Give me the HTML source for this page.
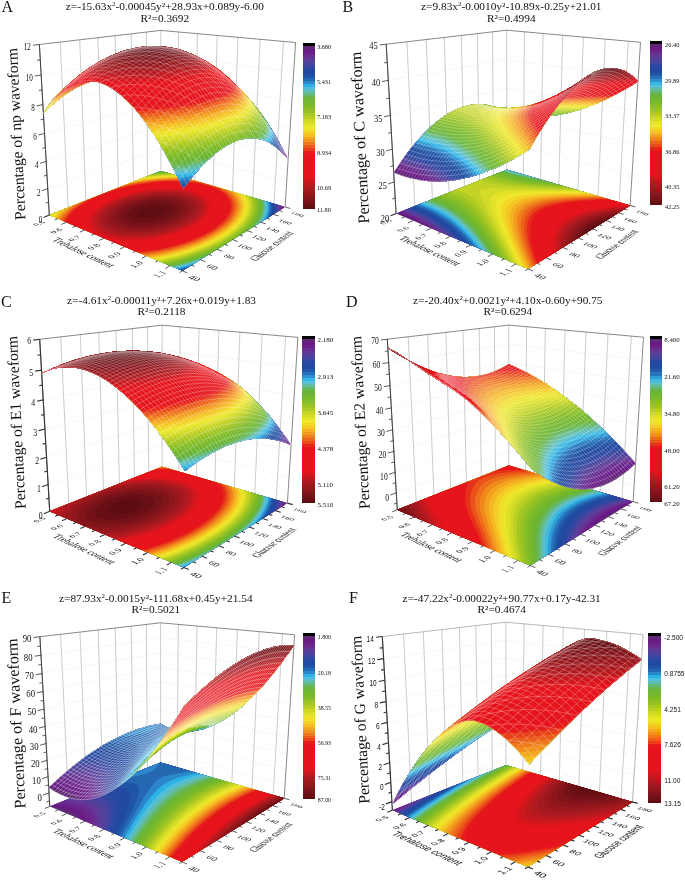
<!DOCTYPE html><html><head><meta charset="utf-8"><title>Figure</title><style>html,body{margin:0;padding:0;background:#fff}svg{display:block}text{fill:#111}.ZS{stroke:#fff;stroke-width:4;stroke-linejoin:round;stroke-linecap:round}.ZM{fill:none}.a{fill:#5f2775}.b{fill:#691b85}.c{fill:#6b238a}.d{fill:#692d8f}.e{fill:#613a97}.f{fill:#53419c}.g{fill:#4345a0}.h{fill:#3048a0}.i{fill:#2449a0}.j{fill:#204a9f}.k{fill:#2055a5}.l{fill:#2468b2}.m{fill:#2b87c9}.n{fill:#2eb2e6}.o{fill:#51beda}.p{fill:#60beb1}.q{fill:#65b977}.r{fill:#68b548}.s{fill:#6eb632}.t{fill:#75b82d}.u{fill:#7dba28}.v{fill:#8abe26}.w{fill:#99c324}.x{fill:#a7c822}.y{fill:#bacf24}.z{fill:#ccd726}.A{fill:#dbde28}.B{fill:#e9e62a}.C{fill:#f1e029}.D{fill:#f3d026}.E{fill:#f5be23}.F{fill:#f4a820}.G{fill:#f2911d}.H{fill:#ef771c}.I{fill:#ec5c1b}.J{fill:#e8411a}.K{fill:#e61b1c}.L{fill:#e6141c}.M{fill:#dc151d}.N{fill:#cc171e}.O{fill:#bc191f}.P{fill:#ae1a20}.Q{fill:#a2191f}.R{fill:#97171d}.S{fill:#8c161c}.T{fill:#80141a}.U{fill:#751217}.V{fill:#691015}.W{fill:#5e0d12}.X{fill:#5f2776}.Y{fill:#6b238b}.Z{fill:#692e90}.a1{fill:#603b97}.b1{fill:#51419c}.c1{fill:#4146a0}.d1{fill:#2d48a0}.e1{fill:#2349a0}.f1{fill:#1f4a9f}.g1{fill:#2158a7}.h1{fill:#266fb7}.i1{fill:#2c91d1}.j1{fill:#34b9e8}.k1{fill:#5cc0d4}.l1{fill:#62bda2}.m1{fill:#66b663}.n1{fill:#69b53b}.o1{fill:#70b731}.p1{fill:#78b92b}.q1{fill:#82bc27}.r1{fill:#90c025}.s1{fill:#9fc523}.t1{fill:#b0cb23}.u1{fill:#c3d325}.v1{fill:#d4db27}.w1{fill:#e3e229}.x1{fill:#efe72b}.y1{fill:#f2d727}.z1{fill:#f5c624}.A1{fill:#f4b121}.B1{fill:#f39b1e}.C1{fill:#f0801c}.D1{fill:#ed651b}.E1{fill:#e94a1a}.F1{fill:#e7261b}.G1{fill:#de151d}.H1{fill:#ce171e}.I1{fill:#be181f}.J1{fill:#a3191f}.K1{fill:#741217}.L1{fill:#680f15}.M1{fill:#5d0d12}.N1{fill:#6a1a86}.O1{fill:#6b248b}.P1{fill:#682f91}.Q1{fill:#5f3d98}.R1{fill:#4f429d}.S1{fill:#3e46a0}.T1{fill:#2b48a0}.U1{fill:#2249a0}.V1{fill:#1f4ba0}.W1{fill:#215ca9}.X1{fill:#2775bc}.Y1{fill:#2d9dd8}.Z1{fill:#3fbbe2}.a2{fill:#5ebfc5}.b2{fill:#63bb8e}.c2{fill:#67b654}.d2{fill:#6cb534}.e2{fill:#73b72f}.f2{fill:#7bba29}.g2{fill:#88be26}.h2{fill:#97c224}.i2{fill:#a6c722}.j2{fill:#b9cf24}.k2{fill:#dcdf28}.l2{fill:#eae72a}.m2{fill:#f1de29}.n2{fill:#f4cd26}.o2{fill:#f4b922}.p2{fill:#f3a31f}.q2{fill:#f18a1d}.r2{fill:#ee6f1b}.s2{fill:#ea521a}.t2{fill:#e7321b}.u2{fill:#e0151c}.v2{fill:#cf171e}.w2{fill:#bf181f}.x2{fill:#af1a20}</style></head><body><svg width="685" height="880" viewBox="0 0 685 880"><g id="pA">
<path d="M68.2,207.6 L60.2,42 M85.9,200.6 L79.7,39.8 M102.7,194 L97.9,37.7 M118.4,187.7 L115.1,35.7 M133.4,181.8 L131.2,33.8 M147.5,176.2 L146.4,32.1 M160.9,170.9 L160.8,30.4 M177.5,175.7 L178.6,32 M194.9,180.8 L197.4,33.7 M213.2,186.1 L217.2,35.5 M232.5,191.7 L238,37.4 M252.7,197.5 L260.1,39.3 M274,203.7 L283.4,41.4" stroke="#b4b4b4" stroke-width="0.7" fill="none"/>
<path d="M47.8,188.6 L160.8,148.8 L286.7,181.3 M46.2,161.4 L160.8,126.2 L288.4,155.1 M44.6,133.4 L160.8,103.1 L290.1,128.1 M42.9,104.6 L160.8,79.4 L291.9,100.4 M41.2,75 L160.8,55.2 L293.7,71.8" stroke="#e4e4e4" stroke-width="0.6" stroke-dasharray="2,2" fill="none"/>
<path d="M49.3,215.1 L39.4,44.5 L160.8,30.4 L295.6,42.5 L285.1,206.9" stroke="#555" stroke-width="0.7" fill="none"/>
<path d="M49.3,215.1 L182.4,270.8 L285.1,206.9 L160.9,170.9 Z" fill="#5f2775"/>
<g transform="scale(0.1)" fill-rule="evenodd"><path d="M493,2151l1331,557 1014,-631 0,-11-1229,-357z" fill="#691b85"/><path d="M493,2151l1331,557 1002,-623 0,-17 0,-6-1217,-353z" fill="#6b238a"/><path d="M493,2151l1331,557 990,-615 0,-28 0,-6-1205,-350z" fill="#692d8f"/><path d="M493,2151l1331,557 977,-607 1,-34-1,-12-1192,-346z" fill="#613a97"/><path d="M493,2151l1331,557 963,-599 3,-45-1,-13-1180,-342z" fill="#53419c"/><path d="M493,2151l1331,557 949,-590 4,-27 0,-31-1,-12-1167,-339z" fill="#4345a0"/><path d="M493,2151l1331,557 934,-581 6,-33 1,-31-2,-19-1154,-335z" fill="#3048a0"/><path d="M493,2151l1331,557 919,-571 8,-39 1,-34-2,-24-1141,-331z" fill="#2449a0"/><path d="M493,2151l1331,557 903,-561 10,-42 2,-44-2,-25-1128,-327z" fill="#204a9f"/><path d="M493,2151l1324,555 20,-6 873,-543 13,-50 3,-48-3,-27-1114,-323z" fill="#2055a5"/><path d="M493,2151l1311,549 59,-16 829,-516 10,-28 7,-28 4,-27 0,-25-3,-32-1101,-319z" fill="#2468b2"/><path d="M493,2151l1297,543 101,-27 782,-487 13,-31 8,-27 5,-29 1,-31-4,-38-1087,-315z" fill="#2b87c9"/><path d="M493,2151l1284,538 143,-41 732,-455 16,-32 11,-35 6,-32 2,-36-6,-38-1072,-311z" fill="#2eb2e6"/><path d="M493,2151l1270,532 97,-26 91,-28 679,-422 19,-36 16,-42 7,-37 1,-34-6,-42-1058,-307z" fill="#51beda"/><path d="M493,2151l1256,526 113,-30 123,-39 620,-386 26,-43 16,-40 10,-39 2,-44-7,-44-1043,-303z" fill="#60beb1"/><path d="M493,2151l1241,520 145,-39 142,-46 557,-347 31,-46 22,-48 12,-47 2,-44-8,-47-1027,-297z" fill="#65b977"/><path d="M493,2151l1227,514 176,-47 86,-28 79,-29 485,-302 39,-52 28,-54 15,-49 3,-50-3,-25-6,-26-1000,-290-28,2z" fill="#68b548"/><path d="M493,2151l1212,508 109,-27 98,-29 98,-33 97,-37 402,-251 48,-56 19,-29 16,-30 11,-24 9,-31 5,-30 0,-26-4,-32-7,-26-972,-281-54,4z" fill="#6eb632"/><path d="M493,2151l1198,502 116,-29 120,-36 109,-38 98,-40 30,-13 296,-185 61,-61 23,-29 23,-35 15,-31 13,-35 6,-31 2,-32-4,-32-10,-32-942,-274-81,6z" fill="#75b82d"/><path d="M493,2151l1183,495 100,-24 108,-30 99,-32 90,-34 82,-36 85,-42 137,-84 48,-37 45,-39 38,-41 27,-35 25,-41 16,-36 9,-37 3,-42-4,-34-11,-33-913,-265-109,8z" fill="#7dba28"/><path d="M493,2151l1167,489 102,-24 93,-25 87,-27 80,-29 86,-35 78,-36 71,-36 63,-38 57,-39 56,-45 42,-40 38,-46 28,-42 19,-42 11,-42 2,-39-5,-38-12,-33-883,-256-137,10z" fill="#8abe26"/><path d="M493,2151l1152,483 90,-21 91,-24 88,-26 94,-33 87,-35 78,-35 71,-37 63,-38 57,-38 56,-45 42,-40 34,-41 28,-41 21,-46 10,-39 3,-42-6,-37-14,-37-851,-247-14,1-153,11z" fill="#99c324"/><path d="M493,2151l1136,476 97,-21 85,-22 89,-27 95,-32 86,-35 79,-35 71,-37 63,-37 57,-39 56,-45 41,-39 35,-41 27,-41 20,-42 10,-40 3,-41-7,-39-16,-41-818,-237-32,2-166,13z" fill="#a7c822"/><path d="M493,2151l1120,469 87,-18 96,-24 89,-27 91,-30 80,-31 79,-35 73,-36 64,-38 58,-38 57,-44 43,-40 35,-40 28,-42 20,-42 12,-42 2,-38-2,-23-6,-23-18,-41-784,-227-49,2-90,5-92,10z" fill="#bacf24"/><path d="M493,2151l1104,462 104,-22 85,-21 85,-24 95,-32 76,-29 80,-35 72,-36 65,-37 58,-38 57,-45 42,-40 35,-40 28,-41 20,-42 10,-40 2,-41-9,-45-21,-43-748,-217-66,3-93,6-106,11z" fill="#ccd726"/><path d="M500,2154l1080,452 105,-21 93,-23 92,-27 82,-27 76,-28 80,-35 73,-36 65,-37 57,-38 57,-44 43,-40 34,-40 28,-42 19,-41 9,-38 2,-37-2,-22-7,-25-10,-23-15,-26-711,-206-97,3-106,8-98,11-942,373z" fill="#dbde28"/><path d="M535,2134l-23,25 1051,440 97,-19 90,-21 91,-25 83,-27 85,-31 74,-31 74,-36 66,-37 59,-37 58,-44 43,-40 36,-40 28,-41 20,-42 10,-39 2,-36-3,-26-8,-27-13,-26-16,-24-671,-195-112,3-114,9-113,13z" fill="#e9e62a"/><path d="M565,2123l-40,41 1020,428 90,-17 91,-21 85,-22 85,-26 78,-28 83,-34 76,-35 67,-36 60,-38 59,-44 44,-39 37,-40 29,-41 18,-36 13,-43 2,-38-3,-26-10,-32-15,-29-18,-24-629,-182-137,3-118,9-124,16z" fill="#f1e029"/><path d="M538,2170l989,414 91,-16 100,-22 81,-21 89,-27 84,-30 71,-29 75,-35 68,-36 60,-38 56,-40 47,-43 36,-40 29,-41 20,-42 10,-37 1,-38-5,-29-11,-31-17,-28-20,-25-584,-169-93,0-89,4-120,10-121,17-790,312-27,26z" fill="#f3d026"/><path d="M587,2135l-36,40 958,401 102,-17 90,-20 93,-24 85,-25 78,-28 83,-33 64,-30 68,-36 60,-37 52,-39 45,-39 37,-40 29,-41 21,-41 10,-39 2,-37-5,-30-12,-31-17,-29-28,-31-535,-155-99,-2-114,5-128,12-130,19-732,290z" fill="#f5be23"/><path d="M565,2181l925,388 92,-15 93,-19 88,-22 86,-25 81,-27 83,-33 76,-35 68,-35 60,-37 53,-39 44,-39 37,-40 29,-40 19,-40 10,-40 1,-37-7,-34-13,-30-24,-33-29,-29-482,-139-121,-3-141,6-130,14-131,21-669,265-57,50z" fill="#f4a820"/><path d="M607,2153l-27,34 890,373 94,-14 86,-17 95,-22 88,-25 80,-27 77,-29 74,-33 69,-36 61,-36 54,-38 45,-39 38,-40 30,-41 19,-40 11,-39 1,-37-7,-35-18,-37-25,-31-37,-33-421,-122-72,-4-76,-1-141,6-145,15-148,26-601,238-66,55z" fill="#f2911d"/><path d="M627,2152l-31,42 854,358 88,-13 96,-17 95,-22 88,-25 80,-26 86,-32 66,-30 69,-35 61,-36 54,-38 45,-39 38,-40 29,-41 17,-36 10,-37 2,-38-10,-41-20,-37-32,-36-44,-33-351,-101-76,-6-88,-3-84,2-92,5-157,19-153,29-523,207-45,32-41,36z" fill="#ef771c"/><path d="M612,2201l817,342 97,-13 88,-16 88,-19 84,-22 86,-27 83,-30 68,-29 70,-35 63,-37 54,-37 47,-39 38,-39 30,-41 18,-36 10,-37 2,-38-5,-26-8,-23-12,-22-15,-19-20,-21-22,-18-51,-32-262,-76-25,-3-93,-8-89,-3-99,2-93,6-84,9-83,12-91,17-78,18-432,171-59,40-49,41-43,45z" fill="#ec5c1b"/><path d="M647,2178l-18,30 778,326 98,-12 90,-15 83,-18 91,-23 82,-25 76,-27 77,-32 64,-31 64,-36 55,-37 48,-38 39,-40 30,-40 19,-36 11,-38 2,-38-6,-27-11,-29-15,-22-20,-23-24,-21-36,-24-34,-19-41,-17-121,-35-69,-12-76,-9-77,-5-84,-2-82,3-81,5-94,11-99,16-97,19-88,23-326,128-71,43-66,49-50,50z" fill="#e8411a"/><path d="M668,2177l-21,38 737,309 21,-2 80,-9 91,-14 88,-18 87,-22 83,-24 76,-27 70,-28 72,-34 55,-31 57,-37 48,-38 40,-39 32,-41 19,-36 11,-37 2,-39-6,-27-12,-29-17,-25-29,-29-34,-25-39,-22-43,-19-47,-16-63,-17-56,-11-62,-8-66,-6-136,-4-80,3-76,6-156,20-78,15-79,18-76,21-72,23-132,51-55,26-50,28-48,29-44,33-35,29-33,34z" fill="#e61b1c"/><path d="M685,2184l-19,39 694,291 63,-5 82,-10 92,-16 90,-19 75,-20 81,-25 74,-26 68,-29 60,-29 55,-31 55,-37 47,-38 34,-34 28,-37 21,-40 10,-37 0,-33-5,-27-13,-29-22,-30-23,-22-35,-25-39,-22-44,-18-48,-16-53,-14-57,-11-62,-8-67,-6-138,-3-152,10-146,20-153,32-137,41-124,48-62,30-51,28-47,29-44,33-36,32-27,29z" fill="#e6141c"/><path d="M703,2192l-16,40 648,272 105,-9 76,-10 82,-14 86,-18 73,-20 81,-25 74,-26 66,-29 60,-29 53,-31 54,-36 40,-34 33,-34 27,-34 19,-36 10,-37 1,-34-7,-29-13,-27-21,-28-23,-22-35,-25-40,-21-45,-18-49,-16-54,-13-58,-10-63,-8-70,-5-76,-2-67,2-138,10-148,22-139,31-135,42-68,26-55,24-61,31-49,28-45,31-35,28-33,31-27,33z" fill="#e6141c"/><path d="M709,2241l599,251 88,-5 79,-8 73,-11 85,-16 77,-18 71,-20 65,-21 71,-27 65,-29 58,-29 51,-31 45,-32 38,-33 32,-34 21,-31 17,-35 8,-31 1,-36-6,-24-15,-30-19,-25-31,-27-31,-21-38,-19-45,-18-51,-15-54,-13-60,-9-65,-7-71,-4-133,1-148,13-140,23-70,15-77,21-73,23-59,21-109,48-51,28-47,30-44,32-33,29-29,32-20,28-15,31z" fill="#e6141c"/><path d="M741,2211l-8,41 546,228 101,-4 104,-11 77,-12 76,-15 138,-35 73,-24 63,-24 53,-24 58,-30 51,-30 43,-31 36,-30 30,-33 25,-35 15,-30 8,-31 1,-33-7,-28-13,-26-20,-25-24,-22-31,-22-38,-19-45,-18-50,-15-55,-13-60,-10-124,-10-132,1-143,13-140,23-136,33-63,20-69,25-110,48-50,28-47,30-36,27-33,29-28,32-22,33z" fill="#e6141c"/><path d="M763,2227l-2,36 486,204 117,-3 139,-14 139,-25 72,-18 68,-20 121,-44 53,-23 57,-30 50,-31 37,-26 38,-33 26,-29 20,-29 15,-30 9,-33 0,-32-8,-29-16,-28-21,-24-26,-21-29,-19-42,-20-38,-14-51,-15-56,-12-53,-8-63,-6-64,-3-76,0-68,3-136,14-145,27-132,36-118,43-55,24-51,27-48,29-37,26-34,29-30,31-24,31-16,31z" fill="#e6141c"/><path d="M788,2241l4,35 418,175 78,2 78,-3 74,-6 93,-12 81,-15 64,-14 123,-36 61,-22 55,-23 50,-24 45,-25 48,-31 34,-27 30,-27 25,-29 18,-29 11,-26 7,-31-1,-27-8,-25-15,-28-21,-24-26,-21-31,-19-42,-20-38,-13-52,-14-58,-12-51,-6-68,-6-62,-2-125,4-143,16-135,27-131,36-60,22-56,23-54,25-50,28-39,25-37,29-31,27-27,33-18,28-13,31z" fill="#e6141c"/><path d="M825,2280l5,12 337,141 86,5 96,-1 103,-8 109,-15 125,-27 120,-36 102,-40 49,-24 44,-25 40,-26 34,-27 29,-28 24,-29 18,-29 9,-25 5,-26-2,-27-9,-28-15,-25-25,-25-27,-20-32,-18-44,-19-50,-15-45,-11-60,-9-54,-6-122,-4-132,7-133,18-131,29-65,19-61,21-58,22-54,25-43,23-47,29-37,26-33,29-22,25-23,33-13,30-6,27 1,25z" fill="#e6141c"/><path d="M869,2299l13,15 229,96 35,5 107,8 108,-1 119,-10 123,-20 117,-28 102,-33 96,-42 80,-44 30,-21 33,-27 28,-29 21,-27 13,-26 9,-25 2,-20-2,-27-8,-23-17,-26-23,-23-27,-20-32,-18-46,-18-41,-12-56,-13-62,-9-56,-5-61,-2-67,1-127,10-132,21-126,31-63,20-59,22-55,24-43,22-49,29-36,26-34,28-28,32-19,27-13,30-5,27 1,24 7,25z" fill="#e6141c"/><path d="M941,2329l27,16 30,14 71,24 88,16 87,8 100,1 110,-7 107,-15 109,-23 94,-27 93,-35 78,-38 72,-47 50,-43 19,-23 15,-24 9,-19 6,-25 1,-20-3,-21-9,-23-19,-26-24,-22-30,-19-33,-17-48,-17-54,-14-48,-8-52,-6-62,-4-61,-1-72,3-133,14-63,11-72,16-119,34-59,23-56,24-51,27-39,24-36,27-32,29-22,25-19,31-11,29-3,26 5,29 11,24 21,26z" fill="#dc151d"/><path d="M991,2330l56,25 78,21 77,11 86,6 94,-2 99,-8 103,-16 90,-21 92,-27 90,-35 67,-34 63,-41 43,-38 20,-23 13,-21 10,-21 6,-19 1,-20-3,-22-8,-23-19,-25-24,-22-30,-19-34,-16-39,-14-54,-14-49,-8-53,-6-69,-4-58,1-68,3-130,16-63,12-66,15-59,17-61,21-57,24-45,21-49,28-37,25-34,29-23,24-19,27-13,29-5,27 1,24 9,25 16,25 26,24z" fill="#cc171e"/><path d="M1001,2305l23,14 30,14 59,19 71,15 85,8 98,1 93,-6 97,-14 92,-19 93,-27 81,-30 68,-33 65,-40 44,-38 15,-18 17,-23 9,-19 7,-22 2,-19-3,-18-8,-23-18,-25-22,-20-25,-16-34,-17-38,-13-44,-12-48,-9-96,-9-119,1-118,12-66,11-61,13-110,32-59,22-46,21-43,22-39,24-36,27-25,23-22,25-16,28-8,23-3,25 4,23 10,22 20,25z" fill="#bc191f"/><path d="M1024,2286l21,14 28,14 57,20 69,15 74,8 87,2 90,-5 79,-9 95,-18 81,-22 83,-29 71,-32 66,-40 45,-38 28,-35 10,-18 7,-19 3,-20-2,-21-7,-19-13,-20-19,-19-25,-18-25,-13-37,-15-42,-12-48,-9-96,-10-109,0-108,11-116,21-101,28-98,38-76,41-37,25-26,23-23,24-15,22-10,21-6,27 2,25 8,22 14,20z" fill="#ae1a20"/><path d="M1103,2299l46,17 68,15 64,8 75,2 82,-3 82,-9 88,-16 70,-18 73,-24 63,-27 54,-29 45,-31 36,-33 24,-35 10,-33 0,-18-3,-16-10,-21-16,-19-19,-16-32,-18-27,-11-41,-13-85,-16-100,-5-105,4-113,16-108,25-53,17-50,19-79,39-60,41-25,23-20,25-13,24-6,20-1,24 7,23 12,20 18,19 23,16z" fill="#a2191f"/><path d="M1096,2259l43,25 44,16 69,14 66,7 77,1 68,-4 80,-11 78,-16 79,-22 67,-25 58,-28 47,-31 38,-32 26,-35 10,-32-1,-29-6,-15-13,-19-18,-17-22,-14-55,-23-69,-16-83,-9-85,0-108,11-92,17-90,25-79,30-68,36-29,21-27,22-21,25-13,20-7,21-3,18 3,19 8,18 11,16z" fill="#97171d"/><path d="M1148,2252l38,19 47,15 57,10 51,4 72,1 60,-4 69,-9 74,-16 65,-18 67,-25 47,-24 47,-30 31,-27 22,-29 6,-13 5,-19-2,-27-8,-19-13,-14-18,-15-17,-11-26,-12-30,-10-72,-14-79,-6-87,3-79,9-89,18-77,24-77,32-56,33-28,22-16,16-11,14-12,20-6,19-1,21 6,19 8,14 11,13z" fill="#8c161c"/><path d="M1186,2231l30,17 45,15 40,9 50,5 53,2 65,-3 65,-9 60,-11 53,-14 58,-21 49,-22 41,-25 33,-27 19,-23 12,-25 2,-13 0,-15-5,-14-8,-13-17,-17-15,-10-46,-20-58,-13-71,-7-71,1-75,7-79,15-69,19-69,27-52,29-27,19-17,16-12,14-12,20-5,14-2,16 2,15 6,14 10,13z" fill="#80141a"/><path d="M1251,2221l32,14 37,9 45,6 37,3 57,-2 48,-4 58,-10 43,-10 48,-15 42,-17 36,-19 30,-20 24,-22 16,-24 5,-20-2,-18-6,-14-11,-12-29,-20-39,-15-49,-9-59,-5-75,3-60,7-64,14-55,17-58,24-47,29-30,29-15,27-3,15 1,11 5,14 10,13z" fill="#751217"/><path d="M1293,2186l24,15 21,8 38,8 31,4 79,-1 42,-5 43,-9 72,-23 29,-13 32,-20 19,-16 14,-17 6,-13 1,-19-4,-11-6,-9-21,-16-27,-12-35,-9-42,-5-53,0-43,4-54,9-47,13-42,15-43,22-26,20-20,25-5,20 2,15z" fill="#691015"/><path d="M1377,2151l9,9 17,9 39,8 52,1 48,-7 48,-14 35,-19 14,-11 9,-11 4,-12-1,-9-6,-10-10,-8-18,-8-23,-6-48,-3-60,7-47,14-28,12-15,10-13,11-8,13-3,13z" fill="#5e0d12"/></g>
<path d="M49.3,215.1 L44.2,217.1 M57.8,218.7 L54.7,219.9 M66.5,222.3 L61.4,224.4 M75.5,226.1 L72.5,227.4 M84.7,229.9 L79.7,232.2 M94.3,233.9 L91.3,235.3 M104.1,238.1 L99.1,240.4 M114.2,242.3 L111.3,243.8 M124.7,246.7 L119.8,249.2 M135.5,251.2 L132.6,252.7 M146.6,255.9 L141.8,258.5 M158.1,260.7 L155.3,262.3 M170.1,265.7 L165.3,268.5 M182.4,270.8 L179.6,272.6 M182.4,270.8 L187.4,273 M191.5,265.1 L194.6,266.4 M200.3,259.7 L205.5,261.7 M208.8,254.4 L211.9,255.6 M217,249.3 L222.2,251.2 M224.9,244.4 L228,245.5 M232.5,239.6 L237.7,241.5 M239.9,235.1 L243,236.1 M247,230.6 L252.2,232.4 M253.9,226.4 L257,227.4 M260.5,222.2 L265.8,223.9 M267,218.2 L270.1,219.2 M273.2,214.3 L278.5,215.9 M279.3,210.6 L282.4,211.5 M285.1,206.9 L290.4,208.5 M49.3,215.1 L43.4,217.5 M48.6,201.9 L45.6,203.1 M47.8,188.6 L41.7,190.7 M47,175.1 L43.9,176.1 M46.2,161.4 L40.1,163.3 M45.4,147.5 L42.3,148.4 M44.6,133.4 L38.4,135 M43.7,119.1 L40.6,119.8 M42.9,104.6 L36.6,105.9 M42,89.9 L38.9,90.5 M41.2,75 L34.8,76 M40.3,59.8 L37.1,60.3 M39.4,44.5 L33,45.2" stroke="#333" stroke-width="0.8" fill="none"/>
<path d="M49.3,215.1 L39.4,44.5" stroke="#333" stroke-width="0.8" fill="none"/>
<g transform="scale(0.1)" fill-rule="evenodd"><path class=a d="M1472,465l3,-3 127,0 3,3 60,3 3,4 40,3 4,3 13,0 17,7 40,7 13,6 10,0 70,24 50,23 7,0 116,60 70,43 117,87 73,63 134,134 140,166 73,100 73,114 7,16 37,57 40,77 6,6 0,7 7,7 23,50 7,6 27,57-34,-40-86,-83-54,-37-53,-27-7,0-30,-13-40,-7-3,-3-17,0-3,-3-80,0-3,3-20,0-4,3-43,7-40,13-10,7-7,0-16,10-7,0-63,33-84,57-56,47-37,36-3,0-74,74-30,36-6,4-84,100-6,13-37,43-7,14-6,3-97,-200-7,-7-70,-136-40,-64-20,-40-30,-43-6,-17-114,-166-106,-134-60,-63-20,-17-4,-6-86,-74-37,-23-10,-10-33,-17-7,-6-73,-34-30,-6-14,-7-13,0-3,-3-30,0-77,26-97,47-113,73-97,77-103,97 47,-74 46,-60 100,-103 137,-120 73,-57 77,-53 10,-3 60,-40 80,-40 7,-7 6,0 37,-20 7,0 16,-10 7,0 43,-20 80,-27 64,-13 3,-3 30,-4 3,-3 17,0 3,-3 20,0 4,-4 23,0 3,-3z"/><path class=b d="M1472,465l3,-3 127,0 3,3 33,0 4,3 23,0 3,4 20,0 4,3 33,3 3,4 27,3 3,3 10,0 27,10 20,4 60,20 27,13 6,0 117,57 7,6 16,7 50,33 10,4 94,66 106,90 134,134 140,166 73,100 73,114 7,16 37,57 40,77 6,6 0,7 7,7 23,50 7,6 13,27 3,13-3,3-20,-26-86,-83-54,-37-70,-33-30,-7-3,-3-10,0-3,-4-34,-3-3,-3-80,0-3,3-20,0-4,3-43,7-40,13-10,7-7,0-16,10-7,0-63,33-84,57-56,47-37,36-3,0-74,74-30,36-6,4-84,100-6,13-37,43-7,14-6,3-97,-200-7,-7-70,-136-40,-64-20,-40-30,-43-6,-17-114,-166-106,-134-60,-63-20,-17-4,-6-86,-74-37,-23-10,-10-33,-17-7,-6-73,-34-30,-6-14,-7-13,0-3,-3-30,0-77,26-97,47-113,73-97,77-103,97 47,-74 46,-60 100,-103 137,-120 73,-57 77,-53 10,-3 60,-40 80,-40 7,-7 6,0 37,-20 7,0 16,-10 7,0 43,-20 80,-27 64,-13 3,-3 30,-4 3,-3 17,0 3,-3 20,0 4,-4 23,0 3,-3z"/><path class=c d="M1472,465l3,-3 127,0 3,3 33,0 4,3 23,0 3,4 20,0 4,3 33,3 3,4 27,3 3,3 10,0 27,10 20,4 60,20 27,13 6,0 117,57 7,6 16,7 50,33 10,4 94,66 106,90 134,134 140,166 73,100 23,40 10,10 4,10 20,27 43,77 17,23 40,77 6,6 0,7 7,7 23,50 10,13 0,23-76,-80-20,-16-54,-37-70,-33-30,-7-3,-3-10,0-3,-4-34,-3-3,-3-80,0-3,3-20,0-4,3-43,7-40,13-10,7-7,0-16,10-7,0-63,33-84,57-56,47-37,36-3,0-74,74-30,36-6,4-84,100-6,13-37,43-7,14-6,3-97,-200-7,-7-70,-136-40,-64-20,-40-30,-43-6,-17-114,-166-106,-134-60,-63-20,-17-4,-6-86,-74-37,-23-10,-10-33,-17-7,-6-73,-34-30,-6-14,-7-13,0-3,-3-30,0-77,26-97,47-113,73-97,77-103,97 47,-74 46,-60 100,-103 137,-120 73,-57 77,-53 10,-3 60,-40 80,-40 7,-7 6,0 37,-20 7,0 16,-10 7,0 43,-20 80,-27 64,-13 3,-3 30,-4 3,-3 17,0 3,-3 20,0 4,-4 23,0 3,-3z"/><path class=d d="M1472,465l3,-3 127,0 3,3 33,0 4,3 23,0 3,4 20,0 4,3 33,3 3,4 27,3 3,3 10,0 27,10 20,4 60,20 27,13 6,0 117,57 7,6 16,7 50,33 10,4 94,66 106,90 134,134 140,166 73,100 23,40 10,10 4,10 20,27 43,77 17,23 76,143 0,27-66,-67-34,-26-40,-27-70,-33-30,-7-3,-3-10,0-3,-4-34,-3-3,-3-80,0-3,3-20,0-4,3-43,7-40,13-10,7-7,0-16,10-7,0-63,33-84,57-56,47-37,36-3,0-74,74-30,36-6,4-84,100-6,13-37,43-7,14-6,3-97,-200-7,-7-70,-136-40,-64-20,-40-30,-43-6,-17-114,-166-106,-134-60,-63-20,-17-4,-6-86,-74-37,-23-10,-10-33,-17-7,-6-73,-34-30,-6-14,-7-13,0-3,-3-30,0-77,26-97,47-113,73-97,77-103,97 47,-74 46,-60 100,-103 137,-120 73,-57 77,-53 10,-3 60,-40 80,-40 7,-7 6,0 37,-20 7,0 16,-10 7,0 43,-20 80,-27 64,-13 3,-3 30,-4 3,-3 17,0 3,-3 20,0 4,-4 23,0 3,-3z"/><path class=e d="M1472,465l3,-3 127,0 3,3 33,0 4,3 23,0 3,4 20,0 4,3 33,3 3,4 27,3 3,3 10,0 27,10 20,4 60,20 27,13 6,0 117,57 7,6 16,7 50,33 10,4 94,66 106,90 134,134 140,166 73,100 23,40 10,10 4,10 20,27 43,77 17,23 63,117 3,16-3,23-53,-53-34,-26-40,-27-53,-27-7,0-30,-13-40,-7-3,-3-17,0-3,-3-80,0-3,3-20,0-20,7-14,0-53,16-33,17-7,0-63,33-84,57-56,47-37,36-3,0-74,74-30,36-6,4-84,100-6,13-37,43-7,14-6,3-97,-200-7,-7-70,-136-40,-64-20,-40-30,-43-6,-17-114,-166-106,-134-60,-63-20,-17-4,-6-86,-74-37,-23-10,-10-33,-17-7,-6-73,-34-30,-6-14,-7-13,0-3,-3-30,0-77,26-97,47-113,73-97,77-103,97 47,-74 46,-60 100,-103 137,-120 73,-57 77,-53 10,-3 60,-40 80,-40 7,-7 6,0 37,-20 7,0 16,-10 7,0 43,-20 80,-27 64,-13 3,-3 30,-4 3,-3 17,0 3,-3 20,0 4,-4 23,0 3,-3z"/><path class=f d="M1472,465l3,-3 127,0 3,3 33,0 4,3 23,0 3,4 20,0 4,3 33,3 3,4 27,3 3,3 10,0 27,10 20,4 60,20 27,13 6,0 117,57 7,6 16,7 50,33 10,4 94,66 106,90 134,134 140,166 73,100 23,40 10,10 4,10 36,54 7,16 50,80 27,54 6,6 0,7 7,7 1,33-4,13-60,-56-54,-37-53,-27-7,0-30,-13-40,-7-3,-3-17,0-3,-3-80,0-3,3-20,0-20,7-14,0-53,16-33,17-7,0-63,33-84,57-56,47-37,36-3,0-74,74-30,36-6,4-84,100-6,13-37,43-7,14-6,3-97,-200-7,-7-70,-136-40,-64-20,-40-30,-43-6,-17-114,-166-106,-134-60,-63-20,-17-4,-6-86,-74-37,-23-10,-10-33,-17-7,-6-73,-34-30,-6-14,-7-13,0-3,-3-30,0-77,26-97,47-113,73-97,77-103,97 47,-74 46,-60 100,-103 137,-120 73,-57 77,-53 10,-3 60,-40 80,-40 7,-7 6,0 37,-20 7,0 16,-10 7,0 43,-20 80,-27 64,-13 3,-3 30,-4 3,-3 17,0 3,-3 20,0 4,-4 23,0 3,-3z"/><path class=g d="M1472,465l3,-3 127,0 3,3 33,0 4,3 23,0 3,4 20,0 4,3 33,3 3,4 27,3 3,3 10,0 27,10 20,4 60,20 27,13 6,0 117,57 7,6 16,7 50,33 10,4 94,66 106,90 134,134 140,166 73,100 23,40 10,10 4,10 20,27 43,77 17,23 23,47 7,6 10,20 2,14-1,26-4,17-47,-43-54,-37-53,-27-63,-20-34,-3-3,-3-80,0-3,3-20,0-20,7-14,0-53,16-33,17-7,0-63,33-84,57-56,47-37,36-3,0-74,74-30,36-6,4-84,100-6,13-37,43-7,14-6,3-97,-200-7,-7-70,-136-40,-64-20,-40-30,-43-6,-17-114,-166-106,-134-60,-63-20,-17-4,-6-86,-74-37,-23-10,-10-33,-17-7,-6-73,-34-30,-6-14,-7-13,0-3,-3-30,0-77,26-97,47-113,73-97,77-103,97 47,-74 46,-60 100,-103 137,-120 73,-57 77,-53 10,-3 60,-40 80,-40 7,-7 6,0 37,-20 7,0 16,-10 7,0 43,-20 80,-27 64,-13 3,-3 30,-4 3,-3 17,0 3,-3 20,0 4,-4 23,0 3,-3z"/><path class=h d="M1472,465l3,-3 127,0 3,3 33,0 4,3 23,0 3,4 20,0 4,3 33,3 3,4 27,3 3,3 10,0 27,10 20,4 60,20 27,13 6,0 117,57 7,6 16,7 50,33 10,4 94,66 106,90 134,134 86,100 94,120 90,133 89,153 2,30-7,34-34,-30-54,-37-53,-27-63,-20-34,-3-3,-3-80,0-3,3-20,0-20,7-14,0-53,16-33,17-7,0-63,33-84,57-56,47-37,36-3,0-74,74-30,36-6,4-84,100-6,13-37,43-7,14-6,3-97,-200-7,-7-70,-136-40,-64-20,-40-30,-43-6,-17-114,-166-106,-134-60,-63-20,-17-4,-6-86,-74-37,-23-10,-10-33,-17-7,-6-73,-34-30,-6-14,-7-13,0-3,-3-30,0-77,26-97,47-113,73-97,77-103,97 47,-74 46,-60 100,-103 137,-120 73,-57 77,-53 10,-3 60,-40 80,-40 7,-7 6,0 37,-20 7,0 16,-10 7,0 43,-20 80,-27 64,-13 3,-3 30,-4 3,-3 17,0 3,-3 20,0 4,-4 23,0 3,-3z"/><path class=i d="M1472,465l3,-3 127,0 3,3 33,0 4,3 23,0 3,4 20,0 4,3 33,3 3,4 27,3 3,3 10,0 27,10 20,4 60,20 27,13 6,0 117,57 7,6 16,7 50,33 10,4 94,66 106,90 134,134 86,100 94,120 90,133 3,10 13,17 7,16 53,87 2,33-8,41-74,-54-70,-33-30,-7-3,-3-10,0-3,-4-14,0-3,-3-17,0-3,-3-80,0-3,3-20,0-4,3-43,7-40,13-10,7-7,0-63,30-60,40-10,3-93,74-37,36-3,0-74,74-30,36-6,4-84,100-6,13-37,43-7,14-6,3-97,-200-7,-7-70,-136-40,-64-20,-40-30,-43-6,-17-114,-166-106,-134-60,-63-20,-17-4,-6-86,-74-37,-23-10,-10-33,-17-7,-6-73,-34-30,-6-14,-7-13,0-3,-3-30,0-77,26-97,47-113,73-97,77-103,97 47,-74 46,-60 100,-103 137,-120 73,-57 77,-53 10,-3 60,-40 80,-40 7,-7 6,0 37,-20 7,0 16,-10 7,0 43,-20 80,-27 64,-13 3,-3 30,-4 3,-3 17,0 3,-3 20,0 4,-4 23,0 3,-3z"/><path class=j d="M1472,465l3,-3 127,0 3,3 33,0 4,3 23,0 3,4 20,0 4,3 33,3 3,4 27,3 3,3 10,0 27,10 20,4 60,20 27,13 6,0 117,57 7,6 16,7 50,33 10,4 94,66 106,90 134,134 86,100 94,120 53,76 3,10 10,10 4,10 36,54 7,16 40,64 3,40-11,45-59,-42-53,-27-7,0-30,-13-40,-7-3,-3-17,0-3,-3-80,0-3,3-20,0-4,3-43,7-40,13-10,7-7,0-16,10-7,0-63,33-37,27-10,3-53,40-80,70-74,74-30,36-6,4-84,100-6,13-37,43-7,14-6,3-97,-200-7,-7-70,-136-40,-64-20,-40-30,-43-6,-17-114,-166-106,-134-60,-63-20,-17-4,-6-86,-74-37,-23-10,-10-33,-17-7,-6-73,-34-30,-6-14,-7-13,0-3,-3-30,0-77,26-97,47-113,73-97,77-103,97 47,-74 46,-60 100,-103 137,-120 73,-57 77,-53 10,-3 60,-40 80,-40 7,-7 6,0 37,-20 7,0 16,-10 7,0 43,-20 80,-27 64,-13 3,-3 30,-4 3,-3 17,0 3,-3 20,0 4,-4 23,0 3,-3z"/><path class=k d="M1472,465l3,-3 127,0 3,3 33,0 4,3 23,0 3,4 20,0 4,3 33,3 3,4 27,3 3,3 10,0 27,10 20,4 60,20 27,13 6,0 117,57 7,6 16,7 50,33 10,4 94,66 106,90 134,134 86,100 94,120 53,76 3,10 10,10 4,10 20,27 43,77 7,6 4,40-5,27-10,29-43,-29-53,-27-7,0-30,-13-40,-7-3,-3-17,0-3,-3-80,0-3,3-20,0-4,3-43,7-40,13-10,7-7,0-16,10-7,0-63,33-37,27-10,3-93,74-37,36-3,0-74,74-30,36-6,4-84,100-6,13-37,44-20,3-20,-40 0,-7-70,-140-7,-7-70,-136-40,-64-20,-40-30,-43-6,-17-114,-166-106,-134-60,-63-20,-17-4,-6-86,-74-37,-23-10,-10-33,-17-7,-6-73,-34-30,-6-14,-7-13,0-3,-3-30,0-77,26-97,47-113,73-97,77-103,97 47,-74 46,-60 100,-103 137,-120 73,-57 77,-53 10,-3 60,-40 80,-40 7,-7 6,0 37,-20 7,0 16,-10 7,0 43,-20 80,-27 64,-13 3,-3 30,-4 3,-3 17,0 3,-3 20,0 4,-4 23,0 3,-3z"/><path class=l d="M1472,465l3,-3 127,0 3,3 33,0 4,3 23,0 3,4 20,0 4,3 33,3 3,4 27,3 3,3 10,0 27,10 20,4 60,20 27,13 6,0 117,57 7,6 16,7 50,33 10,4 94,66 106,90 134,134 126,150 87,116 95,152 4,25-2,27-7,23-13,27-24,-17-70,-33-30,-7-3,-3-10,0-3,-4-34,-3-3,-3-80,0-3,3-20,0-4,3-43,7-40,13-10,7-7,0-63,30-60,40-10,3-93,74-37,36-3,0-74,74-30,36-6,4-84,100-12,19-64,13-77,-159-7,-7-70,-136-40,-64-20,-40-30,-43-6,-17-114,-166-106,-134-60,-63-20,-17-4,-6-86,-74-37,-23-10,-10-33,-17-7,-6-73,-34-30,-6-14,-7-13,0-3,-3-30,0-77,26-97,47-113,73-97,77-103,97 47,-74 46,-60 100,-103 137,-120 73,-57 77,-53 10,-3 60,-40 80,-40 7,-7 6,0 37,-20 7,0 16,-10 7,0 43,-20 80,-27 64,-13 3,-3 30,-4 3,-3 17,0 3,-3 20,0 4,-4 23,0 3,-3z"/><path class=m d="M1472,465l3,-3 127,0 3,3 33,0 4,3 23,0 3,4 20,0 4,3 33,3 3,4 27,3 3,3 10,0 27,10 20,4 60,20 27,13 6,0 117,57 7,6 16,7 50,33 10,4 94,66 106,90 134,134 126,150 87,116 73,114 10,19 2,44-12,39-13,24-77,-36-30,-7-3,-3-10,0-3,-4-34,-3-3,-3-80,0-3,3-20,0-4,3-43,7-40,13-10,7-7,0-63,30-60,40-10,3-93,74-114,110 0,3-56,60-47,59-107,19-123,-241-7,-7-10,-23-16,-24-17,-33-7,-7-10,-23-40,-60-6,-17-27,-36-3,-10-84,-120-106,-134-60,-63-20,-17-4,-6-86,-74-37,-23-10,-10-33,-17-7,-6-73,-34-30,-6-14,-7-13,0-3,-3-30,0-77,26-97,47-113,73-97,77-103,97 47,-74 46,-60 100,-103 137,-120 73,-57 77,-53 10,-3 60,-40 80,-40 7,-7 6,0 37,-20 7,0 16,-10 7,0 43,-20 80,-27 64,-13 3,-3 30,-4 3,-3 17,0 3,-3 20,0 4,-4 23,0 3,-3z"/><path class=n d="M1472,465l3,-3 127,0 3,3 33,0 4,3 23,0 3,4 20,0 4,3 33,3 3,4 27,3 3,3 10,0 27,10 20,4 60,20 27,13 6,0 117,57 7,6 16,7 50,33 10,4 94,66 106,90 134,134 126,150 87,116 67,104 5,20 1,23-5,27-11,29-17,26-3,1-37,-20-7,0-30,-13-40,-7-3,-3-17,0-3,-3-80,0-3,3-20,0-20,7-14,0-53,16-33,17-7,0-63,33-100,70-80,70-70,70-77,87-150,31-110,-214-7,-7-10,-23-16,-24-17,-33-7,-7-20,-40-30,-43-6,-17-27,-36-3,-10-30,-40-4,-10-20,-24-3,-10-70,-93-63,-77-44,-43 0,-3-73,-70-100,-77-80,-43-77,-27-46,-3-60,20-34,16-6,0-97,50-90,60-97,77-103,97 47,-74 46,-60 100,-103 137,-120 73,-57 77,-53 10,-3 60,-40 80,-40 7,-7 6,0 37,-20 7,0 16,-10 7,0 43,-20 80,-27 64,-13 3,-3 30,-4 3,-3 17,0 3,-3 20,0 4,-4 23,0 3,-3z"/><path class=o d="M1472,465l3,-3 127,0 3,3 33,0 4,3 23,0 3,4 20,0 4,3 33,3 3,4 27,3 3,3 10,0 27,10 20,4 60,20 27,13 6,0 117,57 7,6 16,7 50,33 10,4 94,66 106,90 134,134 126,150 87,116 23,40 10,10 4,10 13,17 9,27 1,26-5,24-26,50-13,16-33,-16-30,-7-3,-3-10,0-3,-4-14,0-3,-3-17,0-3,-3-80,0-3,3-20,0-20,7-14,0-53,16-33,17-7,0-63,33-84,57-96,83-74,74-39,46-200,38-94,-184-7,-7-10,-23-16,-24-17,-33-7,-7-20,-40-30,-43-6,-17-27,-36-3,-10-30,-40-4,-10-20,-24-3,-10-70,-93-63,-77-44,-43 0,-3-73,-70-100,-77-80,-43-77,-27-46,-3-60,20-34,16-6,0-97,50-90,60-97,77-103,97 47,-74 46,-60 100,-103 137,-120 73,-57 77,-53 10,-3 60,-40 80,-40 7,-7 6,0 37,-20 7,0 16,-10 7,0 43,-20 80,-27 64,-13 3,-3 30,-4 3,-3 17,0 3,-3 20,0 4,-4 23,0 3,-3z"/><path class=p d="M1472,465l3,-3 127,0 3,3 33,0 4,3 23,0 3,4 20,0 4,3 33,3 3,4 27,3 3,3 10,0 27,10 20,4 60,20 27,13 6,0 117,57 7,6 16,7 50,33 10,4 94,66 106,90 134,134 126,150 87,116 41,65 6,29-6,43-9,20-18,27-22,25-29,-12-40,-7-3,-3-17,0-3,-3-80,0-3,3-20,0-20,7-14,0-53,16-33,17-7,0-63,33-84,57-96,83-78,81-6,-1-46,13-4,-2-103,23-90,14-97,-184-40,-64-20,-40-30,-43-6,-17-27,-36-17,-30-16,-20-4,-10-20,-24-3,-10-83,-110-94,-106-96,-90-77,-57-80,-43-77,-27-46,-3-60,20-34,16-6,0-97,50-90,60-97,77-103,97 47,-74 46,-60 100,-103 137,-120 73,-57 77,-53 10,-3 60,-40 80,-40 7,-7 6,0 37,-20 7,0 16,-10 7,0 43,-20 80,-27 64,-13 3,-3 30,-4 3,-3 17,0 3,-3 20,0 4,-4 23,0 3,-3z"/><path class=q d="M1472,465l3,-3 127,0 3,3 33,0 4,3 23,0 3,4 40,3 4,3 13,0 17,7 13,0 40,13 10,0 70,24 27,13 6,0 117,57 7,6 16,7 50,33 10,4 67,46 133,110 134,134 86,100 94,120 53,76 12,30 2,27-6,27-24,43-38,43-29,-10-34,-3-3,-3-80,0-3,3-20,0-20,7-14,0-53,16-80,37-60,40-10,3-93,74-80,76-190,41-110,19-14,-20-70,-136-40,-64-20,-40-30,-43-6,-17-27,-36-17,-30-16,-20-4,-10-20,-24-3,-10-83,-110-94,-106-96,-90-77,-57-80,-43-77,-27-46,-3-60,20-34,16-6,0-97,50-90,60-97,77-103,97 47,-74 46,-60 100,-103 137,-120 73,-57 77,-53 10,-3 60,-40 80,-40 7,-7 6,0 37,-20 7,0 16,-10 7,0 43,-20 80,-27 64,-13 3,-3 30,-4 3,-3 17,0 3,-3 20,0 4,-4 23,0 3,-3z"/><path class=r d="M1472,465l3,-3 127,0 3,3 33,0 4,3 23,0 3,4 40,3 4,3 13,0 17,7 13,0 40,13 10,0 70,24 27,13 6,0 117,57 7,6 16,7 50,33 10,4 67,46 133,110 134,134 86,100 94,120 6,13 34,43 11,30 2,24-3,20-20,43-18,23-44,40-32,-3-3,-3-80,0-3,3-20,0-4,3-43,7-40,13-10,7-7,0-16,10-7,0-63,33-37,27-10,3-93,74-37,36-3,-2-160,38-197,35-67,-127-40,-64-20,-40-30,-43-6,-17-27,-36-17,-30-16,-20-4,-10-20,-24-3,-10-83,-110-94,-106-96,-90-77,-57-80,-43-77,-27-46,-3-60,20-34,16-6,0-97,50-90,60-97,77-103,97 47,-74 46,-60 100,-103 137,-120 73,-57 77,-53 10,-3 60,-40 80,-40 7,-7 6,0 37,-20 7,0 16,-10 7,0 43,-20 80,-27 64,-13 3,-3 30,-4 3,-3 17,0 3,-3 20,0 4,-4 23,0 3,-3z"/><path class=s d="M1472,465l3,-3 127,0 3,3 33,0 4,3 23,0 3,4 40,3 4,3 13,0 17,7 13,0 40,13 10,0 70,24 27,13 6,0 117,57 7,6 16,7 50,33 10,4 67,46 133,110 134,134 86,100 94,120 29,43 11,37-7,40-20,35-40,43-43,32-77,0-3,3-20,0-4,3-43,7-40,13-10,7-7,0-86,43-84,57-46,39-227,53-196,32-34,-67-7,-7-10,-23-16,-24-17,-33-7,-7-10,-23-40,-60-6,-17-27,-36-3,-10-94,-134-96,-120-60,-63-20,-17-4,-6-73,-64-77,-53-63,-33-23,-7-10,-7-30,-6-14,-7-13,0-3,-3-30,0-77,26-97,47-90,57-63,46-87,74-73,70 47,-74 46,-60 100,-103 137,-120 73,-57 77,-53 10,-3 60,-40 80,-40 7,-7 6,0 37,-20 7,0 16,-10 7,0 43,-20 80,-27 64,-13 3,-3 30,-4 3,-3 17,0 3,-3 20,0 4,-4 23,0 3,-3z"/><path class=t d="M1472,465l3,-3 127,0 3,3 33,0 4,3 23,0 3,4 40,3 4,3 13,0 17,7 13,0 40,13 10,0 70,24 27,13 6,0 97,47 77,43 70,47 83,63 73,63 134,134 140,166 54,75 9,22 3,23-3,17-8,23-11,20-21,27-23,22-79,55-28,0-3,3-20,0-20,7-14,0-70,23-86,43-37,27-10,3-21,18-2,-1-114,32-126,29-127,24-131,21-36,-69-40,-64-10,-23-40,-60-6,-17-27,-36-3,-10-94,-134-96,-120-60,-63-20,-17-4,-6-73,-64-77,-53-63,-33-23,-7-10,-7-30,-6-14,-7-13,0-3,-3-30,0-77,26-97,47-90,57-63,46-87,74-73,70 47,-74 46,-60 100,-103 137,-120 73,-57 77,-53 10,-3 60,-40 80,-40 7,-7 6,0 37,-20 7,0 16,-10 7,0 43,-20 80,-27 64,-13 3,-3 30,-4 3,-3 17,0 3,-3 20,0 4,-4 23,0 3,-3z"/><path class=u d="M1472,465l3,-3 127,0 3,3 33,0 4,3 23,0 3,4 40,3 4,3 13,0 17,7 13,0 40,13 10,0 70,24 27,13 6,0 97,47 77,43 70,47 83,63 73,63 134,134 140,166 38,52 12,32 1,20-4,20-21,39-20,24-40,34-70,44-63,32-10,0-40,13-70,34-33,12-140,41-170,40-110,21-164,26-80,-144-30,-43-6,-17-27,-36-3,-10-30,-40-4,-10-20,-24-3,-10-20,-23-27,-40-86,-107-60,-63-20,-17-4,-6-73,-64-77,-53-63,-33-23,-7-10,-7-30,-6-14,-7-13,0-3,-3-30,0-77,26-97,47-90,57-63,46-87,74-73,70 47,-74 46,-60 100,-103 137,-120 73,-57 77,-53 10,-3 60,-40 80,-40 7,-7 6,0 37,-20 7,0 16,-10 7,0 43,-20 80,-27 64,-13 3,-3 30,-4 3,-3 17,0 3,-3 20,0 4,-4 23,0 3,-3z"/><path class=v d="M1472,465l3,-3 127,0 3,3 33,0 4,3 23,0 3,4 40,3 4,3 13,0 17,7 40,7 13,6 10,0 70,24 50,23 7,0 93,47 7,6 16,7 70,43 10,10 74,50 106,90 134,134 86,100 74,93 13,26 4,24-4,23-18,37-19,23-30,27-77,50-59,30-140,54-128,39-146,36-156,31-180,27-64,-114-30,-43-6,-17-27,-36-3,-10-30,-40-4,-10-20,-24-3,-10-20,-23-27,-40-86,-107-60,-63-20,-17-4,-6-73,-64-77,-53-63,-33-23,-7-10,-7-30,-6-14,-7-13,0-3,-3-30,0-77,26-97,47-90,57-63,46-87,74-73,70 47,-74 46,-60 100,-103 137,-120 73,-57 77,-53 10,-3 60,-40 80,-40 7,-7 6,0 37,-20 7,0 16,-10 7,0 43,-20 80,-27 64,-13 3,-3 30,-4 3,-3 17,0 3,-3 20,0 4,-4 23,0 3,-3z"/><path class=w d="M1472,465l3,-3 127,0 3,3 33,0 4,3 23,0 3,4 40,3 4,3 13,0 17,7 40,7 13,6 10,0 70,24 50,23 7,0 93,47 7,6 16,7 70,43 10,10 74,50 106,90 134,134 86,100 62,78 10,22 4,23-3,20-17,37-27,30-19,16-70,47-106,50-110,40-157,46-150,34-163,29-136,18-48,-84-30,-43-6,-17-27,-36-17,-30-16,-20-4,-10-20,-24-3,-10-83,-110-94,-106-96,-90-77,-57-80,-43-7,0-46,-20-10,0-14,-7-13,0-3,-3-30,0-77,26-97,47-90,57-63,46-87,74-73,70 47,-74 46,-60 100,-103 137,-120 73,-57 77,-53 10,-3 60,-40 80,-40 7,-7 6,0 37,-20 7,0 16,-10 7,0 43,-20 80,-27 64,-13 3,-3 30,-4 3,-3 17,0 3,-3 20,0 4,-4 23,0 3,-3z"/><path class=x d="M1472,465l3,-3 127,0 3,3 33,0 4,3 23,0 3,4 40,3 4,3 13,0 17,7 40,7 13,6 10,0 70,24 50,23 7,0 93,47 7,6 16,7 50,33 10,4 94,66 106,90 134,134 70,80 56,70 17,29 3,34-16,40-29,33-20,17-71,47-117,53-93,33-147,41-193,43-274,43-30,-57-30,-43-6,-17-27,-36-17,-30-16,-20-4,-10-20,-24-3,-10-83,-110-94,-106-96,-90-77,-57-80,-43-7,0-46,-20-10,0-14,-7-13,0-3,-3-30,0-77,26-97,47-90,57-63,46-87,74-73,70 47,-74 46,-60 100,-103 137,-120 73,-57 77,-53 10,-3 60,-40 80,-40 7,-7 6,0 37,-20 7,0 16,-10 7,0 43,-20 80,-27 64,-13 3,-3 30,-4 3,-3 17,0 3,-3 20,0 4,-4 23,0 3,-3z"/><path class=y d="M1472,465l3,-3 127,0 3,3 33,0 4,3 23,0 3,4 40,3 4,3 13,0 17,7 40,7 13,6 10,0 70,24 50,23 7,0 93,47 7,6 16,7 50,33 10,4 94,66 106,90 164,167 93,115 7,18 1,24-13,36-22,27-29,27-67,43-94,44-90,33-110,33-130,33-200,38-206,29-14,-27-30,-43-6,-17-27,-36-3,-10-84,-120-106,-134-60,-63-20,-17-4,-6-73,-64-77,-53-63,-33-7,0-46,-20-10,0-14,-7-13,0-3,-3-30,0-60,20-107,50-47,26-130,94-70,60-73,70 47,-74 46,-60 100,-103 137,-120 73,-57 77,-53 10,-3 60,-40 80,-40 7,-7 6,0 37,-20 7,0 16,-10 7,0 43,-20 80,-27 64,-13 3,-3 30,-4 3,-3 17,0 3,-3 20,0 4,-4 23,0 3,-3z"/><path class=z d="M1472,465l3,-3 127,0 3,3 33,0 4,3 23,0 3,4 40,3 4,3 13,0 17,7 40,7 13,6 10,0 70,24 50,23 7,0 93,47 7,6 50,27 93,63 80,64 53,46 134,134 106,126 8,20 2,17-11,37-15,21-29,29-68,44-90,43-130,46-174,47-163,33-163,25-121,14-26,-39-6,-17-27,-36-3,-10-104,-147-86,-107-60,-63-20,-17-4,-6-73,-64-77,-53-63,-33-7,0-46,-20-10,0-14,-7-13,0-3,-3-30,0-60,20-107,50-47,26-130,94-70,60-73,70 47,-74 46,-60 100,-103 137,-120 73,-57 77,-53 10,-3 60,-40 80,-40 7,-7 6,0 37,-20 7,0 16,-10 7,0 43,-20 80,-27 64,-13 3,-3 30,-4 3,-3 17,0 3,-3 20,0 4,-4 23,0 3,-3z"/><path class=A d="M1472,465l3,-3 127,0 3,3 33,0 4,3 23,0 3,4 40,3 4,3 13,0 17,7 40,7 13,6 10,0 70,24 50,23 7,0 93,47 7,6 50,27 93,63 80,64 53,46 134,134 91,108 9,32-4,22-8,18-14,20-25,23-53,37-80,40-143,52-163,44-164,34-163,26-149,18-14,-28-27,-36-17,-30-16,-20-4,-10-20,-24-3,-10-20,-23-27,-40-86,-107-60,-63-20,-17-4,-6-86,-74-37,-23-10,-10-33,-17-7,-6-40,-20-7,0-46,-20-10,0-14,-7-13,0-3,-3-30,0-60,20-34,16-6,0-114,60-130,94-70,60-56,53-2,5-11,4 43,-66 46,-60 100,-103 137,-120 73,-57 77,-53 10,-3 60,-40 80,-40 7,-7 6,0 37,-20 7,0 16,-10 7,0 43,-20 80,-27 64,-13 3,-3 30,-4 3,-3 17,0 3,-3 20,0 4,-4 23,0 3,-3z"/><path class=B d="M1472,465l3,-3 127,0 3,3 33,0 4,3 46,4 4,3 16,0 4,3 26,4 4,3 13,0 40,13 10,0 70,24 27,13 6,0 140,70 70,43 117,87 73,63 134,134 76,90 6,16 1,17-8,30-15,22-25,25-52,35-87,42-140,50-146,39-140,29-187,30-163,19-7,-4-23,-40-30,-40-4,-10-20,-24-3,-10-83,-110-94,-106-73,-70-100,-77-80,-43-77,-27-46,-3-60,20-34,16-6,0-114,60-113,80-57,47-61,58-27,14 32,-49 46,-60 100,-103 4,0 70,-67 96,-80 64,-46 23,-14 10,-10 30,-16 27,-20 50,-27 6,-7 57,-26 7,-7 6,0 37,-20 7,0 16,-10 7,0 43,-20 80,-27 64,-13 3,-3 30,-4 3,-3 17,0 3,-3 20,0 4,-4 23,0 3,-3z"/><path class=C d="M1472,465l3,-3 127,0 3,3 33,0 4,3 46,4 4,3 16,0 4,3 26,4 4,3 13,0 40,13 10,0 70,24 27,13 6,0 140,70 70,43 117,87 73,63 134,134 0,3 50,53 12,20 5,27-11,33-16,21-24,21-40,28-33,18-93,40-127,42-163,40-144,28-180,26-139,14-21,-34-16,-20-4,-10-20,-24-3,-10-83,-110-94,-106-73,-70-100,-77-80,-43-77,-27-46,-3-60,20-34,16-6,0-114,60-113,80-57,47-26,27-46,26-4,0 40,-56 53,-64 117,-113 126,-107 64,-46 23,-14 10,-10 30,-16 27,-20 50,-27 6,-7 57,-26 7,-7 6,0 37,-20 7,0 16,-10 7,0 43,-20 80,-27 64,-13 3,-3 30,-4 3,-3 17,0 3,-3 20,0 4,-4 23,0 3,-3z"/><path class=D d="M1472,465l3,-3 127,0 3,3 33,0 4,3 46,4 4,3 16,0 4,3 26,4 4,3 13,0 3,3 24,4 13,6 10,0 70,24 50,23 7,0 93,47 7,6 16,7 50,33 10,4 67,46 133,110 134,134 41,47 9,29-2,17-7,17-18,24-20,19-60,39-110,48-80,26-197,50-163,31-193,26-117,12-5,0-12,-15-10,-20-20,-24-3,-10-83,-110-50,-60-60,-63-20,-17-4,-6-3,0-53,-50-77,-57-80,-43-77,-27-46,-3-14,6-10,0-10,7-26,7-34,16-6,0-74,37-113,73-57,44-36,33-64,35-3,-1 80,-101 117,-113 126,-107 64,-46 23,-14 10,-10 30,-16 27,-20 50,-27 6,-7 57,-26 7,-7 6,0 37,-20 7,0 16,-10 7,0 43,-20 80,-27 64,-13 3,-3 30,-4 3,-3 17,0 3,-3 20,0 4,-4 23,0 3,-3z"/><path class=E d="M1472,465l3,-3 127,0 3,3 33,0 4,3 46,4 4,3 16,0 4,3 26,4 4,3 13,0 3,3 24,4 13,6 10,0 70,24 50,23 7,0 93,47 7,6 16,7 50,33 10,4 67,46 133,110 155,159 8,15 4,16-8,30-12,18-30,28-40,27-37,19-76,32-127,40-118,30-199,37-193,26-134,12-73,-102-86,-107-50,-53-4,0-6,-10-57,-53-67,-54-73,-46-40,-20-77,-27-46,-3-60,20-34,16-6,0-114,60-73,50-65,52-82,42 67,-84 73,-73 4,0 70,-67 136,-110 77,-53 10,-3 60,-40 130,-67 7,0 16,-10 7,0 43,-20 80,-27 64,-13 3,-3 30,-4 3,-3 17,0 3,-3 47,-4 3,-3z"/><path class=F d="M1472,465l3,-3 127,0 3,3 33,0 4,3 46,4 4,3 16,0 4,3 26,4 4,3 13,0 3,3 24,4 13,6 10,0 70,24 50,23 7,0 93,47 7,6 16,7 50,33 10,4 67,46 133,110 134,134 10,16 4,14 0,16-7,20-16,20-25,23-61,37-95,40-120,37-140,34-160,29-147,20-206,21-4,-11-20,-23-27,-40-86,-107-50,-53-4,0-6,-10-57,-53-67,-54-73,-46-40,-20-77,-27-46,-3-60,20-34,16-6,0-114,60-73,50-23,20-110,55 53,-65 73,-73 4,0 93,-87 113,-90 77,-53 10,-3 60,-40 130,-67 7,0 16,-10 7,0 43,-20 80,-27 64,-13 3,-3 30,-4 3,-3 17,0 3,-3 47,-4 3,-3z"/><path class=G d="M1472,465l3,-3 127,0 3,3 33,0 4,3 46,4 4,3 16,0 4,3 26,4 4,3 13,0 3,3 24,4 13,6 10,0 70,24 50,23 7,0 93,47 7,6 16,7 50,33 10,4 67,46 133,110 121,121 10,26-6,27-15,21-20,19-23,17-47,26-110,44-113,33-163,36-177,29-183,21-123,11-54,-74-63,-77-60,-63-20,-17-4,-6-3,0-53,-50-77,-57-33,-17-7,-6-40,-20-77,-27-46,-3-60,20-34,16-6,0-97,50-67,44-9,9-67,28-60,35-6,0 39,-46 73,-73 4,0 93,-87 113,-90 77,-53 10,-3 60,-40 130,-67 7,0 16,-10 7,0 43,-20 80,-27 64,-13 3,-3 30,-4 3,-3 17,0 3,-3 47,-4 3,-3z"/><path class=H d="M1472,465l3,-3 127,0 3,3 33,0 4,3 46,4 4,3 16,0 4,3 26,4 4,3 13,0 3,3 24,4 13,6 10,0 70,24 50,23 7,0 93,47 7,6 16,7 50,33 10,4 67,46 133,110 104,104 8,23-6,27-21,26-25,20-63,35-93,36-97,30-180,40-160,26-210,24-120,9-7,0-10,-10-36,-50-94,-106-96,-90-77,-57-33,-17-7,-6-40,-20-77,-27-46,-3-77,26-97,47-55,36-71,27-47,23-43,27 23,-30 73,-73 137,-120 130,-97 113,-70 57,-26 7,-7 6,0 84,-40 16,-3 10,-7 80,-27 64,-13 3,-3 30,-4 3,-3 17,0 3,-3 47,-4 3,-3z"/><path class=I d="M1472,465l3,-3 127,0 3,3 33,0 4,3 46,4 4,3 16,0 4,3 26,4 4,3 13,0 3,3 24,4 13,6 10,0 70,24 50,23 7,0 93,47 7,6 16,7 50,33 10,4 67,46 133,110 87,87 6,23-7,24-9,13-27,24-62,36-48,21-60,20-143,39-170,34-105,16-202,23-153,11-73,-91-44,-43 0,-3-10,-7-30,-33-73,-64-50,-33-10,-10-33,-17-7,-6-40,-20-77,-27-46,-3-60,20-34,16-6,0-79,42-111,41-40,20-45,29 81,-85 137,-120 130,-97 113,-70 57,-26 7,-7 6,0 84,-40 16,-3 10,-7 80,-27 64,-13 3,-3 30,-4 3,-3 17,0 3,-3 47,-4 3,-3z"/><path class=J d="M1472,465l3,-3 127,0 3,3 33,0 4,3 23,0 3,4 40,3 4,3 13,0 17,7 13,0 40,13 10,0 70,24 50,23 7,0 93,47 7,6 50,27 120,83 106,90 68,68 5,16-3,20-9,16-21,21-33,22-39,21-64,26-127,37-117,26-203,34-227,24-140,9-7,0-16,-16-33,-44-60,-63-20,-17-4,-6-73,-64-50,-33-10,-10-33,-17-7,-6-40,-20-77,-27-46,-3-14,6-10,0-10,7-26,7-56,25-78,24-66,25-54,26-44,30 108,-107 126,-107 64,-46 23,-14 10,-10 113,-70 57,-26 7,-7 6,0 84,-40 16,-3 10,-7 80,-27 64,-13 3,-3 30,-4 3,-3 17,0 3,-3 47,-4 3,-3z"/><path class=K d="M1472,465l3,-3 127,0 3,3 33,0 4,3 23,0 3,4 40,3 4,3 13,0 17,7 13,0 40,13 10,0 70,24 50,23 7,0 93,47 7,6 50,27 120,83 106,90 47,47 6,17-3,20-13,19-23,21-67,36-90,34-137,36-160,31-166,23-167,17-169,10-24,-31-60,-63-20,-17-4,-6-100,-84-50,-33-63,-33-77,-27-46,-3-4,3-85,20-91,27-97,40-30,17-30,23-4,0 91,-87 126,-107 64,-46 23,-14 10,-10 113,-70 57,-26 7,-7 6,0 84,-40 16,-3 10,-7 80,-27 64,-13 3,-3 30,-4 3,-3 17,0 3,-3 47,-4 3,-3z"/><path class=L d="M1472,465l3,-3 127,0 3,3 33,0 4,3 23,0 3,4 40,3 4,3 13,0 17,7 13,0 40,13 10,0 70,24 50,23 7,0 93,47 7,6 50,27 120,83 76,64 54,50 8,20-5,23-13,17-27,21-77,38-70,25-126,33-154,29-133,20-167,17-227,13-49,-53-4,0-6,-10-20,-17-4,-6-100,-84-50,-33-63,-33-77,-27-13,0-3,-3-40,-1-4,-3-27,0-96,26-107,40-26,14-44,34-7,3 71,-70 126,-107 64,-46 23,-14 10,-10 113,-70 57,-26 7,-7 6,0 84,-40 16,-3 10,-7 80,-27 64,-13 3,-3 30,-4 3,-3 17,0 3,-3 47,-4 3,-3z"/><path class=L d="M1472,465l3,-3 127,0 3,3 33,0 4,3 23,0 3,4 40,3 4,3 13,0 17,7 13,0 40,13 10,0 70,24 50,23 7,0 93,47 7,6 50,27 120,83 105,90 11,20-3,22-10,15-23,20-63,33-107,38-107,26-160,29-177,24-166,14-190,9-30,-33-57,-53-100,-77-80,-43-77,-27-56,-4-4,-3-56,0-4,3-23,1-3,3-40,7-74,30-53,32-27,21-6,2 7,-12 73,-67 136,-110 114,-76 50,-27 6,-7 57,-26 7,-7 6,0 84,-40 16,-3 10,-7 80,-27 64,-13 3,-3 30,-4 3,-3 17,0 3,-3 47,-4 3,-3z"/><path class=L d="M1472,465l3,-3 127,0 3,3 33,0 4,3 46,4 4,3 33,3 17,7 13,0 40,13 10,0 70,24 27,13 6,0 140,70 50,33 10,4 67,46 114,94 7,20-2,13-13,20-26,21-67,32-70,24-116,30-160,30-124,16-153,15-163,10-119,4-81,-75-77,-57-80,-43-7,0-46,-20-10,0-14,-7-13,0-3,-3-40,-1-4,-4-56,1-4,3-40,3-80,27-43,22-37,26-4,-1 6,-11 52,-49 136,-110 114,-76 50,-27 6,-7 57,-26 7,-7 6,0 84,-40 16,-3 10,-7 80,-27 64,-13 3,-3 30,-4 3,-3 17,0 3,-3 47,-4 3,-3z"/><path class=L d="M1472,465l3,-3 127,0 3,3 33,0 4,3 46,4 4,3 33,3 17,7 13,0 40,13 10,0 70,24 27,13 6,0 140,70 50,33 10,4 67,46 92,76 6,14-2,17-19,24-44,27-90,35-90,25-148,29-135,20-163,17-154,9-176,4-1,3-66,-60-77,-53-63,-33-7,0-46,-20-10,0-14,-7-13,0-3,-3-40,-2-4,-3-56,0-4,3-40,4-3,3-23,3-30,10-83,42 6,-17 27,-27 136,-110 114,-76 50,-27 6,-7 57,-26 7,-7 6,0 84,-40 16,-3 10,-7 80,-27 64,-13 3,-3 30,-4 3,-3 17,0 3,-3 47,-4 3,-3z"/><path class=L d="M1472,465l3,-3 127,0 3,3 60,3 3,4 40,3 4,3 13,0 17,7 40,7 13,6 10,0 70,24 50,23 7,0 93,47 7,6 16,7 70,43 117,87 13,17 0,20-13,19-23,17-44,22-56,21-104,28-153,30-140,19-267,21-230,5-2,2-58,-48-73,-46-73,-34-30,-6-14,-7-13,0-3,-3-40,-2-4,-3-56,0-4,3-23,0-3,3-14,0-3,3-10,1-43,12-55,26 0,-13 7,-14 61,-53 73,-57 114,-76 50,-27 6,-7 57,-26 7,-7 6,0 84,-40 16,-3 10,-7 80,-27 64,-13 3,-3 30,-4 3,-3 17,0 3,-3 47,-4 3,-3z"/><path class=L d="M1472,465l3,-3 127,0 3,3 60,3 3,4 40,3 4,3 13,0 17,7 40,7 13,6 10,0 70,24 50,23 7,0 93,47 7,6 16,7 50,33 10,4 109,80 7,13 0,13-6,11-16,16-47,27-62,23-78,22-90,19-113,19-134,16-173,14-170,7-159,1-51,-38-80,-43-77,-27-13,0-3,-3-17,-3-23,0-4,-3-56,0-4,3-23,0-3,4-40,6-53,19-4,-16 7,-17 66,-57 64,-46 23,-14 10,-10 30,-16 27,-20 50,-27 6,-7 57,-26 7,-7 6,0 84,-40 16,-3 10,-7 80,-27 64,-13 3,-3 30,-4 3,-3 17,0 3,-3 47,-4 3,-3z"/><path class=L d="M1472,465l3,-3 127,0 3,3 60,3 3,4 40,3 4,3 13,0 17,7 40,7 13,6 10,0 70,24 50,23 7,0 93,47 7,6 16,7 50,33 10,4 80,56 10,14 0,16-6,11-14,13-56,30-57,20-93,24-214,35-270,25-156,5-202,-1-45,-28-40,-20-77,-27-13,0-3,-3-17,-3-23,0-4,-3-56,0-4,3-23,0-3,3-14,0-3,3-36,7-11,-14-2,-16 10,-17 72,-57 114,-76 50,-27 6,-7 57,-26 7,-7 6,0 84,-40 16,-3 10,-7 80,-27 64,-13 3,-3 30,-4 3,-3 17,0 3,-3 47,-4 3,-3z"/><path class=L d="M1472,465l3,-3 127,0 3,3 60,3 3,4 40,3 4,3 13,0 17,7 40,7 13,6 10,0 70,24 50,23 7,0 86,43 64,37 82,57 7,10 1,13-8,13-12,12-48,25-72,24-80,20-194,32-133,14-150,10-203,5-204,-5-56,-27-30,-6-14,-7-13,0-3,-3-40,-3-4,-4-85,3-21,-11-15,-19 0,-13 12,-17 96,-70 113,-70 107,-53 7,0 16,-10 7,0 43,-20 80,-27 64,-13 3,-3 30,-4 3,-3 17,0 3,-3 47,-4 3,-3z"/><path class=M d="M1472,465l3,-3 127,0 3,3 33,0 4,3 23,0 3,4 40,3 4,3 13,0 17,7 13,0 40,13 10,0 70,24 27,13 6,0 117,57 107,66 11,14 0,13-15,19-36,21-44,17-86,23-100,20-97,14-243,23-160,7-104,0-116,-4-107,-7-97,-13-54,-13-46,-19-17,-18-1,-17 7,-10 68,-50 113,-70 107,-53 7,0 16,-10 7,0 43,-20 80,-27 64,-13 3,-3 30,-4 3,-3 17,0 3,-3 47,-4 3,-3z"/><path class=N d="M1472,465l3,-3 127,0 3,3 33,0 4,3 23,0 3,4 40,3 4,3 13,0 17,7 13,0 40,13 10,0 70,24 27,13 6,0 117,57 81,50 8,13-1,10-18,20-32,17-41,15-64,18-80,16-106,17-140,15-110,8-130,6-120,1-207,-10-83,-10-70,-16-40,-17-18,-17 0,-13 9,-13 89,-60 50,-27 6,-7 57,-26 7,-7 6,0 84,-40 16,-3 10,-7 80,-27 64,-13 3,-3 30,-4 3,-3 17,0 3,-3 20,0 4,-4 23,0 3,-3z"/><path class=O d="M1472,465l3,-3 127,0 3,3 33,0 4,3 23,0 3,4 40,3 4,3 13,0 17,7 13,0 40,13 10,0 70,24 27,13 6,0 117,57 7,6 43,24 7,10 0,10-14,17-43,22-63,21-60,13-200,31-204,16-126,4-130,-1-184,-11-70,-10-53,-14-30,-13-10,-9-6,-10 3,-13 13,-13 80,-50 80,-40 7,-7 6,0 84,-40 16,-3 10,-7 80,-27 64,-13 3,-3 30,-4 3,-3 17,0 3,-3 20,0 4,-4 23,0 3,-3z"/><path class=P d="M1472,465l3,-3 127,0 3,3 33,0 4,3 23,0 3,4 40,3 4,3 13,0 17,7 40,7 13,6 10,0 70,24 50,23 7,0 93,47 19,13 5,13-4,9-13,12-34,17-60,19-70,15-173,25-203,16-200,4-177,-9-117,-16-43,-14-19,-11-9,-10 0,-10 7,-10 51,-33 80,-40 7,-7 6,0 84,-40 16,-3 10,-7 80,-27 64,-13 3,-3 30,-4 3,-3 17,0 3,-3 20,0 4,-4 23,0 3,-3z"/><path class=Q d="M1472,465l3,-3 127,0 3,3 33,0 4,3 46,4 4,3 16,0 4,3 26,4 4,3 13,0 3,3 24,4 13,6 10,0 70,24 50,23 7,0 73,37 6,6 2,10-11,15-37,19-57,17-60,13-146,22-200,15-180,4-197,-9-103,-17-44,-17-10,-12 0,-10 4,-6 36,-24 57,-26 7,-7 6,0 37,-20 7,0 16,-10 7,0 43,-20 80,-27 64,-13 3,-3 30,-4 3,-3 17,0 3,-3 20,0 4,-4 23,0 3,-3z"/><path class=R d="M1472,465l3,-3 127,0 3,3 33,0 4,3 46,4 4,3 16,0 4,3 26,4 4,3 13,0 40,13 10,0 70,24 27,13 6,0 57,27 7,6 1,10-12,14-36,17-47,14-73,15-157,20-160,11-160,2-176,-8-57,-8-43,-9-28,-11-12,-13 0,-10 10,-10 93,-47 7,0 16,-10 7,0 43,-20 80,-27 64,-13 3,-3 30,-4 3,-3 17,0 3,-3 20,0 4,-4 23,0 3,-3z"/><path class=S d="M1472,465l3,-3 127,0 3,3 33,0 4,3 23,0 3,4 40,3 4,3 13,0 17,7 40,7 13,6 10,0 70,24 47,20 7,6 2,7-3,7-10,8-23,12-73,19-150,23-147,12-180,3-157,-7-80,-12-33,-11-17,-14 0,-7 11,-10 46,-23 7,0 16,-10 7,0 43,-20 80,-27 64,-13 3,-3 30,-4 3,-3 17,0 3,-3 47,-4 3,-3z"/><path class=T d="M1472,465l3,-3 127,0 3,3 33,0 4,3 23,0 3,4 40,3 4,3 13,0 17,7 40,7 13,6 10,0 60,20 12,7 5,10-10,12-30,13-80,19-147,18-117,8-150,2-133,-8-70,-11-23,-9-11,-11 1,-6 6,-7 20,-10 7,0 17,-10 16,-3 10,-7 80,-27 64,-13 3,-3 30,-4 3,-3 17,0 3,-3 47,-4 3,-3z"/><path class=U d="M1472,465l3,-3 127,0 3,3 60,3 3,4 20,0 4,3 33,3 17,7 13,0 40,13 10,0 15,7 6,10-8,9-16,8-84,20-100,12-120,8-133,2-93,-5-70,-11-20,-6-11,-10 6,-10 11,-7 80,-27 64,-13 3,-3 30,-4 3,-3 17,0 3,-3 47,-4 3,-3z"/><path class=V d="M1472,465l3,-3 127,0 3,3 33,0 4,3 23,0 3,4 20,0 4,3 16,0 4,3 26,4 15,6 3,7-21,13-53,13-84,11-93,6-110,1-90,-5-47,-10-13,-9 3,-7 12,-6 45,-10 3,-4 10,0 4,-3 10,0 3,-3 30,-4 3,-3 17,0 3,-3 20,0 4,-4 23,0 3,-3z"/><path class=W d="M1472,465l3,-3 127,0 3,3 42,3 9,7-8,6-26,8-114,11-113,-1-27,-4-18,-7 4,-6 7,-4 24,-3 3,-3 47,-4 3,-3z"/></g>
<path transform="scale(0.1)" class="ZS ZM" stroke-opacity="0.55" d="M434,1134l58,-57 57,-51 57,-46 67,-48 55,-34 65,-35 53,-24 64,-23M434,1134l35,-54 35,-49 37,-44 38,-40 38,-36 40,-30 40,-26 42,-20 42,-16 44,-9 44,-5 33,1 46,6 47,12 47,17 36,18 49,28 50,35 50,42 38,35 52,53 39,44 52,64 40,53 54,76 40,61 96,158 97,179 98,199M460,1094l92,-88 91,-74 45,-32 45,-29 43,-26 55,-27M468,1099l35,-53 36,-49M653,877l39,-31 31,-20 31,-17 31,-14 43,-14 32,-7 33,-4 34,-1 46,5 34,6 35,11 36,13 36,17 37,21 37,24 37,28 38,31 38,35 77,81 79,96 80,110 81,126 82,141 83,156 84,171M486,1056l58,-57 69,-60 69,-53 67,-46M503,1067l53,-78M727,813l41,-26 31,-16 32,-13 32,-10 33,-8 33,-4 34,-1 34,3 34,5 35,9 36,13 36,15 36,19 37,23 37,26 38,30 38,33 38,37 78,85 79,100 66,95 82,127 82,143 82,157 70,143M513,1021l23,-24M641,903l23,-18M537,1037l44,-66 46,-60M752,789l41,-27 31,-17 31,-14 32,-12 44,-10 33,-4 34,-1 34,2 34,5 36,9 35,12 36,15 36,19 37,23 37,26 38,29 38,33 38,37 77,84 79,99 67,94 81,126 81,142 83,156 69,142M540,988l24,-24M571,1008l44,-66 37,-48M807,746l41,-25 32,-15 32,-12 32,-10 33,-6 33,-4 34,0 34,3 35,7 35,9 36,13 36,17 36,19 37,24 37,26 38,31 76,71 78,86 79,101 66,95 81,128 68,118 82,155 69,141M568,957l24,-23M604,981l36,-53 36,-49M852,713l41,-24 32,-15 32,-11 32,-9 34,-5 33,-3 34,1 34,4 35,7 36,11 35,14 37,17 36,21 37,24 62,48 77,71 77,85 79,100 66,95 81,127 67,117 82,154 69,140M596,930l24,-24M638,957l35,-54 37,-49M906,675l32,-16 32,-14 32,-11 33,-7 33,-5 34,-1 34,1 34,5 35,8 36,12 36,15 36,18 37,21 37,25 62,50 76,73 65,71 78,99 66,94 81,126 67,117 82,153 68,139M625,905l48,-47M671,934l54,-79M951,646l31,-15 32,-13 33,-10 33,-6 33,-4 34,-1 57,6 35,8 36,12 36,14 36,18 36,22 37,24 63,50 76,71 64,71 78,99 66,93 80,125 67,116 82,152 68,138M655,882l59,-57 71,-62M704,912l54,-78M995,620l31,-15 33,-12 32,-9 33,-6 34,-2 34,0 58,8 35,9 35,12 36,15 36,19 37,23 37,25 62,51 77,74 64,72 78,100 66,95 80,126 67,117 67,127 68,137M685,862l95,-89 46,-39 58,-44M736,893l46,-66M1060,586l32,-12 33,-9 55,-8 34,-1 34,2 58,11 36,11 35,14 61,32 36,23 37,26 63,53 76,75 64,74 65,84 66,94 80,125 66,116 67,126 68,136M715,845l60,-57 59,-52 58,-47 57,-41M769,875l36,-53M1114,560l33,-10 33,-7 56,-5 34,1 34,5 59,14 35,13 36,16 61,35 61,44 63,54 76,77 64,75 65,85 66,95 66,106 66,115 67,125 67,135M746,831l84,-79 82,-69 80,-57 78,-47M801,859l27,-40M1158,541l32,-9 33,-6 57,-4 34,3 34,5 59,16 36,14 36,17 60,36 62,46 63,55 63,65 64,74 65,85 65,94 66,105 66,114 67,124 66,135M778,820l95,-90 47,-40 47,-36 45,-32 46,-29 44,-26 44,-22M833,844l18,-26M1212,521l33,-7 33,-5 57,0 57,9 59,18 36,15 36,18 61,37 61,47 63,57 63,66 64,76 65,86 65,96 66,106 66,115 66,126 53,107M810,812l60,-58 59,-53 58,-47 58,-41 56,-36 56,-30 54,-25 65,-23M864,832l9,-14M1244,509l33,-7 33,-5 57,0 57,9 59,17 35,15 36,18 61,37 62,47 62,56 63,66 64,76 64,85 65,95 66,105 65,115 66,124 53,107M843,807l60,-59 59,-53 58,-47 69,-49 56,-35 67,-34 54,-23 64,-21M1361,479l11,-3M1308,491l56,-5 57,3 58,12 59,21 60,30 60,39 62,48 62,57 63,68 64,77 64,86 52,77 65,104 66,114 65,124 53,106M876,805l72,-70 70,-62 70,-53 79,-52 67,-36 76,-32 63,-20 73,-14M1340,483l55,-5 57,3 58,12 59,20 60,30 60,38 62,48 62,57 63,67 63,77 64,86 52,75 65,104 65,113 65,123 53,106M909,807l72,-71 83,-72 80,-60 79,-49 77,-39 75,-28 74,-18 71,-8M1393,473l56,-2 57,7 58,15 59,24 60,32 61,42 62,52 49,47 63,69 63,78 64,87 52,77 64,105 52,90 65,123 53,104M943,811l84,-82 82,-71 81,-59 78,-47 77,-38 43,-16 42,-13 73,-16 41,-4 39,-2M1446,467l56,1 58,10 58,18 47,21 60,34 61,44 62,53 49,49 63,69 51,63 63,87 51,76 65,104 51,91 65,121 52,104M978,819l84,-83 47,-42 47,-38 46,-34 45,-31 45,-27 44,-24 43,-20 43,-16 43,-14 41,-10 41,-7 41,-3 39,-1 49,3M1476,463l56,2 58,9 58,18 47,21 60,35 61,43 61,52 50,49 62,69 50,62 64,87 51,75 64,104 51,89 65,121 51,103M1013,830l48,-49 48,-45 47,-42 46,-37 46,-34 45,-30 45,-26 55,-28 43,-19 42,-15 42,-12 52,-10 40,-4 50,-2 39,2 47,7M1551,462l57,8 46,12 59,24 48,25 60,39 48,38 62,56 49,51 63,73 50,64 50,71 51,77 64,105 51,90 52,97 51,102M1048,844l48,-49 48,-46 47,-41 58,-47 46,-33 45,-29 44,-26 55,-27 42,-18 53,-17 42,-11 51,-8 40,-3 49,0 38,4 47,8M1592,463l57,10 46,13 59,25 47,27 61,40 48,40 49,45 50,51 62,72 50,64 50,70 51,77 63,104 51,90 51,96 51,101M1084,862l48,-50 60,-57 46,-40 58,-46 46,-33 55,-35 44,-24 55,-25 42,-17 52,-15 52,-11 50,-5 39,-1 48,3 48,7 46,12M1655,469l58,15 46,18 47,23 48,29 60,44 49,42 49,48 49,53 50,60 50,65 50,72 50,77 51,83 51,90 50,95 51,101M1120,883l49,-50 59,-57 47,-41 57,-46 46,-33 55,-36 55,-30 54,-24 53,-19 51,-14 51,-9 50,-4 48,1 48,6 46,10 55,18M1718,480l46,15 47,21 47,26 48,31 48,38 49,43 49,49 49,54 49,61 50,66 50,73 50,78 51,84 50,91 89,172M1157,908l48,-51 60,-57 58,-52 57,-45 56,-39 56,-34 54,-28 53,-23 52,-17 52,-12 50,-7 58,-2 48,3 56,11 46,13 53,22M1758,489l46,16 47,21 47,28 48,33 48,38 48,44 49,50 49,56 50,62 49,67 88,133 50,83 50,90 88,171M1194,936l60,-63 59,-57 58,-50 57,-45 56,-39 55,-33 54,-27 64,-26 51,-15 51,-10 49,-6 58,0 47,5 56,13 53,18 52,24M1809,502l46,19 47,25 47,29 36,26 48,40 48,46 49,51 37,42 49,61 49,67 87,132 50,83 50,89 88,170M1232,968l60,-64 59,-57 58,-51 57,-45 55,-39 55,-34 54,-28 63,-26 52,-15 60,-13 49,-4 58,1 46,5 55,13 53,20 52,25M1882,529l47,24 35,22 48,34 36,29 48,44 36,36 49,54 36,44 49,64 37,51 87,134 87,151 87,168M1270,1003l60,-64 58,-58 58,-51 68,-54 56,-39 54,-33 54,-27 62,-25 52,-15 59,-11 59,-5 56,3 56,9 53,16 52,22 51,28M1933,550l46,27 36,23 47,37 36,31 48,46 36,39 73,86 49,65 37,52 86,135 87,153 74,144M1308,1042l60,-64 70,-70 58,-51 67,-53 55,-38 65,-38 64,-29 61,-22 60,-14 59,-7 57,0 55,6 54,14 52,19 51,26 58,37M1982,573l47,30 35,25 72,61 48,47 36,40 73,88 85,119 73,116 86,151 74,144M1347,1085l59,-65 70,-71 69,-61 67,-52 66,-44 64,-36 63,-27 61,-20 59,-12 58,-6 56,2 63,11 53,16 60,26 49,29 56,41M2020,592l12,7M2055,615l71,54 71,66 72,80 73,91 72,105 74,117 73,130 73,143M1386,1131l59,-66 70,-71 69,-62 67,-53 65,-44 64,-36 62,-29 71,-23 59,-11 66,-5 56,4 62,12 52,18 59,28 57,36 54,43M2092,636l12,9M2127,663l71,62 60,61 72,85 60,81 73,108 60,99 73,132 61,119M1425,1182l71,-80 70,-70 68,-61 66,-53 65,-44 64,-35 61,-28 70,-22 59,-11 66,-4 63,6 62,14 60,23 57,31 55,39 53,46M2164,687l71,64 59,62 72,87 60,82 72,109 60,101 61,110 60,118M1465,1235l71,-80 69,-71 68,-62 66,-53 65,-45 73,-41 62,-27 69,-22 58,-10 65,-4 63,7 61,15 59,23 56,32 55,39 60,54M2200,713l71,65 59,64 59,73 60,81 72,109 60,100 60,109 60,118M1505,1293l70,-82 70,-71 67,-63 66,-54 65,-46 73,-42 61,-28 69,-22 57,-11 65,-4 63,5 60,15 59,22 56,31 54,39 59,53M2294,795l59,64 48,57 59,79 48,69 59,95 48,82 60,109 48,94M1545,1354l70,-82 69,-73 68,-64 76,-63 64,-45 73,-41 70,-31 68,-21 66,-10 63,-1 62,9 59,17 57,26 32,18 30,21 53,42 57,56M2365,864l47,55 47,61 47,66 48,72 47,77 48,82 47,88 48,94M1585,1419l71,-83 80,-85 66,-64 76,-62 74,-51 72,-39 69,-29 67,-19 65,-8 62,1 61,10 33,10 33,13 32,15 31,18 61,43 58,52 55,61M2376,870l35,40M2434,938l83,109 82,126 83,143 83,158M1626,1487l70,-84 80,-86 66,-64 76,-64 73,-51 71,-41 69,-30 67,-19 64,-9 62,0 60,9 34,9 32,12 32,15 31,17 60,43 58,51 54,61M2468,973l82,111 82,127 83,144 70,136M1667,1560l70,-85 79,-88 66,-65 76,-64 73,-53 70,-42 69,-31 66,-20 64,-10 36,-2 34,1 59,10 33,10 32,12 32,15 30,17 60,42 56,52 54,61M2490,994l82,111 81,126 82,143 70,136M1708,1636l70,-86 79,-89 76,-76 75,-64 72,-53 70,-41 68,-30 38,-13 37,-9 63,-9 34,0 35,2 58,11 32,10 31,13 31,16 30,18 58,44 56,53 59,70M2604,1144l58,90 58,98 58,106 47,91M1750,1716l69,-88 78,-89 77,-78 74,-65 72,-54 69,-42 68,-32 37,-13 37,-10 62,-10 35,-1 34,2 57,10 32,10 32,12 30,15 30,18 57,42 55,52 59,69M2648,1202l58,92 46,80 46,86 46,90M1791,1799l69,-88 78,-91 76,-79 74,-67 71,-54 70,-44 66,-33 38,-14 36,-10 62,-11 34,-2 34,1 57,9 32,9 31,12 30,14 29,17 57,42 55,51 58,67M2714,1299l80,140 69,133M1833,1886l68,-89 78,-93 76,-80 73,-68 71,-56 69,-45 66,-33 37,-15 36,-11 62,-12 34,-3 33,1 57,7 31,9 31,11 30,14 29,16 56,40 54,50 57,66M2767,1381l57,103 57,111M1705,1630l58,26 58,30 58,32 58,36M1579,1409l55,17 54,21 55,23 54,26 107,59 54,33 79,55M1455,1223l80,16 80,22 79,28 105,46 79,41 77,47 77,52 101,77M1335,1072l52,3 52,5 53,9 52,10 52,14 51,15 52,19 77,32 102,51 50,29 76,48 99,72 49,40 73,63M1217,955l51,-4 75,-1 75,4 75,10 50,9 75,19 74,23 74,29 49,22 73,38 72,42 72,48 72,52 70,57 70,62 69,66M1104,873l74,-15 74,-10 74,-4 99,3 74,8 98,19 74,21 97,35 72,33 72,37 71,43 95,64 69,54 93,80 68,64 90,93M994,823l73,-25 97,-25 98,-15 97,-6 97,3 97,13 97,22 96,31 95,40 94,50 94,58 92,66 91,75 90,83 89,91 87,99M889,805l95,-45 95,-35 96,-27 48,-9 72,-10 96,-6 48,1 71,6 96,15 47,12 71,21 94,36 47,21 69,36 92,56 46,31 68,51 90,75 44,40 66,64 109,117 106,128M788,818l69,-44 46,-26 69,-35 46,-21 70,-26 47,-15 46,-13 70,-15 47,-7 70,-6 46,-2 70,2 46,4 70,11 46,9 69,19 46,15 68,27 46,20 67,35 45,26 67,43 66,47 66,52 44,37 65,59 106,108 104,119 62,77 60,81M692,858l67,-52 68,-47 68,-43 45,-25 68,-34 69,-30 46,-16 68,-21 46,-12 69,-12 69,-8 69,-2 68,2 69,7 68,13 68,17 45,14 68,25 67,30 66,35 67,40 65,44 65,48 65,53 106,99 63,64 62,69 61,72 61,77 59,80 59,84M601,926l87,-80 66,-54 66,-50 67,-44 67,-40 67,-35 68,-30 67,-26 68,-20 68,-15 68,-11 67,-5 68,-1 67,5 68,9 67,14 66,19 67,24 66,29 66,33 65,38 65,42 64,47 85,70 63,57 62,61 61,65 81,94 60,74 59,79 58,82 76,115M515,1018l42,-46M924,663l66,-39 66,-34 67,-29 44,-17 45,-15 66,-18 67,-13 66,-8 45,-3 66,0 67,5 66,9 44,9 66,18 65,22 65,27 44,21 64,34 64,40 64,43 62,48 63,53 62,57 61,60 100,111 60,71 58,76 58,79 57,82 56,86 55,90M434,1134l102,-123 82,-89M1193,526l43,-15 65,-18 44,-9 65,-10 43,-4 65,-1 43,1 65,6 43,6 64,14 43,12 64,21 42,17 64,29 62,33 63,38 41,27 62,45 102,85 100,95 59,63 58,67 96,119 94,130 91,139 107,179M539,1034l82,-91 62,-64M1703,478l64,14 63,20 63,23 84,39 62,35 82,52 61,45 81,65 60,55 59,58 59,62 77,89 57,72 74,100 56,80 72,111M643,953l101,-104M744,888l60,-58M842,840l20,-18"/>
<g shape-rendering="crispEdges">
<rect x="302.8" y="43.00" width="12.2" height="3.1" fill="#000"/>
<rect x="302.8" y="45.80" width="12.2" height="162.80" fill="#5f2775"/>
<rect x="302.8" y="48.73" width="12.2" height="159.87" fill="#691b85"/>
<rect x="302.8" y="51.65" width="12.2" height="156.95" fill="#6b238a"/>
<rect x="302.8" y="54.58" width="12.2" height="154.02" fill="#692d8f"/>
<rect x="302.8" y="57.50" width="12.2" height="151.10" fill="#613a97"/>
<rect x="302.8" y="60.43" width="12.2" height="148.17" fill="#53419c"/>
<rect x="302.8" y="63.36" width="12.2" height="145.24" fill="#4345a0"/>
<rect x="302.8" y="66.28" width="12.2" height="142.32" fill="#3048a0"/>
<rect x="302.8" y="69.21" width="12.2" height="139.39" fill="#2449a0"/>
<rect x="302.8" y="72.13" width="12.2" height="136.47" fill="#204a9f"/>
<rect x="302.8" y="75.06" width="12.2" height="133.54" fill="#2055a5"/>
<rect x="302.8" y="77.99" width="12.2" height="130.61" fill="#2468b2"/>
<rect x="302.8" y="80.91" width="12.2" height="127.69" fill="#2b87c9"/>
<rect x="302.8" y="83.84" width="12.2" height="124.76" fill="#2eb2e6"/>
<rect x="302.8" y="86.76" width="12.2" height="121.84" fill="#51beda"/>
<rect x="302.8" y="89.69" width="12.2" height="118.91" fill="#60beb1"/>
<rect x="302.8" y="92.62" width="12.2" height="115.98" fill="#65b977"/>
<rect x="302.8" y="95.54" width="12.2" height="113.06" fill="#68b548"/>
<rect x="302.8" y="98.47" width="12.2" height="110.13" fill="#6eb632"/>
<rect x="302.8" y="101.39" width="12.2" height="107.21" fill="#75b82d"/>
<rect x="302.8" y="104.32" width="12.2" height="104.28" fill="#7dba28"/>
<rect x="302.8" y="107.25" width="12.2" height="101.35" fill="#8abe26"/>
<rect x="302.8" y="110.17" width="12.2" height="98.43" fill="#99c324"/>
<rect x="302.8" y="113.10" width="12.2" height="95.50" fill="#a7c822"/>
<rect x="302.8" y="116.02" width="12.2" height="92.58" fill="#bacf24"/>
<rect x="302.8" y="118.95" width="12.2" height="89.65" fill="#ccd726"/>
<rect x="302.8" y="121.88" width="12.2" height="86.72" fill="#dbde28"/>
<rect x="302.8" y="124.80" width="12.2" height="83.80" fill="#e9e62a"/>
<rect x="302.8" y="127.73" width="12.2" height="80.87" fill="#f1e029"/>
<rect x="302.8" y="130.65" width="12.2" height="77.95" fill="#f3d026"/>
<rect x="302.8" y="133.58" width="12.2" height="75.02" fill="#f5be23"/>
<rect x="302.8" y="136.51" width="12.2" height="72.09" fill="#f4a820"/>
<rect x="302.8" y="139.43" width="12.2" height="69.17" fill="#f2911d"/>
<rect x="302.8" y="142.36" width="12.2" height="66.24" fill="#ef771c"/>
<rect x="302.8" y="145.28" width="12.2" height="63.32" fill="#ec5c1b"/>
<rect x="302.8" y="148.21" width="12.2" height="60.39" fill="#e8411a"/>
<rect x="302.8" y="151.14" width="12.2" height="57.46" fill="#e61b1c"/>
<rect x="302.8" y="154.06" width="12.2" height="54.54" fill="#e6141c"/>
<rect x="302.8" y="156.99" width="12.2" height="51.61" fill="#e6141c"/>
<rect x="302.8" y="159.91" width="12.2" height="48.69" fill="#e6141c"/>
<rect x="302.8" y="162.84" width="12.2" height="45.76" fill="#e6141c"/>
<rect x="302.8" y="165.77" width="12.2" height="42.83" fill="#e6141c"/>
<rect x="302.8" y="168.69" width="12.2" height="39.91" fill="#e6141c"/>
<rect x="302.8" y="171.62" width="12.2" height="36.98" fill="#e6141c"/>
<rect x="302.8" y="174.54" width="12.2" height="34.06" fill="#e6141c"/>
<rect x="302.8" y="177.47" width="12.2" height="31.13" fill="#dc151d"/>
<rect x="302.8" y="180.40" width="12.2" height="28.20" fill="#cc171e"/>
<rect x="302.8" y="183.32" width="12.2" height="25.28" fill="#bc191f"/>
<rect x="302.8" y="186.25" width="12.2" height="22.35" fill="#ae1a20"/>
<rect x="302.8" y="189.18" width="12.2" height="19.42" fill="#a2191f"/>
<rect x="302.8" y="192.10" width="12.2" height="16.50" fill="#97171d"/>
<rect x="302.8" y="195.03" width="12.2" height="13.57" fill="#8c161c"/>
<rect x="302.8" y="197.95" width="12.2" height="10.65" fill="#80141a"/>
<rect x="302.8" y="200.88" width="12.2" height="7.72" fill="#751217"/>
<rect x="302.8" y="203.81" width="12.2" height="4.79" fill="#691015"/>
<rect x="302.8" y="206.73" width="12.2" height="1.87" fill="#5e0d12"/>
</g>
<text x="316.9" y="49.1" font-size="6.35" font-family="'Liberation Serif',serif">3.680</text>
<text x="316.9" y="84.3" font-size="6.35" font-family="'Liberation Serif',serif">5.431</text>
<text x="316.9" y="119.4" font-size="6.35" font-family="'Liberation Serif',serif">7.183</text>
<text x="316.9" y="154.5" font-size="6.35" font-family="'Liberation Serif',serif">8.934</text>
<text x="316.9" y="189.7" font-size="6.35" font-family="'Liberation Serif',serif">10.69</text>
<text x="316.9" y="211.9" font-size="6.35" font-family="'Liberation Serif',serif">11.80</text>
<text x="1.5" y="11.8" font-size="16" font-family="'Liberation Serif',serif">A</text>
<text transform="translate(164.8,10.2) scale(1.07,1)" font-size="10.6" text-anchor="middle" font-family="'Liberation Serif',serif">z=-15.63x<tspan font-size="6.4" dy="-4.2">2</tspan><tspan dy="4.2">-0.00045y²+28.93x+0.089y-6.00</tspan></text>
<text transform="translate(164.8,21.5) scale(1.07,1)" font-size="10.6" text-anchor="middle" font-family="'Liberation Serif',serif">R²=0.3692</text>
<text transform="translate(21.35,133.8) rotate(-92.85)" font-size="15.6" text-anchor="middle" font-family="'Liberation Serif',serif">Percentage of np waveform</text>
<text transform="translate(42.3,223.1) scale(0.69,1)" font-size="10.4" text-anchor="end" font-family="'Liberation Serif',serif">0</text>
<text transform="translate(40.5,196.1) scale(0.69,1)" font-size="10.4" text-anchor="end" font-family="'Liberation Serif',serif">2</text>
<text transform="translate(38.7,168.4) scale(0.69,1)" font-size="10.4" text-anchor="end" font-family="'Liberation Serif',serif">4</text>
<text transform="translate(36.8,139.9) scale(0.69,1)" font-size="10.4" text-anchor="end" font-family="'Liberation Serif',serif">6</text>
<text transform="translate(34.9,110.6) scale(0.69,1)" font-size="10.4" text-anchor="end" font-family="'Liberation Serif',serif">8</text>
<text transform="translate(32.9,80.5) scale(0.69,1)" font-size="10.4" text-anchor="end" font-family="'Liberation Serif',serif">10</text>
<text transform="translate(30.9,49.5) scale(0.69,1)" font-size="10.4" text-anchor="end" font-family="'Liberation Serif',serif">12</text>
<text transform="matrix(0.7700,-0.3049,0.5858,0.2569,39,223.6)" font-size="10" text-anchor="middle" font-family="'Liberation Serif',serif"><tspan dy="3.3">0.5</tspan></text>
<text transform="matrix(0.7712,-0.3235,0.6211,0.2724,56.2,230.8)" font-size="10" text-anchor="middle" font-family="'Liberation Serif',serif"><tspan dy="3.3">0.6</tspan></text>
<text transform="matrix(0.7710,-0.3439,0.6597,0.2894,74.4,238.4)" font-size="10" text-anchor="middle" font-family="'Liberation Serif',serif"><tspan dy="3.3">0.7</tspan></text>
<text transform="matrix(0.7693,-0.3662,0.7021,0.3080,93.8,246.6)" font-size="10" text-anchor="middle" font-family="'Liberation Serif',serif"><tspan dy="3.3">0.8</tspan></text>
<text transform="matrix(0.7657,-0.3907,0.7487,0.3284,114.4,255.2)" font-size="10" text-anchor="middle" font-family="'Liberation Serif',serif"><tspan dy="3.3">0.9</tspan></text>
<text transform="matrix(0.7599,-0.4178,0.8001,0.3509,136.3,264.4)" font-size="10" text-anchor="middle" font-family="'Liberation Serif',serif"><tspan dy="3.3">1.0</tspan></text>
<text transform="matrix(0.7513,-0.4478,0.8569,0.3759,159.8,274.2)" font-size="10" text-anchor="middle" font-family="'Liberation Serif',serif"><tspan dy="3.3">1.1</tspan></text>
<text transform="matrix(0.8219,0.3878,-0.9948,0.4612,83.6,252.6)" font-size="10" text-anchor="middle" font-family="'Liberation Serif',serif"><tspan dy="3.3">Trehalose content</tspan></text>
<text transform="matrix(0.9211,0.3859,-0.6969,0.4596,194.5,278.3)" font-size="10" text-anchor="middle" font-family="'Liberation Serif',serif"><tspan dy="3.3">40</tspan></text>
<text transform="matrix(0.9070,0.3572,-0.6446,0.4251,212.4,267.2)" font-size="10" text-anchor="middle" font-family="'Liberation Serif',serif"><tspan dy="3.3">60</tspan></text>
<text transform="matrix(0.8924,0.3315,-0.5979,0.3943,229.1,256.8)" font-size="10" text-anchor="middle" font-family="'Liberation Serif',serif"><tspan dy="3.3">80</tspan></text>
<text transform="matrix(0.8776,0.3086,-0.5562,0.3668,244.6,247.1)" font-size="10" text-anchor="middle" font-family="'Liberation Serif',serif"><tspan dy="3.3">100</tspan></text>
<text transform="matrix(0.8627,0.2879,-0.5186,0.3420,259.1,238.1)" font-size="10" text-anchor="middle" font-family="'Liberation Serif',serif"><tspan dy="3.3">120</tspan></text>
<text transform="matrix(0.8478,0.2693,-0.4847,0.3197,272.6,229.7)" font-size="10" text-anchor="middle" font-family="'Liberation Serif',serif"><tspan dy="3.3">140</tspan></text>
<text transform="matrix(0.8329,0.2524,-0.4541,0.2995,285.3,221.8)" font-size="10" text-anchor="middle" font-family="'Liberation Serif',serif"><tspan dy="3.3">160</tspan></text>
<text transform="matrix(0.8183,0.2371,-0.4262,0.2811,297.2,214.4)" font-size="10" text-anchor="middle" font-family="'Liberation Serif',serif"><tspan dy="3.3">180</tspan></text>
<text transform="matrix(0.5879,-0.4348,1.1067,0.3657,271.5,246)" font-size="10" text-anchor="middle" font-family="'Liberation Serif',serif"><tspan dy="3.3">Glucose content</tspan></text>
</g>
<g id="pB">
<path d="M414.8,206.1 L406.9,41.8 M432.4,199.2 L426.2,39.5 M449,192.6 L444.3,37.4 M464.7,186.4 L461.3,35.5 M479.5,180.5 L477.4,33.6 M493.5,175 L492.5,31.9 M506.8,169.7 L506.7,30.2 M523.3,174.5 L524.4,31.8 M540.6,179.5 L543.1,33.5 M558.8,184.8 L562.7,35.3 M577.9,190.3 L583.4,37.1 M598,196.1 L605.3,39.1 M619.1,202.3 L628.4,41.2" stroke="#b4b4b4" stroke-width="0.7" fill="none"/>
<path d="M394.2,181.9 L506.8,143.3 L632.1,174.9 M392.3,149.2 L506.8,116.2 L634.1,143.3 M390.3,115.4 L506.7,88.3 L636.2,110.8 M388.3,80.4 L506.7,59.7 L638.3,77.1" stroke="#e4e4e4" stroke-width="0.6" stroke-dasharray="2,2" fill="none"/>
<path d="M396.1,213.6 L386.2,44.2 L506.7,30.2 L640.5,42.3 L630.1,205.5" stroke="#555" stroke-width="0.7" fill="none"/>
<path d="M396.1,213.6 L528.1,268.9 L630.1,205.5 L506.8,169.7 Z" fill="#5f2776"/>
<g transform="scale(0.1)" fill-rule="evenodd"><path d="M4143,2203l74,40 1064,446 1020,-634-1233,-358-1092,433 83,33z" fill="#691b85"/><path d="M4198,2216l103,62 980,411 1020,-634-1233,-358-1075,426 74,29 63,29z" fill="#6b238b"/><path d="M4264,2237l103,69 914,383 1020,-634-1233,-358-1058,419 93,37 78,38z" fill="#692e90"/><path d="M4313,2249l112,81 856,359 1020,-634-1233,-358-1040,412 101,41 95,47z" fill="#603b97"/><path d="M4361,2262l115,90 805,337 1020,-634-1233,-358-1023,405 119,49 102,52z" fill="#51419c"/><path d="M4452,2310l71,61 758,318 1020,-634-1233,-358-1005,398 66,25 62,27 109,57 101,66z" fill="#4146a0"/><path d="M4497,2325l70,65 714,299 1020,-634-1233,-358-986,391 74,28 63,28 59,30 56,32 54,35 60,44z" fill="#2d48a0"/><path d="M4535,2336l73,71 673,282 1020,-634-1233,-358-967,383 74,29 71,31 67,35 55,33 61,41 50,39z" fill="#2349a0"/><path d="M4573,2346l75,77 633,266 1020,-634-1233,-358-948,376 75,28 70,31 67,35 63,38 67,47 56,45z" fill="#1f4a9f"/><path d="M4610,2358l75,81 596,250 1020,-634-1233,-358-928,368 84,31 69,32 74,39 62,39 58,43 63,52z" fill="#2158a7"/><path d="M4646,2369l76,85 559,235 1020,-634-1233,-358-908,360 84,31 78,36 73,40 61,39 64,48 61,54z" fill="#266fb7"/><path d="M4683,2381l74,88 524,220 1020,-634-1233,-358-887,351 84,32 78,35 72,40 68,44 63,49 67,60z" fill="#2c91d1"/><path d="M4712,2387l79,96 490,206 1020,-634-1233,-358-865,343 93,34 77,36 71,40 66,45 69,56 65,61z" fill="#34b9e8"/><path d="M4748,2399l76,98 457,192 1020,-634-1233,-358-843,334 93,34 77,36 70,40 73,50 67,57 70,68z" fill="#5cc0d4"/><path d="M4772,2398l84,113 425,178 1020,-634-1036,-301-109,-25-96,-29-811,322 92,34 77,35 77,45 71,51 72,63 62,64z" fill="#62bda2"/><path d="M4801,2404l86,120 394,165 1020,-634-939,-273-93,-16-82,-18-76,-19-69,-21-769,304 93,34 84,39 76,46 69,52 70,64 66,71z" fill="#66b663"/><path d="M4830,2410l88,127 363,152 1020,-634-870,-253-124,-18-109,-21-97,-24-79,-24-724,287 93,33 83,40 75,46 68,52 69,64 71,78z" fill="#69b53b"/><path d="M4859,2416l89,133 333,140 1020,-634-812,-236-154,-20-125,-21-111,-25-97,-30-677,268 93,33 83,40 73,46 73,58 73,71 68,81z" fill="#70b731"/><path d="M4883,2414l94,148 304,127 1020,-634-762,-221-175,-20-153,-23-125,-27-107,-32-625,248 93,33 82,39 72,46 71,59 70,72 66,81z" fill="#78b92b"/><path d="M4906,2413l100,161 275,115 1020,-634-716,-208-215,-21-171,-23-138,-28-106,-33-571,226 94,32 80,39 71,47 68,59 68,73 69,89z" fill="#82bc27"/><path d="M4935,2419l100,167 246,103 1020,-634-673,-196-253,-20-189,-24-142,-27-58,-15-59,-20-509,202 85,28 42,18 39,21 35,22 34,24 66,59 64,73 72,96z" fill="#90c025"/><path d="M4959,2418l104,180 218,91 1020,-634-633,-184-288,-20-210,-22-83,-13-75,-15-58,-15-59,-21-439,175 85,27 72,35 35,22 32,24 62,60 62,74 68,96z" fill="#9fc523"/><path d="M4973,2399l118,210 190,80 1020,-634-596,-173-349,-20-230,-21-86,-12-66,-12-59,-15-58,-21-357,141 50,14 36,13 62,31 27,18 31,24 28,26 31,34 57,74 68,103z" fill="#b0cb23"/><path d="M4988,2380l130,241 163,68 1020,-634-560,-163-442,-19-253,-18-76,-9-68,-13-49,-13-47,-19-248,98 70,19 25,10 30,16 25,18 23,19 49,55 55,80 62,102z" fill="#c3d325"/><path d="M4911,2179l234,453 136,57 1020,-634-526,-153-773,-20-132,1-29,4-23,5-8,4-9,10-3,19 7,29 19,49z" fill="#d4db27"/><path d="M4996,2287l175,356 110,46 1020,-634-493,-143-377,-7-252,2-86,4-61,6-51,9-39,14-20,13-9,10-7,12-6,19-1,20 2,23 15,57 30,82z" fill="#e3e229"/><path d="M5103,2458l95,196 83,35 1020,-634-461,-134-345,-2-239,6-80,6-71,9-46,11-38,15-21,13-16,15-12,17-7,19-3,20 0,30 11,57 26,83 41,101z" fill="#efe72b"/><path d="M5138,2482l86,183 57,24 1020,-634-430,-125-317,1-128,3-102,6-92,9-66,11-55,15-34,16-21,13-16,16-12,17-8,19-5,20-3,29 3,32 5,33 24,83 39,103z" fill="#f2d727"/><path d="M5171,2506l78,170 32,13 1020,-634-400,-116-309,3-124,5-98,7-74,9-65,11-56,15-44,20-21,14-17,15-14,17-12,24-6,21-4,29 1,31 4,33 21,83 36,103z" fill="#f5c624"/><path d="M5205,2529l70,157 6,3 1020,-634-371,-108-302,6-120,6-95,9-85,11-61,13-52,17-42,20-27,20-15,16-12,17-12,26-5,21-4,30 1,31 4,34 19,84 31,93z" fill="#f4b121"/><path d="M5227,2528l66,154 1008,-627-342,-100-279,7-118,8-94,8-84,13-62,13-62,20-42,20-21,15-22,21-13,17-13,26-7,20-5,29-1,32 3,33 16,83 28,93z" fill="#f39b1e"/><path d="M5249,2526l60,146 992,-617-314,-92-274,9-116,8-91,10-82,13-61,14-61,21-42,20-21,15-23,21-14,17-14,25-7,20-7,30-2,31 1,33 11,72 25,91z" fill="#f0801c"/><path d="M5272,2525l54,137 975,-607-287,-84-269,11-114,9-89,10-81,14-59,14-61,21-42,22-27,19-17,16-19,23-10,19-9,20-7,29-4,31 0,33 9,72 23,91z" fill="#ed651b"/><path d="M5294,2524l48,127 959,-596-260,-76-37,1-245,12-95,9-88,11-79,15-58,14-60,22-42,21-21,15-24,21-15,17-15,25-12,27-6,21-4,31-1,33 7,71 17,80z" fill="#e94a1a"/><path d="M5317,2523l42,118 942,-586-234,-68-91,3-219,14-91,10-83,13-63,13-56,16-49,19-42,21-21,15-24,21-15,17-17,25-12,27-6,21-8,55 4,70 15,78z" fill="#e7261b"/><path d="M5340,2522l36,108 925,-575-208,-61-142,7-194,16-88,11-66,12-61,14-54,17-47,19-33,18-21,14-25,21-15,18-17,24-13,27-7,22-9,54 2,70 14,78z" fill="#e6141c"/><path d="M5360,2510l34,109 907,-564-183,-54-190,11-171,18-135,23-59,15-42,13-47,20-33,18-40,30-17,17-18,24-11,20-11,27-12,54-1,59 9,76z" fill="#e6141c"/><path d="M5383,2509l29,99 889,-553-158,-46-220,14-151,18-119,21-58,16-42,14-47,20-32,18-41,30-22,23-13,18-15,26-9,21-12,54-3,59 7,66z" fill="#e6141c"/><path d="M5404,2498l26,99 871,-542-134,-39-136,8-112,10-132,18-116,23-56,16-41,15-36,16-33,18-21,15-25,21-30,36-12,19-13,28-12,45-5,59 5,64z" fill="#e6141c"/><path d="M5428,2498l21,87 852,-530-110,-32-151,10-125,13-127,19-99,22-84,28-61,30-43,31-23,22-15,18-13,19-13,27-14,45-8,57 2,64z" fill="#e6141c"/><path d="M5452,2497l16,76 833,-518-86,-25-166,12-136,16-110,18-96,24-82,29-59,31-41,31-32,35-24,39-18,52-8,49 0,62z" fill="#e6141c"/><path d="M5474,2487l14,74 813,-506-62,-18-180,14-148,19-93,18-83,21-72,26-60,30-43,30-34,35-25,38-20,51-10,48-2,62z" fill="#e6141c"/><path d="M5498,2476l10,72 793,-493-39,-12-17,1-177,16-158,23-89,19-69,19-70,27-51,27-42,30-34,35-26,38-19,43-11,47-4,52z" fill="#e6141c"/><path d="M5522,2467l7,68 772,-480-16,-5-146,13-120,14-109,19-74,17-67,21-59,23-51,27-42,30-29,29-24,31-21,42-14,46-7,50z" fill="#de151d"/><path d="M5547,2458l4,64 746,-465-209,22-86,13-79,15-72,18-65,21-58,24-41,23-36,25-31,28-29,38-18,34-16,45-7,41z" fill="#ce171e"/><path d="M5572,2449l1,59 708,-441-184,21-83,14-78,16-70,19-54,17-57,25-41,23-36,25-31,29-25,31-23,41-14,37-9,40z" fill="#be181f"/><path d="M5599,2440l-2,53 667,-415-171,22-81,15-63,14-57,16-53,18-48,20-43,23-37,25-31,28-27,30-21,34-16,36-11,39z" fill="#ae1a20"/><path d="M5626,2432l-4,46 624,-389-156,23-127,28-57,16-52,19-46,21-34,18-37,26-25,22-28,30-22,33-14,28-14,38z" fill="#a3191f"/><path d="M5653,2424l-5,37 579,-360-140,23-111,27-96,32-46,21-34,19-30,20-27,22-23,23-24,32-16,28-16,37z" fill="#97171d"/><path d="M5684,2409l-8,35 529,-329-120,22-107,28-83,30-69,36-30,21-27,22-23,23-21,25-16,28-14,28z" fill="#8c161c"/><path d="M5730,2365l-23,60 474,-295-97,20-93,26-80,32-60,32-51,36-40,42z" fill="#80141a"/><path d="M5766,2353l-25,50 412,-256-82,20-66,21-70,28-52,27-51,36-37,35z" fill="#741217"/><path d="M5804,2342l-23,37 340,-212-60,17-63,23-48,21-42,23-38,26-33,28z" fill="#680f15"/><path d="M5874,2301l-44,47 247,-154-75,29-70,36-31,20z" fill="#5d0d12"/></g>
<path d="M396.1,213.6 L391,215.6 M404.5,217.1 L401.4,218.3 M413.1,220.7 L408.1,222.9 M422.1,224.5 L419,225.8 M431.2,228.3 L426.2,230.5 M440.7,232.3 L437.7,233.6 M450.4,236.4 L445.5,238.7 M460.5,240.6 L457.5,242 M470.9,244.9 L466,247.4 M481.6,249.4 L478.7,250.9 M492.7,254 L487.8,256.7 M504.1,258.8 L501.2,260.5 M515.9,263.8 L511.2,266.6 M528.1,268.9 L525.3,270.7 M528.1,268.9 L533.2,271 M537.2,263.3 L540.3,264.5 M546,257.8 L551.1,259.8 M554.4,252.6 L557.5,253.7 M562.6,247.5 L567.7,249.4 M570.4,242.6 L573.5,243.8 M578,237.9 L583.1,239.8 M585.3,233.4 L588.4,234.5 M592.3,229 L597.5,230.7 M599.1,224.7 L602.3,225.8 M605.8,220.6 L611,222.3 M612.1,216.7 L615.3,217.6 M618.3,212.8 L623.6,214.4 M624.3,209.1 L627.5,210 M630.1,205.5 L635.4,207 M396.1,213.6 L390.1,215.9 M395.2,197.9 L392.2,199 M394.2,181.9 L388.2,184 M393.3,165.7 L390.2,166.7 M392.3,149.2 L386.2,151 M391.3,132.5 L388.2,133.3 M390.3,115.4 L384.1,116.8 M389.3,98 L386.2,98.7 M388.3,80.4 L382,81.5 M387.3,62.4 L384.1,62.9 M386.2,44.2 L379.8,44.9" stroke="#333" stroke-width="0.8" fill="none"/>
<path d="M396.1,213.6 L386.2,44.2" stroke="#333" stroke-width="0.8" fill="none"/>
<g transform="scale(0.1)" fill-rule="evenodd"><path class=X d="M6072,685l3,-3 70,0 3,3 20,0 4,3 23,4 30,10 10,6 7,0 33,17 40,27 37,30 30,30-94,60-16,6-7,7-63,33-7,7-30,13-7,7-113,57-7,0-23,13-7,0-23,13-23,7-50,23-17,4-47,20-10,0-73,26-23,4-14,6-23,4-30,10-13,0-17,6-30,4-3,3-17,0-3,3-17,0-3,4-20,0-4,3-20,0-3,3-23,0-107,160-7,17-23,33-40,74-7,6-10,24-16,23-74,47-80,43-6,7-137,70-7,0-36,20-7,0-17,10-23,6-43,20-140,47-24,3-3,4-37,6-16,7-47,7-3,3-37,3-3,4-20,0-4,3-23,0-3,3-30,0-4,4-140,3-3,-3-50,0-3,-4-30,0-4,-3-46,-3-4,-4-16,0-4,-3-43,-7-3,-3-14,0-40,-13-10,0-13,-7-10,0-97,-37 0,-6 34,-50 10,-10 50,-77 13,-13 37,-54 90,-110 70,-73 0,-3 76,-74 77,-63 67,-47 90,-50 6,0 24,-13 16,-3 10,-7 30,-10 10,0 14,-7 43,-6 3,-4 64,-3 3,-3 73,3 4,3 36,4 30,10 14,0 16,6 37,4 3,3 24,0 3,3 50,0 3,4 120,-7 4,-3 40,-4 3,-3 13,0 4,-3 13,0 30,-10 23,-4 120,-40 140,-63 7,-7 43,-20 7,-6 23,-10 24,-17 43,-23 157,-107 66,-37 7,0 17,-10 50,-16 26,-4 4,-3z"/><path class=b d="M6072,685l3,-3 70,0 3,3 20,0 4,3 23,4 30,10 10,6 7,0 33,17 40,27 37,30 30,30-94,60-16,6-7,7-63,33-7,7-30,13-7,7-113,57-7,0-23,13-7,0-23,13-23,7-50,23-17,4-47,20-10,0-73,26-23,4-14,6-23,4-30,10-13,0-17,6-30,4-3,3-17,0-3,3-17,0-3,4-20,0-4,3-20,0-3,3-23,0-107,160-7,17-23,33-40,74-7,6-10,24-16,23-74,47-80,43-6,7-137,70-7,0-36,20-7,0-17,10-23,6-43,20-140,47-24,3-3,4-37,6-16,7-30,3-20,7-17,0-3,3-17,0-3,4-47,3-3,3-30,0-4,4-53,0-3,3-84,0-3,-3-50,0-3,-4-30,0-4,-3-42,-3-28,-16-96,-41-120,-40 80,-120 13,-13 37,-54 90,-110 70,-73 0,-3 76,-74 77,-63 67,-47 90,-50 6,0 24,-13 16,-3 10,-7 30,-10 10,0 14,-7 43,-6 3,-4 64,-3 3,-3 73,3 4,3 36,4 30,10 14,0 16,6 37,4 3,3 24,0 3,3 50,0 3,4 120,-7 4,-3 40,-4 3,-3 13,0 4,-3 13,0 30,-10 23,-4 120,-40 140,-63 7,-7 43,-20 7,-6 23,-10 24,-17 43,-23 157,-107 66,-37 7,0 17,-10 50,-16 26,-4 4,-3z"/><path class=Y d="M6072,685l3,-3 70,0 3,3 20,0 4,3 23,4 30,10 10,6 7,0 33,17 40,27 37,30 30,30-94,60-16,6-7,7-63,33-7,7-30,13-7,7-113,57-7,0-23,13-7,0-23,13-23,7-50,23-17,4-47,20-10,0-73,26-23,4-14,6-23,4-30,10-13,0-17,6-30,4-3,3-17,0-3,3-17,0-3,4-20,0-4,3-20,0-3,3-23,0-107,160-7,17-23,33-40,74-7,6-10,24-16,23-74,47-80,43-6,7-137,70-7,0-36,20-7,0-17,10-23,6-43,20-140,47-24,3-3,4-37,6-16,7-30,3-20,7-17,0-3,3-17,0-3,4-47,3-3,3-30,0-4,4-53,0-3,3-131,-3-19,-14-44,-22-103,-46-148,-50 115,-162 90,-110 86,-93 4,0 83,-80 63,-50 24,-13 30,-24 90,-50 6,0 24,-13 16,-3 10,-7 30,-10 10,0 14,-7 43,-6 3,-4 64,-3 3,-3 73,3 4,3 36,4 30,10 14,0 16,6 37,4 3,3 24,0 3,3 50,0 3,4 120,-7 4,-3 40,-4 3,-3 13,0 4,-3 13,0 30,-10 23,-4 120,-40 140,-63 7,-7 43,-20 7,-6 23,-10 24,-17 43,-23 157,-107 66,-37 7,0 17,-10 50,-16 26,-4 4,-3z"/><path class=Z d="M6072,685l3,-3 70,0 3,3 20,0 4,3 23,4 30,10 10,6 7,0 33,17 40,27 37,30 30,30-94,60-16,6-7,7-63,33-7,7-30,13-7,7-113,57-7,0-23,13-7,0-23,13-23,7-50,23-17,4-47,20-10,0-73,26-23,4-14,6-23,4-30,10-13,0-17,6-30,4-3,3-17,0-3,3-17,0-3,4-20,0-4,3-20,0-3,3-23,0-107,160-7,17-23,33-40,74-7,6-10,24-16,23-74,47-80,43-6,7-137,70-7,0-36,20-7,0-17,10-23,6-43,20-17,4-10,6-80,27-10,0-23,10-24,3-3,4-37,6-16,7-30,3-20,7-17,0-3,3-17,0-3,4-47,3-3,3-87,4-3,3-64,0-66,-41-80,-39-110,-45-107,-35 47,-70 13,-13 7,-14 83,-106 123,-137 4,0 83,-80 63,-50 24,-13 30,-24 90,-50 6,0 24,-13 16,-3 10,-7 30,-10 10,0 14,-7 43,-6 3,-4 64,-3 3,-3 73,3 4,3 36,4 30,10 14,0 16,6 37,4 3,3 24,0 3,3 50,0 3,4 120,-7 4,-3 40,-4 3,-3 13,0 4,-3 13,0 30,-10 23,-4 120,-40 140,-63 7,-7 43,-20 7,-6 23,-10 24,-17 43,-23 157,-107 66,-37 7,0 17,-10 50,-16 26,-4 4,-3z"/><path class=a1 d="M6072,685l3,-3 70,0 3,3 20,0 4,3 23,4 30,10 10,6 7,0 33,17 40,27 37,30 30,30-94,60-16,6-7,7-63,33-7,7-30,13-7,7-113,57-7,0-23,13-7,0-23,13-23,7-50,23-17,4-47,20-10,0-73,26-23,4-14,6-23,4-30,10-13,0-17,6-30,4-3,3-17,0-3,3-17,0-3,4-20,0-4,3-20,0-3,3-23,0-107,160-7,17-23,33-40,74-7,6-10,24-16,23-74,47-80,43-6,7-180,90-7,0-17,10-23,6-43,20-17,4-10,6-70,24-20,3-23,10-24,3-3,4-50,10-3,3-30,3-20,7-17,0-3,3-17,0-3,4-20,0-4,3-56,3-4,4-53,0-10,3-10,-10-54,-33-109,-57-100,-41-130,-44 30,-45 13,-13 7,-14 83,-106 123,-137 4,0 83,-80 63,-50 24,-13 30,-24 90,-50 6,0 24,-13 16,-3 10,-7 30,-10 10,0 14,-7 43,-6 3,-4 64,-3 3,-3 73,3 4,3 36,4 30,10 14,0 16,6 37,4 3,3 24,0 3,3 50,0 3,4 120,-7 4,-3 40,-4 3,-3 13,0 4,-3 13,0 30,-10 23,-4 120,-40 140,-63 7,-7 43,-20 7,-6 23,-10 24,-17 43,-23 157,-107 66,-37 7,0 17,-10 50,-16 26,-4 4,-3z"/><path class=b1 d="M6072,685l3,-3 70,0 3,3 20,0 4,3 23,4 30,10 10,6 7,0 33,17 40,27 37,30 30,30-94,60-16,6-7,7-63,33-7,7-30,13-7,7-113,57-7,0-23,13-7,0-23,13-23,7-50,23-17,4-47,20-10,0-73,26-23,4-14,6-23,4-30,10-13,0-17,6-30,4-3,3-17,0-3,3-17,0-3,4-20,0-4,3-20,0-3,3-23,0-107,160-7,17-23,33-40,74-7,6-10,24-16,23-74,47-80,43-6,7-180,90-7,0-17,10-23,6-43,20-17,4-10,6-80,27-10,0-23,10-24,3-3,4-37,6-16,7-47,7-3,3-134,17-74,-50-96,-53-133,-58-137,-45 64,-88 53,-66 123,-137 4,0 83,-80 63,-50 24,-13 30,-24 90,-50 6,0 24,-13 16,-3 10,-7 30,-10 10,0 14,-7 43,-6 3,-4 64,-3 3,-3 73,3 4,3 36,4 30,10 14,0 16,6 37,4 3,3 24,0 3,3 50,0 3,4 120,-7 4,-3 40,-4 3,-3 13,0 4,-3 13,0 30,-10 23,-4 120,-40 140,-63 7,-7 43,-20 7,-6 23,-10 24,-17 43,-23 157,-107 66,-37 7,0 17,-10 50,-16 26,-4 4,-3z"/><path class=c1 d="M6072,685l3,-3 70,0 3,3 20,0 4,3 23,4 30,10 10,6 7,0 33,17 40,27 37,30 30,30-94,60-16,6-7,7-63,33-7,7-30,13-7,7-113,57-7,0-23,13-7,0-23,13-23,7-50,23-17,4-47,20-10,0-73,26-23,4-14,6-23,4-30,10-13,0-17,6-30,4-3,3-17,0-3,3-17,0-3,4-20,0-4,3-20,0-3,3-23,0-107,160-7,17-23,33-40,74-7,6-10,24-16,23-74,47-80,43-6,7-180,90-7,0-17,10-23,6-43,20-17,4-10,6-80,27-10,0-23,10-24,3-3,4-37,6-16,7-47,7-3,3-37,3-3,4-20,0-4,3-23,0-99,-67-118,-64-126,-53-126,-40 46,-63 90,-110 70,-73 0,-3 76,-74 77,-63 67,-47 56,-30 7,-6 7,0 6,-7 20,-7 24,-13 93,-30 13,0 20,-7 20,0 4,-3 40,0 3,-3 73,3 4,3 36,4 30,10 14,0 16,6 37,4 3,3 24,0 3,3 50,0 3,4 120,-7 4,-3 40,-4 3,-3 13,0 4,-3 13,0 30,-10 23,-4 120,-40 140,-63 7,-7 43,-20 7,-6 23,-10 24,-17 43,-23 157,-107 66,-37 7,0 17,-10 50,-16 26,-4 4,-3z"/><path class=d1 d="M6072,685l3,-3 70,0 3,3 20,0 4,3 23,4 30,10 10,6 7,0 33,17 40,27 37,30 30,30-94,60-16,6-7,7-63,33-7,7-30,13-7,7-113,57-7,0-23,13-7,0-23,13-23,7-50,23-17,4-47,20-10,0-73,26-23,4-14,6-23,4-30,10-13,0-17,6-30,4-3,3-17,0-3,3-17,0-3,4-20,0-4,3-20,0-3,3-23,0-107,160-7,17-23,33-40,74-7,6-10,24-16,23-74,47-80,43-6,7-180,90-7,0-17,10-23,6-43,20-17,4-10,6-80,27-10,0-23,10-24,3-3,4-37,6-16,7-30,3-20,7-17,0-3,3-17,0-5,4-18,-17-103,-70-131,-71-120,-49-124,-39 118,-148 70,-73 0,-3 76,-74 77,-63 67,-47 56,-30 7,-6 7,0 6,-7 20,-7 24,-13 93,-30 13,0 20,-7 20,0 4,-3 40,0 3,-3 73,3 4,3 36,4 30,10 14,0 16,6 37,4 3,3 24,0 3,3 50,0 3,4 120,-7 4,-3 40,-4 3,-3 13,0 4,-3 13,0 30,-10 23,-4 120,-40 140,-63 7,-7 43,-20 7,-6 23,-10 24,-17 43,-23 157,-107 66,-37 7,0 17,-10 50,-16 26,-4 4,-3z"/><path class=e1 d="M6072,685l3,-3 70,0 3,3 20,0 4,3 23,4 30,10 10,6 7,0 33,17 40,27 37,30 30,30-94,60-16,6-7,7-63,33-7,7-30,13-7,7-113,57-7,0-23,13-7,0-23,13-23,7-50,23-17,4-47,20-10,0-73,26-23,4-14,6-23,4-30,10-13,0-17,6-30,4-3,3-17,0-3,3-17,0-3,4-20,0-4,3-20,0-3,3-23,0-107,160-7,17-23,33-40,74-7,6-10,24-16,23-74,47-80,43-6,7-137,70-7,0-60,30-23,6-43,20-17,4-10,6-80,27-10,0-23,10-24,3-3,4-37,6-16,7-14,0-3,3-13,0-4,4-15,2-105,-79-111,-67-132,-60-80,-29-93,-27 126,-154 60,-63 4,0 56,-57 77,-63 67,-47 56,-30 7,-6 7,0 6,-7 20,-7 24,-13 93,-30 13,0 20,-7 20,0 4,-3 40,0 3,-3 73,3 4,3 36,4 30,10 14,0 16,6 37,4 3,3 24,0 3,3 50,0 3,4 120,-7 4,-3 40,-4 3,-3 13,0 4,-3 13,0 30,-10 23,-4 120,-40 140,-63 7,-7 43,-20 7,-6 23,-10 24,-17 43,-23 157,-107 66,-37 7,0 17,-10 50,-16 26,-4 4,-3z"/><path class=f1 d="M6072,685l3,-3 70,0 3,3 20,0 4,3 23,4 30,10 10,6 7,0 33,17 40,27 37,30 30,30-94,60-16,6-7,7-63,33-7,7-30,13-7,7-113,57-7,0-23,13-7,0-23,13-23,7-50,23-17,4-47,20-10,0-73,26-23,4-14,6-23,4-30,10-13,0-17,6-30,4-3,3-17,0-3,3-17,0-3,4-20,0-4,3-20,0-3,3-23,0-107,160-7,17-23,33-40,74-7,6-10,24-16,23-74,47-80,43-6,7-137,70-7,0-60,30-23,6-43,20-17,4-10,6-80,27-10,0-23,10-24,3-3,4-37,6-16,7-10,0-100,-79-62,-41-82,-47-93,-43-70,-27-133,-40 43,-56 63,-74 60,-63 4,0 83,-80 63,-50 24,-13 30,-24 56,-30 7,-6 7,0 6,-7 20,-7 24,-13 93,-30 13,0 20,-7 20,0 4,-3 40,0 3,-3 73,3 4,3 36,4 30,10 14,0 16,6 37,4 3,3 24,0 3,3 50,0 3,4 120,-7 4,-3 40,-4 3,-3 13,0 4,-3 13,0 30,-10 23,-4 120,-40 140,-63 7,-7 43,-20 7,-6 23,-10 24,-17 43,-23 157,-107 66,-37 7,0 17,-10 50,-16 26,-4 4,-3z"/><path class=g1 d="M6072,685l3,-3 70,0 3,3 20,0 4,3 23,4 30,10 10,6 7,0 33,17 40,27 37,30 30,30-94,60-16,6-7,7-63,33-7,7-30,13-7,7-113,57-7,0-23,13-7,0-23,13-23,7-50,23-17,4-47,20-10,0-73,26-23,4-14,6-23,4-30,10-13,0-17,6-30,4-3,3-17,0-3,3-17,0-3,4-20,0-4,3-20,0-3,3-23,0-107,160-7,17-23,33-40,74-7,6-10,24-16,23-74,47-80,43-6,7-137,70-7,0-60,30-23,6-43,20-17,4-10,6-80,27-10,0-23,10-52,12-62,-54-60,-45-123,-76-60,-30-77,-33-86,-31-91,-26 61,-74 70,-73 0,-3 103,-97 63,-50 24,-13 30,-24 56,-30 7,-6 7,0 6,-7 20,-7 24,-13 93,-30 13,0 20,-7 20,0 4,-3 40,0 3,-3 73,3 4,3 36,4 30,10 14,0 16,6 37,4 3,3 24,0 3,3 50,0 3,4 120,-7 4,-3 40,-4 3,-3 13,0 4,-3 13,0 30,-10 23,-4 120,-40 140,-63 7,-7 43,-20 7,-6 23,-10 24,-17 43,-23 157,-107 66,-37 7,0 17,-10 50,-16 26,-4 4,-3z"/><path class=h1 d="M6072,685l3,-3 70,0 3,3 20,0 4,3 23,4 30,10 10,6 7,0 33,17 40,27 37,30 30,30-94,60-16,6-7,7-63,33-7,7-30,13-7,7-113,57-7,0-23,13-7,0-23,13-23,7-50,23-17,4-47,20-10,0-73,26-23,4-14,6-23,4-30,10-13,0-17,6-30,4-3,3-17,0-3,3-17,0-3,4-20,0-4,3-20,0-3,3-23,0-107,160-7,17-23,33-40,74-7,6-10,24-16,23-74,47-16,6-70,44-44,20-6,6-130,64-7,0-17,10-23,6-43,20-153,50-64,-57-73,-56-123,-77-71,-35-73,-32-77,-26-96,-27 40,-50 70,-73 0,-3 103,-97 63,-50 24,-13 30,-24 56,-30 7,-6 7,0 6,-7 20,-7 24,-13 93,-30 13,0 20,-7 20,0 4,-3 40,0 3,-3 73,3 4,3 36,4 30,10 14,0 16,6 37,4 3,3 24,0 3,3 50,0 3,4 120,-7 4,-3 40,-4 3,-3 13,0 4,-3 13,0 30,-10 23,-4 120,-40 140,-63 7,-7 43,-20 7,-6 23,-10 24,-17 43,-23 157,-107 66,-37 7,0 17,-10 50,-16 26,-4 4,-3z"/><path class=i1 d="M6072,685l3,-3 70,0 3,3 20,0 4,3 23,4 30,10 10,6 7,0 33,17 40,27 37,30 30,30-94,60-16,6-7,7-63,33-7,7-30,13-7,7-113,57-7,0-23,13-7,0-23,13-23,7-50,23-17,4-47,20-10,0-73,26-23,4-14,6-23,4-30,10-13,0-17,6-30,4-3,3-17,0-3,3-17,0-3,4-20,0-4,3-20,0-3,3-23,0-107,160-7,17-23,33-40,74-7,6-10,24-16,23-74,47-16,6-70,44-44,20-6,6-130,64-7,0-17,10-23,6-43,20-119,39-65,-60-76,-61-60,-41-77,-46-70,-34-93,-38-150,-45 46,-54 44,-43 0,-3 103,-97 63,-50 24,-13 30,-24 56,-30 7,-6 7,0 6,-7 20,-7 24,-13 93,-30 13,0 20,-7 20,0 4,-3 40,0 3,-3 73,3 4,3 36,4 30,10 14,0 16,6 37,4 3,3 24,0 3,3 50,0 3,4 120,-7 4,-3 40,-4 3,-3 13,0 4,-3 13,0 30,-10 23,-4 120,-40 140,-63 7,-7 43,-20 7,-6 23,-10 24,-17 43,-23 157,-107 66,-37 7,0 17,-10 50,-16 26,-4 4,-3z"/><path class=j1 d="M6072,685l3,-3 70,0 3,3 20,0 4,3 23,4 30,10 10,6 7,0 33,17 40,27 37,30 30,30-94,60-16,6-7,7-63,33-7,7-30,13-7,7-113,57-7,0-23,13-7,0-23,13-23,7-50,23-17,4-47,20-10,0-73,26-23,4-14,6-23,4-30,10-13,0-17,6-30,4-3,3-17,0-3,3-17,0-3,4-20,0-4,3-20,0-3,3-23,0-107,160-7,17-23,33-40,74-7,6-10,24-16,23-74,47-16,6-70,44-44,20-6,6-130,64-7,0-17,10-23,6-43,20-84,27-70,-65-73,-60-83,-58-64,-38-63,-32-93,-38-77,-25-82,-22 85,-92 4,0 56,-57 77,-63 100,-67 87,-43 93,-30 13,0 20,-7 20,0 4,-3 40,0 3,-3 73,3 4,3 36,4 30,10 14,0 16,6 37,4 3,3 24,0 3,3 50,0 3,4 120,-7 4,-3 40,-4 3,-3 13,0 4,-3 13,0 30,-10 23,-4 120,-40 140,-63 7,-7 43,-20 7,-6 23,-10 24,-17 43,-23 157,-107 66,-37 7,0 17,-10 50,-16 26,-4 4,-3z"/><path class=k1 d="M6072,685l3,-3 70,0 3,3 20,0 4,3 23,4 30,10 10,6 7,0 33,17 40,27 37,30 30,30-94,60-16,6-7,7-63,33-7,7-30,13-7,7-113,57-7,0-23,13-7,0-23,13-23,7-50,23-17,4-47,20-10,0-73,26-23,4-14,6-23,4-30,10-13,0-17,6-30,4-3,3-17,0-3,3-17,0-3,4-20,0-4,3-20,0-3,3-23,0-107,160-7,17-23,33-40,74-7,6-10,24-16,23-74,47-16,6-70,44-44,20-6,6-130,64-7,0-17,10-23,6-43,20-17,4-10,6-22,7-72,-70-86,-72-80,-57-67,-39-76,-38-80,-32-70,-23-84,-22 44,-50 76,-74 90,-73 24,-13 30,-24 56,-30 7,-6 7,0 20,-14 6,0 24,-13 16,-3 10,-7 30,-10 10,0 14,-7 10,0 3,-3 13,0 4,-3 36,-4 4,-3 40,0 3,-3 73,3 4,3 36,4 30,10 14,0 16,6 37,4 3,3 24,0 3,3 50,0 3,4 120,-7 4,-3 40,-4 3,-3 13,0 4,-3 13,0 30,-10 23,-4 120,-40 140,-63 7,-7 43,-20 7,-6 23,-10 24,-17 43,-23 157,-107 66,-37 7,0 17,-10 50,-16 26,-4 4,-3z"/><path class=l1 d="M6072,685l3,-3 70,0 3,3 20,0 4,3 23,4 30,10 10,6 7,0 33,17 40,27 37,30 30,30-94,60-16,6-7,7-63,33-7,7-30,13-7,7-113,57-7,0-23,13-7,0-23,13-23,7-50,23-17,4-47,20-10,0-73,26-23,4-14,6-23,4-30,10-13,0-17,6-30,4-3,3-17,0-3,3-17,0-3,4-20,0-4,3-20,0-3,3-23,0-107,160-7,17-23,33-40,74-7,6-10,24-16,23-74,47-16,6-70,44-44,20-6,6-130,64-7,0-17,10-23,6-43,20-16,4-78,-77-80,-68-74,-55-69,-44-77,-39-76,-32-87,-29-85,-21 35,-39 63,-60 90,-73 24,-13 30,-24 56,-30 7,-6 7,0 20,-14 6,0 24,-13 16,-3 10,-7 30,-10 10,0 14,-7 10,0 3,-3 13,0 4,-3 36,-4 4,-3 40,0 3,-3 73,3 4,3 36,4 30,10 14,0 16,6 37,4 3,3 24,0 3,3 50,0 3,4 120,-7 4,-3 40,-4 3,-3 13,0 4,-3 13,0 30,-10 23,-4 120,-40 140,-63 7,-7 43,-20 7,-6 23,-10 24,-17 43,-23 157,-107 66,-37 7,0 17,-10 50,-16 26,-4 4,-3z"/><path class=m1 d="M6072,685l3,-3 70,0 3,3 20,0 4,3 23,4 30,10 10,6 7,0 33,17 40,27 37,30 30,30-94,60-16,6-7,7-63,33-7,7-30,13-7,7-113,57-7,0-23,13-7,0-23,13-23,7-50,23-17,4-47,20-10,0-73,26-23,4-14,6-23,4-30,10-13,0-17,6-30,4-3,3-17,0-3,3-17,0-3,4-20,0-4,3-20,0-3,3-23,0-107,160-7,17-23,33-40,74-7,6-10,24-16,23-74,47-16,6-70,44-44,20-6,6-130,64-7,0-17,10-6,0-43,19-67,-69-81,-74-73,-57-66,-45-80,-44-84,-37-66,-23-119,-31 102,-96 97,-73 53,-34 23,-10 7,-6 7,0 20,-14 6,0 24,-13 16,-3 10,-7 30,-10 10,0 14,-7 10,0 3,-3 13,0 4,-3 36,-4 4,-3 40,0 3,-3 73,3 4,3 36,4 30,10 14,0 16,6 37,4 3,3 24,0 3,3 50,0 3,4 120,-7 4,-3 40,-4 3,-3 13,0 4,-3 13,0 30,-10 23,-4 120,-40 140,-63 7,-7 43,-20 7,-6 23,-10 24,-17 43,-23 157,-107 66,-37 7,0 17,-10 50,-16 26,-4 4,-3z"/><path class=n1 d="M6072,685l3,-3 70,0 3,3 20,0 4,3 23,4 30,10 10,6 7,0 33,17 40,27 37,30 30,30-94,60-16,6-7,7-63,33-7,7-30,13-7,7-113,57-7,0-23,13-7,0-23,13-23,7-50,23-17,4-47,20-10,0-73,26-23,4-14,6-23,4-30,10-13,0-17,6-30,4-3,3-17,0-3,3-17,0-3,4-20,0-4,3-20,0-3,3-23,0-107,160-7,17-23,33-40,74-7,6-10,24-16,23-74,47-80,43-6,7-137,70-7,0-36,20-7,0-33,16-63,-66-81,-76-70,-59-95,-65-75,-40-83,-36-87,-29-86,-22 73,-70 97,-73 53,-34 23,-10 7,-6 7,0 20,-14 6,0 24,-13 16,-3 10,-7 30,-10 10,0 14,-7 10,0 3,-3 13,0 4,-3 36,-4 4,-3 40,0 3,-3 73,3 4,3 36,4 30,10 14,0 16,6 37,4 3,3 24,0 3,3 50,0 3,4 120,-7 4,-3 40,-4 3,-3 13,0 4,-3 13,0 30,-10 23,-4 120,-40 140,-63 7,-7 43,-20 7,-6 23,-10 24,-17 43,-23 157,-107 66,-37 7,0 17,-10 50,-16 26,-4 4,-3z"/><path class=o1 d="M6072,685l3,-3 70,0 3,3 20,0 4,3 23,4 30,10 10,6 7,0 33,17 40,27 37,30 30,30-94,60-16,6-7,7-63,33-7,7-30,13-7,7-113,57-7,0-23,13-7,0-23,13-23,7-50,23-17,4-47,20-10,0-73,26-23,4-14,6-23,4-30,10-13,0-17,6-30,4-3,3-17,0-3,3-17,0-3,4-20,0-4,3-20,0-3,3-23,0-107,160-7,17-23,33-40,74-7,6-10,24-16,23-74,47-80,43-6,7-180,90-10,3-77,-83-99,-94-74,-60-64,-43-83,-45-80,-34-63,-21-104,-26 47,-44 50,-40 100,-67 87,-43 93,-30 13,0 20,-7 20,0 4,-3 73,-3 3,3 64,3 3,4 13,0 30,10 14,0 3,3 30,3 3,4 17,0 3,3 117,7 3,-4 80,-3 4,-3 20,0 3,-4 17,0 20,-6 13,0 30,-10 23,-4 14,-6 10,0 70,-24 10,-6 33,-10 17,-10 6,0 17,-10 7,0 36,-20 7,0 113,-60 24,-17 43,-23 17,-14 10,-3 110,-77 36,-23 17,-7 7,-6 50,-24 50,-16 26,-4 4,-3z"/><path class=p1 d="M6072,685l3,-3 70,0 3,3 20,0 4,3 23,4 30,10 10,6 7,0 33,17 40,27 37,30 30,30-94,60-16,6-7,7-63,33-7,7-30,13-7,7-113,57-7,0-23,13-7,0-23,13-23,7-50,23-17,4-47,20-10,0-73,26-23,4-14,6-23,4-30,10-13,0-17,6-30,4-3,3-17,0-3,3-17,0-3,4-64,0-26,33-24,40-30,40-6,17-10,10-4,10-13,16-7,17-23,33-40,74-7,6-10,24-16,23-74,47-80,43-6,7-160,79-44,-50-103,-106-87,-76-80,-58-76,-44-64,-29-86,-30-105,-25 18,-18 63,-50 87,-57 87,-43 93,-30 13,0 20,-7 20,0 4,-3 73,-3 3,3 64,3 3,4 13,0 30,10 14,0 3,3 30,3 3,4 17,0 3,3 117,7 3,-4 50,0 4,-3 26,0 4,-3 40,-4 3,-3 30,-3 30,-10 23,-4 14,-6 10,0 70,-24 10,-6 16,-4 10,-6 7,0 123,-57 7,-7 43,-20 7,-6 23,-10 24,-17 43,-23 157,-107 66,-37 7,0 17,-10 50,-16 26,-4 4,-3z"/><path class=q1 d="M6072,685l3,-3 70,0 3,3 20,0 4,3 23,4 30,10 10,6 7,0 33,17 40,27 37,30 30,30-94,60-16,6-7,7-63,33-7,7-30,13-7,7-113,57-7,0-23,13-7,0-23,13-23,7-50,23-17,4-47,20-10,0-73,26-23,4-14,6-23,4-30,10-13,0-17,6-51,8-79,-4-7,13-10,7-6,13-10,10-24,40-30,40-6,17-10,10-4,10-13,16-7,17-43,67-47,86-63,44-33,16-47,30-17,7-6,7-129,65-104,-115-77,-77-76,-67-58,-42-76,-47-67,-30-87,-30-100,-23 84,-64 53,-34 23,-10 7,-6 7,0 20,-14 6,0 24,-13 16,-3 10,-7 30,-10 10,0 14,-7 10,0 3,-3 30,-3 3,-4 64,-3 3,-3 73,3 4,3 36,4 30,10 14,0 16,6 37,4 3,3 117,7 3,-4 50,0 4,-3 26,0 4,-3 40,-4 3,-3 30,-3 30,-10 23,-4 14,-6 10,0 70,-24 10,-6 16,-4 10,-6 7,0 123,-57 7,-7 43,-20 7,-6 23,-10 24,-17 43,-23 157,-107 66,-37 7,0 17,-10 50,-16 26,-4 4,-3z"/><path class=r1 d="M6072,685l3,-3 70,0 3,3 20,0 4,3 23,4 30,10 10,6 7,0 33,17 40,27 37,30 30,30-94,60-16,6-7,7-63,33-7,7-30,13-7,7-113,57-7,0-53,26-23,7-17,10-50,17-10,6-120,40-10,0-27,10-10,0-3,4-10,0-3,3-56,12-121,-6-17,24-10,7-36,53-4,10-10,10-10,20-10,10-6,17-10,10-34,60-33,50-47,86-26,20-10,4-27,20-33,16-24,17-143,77-133,-147-60,-61-69,-62-65,-50-70,-43-73,-34-82,-27-91,-20 70,-50 90,-50 6,0 24,-13 16,-3 10,-7 30,-10 10,0 14,-7 26,-3 4,-3 13,0 3,-4 64,-3 3,-3 73,3 4,3 36,4 30,10 14,0 16,6 37,4 3,3 117,7 3,-4 50,0 4,-3 26,0 4,-3 40,-4 3,-3 30,-3 30,-10 23,-4 14,-6 10,0 70,-24 10,-6 16,-4 10,-6 7,0 123,-57 7,-7 43,-20 7,-6 23,-10 24,-17 43,-23 157,-107 66,-37 7,0 17,-10 50,-16 26,-4 4,-3z"/><path class=s1 d="M6072,685l3,-3 70,0 3,3 20,0 4,3 23,4 30,10 10,6 7,0 33,17 40,27 37,30 30,30-94,60-16,6-7,7-63,33-7,7-30,13-7,7-113,57-7,0-53,26-23,7-17,10-50,17-10,6-120,40-23,4-14,6-10,0-29,10-157,-6-24,33-10,7-36,53-4,10-10,10-10,20-10,10-6,17-10,10-34,60-33,50-47,86-80,54-16,6-70,44-44,20-26,16-81,-96-102,-110-71,-70-73,-60-63,-42-74,-36-93,-29-72,-15 9,-8 53,-34 87,-43 80,-27 43,-6 3,-4 20,0 4,-3 40,0 3,-3 73,3 4,3 36,4 30,10 14,0 16,6 37,4 3,3 117,7 3,-4 50,0 4,-3 26,0 4,-3 40,-4 3,-3 30,-3 30,-10 23,-4 14,-6 10,0 70,-24 10,-6 16,-4 10,-6 7,0 123,-57 7,-7 43,-20 7,-6 23,-10 24,-17 43,-23 157,-107 66,-37 7,0 17,-10 50,-16 26,-4 4,-3z"/><path class=t1 d="M6072,685l3,-3 70,0 3,3 20,0 4,3 23,4 30,10 10,6 7,0 33,17 40,27 37,30 30,30-94,60-16,6-7,7-63,33-7,7-30,13-7,7-173,83-23,7-17,10-50,17-10,6-27,7-10,7-10,0-73,26-23,4-13,6-191,-6-30,43-10,7-36,53-4,10-10,10-10,20-10,10-6,17-10,10-34,60-33,50-47,86-80,54-16,6-24,17-86,47-203,-234-69,-70-58,-51-67,-46-60,-30-77,-25-81,-16 75,-42 6,0 24,-13 16,-3 10,-7 30,-10 10,0 14,-7 10,0 3,-3 13,0 20,-7 20,0 4,-3 40,0 3,-3 73,3 4,3 96,20 37,4 3,3 24,0 3,3 50,0 3,4 120,-7 4,-3 40,-4 3,-3 13,0 4,-3 13,0 30,-10 23,-4 120,-40 140,-63 7,-7 43,-20 7,-6 23,-10 24,-17 43,-23 157,-107 66,-37 7,0 17,-10 50,-16 26,-4 4,-3z"/><path class=u1 d="M6072,685l3,-3 70,0 3,3 20,0 4,3 23,4 30,10 10,6 7,0 33,17 40,27 37,30 30,30-94,60-16,6-7,7-63,33-7,7-30,13-7,7-173,83-23,7-17,10-50,17-10,6-27,7-10,7-10,0-72,25-221,-5-37,53-10,7-6,13-10,10-24,40-30,40-6,17-10,10-34,60-33,50-47,86-63,44-115,65-225,-268-69,-74-54,-52-44,-33-58,-32-58,-18-75,-13 45,-22 80,-27 43,-6 3,-4 64,-3 3,-3 23,0 37,10 60,11 115,12 5,3 50,0 3,4 120,-7 4,-3 40,-4 3,-3 13,0 4,-3 13,0 30,-10 23,-4 120,-40 140,-63 7,-7 43,-20 7,-6 23,-10 24,-17 43,-23 157,-107 66,-37 7,0 17,-10 50,-16 26,-4 4,-3z"/><path class=v1 d="M6072,685l3,-3 70,0 3,3 20,0 4,3 23,4 30,10 10,6 7,0 33,17 40,27 37,30 30,30-94,60-16,6-7,7-63,33-7,7-30,13-7,7-173,83-23,7-17,10-50,17-10,6-27,7-10,7-10,0-40,14-246,-4-45,63-9,7-6,13-10,10-24,40-30,40-6,17-10,10-34,60-33,50-47,86-63,44-33,16-54,34-278,-347-64,-87-19,-33-2,-7 6,-16 27,-10 94,-4 147,0 9,4 90,-4 4,-3 26,0 4,-3 20,0 3,-4 17,0 20,-6 13,0 30,-10 23,-4 14,-6 10,0 70,-24 10,-6 33,-10 17,-10 6,0 17,-10 7,0 36,-20 7,0 113,-60 24,-17 43,-23 17,-14 10,-3 110,-77 36,-23 17,-7 7,-6 50,-24 50,-16 26,-4 4,-3z"/><path class=w1 d="M6072,685l3,-3 70,0 3,3 20,0 4,3 23,4 30,10 10,6 7,0 33,17 40,27 37,30 30,30-94,60-16,6-7,7-63,33-7,7-30,13-7,7-173,83-23,7-17,10-50,17-10,6-27,7-10,7-20,2-266,-4-48,62-7,13-9,7-36,53-4,10-10,10-10,20-10,10-6,17-10,10-34,60-33,50-47,86-26,20-10,4-27,20-33,16-24,17-186,-237-54,-76-36,-64-12,-33 1,-23 14,-20 17,-9 33,-10 49,-8 154,-7 4,-3 26,0 4,-3 40,-4 3,-3 13,0 4,-3 13,0 30,-10 23,-4 14,-6 10,0 70,-24 10,-6 33,-10 17,-10 6,0 17,-10 7,0 36,-20 7,0 113,-60 24,-17 43,-23 17,-14 10,-3 110,-77 36,-23 17,-7 7,-6 50,-24 50,-16 26,-4 4,-3z"/><path class=x1 d="M6072,685l3,-3 70,0 3,3 20,0 4,3 23,4 30,10 10,6 7,0 33,17 40,27 37,30 30,30-94,60-16,6-7,7-63,33-7,7-30,13-7,7-113,57-7,0-53,26-7,0-33,17-7,0-10,7-6,0-47,20-307,0-54,70-7,13-9,7-36,53-4,10-10,10-10,20-10,10-6,17-10,10-34,60-33,50-47,86-26,20-10,4-27,20-31,16-155,-203-68,-107-18,-40-8,-33 2,-23 13,-20 24,-17 41,-14 87,-13 66,-3 4,-3 20,0 3,-4 17,0 20,-6 13,0 30,-10 23,-4 14,-6 10,0 70,-24 10,-6 16,-4 57,-26 7,0 36,-20 7,0 113,-60 24,-17 43,-23 17,-14 10,-3 110,-77 36,-23 17,-7 7,-6 50,-24 50,-16 26,-4 4,-3z"/><path class=y1 d="M6072,685l3,-3 70,0 3,3 20,0 4,3 23,4 30,10 10,6 7,0 33,17 40,27 37,30 30,30-94,60-16,6-7,7-63,33-7,7-30,13-7,7-113,57-7,0-23,13-7,0-23,13-23,7-50,23-337,4-61,80-7,13-9,7-36,53-4,10-10,10-10,20-10,10-6,17-10,10-34,60-33,50-47,86-26,20-40,24-121,-160-39,-57-37,-64-17,-36-10,-40 3,-30 15,-23 29,-20 38,-14 48,-10 47,-3 4,-3 20,0 3,-4 17,0 20,-6 13,0 30,-10 23,-4 14,-6 10,0 70,-24 10,-6 16,-4 10,-6 7,0 83,-40 7,0 113,-60 24,-17 43,-23 17,-14 10,-3 110,-77 36,-23 17,-7 7,-6 50,-24 50,-16 26,-4 4,-3z"/><path class=z1 d="M6072,685l3,-3 70,0 3,3 20,0 4,3 23,4 30,10 10,6 7,0 33,17 40,27 37,30 30,30-94,60-16,6-7,7-63,33-7,7-30,13-7,7-113,57-7,0-23,13-7,0-40,20-6,0-17,10-360,4-71,93-7,13-9,7-36,53-4,10-10,10-10,20-10,10-6,17-10,10-34,60-33,50-47,86-39,27-124,-170-34,-53-29,-56-15,-48-2,-30 8,-23 15,-20 26,-17 33,-13 56,-13 19,0 3,-4 17,0 20,-6 13,0 30,-10 23,-4 14,-6 10,0 70,-24 10,-6 33,-10 17,-10 6,0 17,-10 7,0 36,-20 7,0 33,-17 7,-7 73,-36 24,-17 43,-23 17,-14 10,-3 110,-77 36,-23 17,-7 7,-6 50,-24 50,-16 26,-4 4,-3z"/><path class=A1 d="M6072,685l3,-3 70,0 3,3 20,0 4,3 23,4 30,10 10,6 7,0 33,17 40,27 37,30 30,30-94,60-16,6-7,7-63,33-7,7-30,13-7,7-113,57-7,0-69,32-374,4-14,14-99,133-24,40-30,40-6,17-10,10-4,10-13,16-7,17-43,67-47,86-12,9-108,-149-33,-53-27,-50-11,-30-9,-43 5,-34 15,-24 24,-18 30,-14 46,-14 47,-6 30,-10 23,-4 14,-6 10,0 70,-24 10,-6 16,-4 57,-26 7,0 36,-20 7,0 33,-17 7,-7 73,-36 24,-17 43,-23 17,-14 10,-3 110,-77 36,-23 17,-7 7,-6 50,-24 50,-16 26,-4 4,-3z"/><path class=B1 d="M6072,685l3,-3 70,0 3,3 20,0 4,3 23,4 30,10 10,6 7,0 33,17 40,27 37,30 30,30-77,50-57,30-23,16-23,10-7,7-150,77-7,0-39,19-397,7-120,157-24,40-30,40-6,17-10,10-4,10-13,16-7,17-23,33-40,74-7,6-6,17-5,3-99,-136-41,-70-14,-34-14,-43-1,-27 5,-23 16,-27 20,-16 33,-17 41,-13 12,0 30,-10 23,-4 14,-6 10,0 70,-24 10,-6 33,-10 17,-10 6,0 17,-10 7,0 36,-20 7,0 113,-60 24,-17 43,-23 157,-107 33,-17 7,-6 50,-24 50,-16 26,-4 4,-3z"/><path class=C1 d="M6072,685l3,-3 70,0 3,3 20,0 4,3 23,4 30,10 10,6 7,0 33,17 40,27 37,30 30,30-77,50-57,30-23,16-23,10-7,7-165,82-252,4-170,7-126,167-24,40-30,40-6,17-10,10-4,10-13,16-7,17-23,33-40,70-33,-43-48,-70-52,-97-15,-46-1,-30 8,-30 13,-20 28,-23 29,-14 41,-13 23,-4 14,-6 10,0 70,-24 10,-6 33,-10 17,-10 6,0 17,-10 7,0 36,-20 7,0 113,-60 24,-17 43,-23 157,-107 33,-17 7,-6 50,-24 50,-16 26,-4 4,-3z"/><path class=D1 d="M6072,685l3,-3 70,0 3,3 20,0 4,3 23,4 30,10 10,6 7,0 33,17 40,27 37,30 30,30-34,23-26,13-57,37-17,7-23,16-165,85-268,5-170,8-41,46-99,133-24,40-30,40-6,17-10,10-4,10-13,16-7,17-23,33-13,27-9,12-5,-4-73,-108-33,-63-14,-37-6,-33 2,-30 7,-20 17,-24 27,-20 28,-13 39,-13 10,0 70,-24 10,-6 16,-4 140,-63 7,-7 43,-20 7,-6 23,-10 24,-17 43,-23 157,-107 66,-37 7,0 17,-10 50,-16 26,-4 4,-3z"/><path class=E1 d="M6072,685l3,-3 70,0 3,3 20,0 4,3 23,4 30,10 10,6 7,0 33,17 40,27 37,30 30,30-34,23-26,13-57,37-17,7-23,16-133,70-267,7-197,11-47,56-99,133-24,40-30,40-6,17-10,10-4,10-13,16-7,17-26,43-4,-3-71,-110-26,-53-10,-34-3,-50 7,-23 19,-27 46,-30 135,-46 83,-40 7,0 33,-17 7,-7 43,-20 7,-6 23,-10 24,-17 43,-23 17,-14 10,-3 130,-90 66,-37 7,0 17,-10 50,-16 26,-4 4,-3z"/><path class=F1 d="M6072,685l3,-3 70,0 3,3 20,0 4,3 23,4 30,10 10,6 7,0 33,17 40,27 37,30 30,30-94,60-169,93-267,7-214,13-58,67-67,90-51,73-4,10-10,10-10,20-10,10-6,17-10,10-30,53-5,0-59,-93-21,-44-11,-33-5,-30 0,-23 12,-34 15,-20 44,-30 60,-20 10,-6 16,-4 57,-26 7,0 126,-64 7,-6 23,-10 24,-17 43,-23 17,-14 10,-3 110,-77 36,-23 17,-7 7,-6 50,-24 50,-16 26,-4 4,-3z"/><path class=L d="M6072,685l3,-3 70,0 3,3 20,0 4,3 23,4 30,10 10,6 7,0 33,17 40,27 37,30 30,30-94,60-16,6-47,30-78,42-275,8-160,10-67,7-65,77-67,90-51,73-4,10-10,10-10,20-10,10-6,17-10,10-10,20-4,3-6,-5-52,-88-19,-47-6,-27-2,-30 6,-26 12,-24 14,-14 44,-29 49,-17 10,-6 7,0 40,-20 7,0 36,-20 7,0 33,-17 7,-7 73,-36 24,-17 43,-23 17,-14 10,-3 110,-77 36,-23 17,-7 7,-6 50,-24 50,-16 26,-4 4,-3z"/><path class=L d="M6072,685l3,-3 70,0 3,3 20,0 4,3 23,4 30,10 10,6 7,0 33,17 40,27 37,30 30,30-94,60-16,6-7,7-17,7-23,16-50,27-283,9-234,19-51,55-68,87-6,13-51,67-44,70-10,10-6,17-7,3-48,-87-12,-30-9,-36-1,-27 5,-23 12,-24 16,-18 39,-25 21,-7 10,-6 7,0 40,-20 7,0 36,-20 7,0 113,-60 24,-17 43,-23 17,-14 10,-3 110,-77 36,-23 17,-7 7,-6 50,-24 50,-16 26,-4 4,-3z"/><path class=L d="M6072,685l3,-3 70,0 3,3 20,0 4,3 23,4 30,10 10,6 7,0 33,17 40,27 37,30 30,30-94,60-88,48-292,11-243,21-95,113-88,120-44,70-3,-1-25,-42-19,-40-8,-24-7,-36 2,-27 4,-17 10,-20 18,-20 33,-23 29,-13 6,0 17,-10 7,0 36,-20 7,0 113,-60 24,-17 43,-23 17,-14 10,-3 110,-77 36,-23 17,-7 7,-6 50,-24 50,-16 26,-4 4,-3z"/><path class=L d="M6072,685l3,-3 70,0 3,3 20,0 4,3 23,4 30,10 10,6 7,0 33,17 40,27 37,30 30,30-77,50-76,43-327,13-160,14-67,10-95,110-98,133-24,40-5,-3-34,-70-12,-54 2,-30 5,-16 11,-20 16,-17 34,-23 20,-10 7,0 36,-20 7,0 113,-60 24,-17 43,-23 17,-14 10,-3 110,-77 36,-23 17,-7 7,-6 50,-24 50,-16 26,-4 4,-3z"/><path class=L d="M6072,685l3,-3 70,0 3,3 20,0 4,3 23,4 30,10 10,6 7,0 33,17 40,27 37,30 30,30-77,50-51,27-342,16-114,9-110,15-48,49-34,40-10,17-17,17-67,90-30,46-5,5-5,-5-26,-60-7,-26-2,-27 2,-20 8,-23 24,-30 27,-20 80,-37 7,-7 73,-36 24,-17 43,-23 17,-14 10,-3 110,-77 36,-23 17,-7 7,-6 50,-24 50,-16 26,-4 4,-3z"/><path class=L d="M6072,685l3,-3 70,0 3,3 20,0 4,3 23,4 30,10 10,6 7,0 33,17 40,27 37,30 30,30-99,62-335,15-143,13-107,16-34,34-58,66-10,17-17,17-40,53-41,60-2,-3-24,-60-5,-44 3,-23 9,-20 11,-17 22,-20 27,-16 6,0 33,-17 7,-7 43,-20 7,-6 23,-10 24,-17 43,-23 157,-107 33,-17 7,-6 50,-24 50,-16 26,-4 4,-3z"/><path class=L d="M6072,685l3,-3 70,0 3,3 20,0 4,3 23,4 30,10 10,6 7,0 33,17 40,27 37,30 30,30-73,46-347,17-140,14-114,18-44,45-58,66-10,17-17,17-41,53-16,27-4,0-17,-44-5,-46 11,-40 29,-34 189,-106 157,-107 33,-17 7,-6 50,-24 50,-16 26,-4 4,-3z"/><path class=L d="M6072,685l3,-3 70,0 3,3 20,0 4,3 23,4 30,10 10,6 7,0 33,17 40,27 37,30 30,30-47,30-167,6-210,14-136,15-104,18-79,83-33,40-11,17-16,17-31,43-6,6-3,-3-10,-30-4,-46 5,-20 9,-20 28,-30 158,-90 157,-107 33,-17 7,-6 50,-24 50,-16 26,-4 4,-3z"/><path class=G1 d="M6072,685l3,-3 70,0 3,3 20,0 4,3 23,4 30,10 10,6 7,0 33,17 40,27 37,30 30,30-21,13-209,9-170,12-150,18-100,20-31,28-62,66-34,40-10,17-17,17-10,16-3,3-3,-3-9,-46 5,-37 15,-27 24,-23 155,-90 110,-77 36,-23 17,-7 7,-6 50,-24 50,-16 26,-4 4,-3z"/><path class=H1 d="M6072,685l3,-3 70,0 3,3 20,0 4,3 23,4 30,10 10,6 7,0 33,17 40,27 63,56-256,13-160,14-127,17-93,21-79,79-58,66-10,17-8,3-6,-33 5,-33 16,-30 25,-24 125,-73 110,-77 36,-23 17,-7 7,-6 50,-24 50,-16 26,-4 4,-3z"/><path class=I1 d="M6072,685l3,-3 70,0 3,3 20,0 4,3 10,0 3,4 10,0 30,10 50,23 53,37 34,30-220,14-150,13-120,16-107,23-23,13-1,4-39,35-63,68-17,24-11,6-2,-30 6,-26 18,-30 22,-20 97,-57 110,-77 36,-23 17,-7 7,-6 50,-24 50,-16 26,-4 4,-3z"/><path class=P d="M6072,685l3,-3 70,0 3,3 20,0 4,3 10,0 3,4 10,0 30,10 50,23 53,37 18,17-188,11-153,14-120,17-90,20-27,8-26,21-104,107 0,-25 9,-27 17,-23 24,-20 64,-37 110,-77 36,-23 17,-7 7,-6 50,-24 50,-16 26,-4 4,-3z"/><path class=J1 d="M6072,685l3,-3 70,0 3,3 20,0 4,3 23,4 30,10 10,6 7,0 33,17 53,38-320,27-100,15-86,19-44,14-36,32-2,5-5,1-70,70 1,-14 8,-24 11,-16 17,-17 130,-83 50,-37 33,-17 7,-6 50,-24 63,-20z"/><path class=R d="M6072,685l3,-3 70,0 3,3 20,0 4,3 23,4 30,10 10,6 7,0 33,17 34,24-264,23-97,13-96,22-56,18-14,9-37,35-3,0-3,6-4,1-13,16-24,20 0,3-3,-1 8,-26 25,-30 104,-66 50,-37 33,-17 7,-6 50,-24 63,-20z"/><path class=S d="M6072,685l3,-3 70,0 3,3 20,0 74,23 45,26-229,22-100,15-73,17-73,25-30,20-37,36-3,0-4,6-13,8 11,-21 23,-24 73,-46 50,-37 33,-17 7,-6 50,-24 50,-16 26,-4 4,-3z"/><path class=T d="M6072,685l3,-3 70,0 3,3 20,0 4,3 10,0 3,4 10,0 30,10 39,18-199,21-146,27-61,19-40,18-59,47 9,-15 20,-19 44,-26 50,-37 33,-17 7,-6 50,-24 50,-16 26,-4 4,-3z"/><path class=K1 d="M6072,685l3,-3 70,0 3,3 20,0 4,3 23,4 41,16-178,20-110,22-86,28-44,25-16,15-6,0 13,-13 73,-50 66,-37 7,0 17,-10 50,-16 26,-4 4,-3z"/><path class=L1 d="M6072,685l3,-3 70,0 3,3 20,0 4,3 30,7-147,20-77,16-76,24-54,27-9,2 59,-39 74,-37 63,-20z"/><path class=M1 d="M6072,685l3,-3 70,0 3,3 10,0-160,29-103,34 27,-16 50,-24 63,-20z"/></g>
<path transform="scale(0.1)" class="ZS ZM" stroke-opacity="0.62" d="M3937,1727l54,-81 54,-76 53,-70 64,-77 52,-59 62,-64 51,-47 61,-50 49,-36 59,-37 58,-30 57,-24 55,-17 55,-11 54,-5 53,2M3937,1727l75,28 76,23 78,17 80,12 82,6 85,0 86,-6 79,-11 91,-19 83,-23 86,-29 88,-34 91,-42 94,-48 97,-56 87,-53M3964,1738l55,-81 54,-77 53,-70 64,-78 52,-59 52,-54 51,-48 60,-52 50,-37 59,-39 49,-27 57,-26 46,-16 56,-14 54,-8 53,-2M3969,1678l75,28 77,22 78,16 80,11 82,6 85,-1 87,-7 78,-12 92,-20 83,-24 86,-29 88,-36 91,-42 94,-49 98,-56 86,-55M3992,1749l55,-83 54,-76 53,-71 64,-79 52,-59 52,-54 51,-49 61,-51 49,-38 59,-39 58,-32 57,-25 47,-16 55,-13 54,-7 53,-1M4001,1631l75,27 77,21 79,16 80,10 82,5 85,-2 87,-8 78,-12 93,-21 83,-24 85,-30 89,-36 91,-43 94,-50 98,-57 87,-55M4020,1758l55,-82 54,-77 54,-72 63,-79 53,-59 51,-55 51,-49 61,-52 50,-38 59,-39 58,-32 57,-25 46,-16 55,-13 54,-7 53,-1M4034,1586l75,26 76,21 79,15 80,10 83,3 85,-2 87,-9 78,-13 93,-21 83,-25 86,-31 88,-37 92,-44 94,-50 98,-58 87,-56M4049,1767l54,-83 54,-77 54,-72 64,-79 52,-60 52,-55 51,-49 61,-53 50,-38 58,-39 49,-27 57,-27 46,-17 56,-14 54,-8 52,-3M4065,1543l76,25 77,20 78,15 81,9 82,3 85,-3 88,-10 78,-13 93,-23 83,-25 86,-31 89,-38 91,-44 95,-51 98,-59 87,-56M4077,1775l55,-83 54,-78 54,-73 53,-66 53,-62 51,-56 52,-50 61,-54 50,-40 49,-34 48,-29 58,-29 47,-19 55,-17 45,-9 54,-5M4097,1502l75,24 77,20 79,14 81,8 83,2 85,-3 87,-10 79,-15 92,-22 84,-27 86,-32 89,-38 91,-45 95,-51 98,-59 87,-57M4106,1783l55,-84 54,-79 54,-72 53,-68 53,-61 52,-57 51,-50 51,-46 50,-41 49,-35 49,-31 57,-30 47,-20 56,-18 45,-10 54,-6M4129,1462l75,24 77,19 79,13 81,8 83,2 85,-4 87,-11 79,-15 93,-23 83,-27 86,-32 89,-39 92,-46 95,-52 98,-59 87,-58M4135,1789l55,-84 54,-79 54,-73 53,-68 53,-62 52,-56 51,-51 51,-46 50,-41 50,-36 48,-31 58,-30 47,-20 46,-16 45,-11 54,-7M4160,1425l75,23 78,18 79,13 80,7 83,2 86,-5 87,-11 79,-16 93,-24 83,-27 87,-33 89,-39 91,-46 95,-53 98,-60 88,-58M4164,1795l99,-149 54,-74 53,-69 53,-64 52,-58 52,-52 51,-48 50,-42 49,-36 49,-32 48,-27 47,-22 47,-18 46,-13 54,-9M4191,1389l76,23 77,18 79,12 81,7 83,0 85,-5 88,-12 79,-16 93,-24 83,-28 87,-33 89,-40 91,-46 95,-53 99,-61 87,-58M4194,1800l98,-149 55,-75 53,-70 53,-64 52,-58 52,-53 51,-47 50,-42 49,-38 49,-32 58,-32 47,-21 46,-16 46,-12 53,-9M4222,1355l76,23 77,17 79,12 81,6 83,0 85,-6 88,-12 79,-16 93,-25 84,-28 86,-34 89,-41 92,-46 95,-54 98,-61 88,-58M4224,1805l98,-151 55,-75 53,-70 42,-52 53,-59 52,-55 51,-49 50,-43 50,-38 49,-34 48,-28 47,-23 47,-19 46,-14 45,-9M4253,1323l76,22 77,17 79,11 81,6 83,0 86,-7 87,-12 79,-17 93,-26 84,-28 87,-34 89,-41 91,-47 95,-54 99,-61 87,-58M4254,1808l99,-151 97,-133 42,-52 53,-62 52,-55 51,-50 40,-37 50,-40 50,-36 48,-30 48,-25 47,-21 46,-16 45,-11M4284,1293l75,22 78,16 79,11 81,5 83,-1 85,-6 88,-14 79,-17 93,-26 84,-28 87,-35 89,-41 92,-47 95,-54 98,-62 87,-59M4284,1811l99,-152 97,-133 43,-54 53,-61 41,-45 52,-52 40,-37 50,-42 50,-36 48,-32 48,-26 47,-22 46,-17 45,-12M4314,1265l76,21 77,16 79,10 81,5 83,-1 86,-7 88,-14 79,-17 93,-26 84,-30 86,-34 89,-42 92,-47 95,-55 98,-61 88,-59M4315,1813l88,-137 98,-136 42,-54 53,-63 42,-47 51,-52 41,-39 50,-43 50,-38 48,-33 39,-22 47,-24 47,-18 45,-15M4344,1239l76,20 77,16 79,10 81,4 84,-2 85,-7 88,-14 79,-18 93,-26 84,-30 87,-35 89,-41 91,-48 95,-55 99,-62 87,-59M4346,1814l88,-138 98,-136 43,-55 52,-63 42,-47 52,-53 40,-39 51,-43 49,-38 49,-33 38,-22 47,-24 47,-19 46,-14M4374,1214l76,20 77,15 79,10 81,4 84,-2 85,-8 88,-14 79,-18 93,-27 84,-30 87,-35 89,-42 91,-48 95,-55 99,-62 87,-59M4377,1814l89,-138 97,-138 43,-55 53,-63 42,-47 51,-53 41,-39 50,-44 50,-38 49,-33 38,-23 47,-23 46,-19 46,-15M4404,1191l75,20 78,14 79,10 81,3 83,-2 86,-8 88,-15 79,-18 93,-27 84,-30 86,-35 89,-42 92,-48 95,-55 98,-62 87,-60M4408,1813l89,-139 98,-138 85,-107 42,-48 52,-54 81,-76 40,-33 49,-37 39,-25 48,-27 37,-18 46,-18M5522,1151l7,5M4433,1170l66,17 68,14 69,9 60,4 71,2 63,-3 75,-7 65,-10 78,-16 69,-18 70,-22 72,-26 74,-30 76,-35 78,-39 79,-44M5594,950l55,-34M5777,832l29,-20M4440,1812l89,-140 88,-124 85,-110 42,-49 52,-56 82,-78 40,-34 49,-37 39,-27 48,-28 37,-19 47,-19M5530,1132l30,20M4463,1150l66,17 57,12 69,9 60,5 71,2 63,-2 63,-5 65,-9 67,-13 68,-16 69,-20 71,-24 73,-28 62,-27 76,-37 66,-33M5555,966l13,-7M5595,943l14,-8M5805,810l30,-20M4473,1810l89,-141 98,-140 85,-108 42,-48 52,-55 81,-77 40,-33 49,-37 39,-25 48,-28 37,-18 46,-18M5547,1118l45,29M4492,1132l56,15 58,12 58,9 50,5 60,3 62,0 63,-3 53,-6 65,-9 55,-11 68,-17 58,-16 71,-24 60,-22 125,-55M5834,790l29,-20M4505,1806l90,-141 87,-126 86,-110 42,-50 52,-57 82,-79 39,-34 50,-38 39,-26 47,-28 38,-19 46,-19M5556,1099l30,17 37,25M4520,1116l57,15 48,10 98,13 60,4 51,1 104,-5 108,-14 111,-24 116,-35 109,-41M5861,772l30,-20M4538,1802l90,-142 87,-127 86,-111 84,-95 82,-82 80,-66 39,-29 38,-24 38,-22 47,-22M5565,1081l46,24 44,29M4549,1102l95,22 87,13 90,6 93,-1 95,-8 98,-16 101,-25 94,-28M5889,756l29,-20M4572,1797l78,-126 88,-129 86,-114 84,-98 83,-83 80,-69 39,-29 38,-26 38,-22 47,-24M5583,1066l53,27 52,34M4577,1089l85,20 88,14 89,6 82,0 94,-6 87,-13 89,-19 91,-25M5916,742l29,-20M4605,1791l79,-127 88,-130 86,-114 85,-98 82,-84 80,-69 39,-30 38,-25 38,-23 38,-19M5592,1048l31,12 31,16 30,17 37,26M4605,1078l76,18 67,11 69,8 70,3 72,-1 74,-5 75,-10 66,-13M5218,1079l23,-6M5857,787l14,-9M5914,750l57,-40M4640,1784l78,-128 78,-115 76,-103 84,-103 73,-77 81,-75 39,-32 39,-29 38,-25 38,-21M5610,1033l32,11 38,18 37,22 37,26M4633,1068l66,16 58,11 68,8 60,4 71,1 62,-3 63,-6 65,-10M5168,1085l11,-2M5787,837l69,-42M5884,777l114,-76M4674,1776l79,-129 88,-131 76,-101 85,-102 72,-76 80,-74 40,-31 39,-27 38,-25 38,-20M5620,1015l40,12 46,21 38,21 43,31M4661,1060l56,14 48,9 97,12 101,4 103,-4M5087,1092l11,-1M5773,852l14,-8M5813,829l110,-69 100,-67M4709,1767l79,-129 78,-117 76,-104 74,-91 73,-80 81,-78 69,-55 39,-27 38,-24M5631,998l48,12 46,19 45,24 51,36M4688,1054l85,19 87,13 89,6 92,-1M5062,1090l21,-2M5746,874l80,-44 68,-41 83,-53 72,-49M4744,1756l80,-129 77,-117 76,-105 75,-92 73,-80 81,-78 69,-56 38,-26 38,-24M5650,982l48,11 54,20 53,28 50,36M4715,1049l66,15 67,12 68,7 70,4M5047,1086l10,0M5733,890l92,-49 80,-48 83,-52 85,-57M4780,1745l68,-112 78,-120 77,-106 75,-95 73,-82 71,-71 70,-59 38,-29 39,-25M5661,965l56,10 32,9 31,12 52,28 58,41M4742,1046l56,13 48,9 97,12M4963,1081l90,2M5708,912l102,-52 93,-53 96,-59 99,-66M4817,1733l68,-113 78,-120 77,-108 74,-94 74,-83 71,-71 69,-59 68,-48M5680,949l33,3 32,6 32,9 31,12 30,14 29,17 58,41M4769,1044l65,15 58,10M4911,1071l9,2M4940,1075l19,2M5695,928l101,-49 105,-57 108,-66 113,-74M4853,1720l69,-114 78,-121 66,-93 75,-97 73,-85 72,-73 70,-61 67,-50M5692,932l33,1 33,5 31,6 39,13 31,13 37,20 29,19 35,28M4795,1043l85,19M4899,1065l9,2M5671,950l112,-51 116,-61 121,-72 126,-83M4891,1705l68,-114 79,-122 66,-93 75,-98 73,-85 72,-73 69,-61 68,-50M5704,916l33,-1 41,3 40,8 39,12 31,12 37,20 36,24 35,27M4821,1044l19,5M4858,1053l10,2M5659,967l123,-54 128,-66 133,-78 126,-82M4929,1689l68,-115 79,-122 66,-94 75,-98 73,-85 72,-74 70,-61 67,-50M5725,900l42,-3 41,2 40,7 39,11 38,16 36,20 36,24 35,28M5648,984l71,-29 62,-27 126,-63 79,-43 67,-40 139,-90M4967,1673l69,-116 67,-106 66,-96 65,-87 64,-77 72,-79 61,-58 68,-57M5519,983l9,-6M5737,884l43,-5 41,-1 41,4 47,12 38,14 44,23 36,23 42,34M5636,1001l71,-26 73,-31 74,-34 64,-32 78,-43 66,-38 82,-51 70,-47M5006,1655l69,-117 67,-106 67,-97 75,-101 64,-76 72,-77 60,-57 68,-55M5759,867l42,-7 50,-2 41,3 47,11 38,13 45,23 43,28 41,34M5614,1023l81,-28 72,-29 73,-32 75,-36 77,-41 80,-45 81,-49 84,-55M5045,1635l69,-117 68,-107 66,-97 65,-88 64,-78 62,-68 61,-60 69,-59M5772,852l43,-10 51,-6 49,2 47,8 46,16 45,21 43,28 48,39M5603,1040l80,-25 83,-31 85,-36 74,-35 90,-47 79,-44 81,-50 83,-54M5085,1615l69,-118 68,-108 67,-97 65,-88 63,-79 62,-69 61,-59 59,-51M5785,837l53,-15 51,-8 49,0 56,8 46,15 51,25 43,28 48,40M5582,1062l90,-27 81,-28 84,-33 86,-39 88,-44 91,-51 94,-56 84,-54M5126,1593l58,-100 68,-109 56,-84 65,-92 54,-69 63,-74 61,-64 60,-56M5650,913l9,-7M5835,810l52,-14 50,-6 49,1 47,8 46,15 52,25 42,29 48,41M5571,1080l90,-24 80,-26 94,-35 85,-37 100,-49 91,-49 93,-55 97,-61M5167,1570l58,-100 68,-111 67,-100 66,-90 63,-81 63,-71 61,-62 59,-52M5840,797l53,-18 60,-12 49,-3 56,7 54,16 51,25 49,33 48,41M5551,1100l87,-20 91,-26 93,-33 95,-39 99,-47 103,-54 106,-62 96,-60M5209,1545l58,-100 68,-112 56,-84 66,-93 53,-69 63,-74 62,-65 59,-56M5909,760l52,-15 50,-6 49,0 54,10 46,16 51,26 41,30 47,42M5541,1119l98,-20 89,-25 104,-35 95,-38 98,-45 102,-53 105,-60 109,-68M5251,1519l59,-101 68,-112 56,-85 66,-93 53,-69 63,-75 62,-65 59,-56M5924,742l53,-18 26,-7 33,-5 49,-1 24,2 31,5 53,17 51,26 49,35 47,42M5532,1138l96,-18 99,-25 103,-33 106,-41 110,-49 101,-52 105,-59 109,-68M5295,1492l69,-121 80,-128 78,-114 75,-100 73,-86 71,-74 69,-60 38,-29 38,-25 64,-35 35,-15 35,-11 25,-6 34,-5 33,-2 32,2 31,5 30,8 30,11 29,14 29,17 28,20 27,23 32,31M5512,1158l106,-16 98,-22 112,-34 105,-38 109,-47 113,-56 117,-66 108,-67"/>
<g shape-rendering="crispEdges">
<rect x="650.3" y="40.80" width="11.8" height="3.1" fill="#000"/>
<rect x="650.3" y="43.60" width="11.8" height="161.70" fill="#5f2776"/>
<rect x="650.3" y="46.56" width="11.8" height="158.74" fill="#691b85"/>
<rect x="650.3" y="49.53" width="11.8" height="155.77" fill="#6b238b"/>
<rect x="650.3" y="52.49" width="11.8" height="152.81" fill="#692e90"/>
<rect x="650.3" y="55.46" width="11.8" height="149.84" fill="#603b97"/>
<rect x="650.3" y="58.42" width="11.8" height="146.88" fill="#51419c"/>
<rect x="650.3" y="61.39" width="11.8" height="143.91" fill="#4146a0"/>
<rect x="650.3" y="64.35" width="11.8" height="140.95" fill="#2d48a0"/>
<rect x="650.3" y="67.31" width="11.8" height="137.99" fill="#2349a0"/>
<rect x="650.3" y="70.28" width="11.8" height="135.02" fill="#1f4a9f"/>
<rect x="650.3" y="73.24" width="11.8" height="132.06" fill="#2158a7"/>
<rect x="650.3" y="76.21" width="11.8" height="129.09" fill="#266fb7"/>
<rect x="650.3" y="79.17" width="11.8" height="126.13" fill="#2c91d1"/>
<rect x="650.3" y="82.14" width="11.8" height="123.16" fill="#34b9e8"/>
<rect x="650.3" y="85.10" width="11.8" height="120.20" fill="#5cc0d4"/>
<rect x="650.3" y="88.06" width="11.8" height="117.24" fill="#62bda2"/>
<rect x="650.3" y="91.03" width="11.8" height="114.27" fill="#66b663"/>
<rect x="650.3" y="93.99" width="11.8" height="111.31" fill="#69b53b"/>
<rect x="650.3" y="96.96" width="11.8" height="108.34" fill="#70b731"/>
<rect x="650.3" y="99.92" width="11.8" height="105.38" fill="#78b92b"/>
<rect x="650.3" y="102.88" width="11.8" height="102.42" fill="#82bc27"/>
<rect x="650.3" y="105.85" width="11.8" height="99.45" fill="#90c025"/>
<rect x="650.3" y="108.81" width="11.8" height="96.49" fill="#9fc523"/>
<rect x="650.3" y="111.78" width="11.8" height="93.52" fill="#b0cb23"/>
<rect x="650.3" y="114.74" width="11.8" height="90.56" fill="#c3d325"/>
<rect x="650.3" y="117.71" width="11.8" height="87.59" fill="#d4db27"/>
<rect x="650.3" y="120.67" width="11.8" height="84.63" fill="#e3e229"/>
<rect x="650.3" y="123.63" width="11.8" height="81.67" fill="#efe72b"/>
<rect x="650.3" y="126.60" width="11.8" height="78.70" fill="#f2d727"/>
<rect x="650.3" y="129.56" width="11.8" height="75.74" fill="#f5c624"/>
<rect x="650.3" y="132.53" width="11.8" height="72.77" fill="#f4b121"/>
<rect x="650.3" y="135.49" width="11.8" height="69.81" fill="#f39b1e"/>
<rect x="650.3" y="138.46" width="11.8" height="66.84" fill="#f0801c"/>
<rect x="650.3" y="141.42" width="11.8" height="63.88" fill="#ed651b"/>
<rect x="650.3" y="144.38" width="11.8" height="60.92" fill="#e94a1a"/>
<rect x="650.3" y="147.35" width="11.8" height="57.95" fill="#e7261b"/>
<rect x="650.3" y="150.31" width="11.8" height="54.99" fill="#e6141c"/>
<rect x="650.3" y="153.28" width="11.8" height="52.02" fill="#e6141c"/>
<rect x="650.3" y="156.24" width="11.8" height="49.06" fill="#e6141c"/>
<rect x="650.3" y="159.21" width="11.8" height="46.09" fill="#e6141c"/>
<rect x="650.3" y="162.17" width="11.8" height="43.13" fill="#e6141c"/>
<rect x="650.3" y="165.13" width="11.8" height="40.17" fill="#e6141c"/>
<rect x="650.3" y="168.10" width="11.8" height="37.20" fill="#e6141c"/>
<rect x="650.3" y="171.06" width="11.8" height="34.24" fill="#e6141c"/>
<rect x="650.3" y="174.03" width="11.8" height="31.27" fill="#de151d"/>
<rect x="650.3" y="176.99" width="11.8" height="28.31" fill="#ce171e"/>
<rect x="650.3" y="179.96" width="11.8" height="25.34" fill="#be181f"/>
<rect x="650.3" y="182.92" width="11.8" height="22.38" fill="#ae1a20"/>
<rect x="650.3" y="185.88" width="11.8" height="19.42" fill="#a3191f"/>
<rect x="650.3" y="188.85" width="11.8" height="16.45" fill="#97171d"/>
<rect x="650.3" y="191.81" width="11.8" height="13.49" fill="#8c161c"/>
<rect x="650.3" y="194.78" width="11.8" height="10.52" fill="#80141a"/>
<rect x="650.3" y="197.74" width="11.8" height="7.56" fill="#741217"/>
<rect x="650.3" y="200.70" width="11.8" height="4.60" fill="#680f15"/>
<rect x="650.3" y="203.67" width="11.8" height="1.63" fill="#5d0d12"/>
</g>
<text x="665.0" y="47" font-size="6.4" font-family="'Liberation Serif',serif">26.40</text>
<text x="665.0" y="82.6" font-size="6.4" font-family="'Liberation Serif',serif">29.89</text>
<text x="665.0" y="118.1" font-size="6.4" font-family="'Liberation Serif',serif">33.37</text>
<text x="665.0" y="153.7" font-size="6.4" font-family="'Liberation Serif',serif">36.86</text>
<text x="665.0" y="189.3" font-size="6.4" font-family="'Liberation Serif',serif">40.35</text>
<text x="665.0" y="208.7" font-size="6.4" font-family="'Liberation Serif',serif">42.25</text>
<text x="342.4" y="11.8" font-size="16" font-family="'Liberation Serif',serif">B</text>
<text transform="translate(511.3,10.2) scale(1.07,1)" font-size="10.6" text-anchor="middle" font-family="'Liberation Serif',serif">z=9.83x<tspan font-size="6.4" dy="-4.2">2</tspan><tspan dy="4.2">-0.0010y²-10.89x-0.25y+21.01</tspan></text>
<text transform="translate(511.3,21.5) scale(1.07,1)" font-size="10.6" text-anchor="middle" font-family="'Liberation Serif',serif">R²=0.4994</text>
<text transform="translate(365.05,137.4) rotate(-92.85)" font-size="16.1" text-anchor="middle" font-family="'Liberation Serif',serif">Percentage of C waveform</text>
<text transform="translate(389.1,221.6) scale(0.81,1)" font-size="10.4" text-anchor="end" font-family="'Liberation Serif',serif">20</text>
<text transform="translate(386.9,189.3) scale(0.81,1)" font-size="10.4" text-anchor="end" font-family="'Liberation Serif',serif">25</text>
<text transform="translate(384.7,156) scale(0.81,1)" font-size="10.4" text-anchor="end" font-family="'Liberation Serif',serif">30</text>
<text transform="translate(382.4,121.6) scale(0.81,1)" font-size="10.4" text-anchor="end" font-family="'Liberation Serif',serif">35</text>
<text transform="translate(380.1,86) scale(0.81,1)" font-size="10.4" text-anchor="end" font-family="'Liberation Serif',serif">40</text>
<text transform="translate(377.7,49.2) scale(0.81,1)" font-size="10.4" text-anchor="end" font-family="'Liberation Serif',serif">45</text>
<text transform="matrix(0.7644,-0.3027,0.5815,0.2551,385.8,222)" font-size="10" text-anchor="middle" font-family="'Liberation Serif',serif"><tspan dy="3.3">0.5</tspan></text>
<text transform="matrix(0.7655,-0.3212,0.6166,0.2704,402.9,229.2)" font-size="10" text-anchor="middle" font-family="'Liberation Serif',serif"><tspan dy="3.3">0.6</tspan></text>
<text transform="matrix(0.7654,-0.3414,0.6549,0.2873,421,236.7)" font-size="10" text-anchor="middle" font-family="'Liberation Serif',serif"><tspan dy="3.3">0.7</tspan></text>
<text transform="matrix(0.7637,-0.3635,0.6970,0.3057,440.2,244.8)" font-size="10" text-anchor="middle" font-family="'Liberation Serif',serif"><tspan dy="3.3">0.8</tspan></text>
<text transform="matrix(0.7601,-0.3879,0.7432,0.3260,460.7,253.4)" font-size="10" text-anchor="middle" font-family="'Liberation Serif',serif"><tspan dy="3.3">0.9</tspan></text>
<text transform="matrix(0.7543,-0.4148,0.7942,0.3484,482.4,262.5)" font-size="10" text-anchor="middle" font-family="'Liberation Serif',serif"><tspan dy="3.3">1.0</tspan></text>
<text transform="matrix(0.7459,-0.4445,0.8507,0.3731,505.7,272.2)" font-size="10" text-anchor="middle" font-family="'Liberation Serif',serif"><tspan dy="3.3">1.1</tspan></text>
<text transform="matrix(0.8159,0.3850,-0.9876,0.4578,430.1,250.8)" font-size="10" text-anchor="middle" font-family="'Liberation Serif',serif"><tspan dy="3.3">Trehalose content</tspan></text>
<text transform="matrix(0.9144,0.3831,-0.6919,0.4563,540.2,276.4)" font-size="10" text-anchor="middle" font-family="'Liberation Serif',serif"><tspan dy="3.3">40</tspan></text>
<text transform="matrix(0.9004,0.3545,-0.6399,0.4220,558,265.3)" font-size="10" text-anchor="middle" font-family="'Liberation Serif',serif"><tspan dy="3.3">60</tspan></text>
<text transform="matrix(0.8859,0.3291,-0.5936,0.3914,574.6,255)" font-size="10" text-anchor="middle" font-family="'Liberation Serif',serif"><tspan dy="3.3">80</tspan></text>
<text transform="matrix(0.8712,0.3063,-0.5521,0.3641,590,245.4)" font-size="10" text-anchor="middle" font-family="'Liberation Serif',serif"><tspan dy="3.3">100</tspan></text>
<text transform="matrix(0.8564,0.2858,-0.5148,0.3395,604.3,236.4)" font-size="10" text-anchor="middle" font-family="'Liberation Serif',serif"><tspan dy="3.3">120</tspan></text>
<text transform="matrix(0.8416,0.2673,-0.4812,0.3173,617.8,228.1)" font-size="10" text-anchor="middle" font-family="'Liberation Serif',serif"><tspan dy="3.3">140</tspan></text>
<text transform="matrix(0.8269,0.2506,-0.4508,0.2973,630.3,220.3)" font-size="10" text-anchor="middle" font-family="'Liberation Serif',serif"><tspan dy="3.3">160</tspan></text>
<text transform="matrix(0.8123,0.2354,-0.4231,0.2791,642.2,212.9)" font-size="10" text-anchor="middle" font-family="'Liberation Serif',serif"><tspan dy="3.3">180</tspan></text>
<text transform="matrix(0.5836,-0.4316,1.0986,0.3630,616.6,244.2)" font-size="10" text-anchor="middle" font-family="'Liberation Serif',serif"><tspan dy="3.3">Glucose content</tspan></text>
</g>
<g id="pC">
<path d="M68.8,503.8 L60.7,336.9 M86.6,496.7 L80.3,334.6 M103.5,490 L98.7,332.5 M119.4,483.7 L116,330.5 M134.4,477.8 L132.3,328.6 M148.7,472.2 L147.6,326.9 M162.1,466.8 L162.1,325.2 M178.9,471.7 L180.1,326.8 M196.5,476.8 L199,328.5 M214.9,482.1 L218.9,330.3 M234.3,487.7 L239.9,332.2 M254.7,493.6 L262.1,334.2 M276.2,499.9 L285.6,336.3" stroke="#b4b4b4" stroke-width="0.7" fill="none"/>
<path d="M48.2,484.6 L162.1,444.5 L289,477.3 M46.6,457.2 L162.1,421.7 L290.7,450.8 M44.9,429 L162.1,398.4 L292.4,423.6 M43.2,399.9 L162.1,374.6 L294.2,395.7 M41.5,370.1 L162.1,350.2 L296,367" stroke="#e4e4e4" stroke-width="0.6" stroke-dasharray="2,2" fill="none"/>
<path d="M49.7,511.3 L39.7,339.3 L162.1,325.2 L297.9,337.4 L287.4,503.1" stroke="#555" stroke-width="0.7" fill="none"/>
<path d="M49.7,511.3 L183.8,567.5 L287.4,503.1 L162.1,466.8 Z" fill="#5f2776"/>
<g transform="scale(0.1)" fill-rule="evenodd"><path d="M497,5113l1341,562 1025,-637 2,-9-1244,-361z" fill="#691b85"/><path d="M497,5113l1341,562 1007,-626 6,-24-1230,-357z" fill="#6b238b"/><path d="M497,5113l1341,562 988,-614 11,-41-1216,-352z" fill="#692e90"/><path d="M497,5113l1341,562 968,-602 17,-57-1202,-348z" fill="#603b97"/><path d="M497,5113l1341,562 947,-589 15,-39 9,-35-1188,-344z" fill="#51419c"/><path d="M497,5113l1341,562 925,-575 19,-46 13,-46-1174,-340z" fill="#4146a0"/><path d="M497,5113l1341,562 902,-561 26,-58 14,-52-1159,-336z" fill="#2d48a0"/><path d="M497,5113l1341,562 877,-545 18,-35 14,-32 10,-29 8,-34-1144,-332z" fill="#2349a0"/><path d="M497,5113l1341,562 850,-528 21,-37 19,-39 13,-36 9,-40-1129,-327z" fill="#1f4a9f"/><path d="M497,5113l1341,562 820,-510 30,-47 21,-42 16,-42 10,-43-1114,-323z" fill="#2158a7"/><path d="M497,5113l1341,562 788,-490 34,-48 29,-52 20,-52 11,-47-1099,-318z" fill="#266fb7"/><path d="M497,5113l1341,562 752,-467 44,-58 35,-58 23,-58 12,-52-1083,-314z" fill="#2c91d1"/><path d="M497,5113l1331,558 51,-21 669,-416 55,-65 42,-65 28,-63 10,-35 5,-29-1067,-309z" fill="#34b9e8"/><path d="M497,5113l1315,551 133,-55 553,-344 68,-72 27,-35 27,-40 19,-35 17,-40 10,-35 6,-35-1051,-305z" fill="#5cc0d4"/><path d="M497,5113l1300,545 121,-50 108,-50 407,-253 47,-42 41,-40 37,-43 32,-44 28,-46 18,-41 13,-40 7,-41-1035,-300z" fill="#62bda2"/><path d="M497,5113l1284,538 95,-38 89,-39 160,-80 32,-17 160,-100 82,-61 54,-46 42,-40 41,-47 36,-46 28,-46 18,-40 15,-47 6,-41-1018,-295z" fill="#66b663"/><path d="M497,5113l1268,531 96,-38 89,-38 160,-79 71,-40 75,-46 68,-46 60,-46 54,-46 42,-40 42,-46 34,-46 28,-47 21,-45 12,-42 5,-41-1001,-290z" fill="#69b53b"/><path d="M497,5113l1252,525 179,-74 90,-42 77,-39 71,-40 75,-45 68,-46 61,-46 53,-46 48,-46 36,-40 34,-46 26,-44 20,-43 13,-47 5,-41-984,-285z" fill="#70b731"/><path d="M497,5113l1236,518 96,-38 90,-38 83,-39 78,-39 71,-39 75,-46 68,-45 61,-46 53,-46 48,-46 40,-46 33,-45 27,-47 17,-41 10,-41 4,-41-966,-280z" fill="#78b92b"/><path d="M497,5113l1219,511 97,-37 90,-38 84,-39 77,-39 72,-39 75,-45 68,-46 60,-45 54,-46 47,-45 40,-47 30,-40 27,-46 18,-44 11,-44 3,-41-948,-275z" fill="#82bc27"/><path d="M497,5113l1203,504 97,-37 90,-38 84,-38 78,-39 71,-39 75,-45 68,-45 61,-46 54,-45 47,-46 40,-46 33,-46 25,-46 16,-41 10,-41 2,-42-930,-269z" fill="#90c025"/><path d="M497,5113l1186,497 97,-37 91,-37 84,-38 88,-44 72,-39 74,-45 67,-45 60,-46 53,-45 46,-46 38,-46 29,-40 25,-46 15,-41 9,-44 1,-39-911,-264z" fill="#9fc523"/><path d="M497,5113l1169,490 98,-36 90,-37 85,-38 78,-39 72,-38 75,-45 68,-45 61,-45 54,-46 46,-45 40,-46 32,-46 22,-41 17,-46 8,-42 1,-42-892,-258z" fill="#b0cb23"/><path d="M497,5113l1152,483 98,-36 91,-37 84,-38 79,-38 72,-38 75,-45 68,-45 61,-45 54,-45 43,-43 40,-45 31,-43 22,-41 18,-47 8,-41 1,-42-1,-6-872,-253z" fill="#c3d325"/><path d="M497,5113l1134,475 99,-35 91,-37 85,-37 78,-38 73,-38 75,-45 68,-44 61,-45 54,-45 46,-46 34,-40 33,-46 24,-46 14,-39 8,-43 0,-37-2,-12-851,-247z" fill="#d4db27"/><path d="M497,5113l1117,468 98,-35 83,-33 82,-35 91,-43 72,-38 76,-45 60,-38 62,-45 54,-45 47,-46 40,-45 28,-40 25,-47 14,-38 8,-43 0,-37-3,-19-830,-241z" fill="#e3e229"/><path d="M497,5113l1099,460 178,-65 86,-37 80,-37 74,-38 76,-44 61,-39 63,-44 55,-45 48,-45 40,-46 29,-40 23,-41 16,-42 9,-40 0,-41-4,-27-809,-234z" fill="#efe72b"/><path d="M497,5113l1080,453 100,-35 79,-30 87,-37 80,-37 74,-37 77,-44 60,-39 63,-44 49,-39 48,-45 41,-46 30,-40 23,-40 16,-41 9,-42 1,-39-7,-35-786,-228z" fill="#f2d727"/><path d="M497,5113l1062,445 86,-29 94,-35 86,-36 81,-37 74,-38 67,-38 67,-41 59,-41 56,-45 42,-39 40,-44 32,-42 23,-40 17,-41 9,-42 1,-37-10,-44-762,-221z" fill="#f5c624"/><path d="M497,5113l1043,437 94,-31 86,-33 88,-35 80,-37 74,-37 68,-38 62,-38 63,-44 50,-40 49,-44 41,-46 30,-40 23,-40 15,-41 8,-36 0,-37-4,-25-8,-26-738,-214z" fill="#f4b121"/><path d="M497,5113l1023,429 87,-29 95,-34 157,-67 75,-36 69,-38 63,-38 64,-44 50,-39 50,-45 42,-45 29,-38 24,-42 16,-40 8,-38 0,-37-5,-28-11,-30-712,-206z" fill="#f39b1e"/><path d="M497,5113l1004,421 96,-31 86,-31 76,-31 82,-35 75,-37 69,-38 63,-37 65,-44 56,-44 43,-40 37,-39 30,-40 23,-39 16,-38 9,-41 0,-37-7,-33-15,-33-684,-198z" fill="#f0801c"/><path d="M497,5113l984,412 88,-27 95,-34 78,-31 81,-35 75,-36 69,-37 63,-38 57,-38 50,-39 51,-44 37,-40 31,-40 21,-34 18,-42 8,-39 1,-37-9,-39-19,-37-642,-186-23,0z" fill="#ed651b"/><path d="M497,5113l963,404 171,-56 90,-34 83,-36 75,-36 70,-37 63,-37 56,-38 51,-39 44,-39 38,-39 31,-40 25,-41 14,-35 9,-36 0,-38-4,-23-7,-23-10,-20-15,-21-583,-169-70,0z" fill="#e94a1a"/><path d="M497,5113l942,395 172,-55 78,-29 84,-35 77,-36 70,-36 64,-38 58,-38 51,-38 45,-39 38,-39 32,-40 24,-38 15,-38 9,-36 0,-38-5,-26-9,-22-15,-26-18,-23-518,-150-121,0z" fill="#e7261b"/><path d="M497,5113l920,386 90,-27 84,-27 78,-29 84,-35 67,-30 71,-36 65,-37 59,-38 52,-38 45,-39 39,-39 33,-40 24,-40 15,-36 8,-36 0,-36-7,-31-13,-28-17,-25-25,-25-443,-128-82,-3-96,1z" fill="#e6141c"/><path d="M497,5113l898,376 169,-51 85,-30 73,-29 78,-35 62,-31 66,-37 59,-37 53,-38 46,-39 39,-38 30,-36 25,-40 16,-35 9,-37 1,-36-8,-34-18,-36-26,-30-33,-27-352,-102-115,-6-129,1z" fill="#e6141c"/><path d="M497,5113l875,367 163,-48 80,-28 86,-33 68,-30 73,-36 66,-36 59,-37 53,-38 43,-37 37,-35 32,-40 23,-35 15,-36 9,-36 1,-32-4,-23-8,-22-11,-19-13,-19-16,-17-24,-19-47,-30-237,-67-75,-8-75,-5-85,0-85,2z" fill="#e6141c"/><path d="M497,5113l851,357 165,-47 80,-27 87,-33 68,-30 73,-35 57,-31 60,-37 54,-38 46,-38 35,-34 33,-40 23,-37 16,-36 7,-34 0,-32-6,-27-13,-28-20,-27-22,-21-26,-19-37,-21-33,-15-45,-16-49,-13-54,-11-109,-15-128,-5-136,4z" fill="#e6141c"/><path d="M497,5113l827,347 166,-46 81,-27 75,-28 70,-29 74,-35 58,-31 61,-37 51,-35 44,-35 41,-39 30,-34 23,-34 17,-37 8,-31 1,-36-7,-31-12,-25-19,-26-23,-21-30,-22-33,-18-33,-14-46,-16-94,-22-119,-14-122,-5-140,6z" fill="#e6141c"/><path d="M497,5113l801,336 80,-19 88,-25 82,-27 76,-28 69,-28 65,-30 59,-31 62,-36 55,-37 41,-33 42,-39 30,-34 24,-37 15,-33 8,-34 1,-29-6,-29-13,-27-18,-24-23,-21-26,-18-37,-21-34,-14-47,-16-96,-21-114,-12-122,-3-143,6z" fill="#e6141c"/><path d="M497,5113l775,325 158,-40 81,-25 77,-27 71,-28 66,-30 60,-30 63,-36 56,-37 42,-32 36,-33 33,-36 23,-33 17,-36 8,-31 1,-34-5,-25-12,-26-18,-24-23,-21-29,-20-35,-19-35,-14-47,-15-99,-20-118,-11-126,-1-133,8z" fill="#e6141c"/><path d="M497,5113l747,313 157,-38 150,-47 73,-28 67,-28 61,-30 64,-36 57,-37 43,-32 37,-33 30,-34 24,-33 16,-32 8,-30 2,-33-6,-27-10,-23-18,-24-23,-21-26,-18-31,-17-34,-14-48,-15-42,-10-58,-10-105,-10-126,-1-136,9-22,2z" fill="#e6141c"/><path d="M497,5113l717,301 83,-18 77,-18 73,-21 79,-26 73,-27 67,-28 62,-30 55,-30 50,-32 44,-32 39,-32 32,-34 25,-35 16,-30 9,-31 1,-34-5,-23-12,-25-14,-20-23,-21-27,-18-31,-16-35,-14-49,-15-91,-17-107,-10-123,0-125,9-48,6z" fill="#de151d"/><path d="M512,5120l670,280 85,-16 79,-18 141,-41 75,-26 68,-28 63,-29 56,-30 51,-31 45,-32 39,-33 32,-34 21,-28 17,-32 9,-31 2,-31-7,-26-10,-20-17,-22-19,-17-27,-19-32,-16-36,-13-39,-12-92,-17-110,-9-116,1-119,10-77,10-731,289z" fill="#ce171e"/><path d="M540,5131l608,255 85,-14 67,-14 145,-39 65,-22 71,-27 65,-28 59,-30 52,-30 47,-32 40,-32 33,-34 23,-29 18,-33 9,-31 0,-30-7,-26-11,-19-14,-18-24,-20-21,-13-33,-16-36,-14-41,-11-95,-16-100,-6-112,2-116,11-107,16-610,241-30,27z" fill="#be181f"/><path d="M599,5110l-27,35 538,225 19,-2 139,-24 75,-17 73,-20 76,-25 61,-22 55,-24 60,-29 53,-30 47,-31 41,-33 28,-27 23,-29 19,-33 9,-31 0,-26-5,-22-11,-20-14,-18-24,-20-21,-13-33,-16-69,-21-83,-14-101,-7-107,3-121,11-80,13-78,16-457,181-59,45z" fill="#ae1a20"/><path d="M609,5160l458,192 108,-13 133,-25 129,-35 120,-44 100,-48 43,-26 38,-26 34,-27 28,-28 23,-29 13,-24 9,-31 1,-25-6,-22-11,-19-15,-18-19,-15-22,-13-33,-15-71,-21-88,-12-101,-4-103,4-114,14-117,22-118,31-218,86-75,44-53,39-45,44-18,24z" fill="#a3191f"/><path d="M665,5146l-11,33 362,151 103,-7 96,-13 120,-25 120,-36 102,-40 86,-44 70,-46 31,-28 21,-22 18,-25 11,-24 6,-26-1,-20-6,-20-11,-19-16,-17-20,-14-50,-24-40,-12-34,-7-78,-10-94,-2-97,5-114,15-113,24-101,29-93,33-85,39-76,44-30,23-28,23-35,40z" fill="#97171d"/><path d="M714,5194l4,12 228,95 77,2 72,-3 78,-8 92,-16 102,-25 101,-32 86,-37 72,-39 58,-42 24,-22 19,-24 11,-18 8,-19 4,-19-2,-22-5,-16-12,-18-17,-16-22,-14-24,-12-29,-10-43,-11-37,-6-87,-6-89,2-95,9-106,19-95,24-96,32-87,37-70,38-31,21-29,23-20,20-19,23-12,21-8,18-3,20z" fill="#8c161c"/><path d="M825,5231l41,19 50,13 62,8 74,2 67,-3 78,-9 85,-15 71,-18 76,-24 67,-26 66,-34 49,-30 39,-33 28,-35 14,-31 1,-14-1,-16-5,-14-13,-18-18,-16-23,-13-27,-11-31,-9-75,-12-82,-3-102,7-102,15-105,26-86,28-87,38-67,39-49,41-19,21-13,21-8,19-2,20 4,20 6,14 16,18z" fill="#80141a"/><path d="M885,5199l36,18 48,13 45,6 64,3 64,-3 64,-7 71,-12 70,-18 61,-20 55,-22 56,-28 40,-26 35,-30 21,-27 6,-12 6,-19-2,-23-7,-14-9,-12-16,-12-20,-11-49,-17-64,-9-67,-2-86,5-85,13-86,21-76,25-68,29-59,34-43,34-26,33-9,19-2,18 2,15 6,14 10,12z" fill="#741217"/><path d="M971,5169l28,13 36,10 45,5 36,2 61,-3 52,-7 46,-8 54,-14 49,-16 43,-17 37,-19 32,-20 26,-22 20,-24 8,-21 0,-20-4,-10-10,-12-13,-10-16,-9-41,-13-51,-6-54,-1-63,4-69,11-61,16-56,18-58,25-42,24-35,28-20,26-7,24 4,22 10,13z" fill="#680f15"/><path d="M1076,5113l6,7 15,10 22,7 28,4 58,0 71,-11 60,-19 47,-23 16,-10 17,-17 8,-13 2,-15-7,-13-13,-11-18,-7-24,-5-30,-3-38,1-74,12-68,21-28,14-24,15-15,12-12,19-3,12z" fill="#5d0d12"/></g>
<path d="M49.7,511.3 L44.6,513.4 M58.3,514.9 L55.2,516.2 M67.1,518.6 L62,520.7 M76.1,522.4 L73.1,523.7 M85.4,526.3 L80.4,528.5 M95,530.3 L92,531.7 M104.9,534.5 L100,536.8 M115.1,538.7 L112.2,540.2 M125.7,543.2 L120.8,545.7 M136.6,547.7 L133.6,549.3 M147.8,552.4 L143,555.1 M159.4,557.3 L156.5,558.9 M171.4,562.3 L166.7,565.1 M183.8,567.5 L181,569.3 M183.8,567.5 L188.9,569.6 M193.1,561.8 L196.1,563 M201.9,556.2 L207.1,558.3 M210.5,550.9 L213.6,552.1 M218.8,545.8 L223.9,547.7 M226.7,540.8 L229.8,542 M234.4,536.1 L239.6,537.9 M241.8,531.4 L244.9,532.5 M249,527 L254.2,528.7 M255.9,522.7 L259,523.7 M262.6,518.5 L267.9,520.2 M269.1,514.5 L272.3,515.4 M275.4,510.6 L280.6,512.2 M281.5,506.8 L284.6,507.7 M287.4,503.1 L292.7,504.6 M49.7,511.3 L43.8,513.7 M49,498.1 L46,499.2 M48.2,484.6 L42.1,486.8 M47.4,471 L44.3,472 M46.6,457.2 L40.5,459.1 M45.8,443.2 L42.7,444.1 M44.9,429 L38.7,430.6 M44.1,414.6 L41,415.3 M43.2,399.9 L37,401.3 M42.4,385.1 L39.2,385.7 M41.5,370.1 L35.2,371.1 M40.6,354.8 L37.4,355.3 M39.7,339.3 L33.3,340.1" stroke="#333" stroke-width="1.1" fill="none"/>
<path d="M49.7,511.3 L39.7,339.3" stroke="#333" stroke-width="1.1" fill="none"/>
<g transform="scale(0.1)" fill-rule="evenodd"><path class=X d="M1258,3512l4,-4 136,0 4,4 56,0 4,3 36,0 4,3 26,0 4,4 50,3 3,3 17,0 3,4 17,0 3,3 17,0 20,7 46,6 4,4 76,16 37,14 10,0 90,30 37,16 16,4 57,26 7,0 23,14 7,0 150,76 6,7 50,27 17,13 10,3 97,70 90,77 116,117 0,3 77,83 93,117 90,123 40,64-13,-4-40,-20-17,-3-10,-7-20,-3-13,-7-10,0-13,-6-14,0-3,-4-13,0-20,-6-20,0-4,-4-26,0-4,-3-113,0-3,3-30,0-4,4-20,0-3,3-17,0-3,3-30,4-3,3-14,0-16,7-24,3-33,13-10,0-30,14-17,3-10,7-40,13-23,13-7,0-86,44-7,6-23,10-24,17-43,23-27,20-10,4-100,70-40,33-10,3-33,-50-3,-10-40,-56-4,-10-96,-144-74,-96-16,-27-40,-47-7,-13-17,-17-26,-36-87,-100-60,-64-53,-50-4,-6-3,0-63,-60-87,-70-77,-54-43,-23-7,-7-103,-50-103,-33-30,-3-4,-4-16,0-4,-3-20,0-3,-3-110,0-3,3-24,0-3,3-13,0-4,4-40,6-40,14-10,6-6,0 70,-33 40,-13 26,-14 17,-3 10,-7 27,-6 10,-7 80,-27 10,0 23,-10 10,0 13,-6 24,-4 26,-10 37,-6 3,-4 14,0 16,-6 14,0 3,-4 47,-6 3,-4 33,-3 4,-3 20,0 3,-4 17,0 3,-3 50,-3 3,-4 30,0 4,-3 36,0 4,-3zM448,3718l24,-10-17,10zM442,3722l3,-4 3,0-3,4zM435,3725l3,-3 4,0-4,3zM428,3728l4,-3 3,0-3,3zM422,3732l3,-4 3,0-3,4zM418,3732l4,0-4,3z"/><path class=b d="M1258,3512l4,-4 136,0 4,4 56,0 4,3 36,0 4,3 26,0 4,4 50,3 3,3 17,0 3,4 17,0 3,3 17,0 20,7 46,6 4,4 76,16 37,14 10,0 90,30 37,16 16,4 57,26 7,0 23,14 7,0 150,76 6,7 50,27 17,13 10,3 97,70 90,77 116,117 0,3 77,83 93,117 90,123 34,50 0,10-7,0-23,-13-34,-10-10,-7-20,-3-13,-7-10,0-13,-6-14,0-3,-4-13,0-20,-6-20,0-4,-4-26,0-4,-3-113,0-3,3-30,0-4,4-20,0-3,3-17,0-3,3-30,4-3,3-14,0-16,7-24,3-33,13-10,0-30,14-17,3-10,7-40,13-23,13-7,0-86,44-7,6-23,10-24,17-43,23-27,20-10,4-100,70-40,33-10,3-33,-50-3,-10-40,-56-4,-10-96,-144-74,-96-16,-27-40,-47-7,-13-17,-17-26,-36-87,-100-60,-64-53,-50-4,-6-3,0-63,-60-87,-70-77,-54-43,-23-7,-7-103,-50-103,-33-30,-3-4,-4-16,0-4,-3-20,0-3,-3-110,0-3,3-24,0-3,3-13,0-4,4-40,6-40,14-10,6-6,0 70,-33 40,-13 26,-14 17,-3 10,-7 27,-6 10,-7 80,-27 10,0 23,-10 10,0 13,-6 24,-4 26,-10 37,-6 3,-4 14,0 16,-6 14,0 3,-4 47,-6 3,-4 33,-3 4,-3 20,0 3,-4 17,0 3,-3 50,-3 3,-4 30,0 4,-3 36,0 4,-3zM448,3718l24,-10-17,10zM442,3722l3,-4 3,0-3,4zM435,3725l3,-3 4,0-4,3zM428,3728l4,-3 3,0-3,3zM422,3732l3,-4 3,0-3,4zM418,3732l4,0-4,3z"/><path class=Y d="M1258,3512l4,-4 136,0 4,4 96,3 4,3 26,0 4,4 23,0 3,3 24,0 3,3 17,0 3,4 37,3 3,3 63,10 4,4 76,16 14,7 33,7 90,30 10,6 60,20 70,34 7,0 173,90 80,50 113,86 54,47 116,117 110,126 117,154 53,76 2,5-6,19-29,-14-17,-3-10,-7-20,-3-13,-7-10,0-13,-6-14,0-3,-4-13,0-20,-6-20,0-4,-4-26,0-4,-3-113,0-3,3-30,0-4,4-20,0-3,3-37,3-16,7-14,0-16,7-24,3-33,13-30,7-10,7-17,3-10,7-40,13-116,57-7,6-23,10-24,17-43,23-27,20-10,4-100,70-40,33-10,3-33,-50-3,-10-40,-56-4,-10-96,-144-74,-96-16,-27-40,-47-7,-13-17,-17-26,-36-87,-100-60,-64-53,-50-4,-6-3,0-63,-60-87,-70-77,-54-43,-23-7,-7-103,-50-103,-33-30,-3-4,-4-16,0-4,-3-20,0-3,-3-110,0-3,3-24,0-3,3-13,0-4,4-40,6-40,14-10,6-6,0 70,-33 40,-13 26,-14 17,-3 10,-7 27,-6 10,-7 80,-27 10,0 23,-10 10,0 13,-6 24,-4 26,-10 37,-6 3,-4 14,0 16,-6 14,0 3,-4 47,-6 3,-4 33,-3 4,-3 20,0 3,-4 17,0 3,-3 50,-3 3,-4 30,0 4,-3 36,0 4,-3zM448,3718l24,-10-17,10zM442,3722l3,-4 3,0-3,4zM435,3725l3,-3 4,0-4,3zM428,3728l4,-3 3,0-3,3zM422,3732l3,-4 3,0-3,4zM418,3732l4,0-4,3z"/><path class=Z d="M1258,3512l4,-4 136,0 4,4 96,3 4,3 26,0 4,4 23,0 3,3 24,0 3,3 17,0 3,4 37,3 3,3 63,10 4,4 76,16 14,7 33,7 90,30 10,6 60,20 70,34 7,0 173,90 80,50 113,86 54,47 116,117 110,126 150,200 9,15-11,29-2,2-36,-16-20,-3-13,-7-10,0-13,-6-14,0-3,-4-13,0-20,-6-20,0-4,-4-26,0-4,-3-113,0-3,3-30,0-4,4-20,0-3,3-37,3-16,7-14,0-16,7-24,3-33,13-30,7-10,7-17,3-10,7-40,13-116,57-7,6-23,10-24,17-43,23-27,20-10,4-100,70-40,33-10,3-33,-50-3,-10-40,-56-4,-10-96,-144-74,-96-16,-27-40,-47-7,-13-17,-17-26,-36-87,-100-60,-64-53,-50-4,-6-3,0-63,-60-87,-70-77,-54-43,-23-7,-7-103,-50-103,-33-30,-3-4,-4-16,0-4,-3-20,0-3,-3-110,0-3,3-24,0-3,3-13,0-4,4-40,6-40,14-10,6-6,0 70,-33 40,-13 26,-14 17,-3 10,-7 27,-6 10,-7 80,-27 10,0 23,-10 10,0 13,-6 24,-4 26,-10 37,-6 3,-4 14,0 16,-6 14,0 3,-4 47,-6 3,-4 33,-3 4,-3 20,0 3,-4 17,0 3,-3 50,-3 3,-4 30,0 4,-3 36,0 4,-3zM448,3718l24,-10-17,10zM442,3722l3,-4 3,0-3,4zM435,3725l3,-3 4,0-4,3zM428,3728l4,-3 3,0-3,3zM422,3732l3,-4 3,0-3,4zM418,3732l4,0-4,3z"/><path class=a1 d="M1258,3512l4,-4 136,0 4,4 96,3 4,3 26,0 4,4 23,0 3,3 24,0 3,3 17,0 3,4 37,3 3,3 63,10 4,4 76,16 14,7 33,7 90,30 10,6 60,20 70,34 7,0 173,90 80,50 113,86 54,47 150,153 113,137 103,140 5,8-17,43-74,-24-14,0-3,-4-13,0-20,-6-20,0-4,-4-26,0-4,-3-113,0-3,3-30,0-4,4-20,0-3,3-37,3-16,7-14,0-16,7-24,3-33,13-30,7-10,7-17,3-10,7-40,13-116,57-7,6-23,10-24,17-43,23-27,20-10,4-100,70-40,33-10,3-33,-50-3,-10-40,-56-4,-10-96,-144-74,-96-16,-27-40,-47-7,-13-17,-17-26,-36-87,-100-60,-64-53,-50-4,-6-3,0-63,-60-87,-70-77,-54-43,-23-7,-7-103,-50-103,-33-30,-3-4,-4-16,0-4,-3-20,0-3,-3-110,0-3,3-24,0-3,3-13,0-4,4-40,6-40,14-10,6-6,0 70,-33 40,-13 26,-14 17,-3 10,-7 27,-6 10,-7 80,-27 10,0 23,-10 10,0 13,-6 24,-4 26,-10 37,-6 3,-4 14,0 16,-6 14,0 3,-4 47,-6 3,-4 33,-3 4,-3 20,0 3,-4 17,0 3,-3 50,-3 3,-4 30,0 4,-3 36,0 4,-3zM448,3718l24,-10-17,10zM442,3722l3,-4 3,0-3,4zM435,3725l3,-3 4,0-4,3zM428,3728l4,-3 3,0-3,3zM422,3732l3,-4 3,0-3,4zM418,3732l4,0-4,3z"/><path class=b1 d="M1258,3512l4,-4 136,0 4,4 96,3 4,3 26,0 4,4 23,0 3,3 24,0 3,3 17,0 3,4 37,3 3,3 63,10 4,4 76,16 14,7 33,7 90,30 10,6 60,20 70,34 7,0 173,90 80,50 113,86 54,47 150,153 113,137 94,128-23,55-18,-3-13,-7-10,0-13,-6-14,0-3,-4-13,0-20,-6-20,0-4,-4-26,0-4,-3-113,0-3,3-30,0-4,4-20,0-3,3-37,3-16,7-14,0-16,7-24,3-33,13-30,7-10,7-17,3-10,7-40,13-116,57-7,6-23,10-24,17-43,23-27,20-10,4-100,70-40,33-10,3-33,-50-3,-10-40,-56-4,-10-96,-144-74,-96-16,-27-40,-47-7,-13-17,-17-26,-36-87,-100-60,-64-53,-50-4,-6-3,0-63,-60-87,-70-77,-54-43,-23-7,-7-103,-50-103,-33-30,-3-4,-4-16,0-4,-3-20,0-3,-3-110,0-3,3-24,0-3,3-13,0-4,4-40,6-40,14-10,6-6,0 70,-33 40,-13 26,-14 17,-3 10,-7 27,-6 10,-7 80,-27 10,0 23,-10 10,0 13,-6 24,-4 26,-10 37,-6 3,-4 14,0 16,-6 14,0 3,-4 47,-6 3,-4 33,-3 4,-3 20,0 3,-4 17,0 3,-3 50,-3 3,-4 30,0 4,-3 36,0 4,-3zM448,3718l24,-10-17,10zM442,3722l3,-4 3,0-3,4zM435,3725l3,-3 4,0-4,3zM428,3728l4,-3 3,0-3,3zM422,3732l3,-4 3,0-3,4zM418,3732l4,0-4,3z"/><path class=c1 d="M1258,3512l4,-4 136,0 4,4 56,0 4,3 36,0 4,3 26,0 4,4 50,3 3,3 17,0 3,4 17,0 3,3 17,0 20,7 46,6 4,4 76,16 37,14 10,0 90,30 37,16 16,4 57,26 7,0 23,14 7,0 150,76 6,7 50,27 17,13 10,3 97,70 90,77 116,117 110,126 117,154-5,20-16,33-9,17-7,0-26,-10-14,0-3,-4-13,0-20,-6-20,0-4,-4-26,0-4,-3-113,0-3,3-30,0-4,4-20,0-3,3-37,3-16,7-14,0-16,7-24,3-33,13-10,0-30,14-17,3-10,7-6,0-10,6-7,0-10,7-7,0-23,13-7,0-116,60-144,90-23,20-50,34-27,23-10,3-33,-50-3,-10-40,-56-4,-10-96,-144-74,-96-16,-27-40,-47-7,-13-17,-17-26,-36-87,-100-60,-64-53,-50-4,-6-3,0-63,-60-87,-70-77,-54-43,-23-7,-7-103,-50-103,-33-30,-3-4,-4-16,0-4,-3-20,0-3,-3-110,0-3,3-24,0-3,3-13,0-4,4-40,6-40,14-10,6-6,0 70,-33 40,-13 26,-14 17,-3 10,-7 27,-6 10,-7 80,-27 10,0 23,-10 10,0 13,-6 24,-4 26,-10 37,-6 3,-4 14,0 16,-6 14,0 3,-4 47,-6 3,-4 33,-3 4,-3 20,0 3,-4 17,0 3,-3 50,-3 3,-4 30,0 4,-3 36,0 4,-3zM448,3718l24,-10-17,10zM442,3722l3,-4 3,0-3,4zM435,3725l3,-3 4,0-4,3zM428,3728l4,-3 3,0-3,3zM422,3732l3,-4 3,0-3,4zM418,3732l4,0-4,3z"/><path class=d1 d="M1258,3512l4,-4 136,0 4,4 56,0 4,3 36,0 4,3 26,0 4,4 50,3 3,3 17,0 3,4 17,0 3,3 17,0 20,7 46,6 4,4 76,16 37,14 10,0 90,30 37,16 16,4 57,26 7,0 23,14 7,0 150,76 6,7 50,27 17,13 10,3 97,70 90,77 116,117 110,126 103,136-23,55-16,26-40,-7-4,-3-13,0-3,-3-50,-4-4,-3-113,0-3,3-30,0-4,4-20,0-3,3-37,3-16,7-14,0-16,7-24,3-33,13-30,7-10,7-17,3-10,7-40,13-23,13-7,0-116,60-144,90-23,20-50,34-27,23-10,3-33,-50-3,-10-40,-56-4,-10-96,-144-74,-96-16,-27-40,-47-7,-13-17,-17-26,-36-87,-100-60,-64-53,-50-4,-6-3,0-63,-60-87,-70-77,-54-43,-23-7,-7-103,-50-103,-33-30,-3-4,-4-16,0-4,-3-20,0-3,-3-110,0-3,3-24,0-3,3-13,0-4,4-40,6-40,14-10,6-6,0 70,-33 40,-13 26,-14 17,-3 10,-7 27,-6 10,-7 80,-27 10,0 23,-10 10,0 13,-6 24,-4 26,-10 37,-6 3,-4 14,0 16,-6 14,0 3,-4 47,-6 3,-4 33,-3 4,-3 20,0 3,-4 17,0 3,-3 50,-3 3,-4 30,0 4,-3 36,0 4,-3zM448,3718l24,-10-17,10zM442,3722l3,-4 3,0-3,4zM435,3725l3,-3 4,0-4,3zM428,3728l4,-3 3,0-3,3zM422,3732l3,-4 3,0-3,4zM418,3732l4,0-4,3z"/><path class=e1 d="M1258,3512l4,-4 136,0 4,4 56,0 4,3 36,0 4,3 26,0 4,4 50,3 3,3 17,0 3,4 17,0 3,3 17,0 20,7 46,6 4,4 76,16 37,14 10,0 90,30 37,16 16,4 57,26 7,0 23,14 7,0 120,60 6,6 24,10 6,7 50,27 17,13 10,3 97,70 90,77 116,117 110,126 10,17 79,98-18,49-33,47-31,-4-3,-3-20,0-4,-4-26,0-4,-3-113,0-3,3-30,0-4,4-20,0-3,3-17,0-3,3-30,4-3,3-14,0-16,7-24,3-33,13-10,0-30,14-17,3-10,7-40,13-23,13-7,0-86,44-54,33-16,7-17,13-57,33-10,10-20,10-23,20-50,34-27,23-10,3-33,-50-3,-10-40,-56-4,-10-96,-144-74,-96-16,-27-40,-47-7,-13-17,-17-26,-36-87,-100-60,-64-53,-50-4,-6-3,0-63,-60-87,-70-77,-54-43,-23-7,-7-103,-50-103,-33-30,-3-4,-4-16,0-4,-3-20,0-3,-3-110,0-3,3-24,0-3,3-13,0-4,4-40,6-40,14-10,6-6,0 70,-33 40,-13 26,-14 17,-3 10,-7 27,-6 10,-7 80,-27 10,0 23,-10 10,0 13,-6 24,-4 26,-10 37,-6 3,-4 14,0 16,-6 14,0 3,-4 47,-6 3,-4 33,-3 4,-3 20,0 3,-4 17,0 3,-3 50,-3 3,-4 30,0 4,-3 36,0 4,-3zM448,3718l24,-10-17,10zM442,3722l3,-4 3,0-3,4zM435,3725l3,-3 4,0-4,3zM428,3728l4,-3 3,0-3,3zM422,3732l3,-4 3,0-3,4zM418,3732l4,0-4,3z"/><path class=f1 d="M1258,3512l4,-4 136,0 4,4 56,0 4,3 36,0 4,3 26,0 4,4 50,3 3,3 17,0 3,4 17,0 3,3 17,0 20,7 46,6 4,4 76,16 37,14 10,0 90,30 37,16 16,4 57,26 7,0 23,14 7,0 120,60 6,6 24,10 6,7 50,27 17,13 10,3 97,70 90,77 116,117 110,126 10,17 60,73 4,7-4,14-16,38-42,58-8,-3-20,0-4,-4-26,0-4,-3-113,0-3,3-54,4-3,3-37,3-16,7-14,0-16,7-24,3-33,13-30,7-10,7-17,3-10,7-40,13-116,57-54,33-16,7-17,13-57,33-10,10-20,10-23,20-50,34-27,23-10,3-33,-50-3,-10-40,-56-4,-10-96,-144-74,-96-16,-27-40,-47-7,-13-17,-17-26,-36-87,-100-60,-64-53,-50-4,-6-3,0-63,-60-87,-70-77,-54-43,-23-7,-7-103,-50-103,-33-30,-3-4,-4-16,0-4,-3-20,0-3,-3-110,0-3,3-24,0-3,3-13,0-4,4-40,6-40,14-10,6-6,0 70,-33 40,-13 26,-14 17,-3 10,-7 27,-6 10,-7 80,-27 10,0 23,-10 10,0 13,-6 24,-4 26,-10 37,-6 3,-4 14,0 16,-6 14,0 3,-4 47,-6 3,-4 33,-3 4,-3 20,0 3,-4 17,0 3,-3 50,-3 3,-4 30,0 4,-3 36,0 4,-3zM448,3718l24,-10-17,10zM442,3722l3,-4 3,0-3,4zM435,3725l3,-3 4,0-4,3zM428,3728l4,-3 3,0-3,3zM422,3732l3,-4 3,0-3,4zM418,3732l4,0-4,3z"/><path class=g1 d="M1258,3512l4,-4 136,0 4,4 56,0 4,3 36,0 4,3 26,0 4,4 50,3 3,3 17,0 3,4 17,0 3,3 17,0 20,7 46,6 4,4 76,16 37,14 10,0 90,30 37,16 16,4 57,26 7,0 23,14 7,0 120,60 6,6 24,10 6,7 50,27 17,13 10,3 97,70 90,77 116,117 0,3 77,83 92,116-19,51-23,35-35,40-28,-2-4,-3-113,0-3,3-54,4-3,3-37,3-16,7-14,0-16,7-24,3-33,13-30,7-10,7-17,3-10,7-40,13-116,57-54,33-16,7-17,13-57,33-10,10-20,10-23,20-50,34-27,23-10,3-33,-50-3,-10-40,-56-4,-10-96,-144-74,-96-16,-27-40,-47-7,-13-17,-17-26,-36-87,-100-60,-64-53,-50-4,-6-3,0-63,-60-87,-70-77,-54-43,-23-7,-7-103,-50-103,-33-30,-3-4,-4-16,0-4,-3-20,0-3,-3-110,0-3,3-24,0-3,3-13,0-4,4-40,6-40,14-10,6-6,0 70,-33 40,-13 26,-14 17,-3 10,-7 27,-6 10,-7 80,-27 10,0 23,-10 10,0 13,-6 24,-4 26,-10 37,-6 3,-4 14,0 16,-6 14,0 3,-4 47,-6 3,-4 33,-3 4,-3 20,0 3,-4 17,0 3,-3 50,-3 3,-4 30,0 4,-3 36,0 4,-3zM448,3718l24,-10-17,10zM442,3722l3,-4 3,0-3,4zM435,3725l3,-3 4,0-4,3zM428,3728l4,-3 3,0-3,3zM422,3732l3,-4 3,0-3,4zM418,3732l4,0-4,3z"/><path class=h1 d="M1258,3512l4,-4 136,0 4,4 56,0 4,3 36,0 4,3 26,0 4,4 50,3 3,3 17,0 3,4 17,0 3,3 17,0 20,7 46,6 4,4 76,16 37,14 10,0 90,30 37,16 16,4 57,26 7,0 23,14 7,0 120,60 6,6 24,10 6,7 50,27 17,13 10,3 97,70 90,77 116,117 0,3 77,83 77,97-6,23-14,31-30,42-44,44-113,0-3,3-30,0-4,4-20,0-3,3-37,3-16,7-14,0-16,7-24,3-33,13-10,0-30,14-17,3-10,7-6,0-10,6-7,0-10,7-7,0-23,13-7,0-86,44-54,33-16,7-17,13-57,33-10,10-20,10-23,20-50,34-27,23-10,3-33,-50-3,-10-40,-56-4,-10-96,-144-74,-96-16,-27-40,-47-7,-13-17,-17-26,-36-87,-100-60,-64-53,-50-4,-6-3,0-63,-60-87,-70-77,-54-43,-23-7,-7-103,-50-103,-33-30,-3-4,-4-16,0-4,-3-20,0-3,-3-110,0-3,3-24,0-3,3-13,0-4,4-40,6-40,14-10,6-6,0 70,-33 40,-13 26,-14 17,-3 10,-7 27,-6 10,-7 80,-27 10,0 23,-10 10,0 13,-6 24,-4 26,-10 37,-6 3,-4 14,0 16,-6 14,0 3,-4 47,-6 3,-4 33,-3 4,-3 20,0 3,-4 17,0 3,-3 50,-3 3,-4 30,0 4,-3 36,0 4,-3zM448,3718l24,-10-17,10zM442,3722l3,-4 3,0-3,4zM435,3725l3,-3 4,0-4,3zM428,3728l4,-3 3,0-3,3zM422,3732l3,-4 3,0-3,4zM418,3732l4,0-4,3z"/><path class=i1 d="M1258,3512l4,-4 136,0 4,4 56,0 4,3 36,0 4,3 26,0 4,4 50,3 3,3 17,0 3,4 17,0 3,3 17,0 20,7 46,6 4,4 76,16 37,14 10,0 90,30 37,16 16,4 57,26 7,0 23,14 7,0 120,60 6,6 47,24 80,50 77,56 90,77 116,117 0,3 77,83 57,70 4,10-12,37-22,38-18,22-62,60-77,0-3,3-30,0-4,4-20,0-3,3-37,3-16,7-14,0-16,7-24,3-33,13-10,0-30,14-17,3-10,7-6,0-10,6-7,0-10,7-7,0-116,57-54,33-16,7-17,13-57,33-10,10-20,10-23,20-50,34-27,23-10,3-33,-50-3,-10-40,-56-4,-10-96,-144-74,-96-16,-27-40,-47-7,-13-17,-17-26,-36-87,-100-60,-64-53,-50-4,-6-3,0-63,-60-87,-70-77,-54-43,-23-7,-7-103,-50-103,-33-30,-3-4,-4-16,0-4,-3-20,0-3,-3-110,0-3,3-24,0-3,3-13,0-4,4-40,6-40,14-10,6-6,0 70,-33 40,-13 26,-14 17,-3 10,-7 27,-6 10,-7 80,-27 10,0 23,-10 10,0 13,-6 24,-4 26,-10 37,-6 3,-4 14,0 16,-6 14,0 3,-4 47,-6 3,-4 33,-3 4,-3 20,0 3,-4 17,0 3,-3 50,-3 3,-4 30,0 4,-3 36,0 4,-3zM448,3718l24,-10-17,10zM442,3722l3,-4 3,0-3,4zM435,3725l3,-3 4,0-4,3zM428,3728l4,-3 3,0-3,3zM422,3732l3,-4 3,0-3,4zM418,3732l4,0-4,3z"/><path class=j1 d="M1258,3512l4,-4 136,0 4,4 56,0 4,3 36,0 4,3 26,0 4,4 50,3 3,3 17,0 3,4 17,0 3,3 17,0 20,7 46,6 4,4 76,16 37,14 10,0 90,30 37,16 16,4 57,26 7,0 23,14 7,0 120,60 6,6 47,24 80,50 77,56 90,77 116,117 120,140 3,5-3,15-10,26-20,33-30,36-78,68-68,3-4,4-20,0-3,3-17,0-3,3-30,4-3,3-14,0-16,7-24,3-33,13-10,0-30,14-17,3-10,7-6,0-10,6-7,0-10,7-7,0-116,57-54,33-16,7-17,13-57,33-10,10-20,10-65,49-55,15-166,-254-74,-96-16,-27-107,-133-70,-80-60,-64-53,-50-4,-6-3,0-63,-60-87,-70-77,-54-43,-23-7,-7-103,-50-103,-33-30,-3-4,-4-16,0-4,-3-20,0-3,-3-110,0-3,3-24,0-3,3-13,0-4,4-40,6-40,14-10,6-6,0 70,-33 40,-13 26,-14 17,-3 10,-7 27,-6 10,-7 80,-27 10,0 23,-10 10,0 13,-6 24,-4 26,-10 37,-6 3,-4 14,0 16,-6 14,0 3,-4 47,-6 3,-4 33,-3 4,-3 20,0 3,-4 17,0 3,-3 50,-3 3,-4 30,0 4,-3 36,0 4,-3zM448,3718l24,-10-17,10zM442,3722l3,-4 3,0-3,4zM435,3725l3,-3 4,0-4,3zM428,3728l4,-3 3,0-3,3zM422,3732l3,-4 3,0-3,4zM418,3732l4,0-4,3z"/><path class=k1 d="M1258,3512l4,-4 136,0 4,4 56,0 4,3 66,3 4,4 23,0 3,3 24,0 3,3 17,0 3,4 37,3 20,7 46,6 4,4 76,16 37,14 10,0 90,30 37,16 16,4 57,26 7,0 23,14 7,0 120,60 6,6 24,10 6,7 50,27 17,13 10,3 67,47 90,73 146,144 107,123-13,45-27,42-30,33-42,37-65,46-40,4-3,3-17,0-3,3-30,4-3,3-14,0-16,7-24,3-33,13-10,0-30,14-17,3-10,7-40,13-23,13-7,0-86,44-7,6-23,10-24,17-43,23-73,50-140,38-127,-194-10,-10-47,-70-40,-50-16,-27-107,-133-70,-80-60,-64-53,-50-4,-6-106,-94-94,-70-80,-50-80,-40-6,0-17,-10-7,0-10,-6-50,-17-10,0-26,-10-30,-3-4,-4-40,-3-3,-3-110,0-3,3-24,0-3,3-13,0-4,4-40,6-40,14-10,6-6,0 70,-33 40,-13 26,-14 17,-3 10,-7 27,-6 10,-7 80,-27 10,0 23,-10 10,0 13,-6 24,-4 26,-10 37,-6 3,-4 14,0 16,-6 14,0 3,-4 47,-6 3,-4 33,-3 4,-3 20,0 3,-4 17,0 3,-3 50,-3 3,-4 30,0 4,-3 36,0 4,-3zM448,3718l24,-10-17,10zM442,3722l3,-4 3,0-3,4zM435,3725l3,-3 4,0-4,3zM428,3728l4,-3 3,0-3,3zM422,3732l3,-4 3,0-3,4zM418,3732l4,0-4,3z"/><path class=l1 d="M1258,3512l4,-4 136,0 4,4 56,0 4,3 66,3 4,4 23,0 3,3 24,0 3,3 17,0 3,4 37,3 20,7 46,6 4,4 76,16 37,14 10,0 90,30 37,16 16,4 57,26 7,0 23,14 7,0 120,60 6,6 24,10 6,7 50,27 17,13 10,3 67,47 90,73 146,144 91,104-5,22-10,27-16,26-22,27-41,39-63,48-67,39-3,4-14,0-16,7-14,0-16,7-24,3-33,13-30,7-10,7-17,3-10,7-40,13-116,57-7,6-23,10-55,35-242,68-110,-169-10,-10-47,-70-40,-50-16,-27-107,-133-70,-80-60,-64-53,-50-4,-6-106,-94-94,-70-80,-50-80,-40-6,0-17,-10-7,0-10,-6-50,-17-10,0-26,-10-30,-3-4,-4-40,-3-3,-3-110,0-3,3-24,0-3,3-13,0-4,4-40,6-40,14-10,6-6,0 70,-33 40,-13 26,-14 17,-3 10,-7 27,-6 10,-7 80,-27 10,0 23,-10 10,0 13,-6 24,-4 26,-10 37,-6 3,-4 14,0 16,-6 14,0 3,-4 47,-6 3,-4 33,-3 4,-3 20,0 3,-4 17,0 3,-3 50,-3 3,-4 30,0 4,-3 36,0 4,-3zM448,3718l24,-10-17,10zM442,3722l3,-4 3,0-3,4zM435,3725l3,-3 4,0-4,3zM428,3728l4,-3 3,0-3,3zM422,3732l3,-4 3,0-3,4zM418,3732l4,0-4,3z"/><path class=m1 d="M1258,3512l4,-4 136,0 4,4 56,0 4,3 66,3 4,4 23,0 3,3 24,0 3,3 17,0 3,4 37,3 20,7 46,6 4,4 76,16 37,14 10,0 90,30 37,16 16,4 57,26 7,0 23,14 7,0 120,60 6,6 24,10 6,7 50,27 17,13 10,3 67,47 90,73 146,144 0,3 74,81-11,42-17,30-22,29-61,55-96,63-123,63-27,7-10,7-17,3-10,7-40,13-66,33-7,-1-87,32-150,46-150,39-93,-142-10,-10-47,-70-40,-50-6,-14-100,-126-87,-100-60,-64-97,-93-83,-70-77,-57-80,-50-80,-40-6,0-17,-10-7,0-10,-6-50,-17-10,0-26,-10-30,-3-4,-4-40,-3-3,-3-110,0-3,3-24,0-3,3-13,0-4,4-40,6-40,14-10,6-6,0 70,-33 40,-13 26,-14 17,-3 10,-7 27,-6 10,-7 80,-27 10,0 23,-10 10,0 13,-6 24,-4 26,-10 37,-6 3,-4 14,0 16,-6 14,0 3,-4 47,-6 3,-4 33,-3 4,-3 20,0 3,-4 17,0 3,-3 50,-3 3,-4 30,0 4,-3 36,0 4,-3zM448,3718l24,-10-17,10zM442,3722l3,-4 3,0-3,4zM435,3725l3,-3 4,0-4,3zM428,3728l4,-3 3,0-3,3zM422,3732l3,-4 3,0-3,4zM418,3732l4,0-4,3z"/><path class=n1 d="M1258,3512l4,-4 136,0 4,4 56,0 4,3 66,3 4,4 23,0 3,3 24,0 3,3 17,0 3,4 37,3 20,7 46,6 4,4 76,16 37,14 10,0 90,30 37,16 16,4 57,26 7,0 23,14 7,0 120,60 6,6 24,10 6,7 50,27 17,13 10,3 67,47 90,73 146,144 0,3 57,60-4,27-9,23-16,27-24,29-57,51-93,60-110,56-144,59-126,45-164,50-146,38-77,-118-10,-10-13,-24-74,-96-16,-27-40,-47-7,-13-17,-17-26,-36-87,-100-60,-64-97,-93-83,-70-77,-57-80,-50-80,-40-6,0-17,-10-7,0-10,-6-50,-17-10,0-26,-10-30,-3-4,-4-40,-3-3,-3-110,0-3,3-24,0-3,3-13,0-4,4-40,6-40,14-10,6-6,0 70,-33 40,-13 26,-14 17,-3 10,-7 27,-6 10,-7 80,-27 10,0 23,-10 10,0 13,-6 24,-4 26,-10 37,-6 3,-4 14,0 16,-6 14,0 3,-4 47,-6 3,-4 33,-3 4,-3 20,0 3,-4 17,0 3,-3 50,-3 3,-4 30,0 4,-3 36,0 4,-3zM448,3718l24,-10-17,10zM442,3722l3,-4 3,0-3,4zM435,3725l3,-3 4,0-4,3zM428,3728l4,-3 3,0-3,3zM422,3732l3,-4 3,0-3,4zM418,3732l4,0-4,3z"/><path class=o1 d="M1258,3512l4,-4 136,0 4,4 56,0 4,3 66,3 4,4 23,0 3,3 24,0 3,3 17,0 3,4 37,3 20,7 46,6 4,4 76,16 37,14 10,0 90,30 37,16 16,4 57,26 7,0 23,14 7,0 120,60 6,6 24,10 6,7 50,27 94,63 66,53 54,47 150,153 6,10-11,44-19,33-23,27-57,50-73,48-110,57-123,52-160,57-157,46-160,42-60,-92-10,-10-13,-24-74,-96-16,-27-40,-47-7,-13-17,-17-26,-36-87,-100-60,-64-97,-93-113,-93-77,-54-43,-23-7,-7-120,-56-50,-17-10,0-13,-7-43,-6-4,-4-16,0-4,-3-20,0-3,-3-110,0-3,3-24,0-3,3-13,0-4,4-40,6-40,14-10,6-6,0 70,-33 40,-13 26,-14 17,-3 10,-7 27,-6 10,-7 80,-27 10,0 23,-10 10,0 13,-6 24,-4 26,-10 37,-6 3,-4 14,0 16,-6 14,0 3,-4 47,-6 3,-4 33,-3 4,-3 20,0 3,-4 17,0 3,-3 50,-3 3,-4 30,0 4,-3 36,0 4,-3zM448,3718l24,-10-17,10zM442,3722l3,-4 3,0-3,4zM435,3725l3,-3 4,0-4,3zM428,3728l4,-3 3,0-3,3zM422,3732l3,-4 3,0-3,4zM418,3732l4,0-4,3z"/><path class=p1 d="M1258,3512l4,-4 136,0 4,4 56,0 4,3 66,3 4,4 23,0 3,3 24,0 3,3 17,0 3,4 37,3 20,7 46,6 4,4 76,16 37,14 10,0 90,30 37,16 16,4 57,26 7,0 23,14 7,0 120,60 6,6 24,10 6,7 50,27 94,63 66,53 54,47 139,142-3,21-7,24-19,33-24,27-57,50-79,50-114,57-146,60-150,50-137,39-157,40-66,-100-74,-96-16,-27-40,-47-7,-13-17,-17-26,-36-87,-100-60,-64-97,-93-113,-93-77,-54-43,-23-7,-7-120,-56-50,-17-10,0-13,-7-43,-6-4,-4-16,0-4,-3-20,0-3,-3-110,0-3,3-24,0-3,3-13,0-4,4-40,6-40,14-10,6-6,0 70,-33 40,-13 26,-14 17,-3 10,-7 27,-6 10,-7 80,-27 10,0 23,-10 10,0 13,-6 24,-4 26,-10 37,-6 3,-4 14,0 16,-6 14,0 3,-4 47,-6 3,-4 33,-3 4,-3 20,0 3,-4 17,0 3,-3 50,-3 3,-4 30,0 4,-3 36,0 4,-3zM448,3718l24,-10-17,10zM442,3722l3,-4 3,0-3,4zM435,3725l3,-3 4,0-4,3zM428,3728l4,-3 3,0-3,3zM422,3732l3,-4 3,0-3,4zM418,3732l4,0-4,3z"/><path class=q1 d="M1258,3512l4,-4 136,0 4,4 56,0 4,3 66,3 4,4 23,0 3,3 24,0 3,3 17,0 3,4 37,3 20,7 46,6 4,4 76,16 37,14 10,0 90,30 37,16 16,4 57,26 7,0 23,14 7,0 120,60 6,6 24,10 6,7 50,27 94,63 66,53 54,47 116,117 4,16-11,40-36,51-53,47-90,57-84,42-146,61-117,40-190,56-163,40-140,-197-40,-47-7,-13-17,-17-26,-36-87,-100-60,-64-97,-93-113,-93-77,-54-43,-23-7,-7-120,-56-50,-17-10,0-13,-7-43,-6-4,-4-16,0-4,-3-20,0-3,-3-110,0-3,3-24,0-3,3-13,0-4,4-40,6-40,14-10,6-6,0 70,-33 40,-13 26,-14 17,-3 10,-7 27,-6 10,-7 80,-27 10,0 23,-10 10,0 13,-6 24,-4 26,-10 37,-6 3,-4 14,0 16,-6 14,0 3,-4 47,-6 3,-4 33,-3 4,-3 20,0 3,-4 17,0 3,-3 50,-3 3,-4 30,0 4,-3 36,0 4,-3zM448,3718l24,-10-17,10zM442,3722l3,-4 3,0-3,4zM435,3725l3,-3 4,0-4,3zM428,3728l4,-3 3,0-3,3zM422,3732l3,-4 3,0-3,4zM418,3732l4,0-4,3z"/><path class=r1 d="M1258,3512l4,-4 136,0 4,4 56,0 4,3 66,3 4,4 23,0 3,3 24,0 3,3 17,0 3,4 37,3 20,7 46,6 4,4 76,16 37,14 10,0 90,30 10,6 60,20 40,20 7,0 150,74 6,6 47,24 80,50 77,56 90,77 102,102-1,21-6,24-12,23-21,27-32,32-36,28-81,50-80,40-150,61-160,53-143,40-169,40-121,-171-40,-47-7,-13-17,-17-26,-36-87,-100-60,-64-97,-93-113,-93-77,-54-43,-23-7,-7-120,-56-50,-17-10,0-13,-7-43,-6-4,-4-16,0-4,-3-20,0-3,-3-110,0-3,3-24,0-3,3-13,0-4,4-40,6-40,14-10,6-6,0 70,-33 40,-13 26,-14 17,-3 10,-7 27,-6 10,-7 80,-27 10,0 23,-10 10,0 13,-6 24,-4 26,-10 37,-6 3,-4 14,0 16,-6 14,0 3,-4 47,-6 3,-4 33,-3 4,-3 20,0 3,-4 17,0 3,-3 50,-3 3,-4 30,0 4,-3 36,0 4,-3zM448,3718l24,-10-17,10zM442,3722l3,-4 3,0-3,4zM435,3725l3,-3 4,0-4,3zM428,3728l4,-3 3,0-3,3zM422,3732l3,-4 3,0-3,4zM418,3732l4,0-4,3z"/><path class=s1 d="M1258,3512l4,-4 136,0 4,4 56,0 4,3 66,3 4,4 23,0 3,3 24,0 3,3 17,0 3,4 37,3 20,7 46,6 4,4 76,16 37,14 10,0 90,30 10,6 60,20 40,20 7,0 150,74 6,6 47,24 80,50 77,56 90,77 83,83 0,20-7,27-17,30-26,30-62,50-71,43-100,49-150,58-124,40-116,33-217,54-47,-70-40,-50-16,-27-40,-47-7,-13-83,-100-47,-53-57,-57 0,-3-40,-40-3,0-17,-20-3,0-63,-60-87,-70-77,-54-43,-23-7,-7-120,-56-50,-17-10,0-13,-7-43,-6-4,-4-16,0-4,-3-20,0-3,-3-110,0-3,3-24,0-3,3-13,0-4,4-40,6-40,14-10,6-6,0 70,-33 40,-13 26,-14 17,-3 10,-7 27,-6 10,-7 80,-27 10,0 23,-10 10,0 13,-6 24,-4 26,-10 37,-6 3,-4 14,0 16,-6 14,0 3,-4 47,-6 3,-4 33,-3 4,-3 20,0 3,-4 17,0 3,-3 50,-3 3,-4 30,0 4,-3 36,0 4,-3zM448,3718l24,-10-17,10zM442,3722l3,-4 3,0-3,4zM435,3725l3,-3 4,0-4,3zM428,3728l4,-3 3,0-3,3zM422,3732l3,-4 3,0-3,4zM418,3732l4,0-4,3z"/><path class=t1 d="M1258,3512l4,-4 136,0 4,4 56,0 4,3 66,3 4,4 23,0 3,3 24,0 3,3 17,0 3,4 37,3 20,7 46,6 4,4 76,16 37,14 10,0 90,30 10,6 43,14 10,6 7,0 70,34 7,0 120,60 6,6 24,10 6,7 50,27 17,13 10,3 67,47 120,100 63,64 2,19-6,24-25,43-48,45-65,45-125,64-136,53-144,47-166,46-175,39-85,-119-40,-47-7,-13-17,-17-26,-36-87,-100-57,-57 0,-3-40,-40-3,0-17,-20-3,0-63,-60-87,-70-77,-54-43,-23-7,-7-120,-56-50,-17-10,0-13,-7-43,-6-4,-4-16,0-4,-3-20,0-3,-3-110,0-3,3-24,0-3,3-13,0-4,4-40,6-40,14-10,6-6,0 70,-33 40,-13 26,-14 17,-3 10,-7 27,-6 10,-7 80,-27 10,0 23,-10 10,0 13,-6 24,-4 26,-10 37,-6 3,-4 14,0 16,-6 14,0 3,-4 47,-6 3,-4 33,-3 4,-3 20,0 3,-4 17,0 3,-3 50,-3 3,-4 30,0 4,-3 36,0 4,-3zM448,3718l24,-10-17,10zM442,3722l3,-4 3,0-3,4zM435,3725l3,-3 4,0-4,3zM428,3728l4,-3 3,0-3,3zM422,3732l3,-4 3,0-3,4zM418,3732l4,0-4,3z"/><path class=u1 d="M1258,3512l4,-4 136,0 4,4 56,0 4,3 66,3 4,4 23,0 3,3 24,0 3,3 17,0 3,4 37,3 20,7 46,6 4,4 76,16 37,14 10,0 90,30 10,6 43,14 10,6 7,0 70,34 7,0 120,60 6,6 24,10 6,7 50,27 17,13 10,3 67,47 90,73 74,71 1,19-4,24-17,33-14,17-56,50-74,46-107,51-127,49-156,50-194,50-139,31-67,-94-40,-47-7,-13-17,-17-26,-36-87,-100-60,-64-37,-36-3,0-17,-20-106,-94-94,-70-80,-50-120,-56-50,-17-10,0-13,-7-10,0-3,-3-30,-3-4,-4-16,0-4,-3-20,0-3,-3-110,0-3,3-24,0-3,3-13,0-4,4-40,6-40,14-10,6-6,0 70,-33 40,-13 26,-14 17,-3 10,-7 27,-6 10,-7 80,-27 10,0 23,-10 10,0 13,-6 24,-4 26,-10 37,-6 3,-4 14,0 16,-6 14,0 3,-4 47,-6 3,-4 33,-3 4,-3 20,0 3,-4 17,0 3,-3 50,-3 3,-4 30,0 4,-3 36,0 4,-3zM448,3718l24,-10-17,10zM442,3722l3,-4 3,0-3,4zM435,3725l3,-3 4,0-4,3zM428,3728l4,-3 3,0-3,3zM422,3732l3,-4 3,0-3,4zM418,3732l4,0-4,3z"/><path class=v1 d="M1258,3512l4,-4 136,0 4,4 56,0 4,3 66,3 4,4 23,0 3,3 24,0 3,3 17,0 3,4 37,3 20,7 46,6 4,4 76,16 37,14 10,0 90,30 10,6 43,14 10,6 7,0 70,34 7,0 120,60 6,6 24,10 6,7 50,27 17,13 10,3 67,47 90,73 53,50 3,24-6,26-15,27-19,23-61,50-73,44-116,53-140,51-120,36-193,50-145,31-48,-68-107,-133-70,-80-60,-64-53,-50-4,-6-3,0-63,-60-87,-70-77,-54-43,-23-7,-7-120,-56-50,-17-10,0-13,-7-10,0-3,-3-30,-3-4,-4-16,0-4,-3-20,0-3,-3-110,0-3,3-24,0-3,3-13,0-4,4-40,6-40,14-10,6-6,0 70,-33 40,-13 26,-14 17,-3 10,-7 27,-6 10,-7 80,-27 10,0 23,-10 10,0 13,-6 24,-4 26,-10 37,-6 3,-4 14,0 16,-6 14,0 3,-4 47,-6 3,-4 33,-3 4,-3 20,0 3,-4 17,0 3,-3 50,-3 3,-4 30,0 4,-3 36,0 4,-3zM448,3718l24,-10-17,10zM442,3722l3,-4 3,0-3,4zM435,3725l3,-3 4,0-4,3zM428,3728l4,-3 3,0-3,3zM422,3732l3,-4 3,0-3,4zM418,3732l4,0-4,3z"/><path class=w1 d="M1258,3512l4,-4 136,0 4,4 96,3 4,3 26,0 4,4 23,0 3,3 44,3 3,4 17,0 3,3 17,0 20,7 46,6 4,4 76,16 190,64 57,26 7,0 23,14 7,0 120,60 6,6 24,10 6,7 50,27 17,13 10,3 67,47 121,101 5,29-7,27-15,26-18,22-60,48-96,54-87,39-127,46-153,45-169,43-155,33-29,-43-107,-133-70,-80-60,-64-53,-50-4,-6-3,0-63,-60-87,-70-77,-54-43,-23-7,-7-120,-56-50,-17-10,0-13,-7-10,0-3,-3-30,-3-4,-4-16,0-4,-3-20,0-3,-3-110,0-3,3-24,0-3,3-13,0-4,4-40,6-40,14-10,6-6,0 70,-33 40,-13 26,-14 17,-3 10,-7 27,-6 10,-7 80,-27 10,0 23,-10 10,0 13,-6 24,-4 26,-10 37,-6 3,-4 14,0 16,-6 14,0 3,-4 47,-6 3,-4 33,-3 4,-3 20,0 3,-4 17,0 3,-3 50,-3 3,-4 30,0 4,-3 36,0 4,-3zM448,3718l24,-10-17,10zM442,3722l3,-4 3,0-3,4zM435,3725l3,-3 4,0-4,3zM428,3728l4,-3 3,0-3,3zM422,3732l3,-4 3,0-3,4zM418,3732l4,0-4,3z"/><path class=x1 d="M1258,3512l4,-4 136,0 4,4 96,3 4,3 26,0 4,4 23,0 3,3 44,3 3,4 17,0 3,3 17,0 20,7 46,6 4,4 76,16 190,64 57,26 7,0 23,14 7,0 120,60 6,6 47,24 80,50 77,56 70,60 5,24-5,30-17,30-20,22-53,42-80,46-114,50-130,45-166,48-300,67-10,-17-40,-47-7,-13-17,-17-43,-56-70,-80-60,-64-53,-50-4,-6-3,0-63,-60-87,-70-77,-54-43,-23-7,-7-120,-56-50,-17-10,0-13,-7-10,0-3,-3-30,-3-4,-4-16,0-4,-3-20,0-3,-3-110,0-3,3-24,0-3,3-13,0-4,4-40,6-40,14-10,6-6,0 70,-33 40,-13 26,-14 17,-3 10,-7 27,-6 10,-7 80,-27 10,0 23,-10 10,0 13,-6 24,-4 26,-10 37,-6 3,-4 14,0 16,-6 14,0 3,-4 47,-6 3,-4 33,-3 4,-3 20,0 3,-4 17,0 3,-3 50,-3 3,-4 30,0 4,-3 36,0 4,-3zM448,3718l24,-10-17,10zM442,3722l3,-4 3,0-3,4zM435,3725l3,-3 4,0-4,3zM428,3728l4,-3 3,0-3,3zM422,3732l3,-4 3,0-3,4zM418,3732l4,0-4,3z"/><path class=y1 d="M1258,3512l4,-4 136,0 4,4 96,3 4,3 26,0 4,4 23,0 3,3 44,3 3,4 17,0 3,3 17,0 20,7 46,6 4,4 76,16 190,64 57,26 7,0 23,14 7,0 120,60 6,6 47,24 80,50 77,56 47,41 7,26-4,27-24,39-60,51-83,48-107,46-106,38-157,46-203,48-139,28-81,-104-87,-100-60,-64-53,-50-4,-6-3,0-63,-60-87,-70-77,-54-43,-23-7,-7-120,-56-50,-17-10,0-13,-7-10,0-3,-3-30,-3-4,-4-16,0-4,-3-20,0-3,-3-110,0-3,3-24,0-3,3-13,0-4,4-40,6-40,14-10,6-6,0 70,-33 40,-13 26,-14 17,-3 10,-7 27,-6 10,-7 80,-27 10,0 23,-10 10,0 13,-6 24,-4 26,-10 37,-6 3,-4 14,0 16,-6 14,0 3,-4 47,-6 3,-4 33,-3 4,-3 20,0 3,-4 17,0 3,-3 50,-3 3,-4 30,0 4,-3 36,0 4,-3zM448,3718l24,-10-17,10zM442,3722l3,-4 3,0-3,4zM435,3725l3,-3 4,0-4,3zM428,3728l4,-3 3,0-3,3zM422,3732l3,-4 3,0-3,4zM418,3732l4,0-4,3z"/><path class=z1 d="M1258,3512l4,-4 136,0 4,4 56,0 4,3 36,0 4,3 26,0 4,4 50,3 3,3 17,0 3,4 17,0 3,3 17,0 20,7 46,6 4,4 76,16 14,7 33,7 90,30 10,6 60,20 17,10 6,0 17,10 7,0 23,14 20,6 137,70 6,7 17,7 80,50 100,76 10,30-6,30-11,20-23,27-57,44-66,36-117,50-107,37-153,44-190,44-152,29-61,-77-87,-100-60,-64-53,-50-4,-6-3,0-63,-60-87,-70-77,-54-43,-23-7,-7-120,-56-50,-17-10,0-13,-7-10,0-3,-3-30,-3-4,-4-16,0-4,-3-20,0-3,-3-110,0-3,3-24,0-3,3-13,0-4,4-40,6-40,14-10,6-6,0 70,-33 40,-13 26,-14 17,-3 10,-7 27,-6 10,-7 80,-27 10,0 23,-10 10,0 13,-6 24,-4 26,-10 37,-6 3,-4 14,0 16,-6 14,0 3,-4 47,-6 3,-4 33,-3 4,-3 20,0 3,-4 17,0 3,-3 50,-3 3,-4 30,0 4,-3 36,0 4,-3zM448,3718l24,-10-17,10zM442,3722l3,-4 3,0-3,4zM435,3725l3,-3 4,0-4,3zM428,3728l4,-3 3,0-3,3zM422,3732l3,-4 3,0-3,4zM418,3732l4,0-4,3z"/><path class=A1 d="M1258,3512l4,-4 136,0 4,4 56,0 4,3 36,0 4,3 26,0 4,4 50,3 3,3 17,0 3,4 17,0 3,3 17,0 20,7 46,6 4,4 76,16 14,7 33,7 90,30 10,6 17,4 10,6 33,10 17,10 6,0 47,24 7,0 120,60 6,6 24,10 6,7 50,27 17,13 10,3 95,70 12,30-3,27-9,20-22,27-60,46-82,44-94,39-110,37-167,47-177,40-153,28-17,-15-26,-36-87,-100-60,-64-53,-50-4,-6-3,0-63,-60-87,-70-77,-54-43,-23-7,-7-120,-56-50,-17-10,0-13,-7-10,0-3,-3-30,-3-4,-4-16,0-4,-3-20,0-3,-3-110,0-3,3-24,0-3,3-13,0-4,4-40,6-40,14-10,6-6,0 70,-33 40,-13 26,-14 17,-3 10,-7 27,-6 10,-7 80,-27 10,0 23,-10 10,0 13,-6 24,-4 26,-10 37,-6 3,-4 14,0 16,-6 14,0 3,-4 47,-6 3,-4 33,-3 4,-3 20,0 3,-4 17,0 3,-3 50,-3 3,-4 30,0 4,-3 36,0 4,-3zM448,3718l24,-10-17,10zM442,3722l3,-4 3,0-3,4zM435,3725l3,-3 4,0-4,3zM428,3728l4,-3 3,0-3,3zM422,3732l3,-4 3,0-3,4zM418,3732l4,0-4,3z"/><path class=B1 d="M1258,3512l4,-4 136,0 4,4 56,0 4,3 36,0 4,3 26,0 4,4 50,3 3,3 17,0 3,4 17,0 3,3 17,0 20,7 46,6 4,4 76,16 14,7 33,7 90,30 10,6 17,4 10,6 33,10 17,10 6,0 47,24 7,0 120,60 6,6 24,10 6,7 50,27 17,13 10,3 69,50 15,27 1,20-3,13-9,18-20,26-51,40-95,50-97,39-120,39-160,43-144,32-180,33-36,-46-70,-80-57,-57 0,-3-40,-40-3,0-17,-20-3,0-63,-60-87,-70-77,-54-43,-23-7,-7-80,-40-6,0-34,-16-50,-17-10,0-13,-7-43,-6-4,-4-16,0-4,-3-20,0-3,-3-110,0-3,3-24,0-3,3-13,0-4,4-40,6-40,14-10,6-6,0 70,-33 40,-13 26,-14 17,-3 10,-7 27,-6 10,-7 80,-27 10,0 23,-10 10,0 13,-6 24,-4 26,-10 37,-6 3,-4 14,0 16,-6 14,0 3,-4 47,-6 3,-4 33,-3 4,-3 20,0 3,-4 17,0 3,-3 50,-3 3,-4 30,0 4,-3 36,0 4,-3zM448,3718l24,-10-17,10zM442,3722l3,-4 3,0-3,4zM435,3725l3,-3 4,0-4,3zM428,3728l4,-3 3,0-3,3zM422,3732l3,-4 3,0-3,4zM418,3732l4,0-4,3z"/><path class=C1 d="M1258,3512l4,-4 136,0 4,4 56,0 4,3 36,0 4,3 26,0 4,4 50,3 3,3 17,0 3,4 17,0 3,3 17,0 20,7 46,6 4,4 76,16 14,7 33,7 90,30 10,6 17,4 10,6 33,10 17,10 6,0 47,24 7,0 120,60 6,6 24,10 6,7 50,27 17,13 10,3 42,30 9,10 11,27-2,23-9,20-16,20-28,26-34,22-80,42-113,44-93,30-174,46-176,38-150,26-87,-100-57,-57 0,-3-40,-40-3,0-17,-20-3,0-63,-60-87,-70-77,-54-43,-23-7,-7-80,-40-6,0-34,-16-50,-17-10,0-13,-7-43,-6-4,-4-16,0-4,-3-20,0-3,-3-110,0-3,3-24,0-3,3-13,0-4,4-40,6-40,14-10,6-6,0 70,-33 40,-13 26,-14 17,-3 10,-7 27,-6 10,-7 80,-27 10,0 23,-10 10,0 13,-6 24,-4 26,-10 37,-6 3,-4 14,0 16,-6 14,0 3,-4 47,-6 3,-4 33,-3 4,-3 20,0 3,-4 17,0 3,-3 50,-3 3,-4 30,0 4,-3 36,0 4,-3zM448,3718l24,-10-17,10zM442,3722l3,-4 3,0-3,4zM435,3725l3,-3 4,0-4,3zM428,3728l4,-3 3,0-3,3zM422,3732l3,-4 3,0-3,4zM418,3732l4,0-4,3z"/><path class=D1 d="M1258,3512l4,-4 136,0 4,4 56,0 4,3 36,0 4,3 26,0 4,4 50,3 3,3 17,0 3,4 17,0 3,3 17,0 20,7 46,6 4,4 76,16 14,7 33,7 90,30 10,6 17,4 10,6 33,10 17,10 6,0 47,24 7,0 120,60 6,6 24,10 6,7 50,27 17,13 10,3 24,20 10,17 4,17-3,23-13,23-15,17-34,27-33,21-80,39-103,39-124,38-146,36-180,37-143,24-64,-74-60,-64-53,-50 0,-3-110,-97-124,-90-43,-23-7,-7-80,-40-6,0-34,-16-50,-17-10,0-13,-7-43,-6-4,-4-16,0-4,-3-20,0-3,-3-110,0-3,3-24,0-3,3-13,0-4,4-40,6-40,14-10,6-6,0 70,-33 40,-13 26,-14 17,-3 10,-7 27,-6 10,-7 80,-27 10,0 23,-10 10,0 13,-6 24,-4 26,-10 37,-6 3,-4 14,0 16,-6 14,0 3,-4 47,-6 3,-4 33,-3 4,-3 20,0 3,-4 17,0 3,-3 50,-3 3,-4 30,0 4,-3 36,0 4,-3zM448,3718l24,-10-17,10zM442,3722l3,-4 3,0-3,4zM435,3725l3,-3 4,0-4,3zM428,3728l4,-3 3,0-3,3zM422,3732l3,-4 3,0-3,4zM418,3732l4,0-4,3z"/><path class=E1 d="M1258,3512l4,-4 136,0 4,4 56,0 4,3 66,3 4,4 50,3 3,3 17,0 3,4 17,0 3,3 17,0 20,7 46,6 4,4 76,16 37,14 10,0 90,30 10,6 60,20 40,20 7,0 180,90 6,7 17,7 43,26 18,17 12,23-1,27-12,23-15,17-52,38-76,40-110,42-130,39-137,34-147,30-191,32-42,-48-60,-64-53,-50-4,-6-106,-94-124,-90-43,-23-7,-7-80,-40-6,0-34,-16-50,-17-10,0-13,-7-43,-6-4,-4-16,0-4,-3-20,0-3,-3-110,0-3,3-24,0-3,3-13,0-4,4-40,6-40,14-10,6-6,0 70,-33 40,-13 26,-14 17,-3 10,-7 27,-6 10,-7 80,-27 10,0 23,-10 10,0 13,-6 24,-4 26,-10 37,-6 3,-4 14,0 16,-6 14,0 3,-4 47,-6 3,-4 33,-3 4,-3 20,0 3,-4 17,0 3,-3 50,-3 3,-4 30,0 4,-3 36,0 4,-3zM448,3718l24,-10-17,10zM442,3722l3,-4 3,0-3,4zM435,3725l3,-3 4,0-4,3zM428,3728l4,-3 3,0-3,3zM422,3732l3,-4 3,0-3,4zM418,3732l4,0-4,3z"/><path class=F1 d="M1258,3512l4,-4 136,0 4,4 56,0 4,3 66,3 4,4 50,3 3,3 17,0 3,4 17,0 3,3 17,0 20,7 46,6 4,4 76,16 37,14 10,0 90,30 10,6 60,20 40,20 7,0 180,90 6,7 33,17 22,20 10,20-1,26-10,20-20,22-54,37-83,40-113,41-157,45-147,33-183,33-101,15-136,-142-123,-107-107,-77-43,-23-7,-7-80,-40-6,0-34,-16-50,-17-10,0-13,-7-43,-6-4,-4-16,0-4,-3-20,0-3,-3-110,0-3,3-24,0-3,3-13,0-4,4-40,6-40,14-10,6-6,0 70,-33 40,-13 26,-14 17,-3 10,-7 27,-6 10,-7 80,-27 10,0 23,-10 10,0 13,-6 24,-4 26,-10 37,-6 3,-4 14,0 16,-6 14,0 3,-4 47,-6 3,-4 33,-3 4,-3 20,0 3,-4 17,0 3,-3 50,-3 3,-4 30,0 4,-3 36,0 4,-3zM448,3718l24,-10-17,10zM442,3722l3,-4 3,0-3,4zM435,3725l3,-3 4,0-4,3zM428,3728l4,-3 3,0-3,3zM422,3732l3,-4 3,0-3,4zM418,3732l4,0-4,3z"/><path class=L d="M1258,3512l4,-4 136,0 4,4 56,0 4,3 66,3 4,4 50,3 3,3 17,0 3,4 17,0 3,3 17,0 20,7 46,6 4,4 76,16 37,14 10,0 90,30 10,6 43,14 10,6 7,0 70,34 7,0 120,60 6,6 40,20 18,17 12,23-1,20-10,20-19,22-50,35-100,47-96,33-137,38-173,39-164,29-117,17-56,-60-53,-50-4,-6-3,0-63,-60-87,-70-77,-54-43,-23-7,-7-103,-50-90,-30-43,-6-4,-4-16,0-4,-3-20,0-3,-3-110,0-3,3-24,0-3,3-13,0-4,4-40,6-40,14-10,6-6,0 70,-33 40,-13 26,-14 17,-3 10,-7 27,-6 10,-7 80,-27 10,0 23,-10 10,0 13,-6 24,-4 26,-10 37,-6 3,-4 14,0 16,-6 14,0 3,-4 47,-6 3,-4 33,-3 4,-3 20,0 3,-4 17,0 3,-3 50,-3 3,-4 30,0 4,-3 36,0 4,-3zM448,3718l24,-10-17,10zM442,3722l3,-4 3,0-3,4zM435,3725l3,-3 4,0-4,3zM428,3728l4,-3 3,0-3,3zM422,3732l3,-4 3,0-3,4zM418,3732l4,0-4,3z"/><path class=L d="M1258,3512l4,-4 136,0 4,4 56,0 4,3 66,3 4,4 50,3 3,3 17,0 3,4 17,0 3,3 17,0 20,7 46,6 4,4 76,16 37,14 10,0 90,30 10,6 43,14 10,6 7,0 70,34 7,0 120,60 26,16 16,17 7,17-1,20-10,20-18,20-47,32-80,38-107,38-153,42-113,25-172,31-164,25-41,-45-43,-40-4,-6-3,0-63,-60-87,-70-77,-54-43,-23-7,-7-103,-50-90,-30-43,-6-4,-4-16,0-4,-3-20,0-3,-3-110,0-3,3-24,0-3,3-13,0-4,4-40,6-40,14-10,6-6,0 70,-33 40,-13 26,-14 17,-3 10,-7 27,-6 10,-7 80,-27 10,0 23,-10 10,0 13,-6 24,-4 26,-10 37,-6 3,-4 14,0 16,-6 14,0 3,-4 47,-6 3,-4 33,-3 4,-3 20,0 3,-4 17,0 3,-3 50,-3 3,-4 30,0 4,-3 36,0 4,-3zM448,3718l24,-10-17,10zM442,3722l3,-4 3,0-3,4zM435,3725l3,-3 4,0-4,3zM428,3728l4,-3 3,0-3,3zM422,3732l3,-4 3,0-3,4zM418,3732l4,0-4,3z"/><path class=L d="M1258,3512l4,-4 136,0 4,4 56,0 4,3 66,3 4,4 50,3 3,3 17,0 3,4 17,0 3,3 17,0 20,7 46,6 4,4 76,16 37,14 10,0 90,30 10,6 43,14 10,6 7,0 70,34 7,0 106,53 19,13 13,17 4,13-1,17-6,13-15,19-27,21-30,19-80,36-90,31-97,28-156,36-180,33-177,24-4,3-29,-33-30,-27 0,-3-44,-40-113,-93-77,-54-43,-23-7,-7-120,-56-50,-17-10,0-13,-7-10,0-3,-3-30,-3-4,-4-16,0-4,-3-20,0-3,-3-110,0-3,3-24,0-3,3-13,0-4,4-40,6-40,14-10,6-6,0 70,-33 40,-13 26,-14 17,-3 10,-7 27,-6 10,-7 80,-27 10,0 23,-10 10,0 13,-6 24,-4 26,-10 37,-6 3,-4 14,0 16,-6 14,0 3,-4 47,-6 3,-4 33,-3 4,-3 20,0 3,-4 17,0 3,-3 50,-3 3,-4 30,0 4,-3 36,0 4,-3zM448,3718l24,-10-17,10zM442,3722l3,-4 3,0-3,4zM435,3725l3,-3 4,0-4,3zM428,3728l4,-3 3,0-3,3zM422,3732l3,-4 3,0-3,4zM418,3732l4,0-4,3z"/><path class=L d="M1258,3512l4,-4 136,0 4,4 96,3 4,3 26,0 4,4 23,0 3,3 24,0 3,3 17,0 3,4 37,3 3,3 63,10 4,4 76,16 190,64 57,26 7,0 23,14 7,0 80,40 27,23 6,13 0,20-7,14-17,20-56,37-73,32-90,31-137,36-153,33-167,28-159,20-104,-97-87,-70-37,-24-10,-10-80,-50-120,-56-50,-17-10,0-13,-7-10,0-3,-3-30,-3-4,-4-16,0-4,-3-20,0-3,-3-110,0-3,3-24,0-3,3-13,0-4,4-40,6-40,14-10,6-6,0 70,-33 40,-13 26,-14 17,-3 10,-7 27,-6 10,-7 80,-27 10,0 23,-10 10,0 13,-6 24,-4 26,-10 37,-6 3,-4 14,0 16,-6 14,0 3,-4 47,-6 3,-4 33,-3 4,-3 20,0 3,-4 17,0 3,-3 50,-3 3,-4 30,0 4,-3 36,0 4,-3zM448,3718l24,-10-17,10zM442,3722l3,-4 3,0-3,4zM435,3725l3,-3 4,0-4,3zM428,3728l4,-3 3,0-3,3zM422,3732l3,-4 3,0-3,4zM418,3732l4,0-4,3z"/><path class=L d="M1258,3512l4,-4 136,0 4,4 96,3 4,3 26,0 4,4 23,0 3,3 24,0 3,3 17,0 3,4 37,3 3,3 63,10 4,4 76,16 14,7 33,7 90,30 10,6 17,4 10,6 33,10 17,10 6,0 47,24 7,0 67,36 15,20 2,20-6,14-13,16-49,35-86,39-107,34-97,25-166,34-162,27-168,21-7,-1-3,-7-44,-40-66,-57-94,-70-80,-50-120,-56-50,-17-10,0-13,-7-10,0-3,-3-30,-3-4,-4-16,0-4,-3-20,0-3,-3-110,0-3,3-24,0-3,3-13,0-4,4-40,6-40,14-10,6-6,0 70,-33 40,-13 26,-14 17,-3 10,-7 27,-6 10,-7 80,-27 10,0 23,-10 10,0 13,-6 24,-4 26,-10 37,-6 3,-4 14,0 16,-6 14,0 3,-4 47,-6 3,-4 33,-3 4,-3 20,0 3,-4 17,0 3,-3 50,-3 3,-4 30,0 4,-3 36,0 4,-3zM448,3718l24,-10-17,10zM442,3722l3,-4 3,0-3,4zM435,3725l3,-3 4,0-4,3zM428,3728l4,-3 3,0-3,3zM422,3732l3,-4 3,0-3,4zM418,3732l4,0-4,3z"/><path class=L d="M1258,3512l4,-4 136,0 4,4 96,3 4,3 26,0 4,4 23,0 3,3 24,0 3,3 17,0 3,4 37,3 3,3 63,10 4,4 76,16 14,7 33,7 90,30 10,6 17,4 10,6 33,10 17,10 6,0 47,24 7,0 25,13 20,17 9,16-2,17-9,16-13,14-47,31-76,32-117,37-124,30-99,20-187,30-180,23-107,-93-107,-77-43,-23-7,-7-80,-40-6,0-17,-10-7,0-10,-6-50,-17-10,0-26,-10-30,-3-4,-4-40,-3-3,-3-110,0-3,3-24,0-3,3-13,0-4,4-40,6-40,14-10,6-6,0 70,-33 40,-13 26,-14 17,-3 10,-7 27,-6 10,-7 80,-27 10,0 23,-10 10,0 13,-6 24,-4 26,-10 37,-6 3,-4 14,0 16,-6 14,0 3,-4 47,-6 3,-4 33,-3 4,-3 20,0 3,-4 17,0 3,-3 50,-3 3,-4 30,0 4,-3 36,0 4,-3zM448,3718l24,-10-17,10zM442,3722l3,-4 3,0-3,4zM435,3725l3,-3 4,0-4,3zM428,3728l4,-3 3,0-3,3zM422,3732l3,-4 3,0-3,4zM418,3732l4,0-4,3z"/><path class=L d="M1258,3512l4,-4 136,0 4,4 56,0 4,3 36,0 4,3 26,0 4,4 50,3 3,3 17,0 3,4 17,0 3,3 17,0 20,7 46,6 4,4 76,16 37,14 10,0 90,30 10,6 43,14 10,6 7,0 78,37 16,17 5,20-6,16-13,15-50,33-80,33-97,30-136,33-104,20-143,22-223,28-77,-67-107,-77-43,-23-7,-7-80,-40-6,0-17,-10-7,0-10,-6-50,-17-10,0-26,-10-30,-3-4,-4-40,-3-3,-3-110,0-3,3-24,0-3,3-13,0-4,4-40,6-40,14-10,6-6,0 70,-33 40,-13 26,-14 17,-3 10,-7 27,-6 10,-7 80,-27 10,0 23,-10 10,0 13,-6 24,-4 26,-10 37,-6 3,-4 14,0 16,-6 14,0 3,-4 47,-6 3,-4 33,-3 4,-3 20,0 3,-4 17,0 3,-3 50,-3 3,-4 30,0 4,-3 36,0 4,-3zM448,3718l24,-10-17,10zM442,3722l3,-4 3,0-3,4zM435,3725l3,-3 4,0-4,3zM428,3728l4,-3 3,0-3,3zM422,3732l3,-4 3,0-3,4zM418,3732l4,0-4,3z"/><path class=L d="M1258,3512l4,-4 136,0 4,4 56,0 4,3 36,0 4,3 26,0 4,4 50,3 3,3 17,0 3,4 17,0 3,3 17,0 20,7 46,6 4,4 76,16 37,14 10,0 90,30 10,6 43,14 10,6 7,0 51,27 13,17 1,16-8,17-23,20-51,29-83,31-83,24-117,27-142,26-138,20-203,23-77,-63-77,-54-43,-23-7,-7-103,-50-90,-30-43,-6-4,-4-16,0-4,-3-20,0-3,-3-110,0-3,3-24,0-3,3-13,0-4,4-40,6-40,14-10,6-6,0 70,-33 40,-13 26,-14 17,-3 10,-7 27,-6 10,-7 80,-27 10,0 23,-10 10,0 13,-6 24,-4 26,-10 37,-6 3,-4 14,0 16,-6 14,0 3,-4 47,-6 3,-4 33,-3 4,-3 20,0 3,-4 17,0 3,-3 50,-3 3,-4 30,0 4,-3 36,0 4,-3zM448,3718l24,-10-17,10zM442,3722l3,-4 3,0-3,4zM435,3725l3,-3 4,0-4,3zM428,3728l4,-3 3,0-3,3zM422,3732l3,-4 3,0-3,4zM418,3732l4,0-4,3z"/><path class=G1 d="M1258,3512l4,-4 136,0 4,4 56,0 4,3 36,0 4,3 26,0 4,4 50,3 3,3 17,0 3,4 17,0 3,3 17,0 20,7 46,6 4,4 76,16 37,14 10,0 90,30 37,16 16,4 26,13 13,10 8,13 0,14-9,16-14,14-50,29-77,29-107,30-213,42-160,23-216,23-91,-70-80,-50-103,-50-90,-30-43,-6-4,-4-16,0-4,-3-20,0-3,-3-110,0-3,3-24,0-3,3-13,0-4,4-40,6-40,14-10,6-6,0 70,-33 40,-13 26,-14 17,-3 10,-7 27,-6 10,-7 80,-27 10,0 23,-10 10,0 13,-6 24,-4 26,-10 37,-6 3,-4 14,0 16,-6 14,0 3,-4 47,-6 3,-4 33,-3 4,-3 20,0 3,-4 17,0 3,-3 50,-3 3,-4 30,0 4,-3 36,0 4,-3zM448,3718l24,-10-17,10zM442,3722l3,-4 3,0-3,4zM435,3725l3,-3 4,0-4,3zM428,3728l4,-3 3,0-3,3zM422,3732l3,-4 3,0-3,4zM418,3732l4,0-4,3z"/><path class=H1 d="M1258,3512l4,-4 136,0 4,4 56,0 4,3 36,0 4,3 26,0 4,4 50,3 3,3 17,0 3,4 17,0 3,3 17,0 20,7 46,6 4,4 76,16 37,14 10,0 116,40 30,20 8,13-1,10-7,13-13,14-30,19-33,15-77,27-103,27-110,22-123,21-180,22-164,14-3,3-57,-44-80,-50-103,-50-103,-33-30,-3-4,-4-16,0-4,-3-20,0-3,-3-110,0-3,3-24,0-3,3-13,0-4,4-40,6-40,14-10,6-6,0 70,-33 40,-13 26,-14 17,-3 10,-7 27,-6 10,-7 80,-27 10,0 23,-10 10,0 13,-6 24,-4 26,-10 37,-6 3,-4 14,0 16,-6 14,0 3,-4 47,-6 3,-4 33,-3 4,-3 20,0 3,-4 17,0 3,-3 50,-3 3,-4 30,0 4,-3 36,0 4,-3zM448,3718l24,-10-17,10zM442,3722l3,-4 3,0-3,4zM435,3725l3,-3 4,0-4,3zM433,3727l-1,-2 3,0z"/><path class=I1 d="M1258,3512l4,-4 136,0 4,4 56,0 4,3 66,3 4,4 23,0 3,3 24,0 3,3 17,0 3,4 37,3 3,3 63,10 4,4 76,16 14,7 33,7 70,23 32,17 9,10 4,13-8,17-14,13-49,27-77,27-87,23-113,23-157,25-160,18-178,16-49,-36-43,-23-7,-7-80,-40-6,0-17,-10-7,0-10,-6-50,-17-10,0-26,-10-30,-3-4,-4-40,-3-3,-3-110,0-3,3-24,0-3,3-13,0-4,4-40,6-56,20 70,-33 40,-13 26,-14 17,-3 10,-7 27,-6 10,-7 80,-27 10,0 23,-10 10,0 13,-6 24,-4 26,-10 37,-6 3,-4 14,0 16,-6 14,0 3,-4 47,-6 3,-4 33,-3 4,-3 20,0 3,-4 17,0 3,-3 50,-3 3,-4 30,0 4,-3 36,0 4,-3zM462,3712l4,-4 6,0-4,4z"/><path class=P d="M1258,3512l4,-4 136,0 4,4 56,0 4,3 66,3 4,4 23,0 3,3 24,0 3,3 17,0 3,4 37,3 3,3 63,10 4,4 76,16 14,7 10,0 13,7 10,0 30,10 32,16 10,14 1,10-6,11-14,13-56,29-74,25-110,26-96,18-164,23-133,14-189,14-58,-37-103,-50-7,0-10,-6-50,-17-10,0-26,-10-30,-3-4,-4-40,-3-3,-3-110,0-3,3-24,0-20,7-13,0-63,20 7,-7 43,-20 40,-13 26,-14 17,-3 10,-7 27,-6 10,-7 80,-27 10,0 23,-10 10,0 13,-6 24,-4 13,-6 50,-10 3,-4 14,0 16,-6 64,-10 20,-7 60,-7 3,-3 50,-3 3,-4 30,0 4,-3 36,0 4,-3z"/><path class=J1 d="M1258,3512l4,-4 136,0 4,4 56,0 4,3 66,3 4,4 23,0 3,3 24,0 3,3 17,0 3,4 37,3 20,7 46,6 4,4 76,16 14,7 10,0 19,7 26,16 6,17-8,13-11,10-49,25-63,21-97,24-213,35-140,16-154,11-108,6-92,-48-6,0-34,-16-50,-17-10,0-13,-7-10,0-3,-3-30,-3-4,-4-16,0-4,-3-20,0-3,-3-110,0-3,3-24,0-3,3-13,0-4,4-13,0-3,3-22,3 30,-20 38,-13 10,-7 17,-3 10,-7 27,-6 10,-7 80,-27 10,0 23,-10 10,0 13,-6 24,-4 13,-6 50,-10 3,-4 14,0 16,-6 64,-10 20,-7 60,-7 3,-3 50,-3 3,-4 30,0 4,-3 36,0 4,-3z"/><path class=R d="M1258,3512l4,-4 136,0 4,4 56,0 4,3 36,0 4,3 26,0 4,4 50,3 3,3 17,0 3,4 17,0 3,3 17,0 20,7 46,6 4,4 62,13 32,17 8,16-11,17-35,21-56,20-84,22-107,20-119,18-227,21-207,8-4,2-76,-35-50,-17-10,0-13,-7-43,-6-4,-4-40,-3-3,-3-110,0-3,3-24,0-3,3-8,0 3,-6 15,-14 40,-20 27,-6 10,-7 80,-27 10,0 23,-10 10,0 13,-6 24,-4 13,-6 50,-10 3,-4 14,0 16,-6 64,-10 20,-7 60,-7 3,-3 50,-3 3,-4 30,0 4,-3 36,0 4,-3z"/><path class=S d="M1258,3512l4,-4 136,0 4,4 56,0 4,3 36,0 4,3 26,0 4,4 50,3 3,3 57,7 3,3 13,0 4,4 13,0 3,3 41,7 30,13 8,7 3,10-4,10-11,10-30,15-57,20-66,16-174,30-220,22-163,7-153,0-80,-27-30,-3-4,-4-16,0-4,-3-20,0-3,-3-81,0-5,-10 3,-14 11,-10 39,-20 60,-20 10,0 23,-10 10,0 13,-6 24,-4 13,-6 50,-10 3,-4 14,0 16,-6 64,-10 20,-7 60,-7 3,-3 50,-3 3,-4 30,0 4,-3 36,0 4,-3z"/><path class=T d="M1258,3512l4,-4 136,0 4,4 56,0 4,3 36,0 4,3 26,0 4,4 50,3 3,3 17,0 3,4 17,0 3,3 16,0 4,3 22,4 27,13 5,7 0,6-14,16-40,19-53,16-73,16-147,22-184,17-170,6-173,-6-93,-14-30,-12-12,-13 0,-7 8,-10 38,-20 29,-10 10,0 13,-6 24,-4 13,-6 50,-10 3,-4 14,0 16,-6 64,-10 20,-7 60,-7 3,-3 50,-3 3,-4 30,0 4,-3 36,0 4,-3z"/><path class=K1 d="M1258,3512l4,-4 136,0 4,4 96,3 4,3 26,0 4,4 23,0 3,3 33,3 27,10 8,7 2,7-3,7-11,9-29,13-90,24-137,21-163,15-150,5-130,-4-90,-13-26,-11-9,-10 7,-13 32,-17 43,-13 23,-3 3,-4 27,-3 3,-3 64,-10 20,-7 16,0 4,-3 40,-4 3,-3 50,-3 3,-4 70,-3 4,-3z"/><path class=L1 d="M1258,3512l4,-4 136,0 4,4 53,0 7,3 22,0 33,7 18,8 5,8-5,8-20,11-78,21-115,18-104,9-120,4-110,-2-80,-12-14,-7-6,-6 4,-10 25,-14 46,-13 45,-7 4,-3 40,-3 3,-4 17,0 3,-3 23,0 4,-3 23,0 3,-4 30,0 4,-3z"/><path class=M1 d="M1174,3515l124,-6 68,3 36,6 9,7-3,6-13,7-43,11-124,16-140,1-40,-4-22,-10 3,-7 14,-7 55,-13z"/></g>
<path transform="scale(0.1)" class="ZS ZM" stroke-opacity="0.62" d="M417,3734l24,-12M417,3734l38,-18 38,-16 39,-12 40,-9 41,-6 42,-3 42,1 43,4 44,7 45,11 79,28 47,20 48,25 84,52 49,35 51,39 89,79 91,90 93,104 95,116 96,130 98,143 100,156M445,3720l24,-11M559,3674l40,-10 41,-7 41,-3 32,-1 42,2 33,4 44,8 33,8 80,28 82,38 85,50 73,52 89,72 77,72 91,96 80,91 96,120 82,112 98,144 85,134M473,3708l25,-11M595,3659l40,-10 41,-7 41,-4 32,-1 43,2 32,4 44,8 34,8 80,27 82,38 84,49 74,52 87,71 77,72 92,94 80,91 94,119 83,111 98,143 84,133M502,3697l25,-11M651,3638l71,-13 42,-3 32,0 43,3 32,4 45,9 33,8 80,28 82,40 85,50 74,53 88,73 77,72 91,95 80,92 95,120 82,112 83,122 85,132M531,3689l74,-33M697,3622l71,-12 42,-2 32,1 43,3 33,5 44,9 34,9 80,29 83,41 84,52 74,53 88,74 77,73 79,82 79,91 95,119 82,111 83,121 84,131M561,3681l86,-38 84,-32M754,3603l12,-4M752,3605l72,-9 43,-1 32,2 43,5 33,5 68,18 80,31 71,35 84,51 74,53 88,73 77,73 78,81 79,91 94,117 82,111 83,120 84,130M591,3676l62,-28 72,-29 71,-26 70,-22M889,3565l33,-9M787,3593l72,-9 43,-1 32,1 43,5 33,6 68,17 80,31 71,34 84,51 73,53 88,73 77,71 78,81 79,90 93,117 82,109 82,120 84,128M622,3672l86,-38 83,-33 82,-27 91,-25M998,3542l11,-3M842,3579l73,-7 43,1 32,2 77,14 68,19 81,33 71,37 72,46 74,53 88,74 76,73 78,82 79,90 80,100 81,109 82,119 83,127M653,3671l110,-49 107,-39 103,-30 111,-24M1106,3525l10,-2M876,3568l73,-6 75,3 77,13 68,20 81,32 71,37 72,45 73,53 88,73 76,73 78,81 79,90 80,99 80,108 82,118 83,126M684,3670l122,-53 60,-22 70,-24 57,-16 67,-16 55,-11 65,-10M931,3557l73,-4 65,4 77,14 68,21 81,34 71,38 72,46 74,54 75,63 76,71 77,81 79,89 79,99 81,107 81,117 83,126M716,3672l74,-33 72,-30 71,-25 81,-25 67,-17 77,-15 64,-9 74,-7M1337,3510l10,0M954,3550l10,-2M985,3546l74,-1 65,7 67,14 68,21 81,35 71,39 72,47 74,55 75,64 76,73 77,81 79,90 79,100 81,108 81,117 68,105M748,3676l86,-39 84,-34 82,-27 80,-23 77,-17 87,-14 73,-7 82,-3M1008,3540l73,-3 65,5 78,16 68,21 81,35 70,39 73,46 73,55 75,64 76,72 77,80 78,90 79,98 80,108 81,116 68,104M781,3682l86,-40 95,-38 82,-27 91,-25 77,-16 85,-12 83,-7 81,0M1051,3532l74,-1 65,6 66,14 68,21 81,35 71,38 72,46 73,55 75,63 75,71 77,80 78,89 79,98 80,107 80,115 68,104M814,3689l98,-45 95,-37 93,-30 101,-26 87,-16 94,-10 91,-3 88,5M1094,3526l74,0 65,7 67,15 68,23 81,35 70,40 73,47 73,55 74,64 76,73 77,81 64,74 79,97 79,106 81,115 67,102M847,3699l98,-46 107,-42 93,-29 100,-25 97,-17 94,-9 90,-1 87,6M1632,3538l10,2M1168,3520l64,4 66,11 67,18 69,26 70,34 71,42 72,49 61,48 75,65 75,73 77,82 65,75 78,98 66,88 80,114 67,102M881,3710l98,-46 107,-42 104,-33 99,-24 97,-16 103,-9 90,0 95,9M1693,3551l9,2M1178,3516l64,2 66,8 66,16 68,23 69,31 71,39 72,47 73,54 74,63 75,72 76,80 64,73 78,95 79,105 79,113 67,101M915,3724l111,-52 118,-46 102,-31 110,-25 105,-14 102,-5 97,4 47,5 56,9M1210,3513l32,0M1263,3514l65,7 66,15 68,22 57,24 70,35 71,44 72,52 62,49 74,67 63,62 76,82 64,75 78,98 66,88 66,94 66,101M950,3739l110,-52 118,-46 114,-35 109,-24 105,-14 50,-3 60,-1 97,5 46,6 55,10M1832,3589l18,4M1294,3512l65,7 66,14 67,22 58,24 69,35 71,44 72,51 61,49 75,66 62,62 76,81 64,75 78,97 65,88 66,93 66,100M985,3757l122,-58 59,-24 70,-26 112,-33 55,-12 64,-12 52,-7 61,-5 50,-2 59,1 48,4 56,6 54,10 54,13M1918,3616l9,3M1346,3512l65,9 67,17 67,24 58,26 70,38 59,37 72,53 61,49 74,67 63,63 63,68 64,74 77,96 65,88 65,93 66,99M1021,3776l61,-30 72,-33 59,-24 70,-25 56,-18 66,-17 65,-14 63,-10 62,-7 60,-3 58,1 58,3 56,7 54,9 53,13 60,17M1408,3515l66,13 56,16 68,27 58,27 70,41 59,39 60,45 61,50 74,69 63,63 63,69 63,74 64,81 65,86 65,93 66,98M1057,3798l61,-31 72,-33 59,-24 69,-26 68,-21 65,-17 65,-14 62,-9 62,-6 59,-3 59,0 56,4 56,7 63,12 52,13 60,19M1460,3519l66,15 56,18 57,24 58,28 70,41 59,41 60,45 61,52 62,57 62,62 63,69 63,74 64,80 64,86 65,92 65,97M1093,3822l61,-31 72,-34 71,-29 68,-25 67,-21 66,-17 64,-13 62,-10 61,-5 59,-3 58,1 65,5 55,8 62,12 52,14 59,20M2119,3703l17,7M1489,3520l66,15 56,18 57,23 57,28 70,41 60,40 60,46 60,51 62,57 61,62 63,68 63,73 64,80 64,85 65,91 65,97M1130,3848l61,-32 72,-34 70,-29 68,-26 67,-21 66,-17 63,-14 62,-10 61,-6 69,-3 57,2 65,5 54,8 62,13 60,16 58,21M1529,3523l66,16 56,19 57,25 58,29 70,42 59,41 60,46 60,52 61,57 62,63 63,69 63,74 63,80 64,86 116,169M1167,3877l73,-39 71,-34 70,-29 68,-25 67,-21 75,-20 63,-12 72,-10 59,-5 68,-1 66,3 63,7 62,12 60,15 58,19 57,23M1591,3533l55,16 56,21 57,26 58,31 58,36 59,42 60,47 61,53 61,58 62,63 62,70 50,59 63,80 64,85 116,168M1204,3907l73,-39 83,-40 70,-29 78,-28 66,-20 75,-19 72,-13 70,-9 69,-3 66,1 64,5 71,11 61,14 66,21 57,22 62,29M1608,3533l55,15 56,20 57,25 57,30 58,35 59,40 60,46 60,51 60,57 62,62 62,68 62,73 63,79 63,85 116,167M1242,3940l73,-40 83,-40 69,-30 78,-29 77,-24 74,-18 72,-13 69,-8 68,-3 66,1 64,5 70,12 60,14 66,21 63,25 62,30M2371,3851l15,9M1647,3540l55,15 56,21 57,26 57,31 58,36 59,41 59,46 60,52 61,58 61,63 62,68 50,59 62,79 64,84 114,166M1280,3975l73,-40 82,-41 69,-30 79,-30 65,-21 74,-20 72,-14 70,-10 68,-4 65,0 64,5 71,10 59,13 66,20 64,24 61,29M2397,3874l15,9M1697,3550l33,10M1752,3568l56,22 45,22 58,31 46,30 59,41 47,36 60,51 48,44 61,60 49,53 61,70 50,60 63,80 50,69 101,147M1319,4012l72,-41 83,-41 80,-36 77,-29 76,-24 73,-19 71,-13 79,-10 66,-3 74,2 62,7 69,12 67,18 64,22 61,27 67,36M1768,3569l11,4M1802,3581l56,25 45,23 58,33 46,31 59,43 47,38 96,86 60,61 49,53 99,116 62,80 50,68 101,146M1358,4052l72,-42 82,-42 80,-36 77,-31 75,-24 73,-20 71,-13 79,-10 66,-4 73,2 62,6 69,12 66,17 63,22 62,26 66,35M1839,3591l57,26 45,24 57,34 47,31 58,44 48,39 95,87 61,62 48,53 99,117 99,132 101,145M1397,4094l72,-43 82,-43 79,-37 78,-31 74,-25 73,-20 71,-14 78,-11 66,-4 72,1 62,5 68,12 66,16 63,22 61,26 66,34M1877,3602l56,27 45,24 46,28 46,31 59,43 47,39 95,87 60,62 49,53 98,116 99,131 100,144M1436,4138l72,-43 82,-44 79,-38 77,-32 75,-26 72,-20 70,-15 78,-12 65,-4 73,0 61,5 68,11 65,16 63,21 61,25 65,34M1925,3619l57,28 45,26 46,30 46,32 94,75 95,89 96,102 98,115 98,130 100,144M1476,4184l72,-43 81,-45 79,-39 77,-32 74,-27 72,-21 70,-16 77,-12 66,-5 72,-1 61,5 67,10 65,15 62,21 61,25 65,33M1985,3643l45,25 45,27 46,31 46,34 94,78 95,91 96,105 85,103 99,130 86,126M1517,4233l71,-44 81,-46 79,-39 76,-34 74,-27 72,-22 69,-17 77,-12 65,-6 72,-1 60,3 67,10 65,15 62,19 59,25 65,32M2032,3663l45,26 46,29 81,59 93,79 83,80 96,104 85,102 97,130 87,125M1557,4284l71,-45 81,-46 78,-41 76,-34 74,-28 71,-23 69,-17 77,-14 64,-6 72,-2 60,3 67,9 64,14 61,19 60,24 64,32M2057,3672l11,6M2091,3691l45,28 46,31 81,63 81,72 83,83 84,93 84,103 86,114 85,124M1598,4338l71,-46 80,-48 78,-41 76,-35 73,-29 71,-24 69,-18 76,-14 64,-8 71,-2 60,2 66,8 64,14 61,18 59,23 63,32M2138,3714l79,54 81,63 82,74 82,83 84,94 84,104 85,115 73,106M1639,4394l71,-47 80,-49 77,-42 76,-36 73,-30 70,-24 69,-19 75,-15 64,-8 71,-4 59,2 66,7 63,13 61,17 58,23 63,31M2184,3738l80,57 80,66 82,76 71,73 83,94 72,90 84,113 73,106M1680,4452l71,-48 79,-49 78,-43 75,-37 72,-31 71,-25 68,-20 75,-17 63,-8 70,-5 59,1 65,7 63,12 60,17 58,21 63,30M2208,3749l79,56 81,66 81,75 70,73 83,94 72,89 84,113 72,105M1722,4513l70,-49 80,-50 76,-44 75,-38 72,-32 70,-27 68,-20 74,-18 63,-9 70,-5 59,0 64,5 63,11 59,17 58,21 62,29M2254,3775l11,8M2288,3799l68,53 69,60 69,68 71,74 70,82 72,90 72,97 72,104M1764,4576l70,-49 79,-52 76,-45 74,-39 72,-33 70,-28 67,-21 74,-18 63,-11 69,-6 58,-1 64,5 62,10 60,15 57,21 61,28M2344,3836l69,56 69,64 69,71 59,64 70,84 60,76 71,97 60,87M1806,4642l70,-51 78,-53 76,-46 74,-40 72,-34 69,-28 66,-23 74,-19 62,-12 69,-7 58,-1 64,4 61,9 59,14 56,19 61,28M2389,3866l69,58 57,55 69,71 59,65 70,85 59,76 59,82 60,86M1849,4710l69,-52 78,-54 76,-47 73,-42 71,-35 69,-29 66,-23 73,-21 62,-12 68,-9 58,-2 63,3 61,8 58,14 56,18 60,26M2456,3917l57,51 58,57 58,62 58,67 58,71 59,77 106,151"/>
<g shape-rendering="crispEdges">
<rect x="302" y="336.00" width="12.5" height="3.1" fill="#000"/>
<rect x="302" y="338.80" width="12.5" height="164.20" fill="#5f2776"/>
<rect x="302" y="341.81" width="12.5" height="161.19" fill="#691b85"/>
<rect x="302" y="344.82" width="12.5" height="158.18" fill="#6b238b"/>
<rect x="302" y="347.83" width="12.5" height="155.17" fill="#692e90"/>
<rect x="302" y="350.84" width="12.5" height="152.16" fill="#603b97"/>
<rect x="302" y="353.85" width="12.5" height="149.15" fill="#51419c"/>
<rect x="302" y="356.86" width="12.5" height="146.14" fill="#4146a0"/>
<rect x="302" y="359.87" width="12.5" height="143.13" fill="#2d48a0"/>
<rect x="302" y="362.88" width="12.5" height="140.12" fill="#2349a0"/>
<rect x="302" y="365.89" width="12.5" height="137.11" fill="#1f4a9f"/>
<rect x="302" y="368.90" width="12.5" height="134.10" fill="#2158a7"/>
<rect x="302" y="371.91" width="12.5" height="131.09" fill="#266fb7"/>
<rect x="302" y="374.92" width="12.5" height="128.08" fill="#2c91d1"/>
<rect x="302" y="377.93" width="12.5" height="125.07" fill="#34b9e8"/>
<rect x="302" y="380.94" width="12.5" height="122.06" fill="#5cc0d4"/>
<rect x="302" y="383.95" width="12.5" height="119.05" fill="#62bda2"/>
<rect x="302" y="386.96" width="12.5" height="116.04" fill="#66b663"/>
<rect x="302" y="389.97" width="12.5" height="113.03" fill="#69b53b"/>
<rect x="302" y="392.98" width="12.5" height="110.02" fill="#70b731"/>
<rect x="302" y="395.99" width="12.5" height="107.01" fill="#78b92b"/>
<rect x="302" y="399.00" width="12.5" height="104.00" fill="#82bc27"/>
<rect x="302" y="402.01" width="12.5" height="100.99" fill="#90c025"/>
<rect x="302" y="405.02" width="12.5" height="97.98" fill="#9fc523"/>
<rect x="302" y="408.03" width="12.5" height="94.97" fill="#b0cb23"/>
<rect x="302" y="411.04" width="12.5" height="91.96" fill="#c3d325"/>
<rect x="302" y="414.05" width="12.5" height="88.95" fill="#d4db27"/>
<rect x="302" y="417.06" width="12.5" height="85.94" fill="#e3e229"/>
<rect x="302" y="420.07" width="12.5" height="82.93" fill="#efe72b"/>
<rect x="302" y="423.08" width="12.5" height="79.92" fill="#f2d727"/>
<rect x="302" y="426.09" width="12.5" height="76.91" fill="#f5c624"/>
<rect x="302" y="429.10" width="12.5" height="73.90" fill="#f4b121"/>
<rect x="302" y="432.11" width="12.5" height="70.89" fill="#f39b1e"/>
<rect x="302" y="435.12" width="12.5" height="67.88" fill="#f0801c"/>
<rect x="302" y="438.13" width="12.5" height="64.87" fill="#ed651b"/>
<rect x="302" y="441.14" width="12.5" height="61.86" fill="#e94a1a"/>
<rect x="302" y="444.15" width="12.5" height="58.85" fill="#e7261b"/>
<rect x="302" y="447.16" width="12.5" height="55.84" fill="#e6141c"/>
<rect x="302" y="450.17" width="12.5" height="52.83" fill="#e6141c"/>
<rect x="302" y="453.18" width="12.5" height="49.82" fill="#e6141c"/>
<rect x="302" y="456.19" width="12.5" height="46.81" fill="#e6141c"/>
<rect x="302" y="459.20" width="12.5" height="43.80" fill="#e6141c"/>
<rect x="302" y="462.21" width="12.5" height="40.79" fill="#e6141c"/>
<rect x="302" y="465.22" width="12.5" height="37.78" fill="#e6141c"/>
<rect x="302" y="468.23" width="12.5" height="34.77" fill="#e6141c"/>
<rect x="302" y="471.24" width="12.5" height="31.76" fill="#de151d"/>
<rect x="302" y="474.25" width="12.5" height="28.75" fill="#ce171e"/>
<rect x="302" y="477.26" width="12.5" height="25.74" fill="#be181f"/>
<rect x="302" y="480.27" width="12.5" height="22.73" fill="#ae1a20"/>
<rect x="302" y="483.28" width="12.5" height="19.72" fill="#a3191f"/>
<rect x="302" y="486.29" width="12.5" height="16.71" fill="#97171d"/>
<rect x="302" y="489.30" width="12.5" height="13.70" fill="#8c161c"/>
<rect x="302" y="492.31" width="12.5" height="10.69" fill="#80141a"/>
<rect x="302" y="495.32" width="12.5" height="7.68" fill="#741217"/>
<rect x="302" y="498.33" width="12.5" height="4.67" fill="#680f15"/>
<rect x="302" y="501.34" width="12.5" height="1.66" fill="#5d0d12"/>
</g>
<text x="317.4" y="342.4" font-size="7.0" font-family="'Liberation Serif',serif">2.180</text>
<text x="317.4" y="378.5" font-size="7.0" font-family="'Liberation Serif',serif">2.913</text>
<text x="317.4" y="414.6" font-size="7.0" font-family="'Liberation Serif',serif">3.645</text>
<text x="317.4" y="450.7" font-size="7.0" font-family="'Liberation Serif',serif">4.378</text>
<text x="317.4" y="486.8" font-size="7.0" font-family="'Liberation Serif',serif">5.110</text>
<text x="317.4" y="506.6" font-size="7.0" font-family="'Liberation Serif',serif">5.510</text>
<text x="1.1" y="306.8" font-size="16" font-family="'Liberation Serif',serif">C</text>
<text transform="translate(161.5,304) scale(1.07,1)" font-size="10.6" text-anchor="middle" font-family="'Liberation Serif',serif">z=-4.61x<tspan font-size="6.4" dy="-4.2">2</tspan><tspan dy="4.2">-0.00011y²+7.26x+0.019y+1.83</tspan></text>
<text transform="translate(161.5,315.3) scale(1.07,1)" font-size="10.6" text-anchor="middle" font-family="'Liberation Serif',serif">R²=0.2118</text>
<text transform="translate(21.35,422.3) rotate(-92.85)" font-size="15.55" text-anchor="middle" font-family="'Liberation Serif',serif">Percentage of E1 waveform</text>
<text transform="translate(42.7,519.3) scale(0.75,1)" font-size="10.4" text-anchor="end" font-family="'Liberation Serif',serif">0</text>
<text transform="translate(40.9,492.1) scale(0.75,1)" font-size="10.4" text-anchor="end" font-family="'Liberation Serif',serif">1</text>
<text transform="translate(39.1,464.2) scale(0.75,1)" font-size="10.4" text-anchor="end" font-family="'Liberation Serif',serif">2</text>
<text transform="translate(37.2,435.5) scale(0.75,1)" font-size="10.4" text-anchor="end" font-family="'Liberation Serif',serif">3</text>
<text transform="translate(35.2,405.9) scale(0.75,1)" font-size="10.4" text-anchor="end" font-family="'Liberation Serif',serif">4</text>
<text transform="translate(33.2,375.6) scale(0.75,1)" font-size="10.4" text-anchor="end" font-family="'Liberation Serif',serif">5</text>
<text transform="translate(31.2,344.3) scale(0.75,1)" font-size="10.4" text-anchor="end" font-family="'Liberation Serif',serif">6</text>
<text transform="matrix(0.7761,-0.3073,0.5904,0.2589,39.3,519.9)" font-size="10" text-anchor="middle" font-family="'Liberation Serif',serif"><tspan dy="3.3">0.5</tspan></text>
<text transform="matrix(0.7772,-0.3261,0.6260,0.2746,56.7,527.2)" font-size="10" text-anchor="middle" font-family="'Liberation Serif',serif"><tspan dy="3.3">0.6</tspan></text>
<text transform="matrix(0.7771,-0.3466,0.6649,0.2917,75.1,534.9)" font-size="10" text-anchor="middle" font-family="'Liberation Serif',serif"><tspan dy="3.3">0.7</tspan></text>
<text transform="matrix(0.7753,-0.3691,0.7076,0.3104,94.6,543)" font-size="10" text-anchor="middle" font-family="'Liberation Serif',serif"><tspan dy="3.3">0.8</tspan></text>
<text transform="matrix(0.7717,-0.3938,0.7546,0.3310,115.3,551.7)" font-size="10" text-anchor="middle" font-family="'Liberation Serif',serif"><tspan dy="3.3">0.9</tspan></text>
<text transform="matrix(0.7658,-0.4211,0.8063,0.3537,137.4,561)" font-size="10" text-anchor="middle" font-family="'Liberation Serif',serif"><tspan dy="3.3">1.0</tspan></text>
<text transform="matrix(0.7572,-0.4513,0.8636,0.3788,161,570.9)" font-size="10" text-anchor="middle" font-family="'Liberation Serif',serif"><tspan dy="3.3">1.1</tspan></text>
<text transform="matrix(0.8283,0.3909,-1.0027,0.4648,84.3,549.1)" font-size="10" text-anchor="middle" font-family="'Liberation Serif',serif"><tspan dy="3.3">Trehalose content</tspan></text>
<text transform="matrix(0.9283,0.3889,-0.7024,0.4632,196,575.1)" font-size="10" text-anchor="middle" font-family="'Liberation Serif',serif"><tspan dy="3.3">40</tspan></text>
<text transform="matrix(0.9141,0.3600,-0.6497,0.4284,214.1,563.8)" font-size="10" text-anchor="middle" font-family="'Liberation Serif',serif"><tspan dy="3.3">60</tspan></text>
<text transform="matrix(0.8994,0.3341,-0.6026,0.3974,230.9,553.3)" font-size="10" text-anchor="middle" font-family="'Liberation Serif',serif"><tspan dy="3.3">80</tspan></text>
<text transform="matrix(0.8845,0.3110,-0.5605,0.3697,246.6,543.6)" font-size="10" text-anchor="middle" font-family="'Liberation Serif',serif"><tspan dy="3.3">100</tspan></text>
<text transform="matrix(0.8694,0.2902,-0.5227,0.3447,261.2,534.5)" font-size="10" text-anchor="middle" font-family="'Liberation Serif',serif"><tspan dy="3.3">120</tspan></text>
<text transform="matrix(0.8544,0.2714,-0.4885,0.3222,274.8,526.1)" font-size="10" text-anchor="middle" font-family="'Liberation Serif',serif"><tspan dy="3.3">140</tspan></text>
<text transform="matrix(0.8395,0.2544,-0.4576,0.3018,287.6,518.1)" font-size="10" text-anchor="middle" font-family="'Liberation Serif',serif"><tspan dy="3.3">160</tspan></text>
<text transform="matrix(0.8247,0.2390,-0.4296,0.2833,299.6,510.7)" font-size="10" text-anchor="middle" font-family="'Liberation Serif',serif"><tspan dy="3.3">180</tspan></text>
<text transform="matrix(0.5925,-0.4382,1.1154,0.3685,273.7,542.5)" font-size="10" text-anchor="middle" font-family="'Liberation Serif',serif"><tspan dy="3.3">Glucose content</tspan></text>
</g>
<g id="pD">
<path d="M416.2,502.3 L408.2,336.8 M433.9,495.3 L427.6,334.5 M450.6,488.7 L445.9,332.4 M466.4,482.4 L463,330.4 M481.3,476.5 L479.2,328.5 M495.4,470.9 L494.4,326.8 M508.8,465.6 L508.7,325.1 M525.4,470.4 L526.6,326.7 M542.9,475.5 L545.3,328.4 M561.2,480.8 L565.1,330.2 M580.4,486.4 L586,332.1 M600.6,492.2 L608,334.1 M622,498.4 L631.3,336.2" stroke="#b4b4b4" stroke-width="0.7" fill="none"/>
<path d="M396.3,492.8 L508.8,451.5 L634.1,485.3 M395.1,472.3 L508.8,434.3 L635.4,465.4 M393.9,451.3 L508.8,416.9 L636.6,445.1 M392.6,429.8 L508.8,399.2 L638,424.5 M391.3,407.9 L508.8,381.2 L639.3,403.3 M390,385.5 L508.8,362.8 L640.7,381.8 M388.7,362.6 L508.7,344.1 L642.1,359.7" stroke="#e4e4e4" stroke-width="0.6" stroke-dasharray="2,2" fill="none"/>
<path d="M397.3,509.8 L387.3,339.2 L508.7,325.1 L643.5,337.2 L633.1,501.6" stroke="#555" stroke-width="0.7" fill="none"/>
<path d="M397.3,509.8 L530.3,565.5 L633.1,501.6 L508.8,465.6 Z" fill="#5f2776"/>
<g transform="scale(0.1)" fill-rule="evenodd"><path d="M3973,5098l1330,557 629,-391 30,-33 30,-28 33,-26 44,-29 39,-23 51,-25 103,-41 69,-43-1243,-360z" fill="#6a1a86"/><path d="M3973,5098l1330,557 566,-351 33,-47 38,-41 44,-38 50,-34 55,-32 61,-28 76,-30 88,-27 17,-11-1243,-360z" fill="#6b248b"/><path d="M3973,5098l1330,557 515,-320 32,-55 40,-50 47,-45 62,-45 63,-36 79,-36 78,-28 96,-28-1227,-356z" fill="#682f91"/><path d="M3973,5098l1330,557 470,-292 32,-66 41,-58 51,-52 32,-27 35,-24 62,-36 79,-37 87,-31 96,-28-1200,-348z" fill="#5f3d98"/><path d="M3973,5098l1330,557 430,-267 12,-36 17,-37 19,-35 22,-32 25,-31 28,-29 31,-26 34,-26 69,-41 78,-36 87,-32 107,-31-1174,-340z" fill="#4f429d"/><path d="M3973,5098l1330,557 392,-244 14,-46 14,-38 18,-36 20,-34 23,-31 32,-36 30,-27 33,-26 67,-42 85,-41 97,-35 107,-30-1147,-333z" fill="#3e46a0"/><path d="M3973,5098l1330,557 357,-222 11,-47 15,-47 15,-37 23,-41 22,-33 30,-36 35,-33 32,-26 66,-43 85,-41 96,-35 118,-33-1120,-325z" fill="#2b48a0"/><path d="M3973,5098l1330,557 324,-201 7,-45 13,-49 16,-46 20,-43 25,-40 24,-31 32,-35 37,-31 34,-25 37,-23 84,-42 106,-38 119,-33-1093,-317z" fill="#2249a0"/><path d="M3973,5098l1330,557 292,-181 8,-58 10,-51 15,-47 19,-43 23,-41 27,-38 32,-35 36,-32 34,-25 36,-23 40,-22 52,-23 106,-39 120,-32-1065,-309z" fill="#1f4ba0"/><path d="M3973,5098l1330,557 262,-162 5,-62 9,-52 12,-48 17,-45 20,-42 25,-39 35,-42 35,-33 32,-26 43,-28 40,-22 51,-24 105,-38 131,-35-1037,-301z" fill="#215ca9"/><path d="M3973,5098l1330,557 233,-144 2,-63 8,-62 13,-58 16,-45 20,-43 24,-39 29,-37 39,-39 31,-25 43,-29 39,-22 50,-24 56,-22 59,-20 132,-34-1009,-293z" fill="#2775bc"/><path d="M3973,5098l1330,557 204,-127 1,-63 5,-64 9,-51 15,-56 17,-44 26,-47 27,-37 37,-40 37,-31 35,-24 45,-27 50,-24 55,-23 60,-20 63,-18 79,-19-980,-284z" fill="#2d9dd8"/><path d="M3973,5098l1330,557 176,-109-1,-73 4,-65 7,-53 13,-56 19,-52 25,-48 26,-38 36,-40 36,-31 41,-29 46,-27 50,-24 55,-22 60,-20 64,-17 80,-19-952,-276z" fill="#3fbbe2"/><path d="M3973,5098l1330,557 150,-93-4,-71 1,-67 6,-63 11,-57 17,-54 23,-48 24,-39 34,-41 35,-32 39,-30 45,-27 57,-29 55,-22 69,-23 65,-17 80,-19-922,-267z" fill="#5ebfc5"/><path d="M3973,5098l1330,557 123,-76-6,-79 0,-69 4,-63 9,-59 15,-55 21,-50 26,-45 33,-42 34,-33 39,-30 43,-27 57,-29 54,-22 69,-23 76,-20 81,-18-893,-259z" fill="#63bb8e"/><path d="M3973,5098l1330,557 98,-60-9,-86-2,-70 3,-74 8,-60 13,-54 20,-51 25,-46 32,-42 33,-33 44,-35 44,-27 57,-28 55,-22 69,-23 76,-20 82,-18-863,-250z" fill="#67b654"/><path d="M3973,5098l1330,557 72,-45-10,-81-5,-82 1,-76 6,-60 11,-57 18,-51 23,-48 29,-43 37,-39 37,-30 49,-32 57,-29 63,-25 70,-23 77,-19 82,-18-832,-241z" fill="#6cb534"/><path d="M3973,5098l1330,557 48,-29-13,-87-7,-84-2,-77 4,-62 10,-58 17,-60 22,-47 28,-44 30,-34 42,-36 48,-33 56,-28 63,-26 70,-22 76,-20 94,-20-801,-232z" fill="#73b72f"/><path d="M3973,5098l1330,557 23,-14-16,-103-9,-95-2,-86 5,-70 10,-56 13,-44 21,-48 24,-38 29,-34 40,-37 48,-32 55,-29 62,-26 80,-25 76,-20 96,-19-770,-223z" fill="#7bba29"/><path d="M3973,5098l1329,557-17,-95-11,-88-6,-80 0,-74 7,-67 11,-54 18,-50 25,-45 31,-41 40,-37 46,-33 55,-29 61,-26 80,-26 87,-21 97,-19-738,-214z" fill="#88be26"/><path d="M3973,5098l1300,545-20,-107-11,-86-6,-80 0,-73 6,-66 12,-54 18,-49 25,-45 33,-40 40,-36 48,-32 55,-28 64,-25 81,-25 78,-18 97,-18-705,-205z" fill="#97c224"/><path d="M3973,5098l1270,532-20,-106-12,-86-7,-80-1,-73 5,-67 11,-54 17,-49 25,-44 32,-40 40,-36 48,-32 56,-28 64,-24 82,-24 79,-18 98,-18-672,-195z" fill="#a6c722"/><path d="M3973,5098l1241,520-21,-106-14,-87-8,-89-2,-72 5,-67 11,-53 17,-48 21,-38 32,-40 40,-35 48,-32 57,-27 64,-25 72,-20 91,-21 99,-17-638,-185z" fill="#b9cf24"/><path d="M3973,5098l1211,507-22,-106-14,-86-10,-89-3,-73 3,-67 9,-53 16,-48 21,-38 31,-40 40,-35 49,-31 57,-27 65,-24 84,-23 81,-18 100,-16-603,-175z" fill="#ccd726"/><path d="M3973,5098l1181,495-23,-106-17,-97-11,-89-4,-72 1,-58 8,-54 16,-48 20,-38 31,-39 40,-35 49,-31 57,-27 66,-23 74,-20 93,-19 102,-16-568,-165z" fill="#dcdf28"/><path d="M3973,5098l1150,482-26,-117-18,-96-12,-89-6,-72 1,-57 6,-46 15,-48 19,-38 31,-39 40,-35 49,-30 58,-27 67,-23 74,-19 95,-19 103,-15-531,-154z" fill="#eae72a"/><path d="M3973,5098l1119,469-27,-117-22,-107-14,-88-7,-71 0,-58 6,-45 12,-41 19,-38 31,-39 40,-34 50,-30 58,-26 67,-22 76,-19 96,-18 105,-15-494,-143z" fill="#f1de29"/><path d="M3973,5098l1088,456-29,-118-26,-117-16,-88-9,-71-1,-49 5,-45 11,-41 19,-38 31,-38 40,-34 49,-30 59,-26 68,-22 77,-18 97,-17 107,-14-455,-132z" fill="#f4cd26"/><path d="M3973,5098l1057,443-65,-256-17,-78-10,-63-2,-49 4,-45 11,-41 19,-37 30,-39 40,-33 49,-30 60,-25 68,-21 78,-18 99,-17 109,-13-415,-120z" fill="#f4b922"/><path d="M3973,5098l1025,429-80,-287-16,-67-8,-45-4,-49 4,-45 11,-41 19,-37 29,-38 40,-34 49,-29 59,-25 69,-21 79,-17 102,-16 111,-12-374,-108z" fill="#f3a31f"/><path d="M3973,5098l993,416-99,-320-19,-83-4,-49 4,-45 11,-40 17,-37 29,-38 38,-34 49,-29 59,-25 70,-20 80,-16 104,-15 113,-11-330,-96z" fill="#f18a1d"/><path d="M3973,5098l960,402-45,-136-66,-187-20,-74-5,-50 2,-45 10,-41 19,-43 27,-39 37,-34 47,-29 59,-25 70,-19 82,-16 107,-13 116,-10-285,-83z" fill="#ee6f1b"/><path d="M3973,5098l927,388-49,-135-73,-182-22,-75-6,-50 2,-53 12,-54 19,-42 28,-38 37,-33 49,-28 53,-20 62,-16 84,-14 109,-13 121,-8-238,-69z" fill="#ea521a"/><path d="M3973,5098l892,374-48,-124-83,-187-14,-40-10,-36-8,-59 2,-59 11,-54 20,-48 26,-37 20,-19 18,-14 43,-23 54,-18 65,-15 89,-13 100,-9 125,-7-187,-54z" fill="#e7321b"/><path d="M3973,5098l120,50 737,309-51,-120-86,-175-16,-40-13,-46-7,-35-3,-40 2,-73 12,-66 8,-23 12,-24zM4955,4709l119,-9 147,-5-133,-39z" fill="#e6141c"/><path d="M3973,5098l802,336 19,8-50,-108-86,-159-30,-71-12,-46-10,-59-5,-76 0,-74zM5088,4656l-58,23 132,-1z" fill="#e6141c"/><path d="M3973,5098l335,140 448,188-48,-95-83,-142-31,-65-14,-39-12,-45-31,-165zM5088,4656l-5,2 12,0z" fill="#e6141c"/><path d="M3973,5098l335,140 409,172-40,-73-91,-145-28,-56-23,-59-34,-126-19,-55z" fill="#e6141c"/><path d="M3973,5098l335,140 368,154-40,-65-80,-120-28,-50-27,-60-41,-122-26,-60z" fill="#e6141c"/><path d="M3973,5098l479,201 179,75-104,-151-35,-58-26,-56-48,-124-27,-53z" fill="#e6141c"/><path d="M3973,5098l120,50 491,206-83,-113-41,-63-28,-56-49,-115-33,-58z" fill="#e6141c"/><path d="M3973,5098l448,188 112,47-67,-87-36,-54-31,-56-52,-115-36,-57z" fill="#e6141c"/><path d="M3973,5098l335,140 170,72-46,-59-37,-53-27,-48-56,-115-37,-57z" fill="#e0151c"/><path d="M3973,5098l427,179 22,9-34,-44-27,-40-26,-44-56,-109-39,-57z" fill="#cf171e"/><path d="M3973,5098l335,140 57,24-48,-71-70,-129-41,-56z" fill="#bf181f"/><path d="M3973,5098l120,50 219,92-34,-53-63,-112-20,-29-22,-27z" fill="#af1a20"/><path d="M3973,5098l120,50 168,71-73,-126-24,-35-23,-27z" fill="#a3191f"/><path d="M3973,5098l120,50 120,51-58,-99-21,-29-24,-27z" fill="#97171d"/><path d="M3973,5098l120,50 74,31-46,-73-41,-50z" fill="#8c161c"/><path d="M3973,5098l120,50 27,12-36,-54-34,-39z" fill="#80141a"/><path d="M3973,5098l92,38 6,3-25,-33-25,-27z" fill="#741217"/><path d="M3973,5098l9,4 35,14-25,-26z" fill="#680f15"/></g>
<path d="M397.3,509.8 L392.2,511.8 M405.8,513.3 L402.7,514.6 M414.5,517 L409.4,519.1 M423.5,520.8 L420.4,522.1 M432.7,524.6 L427.7,526.9 M442.2,528.6 L439.2,530 M452.1,532.7 L447.1,535.1 M462.2,537 L459.2,538.4 M472.6,541.4 L467.7,543.9 M483.4,545.9 L480.5,547.4 M494.6,550.6 L489.8,553.2 M506.1,555.4 L503.2,557 M518,560.4 L513.3,563.2 M530.3,565.5 L527.5,567.3 M530.3,565.5 L535.4,567.7 M539.5,559.8 L542.5,561.1 M548.3,554.3 L553.4,556.4 M556.8,549.1 L559.9,550.2 M565,544 L570.1,545.9 M572.9,539.1 L576,540.2 M580.5,534.3 L585.7,536.1 M587.8,529.7 L591,530.8 M595,525.3 L600.2,527.1 M601.8,521 L605,522.1 M608.5,516.9 L613.7,518.6 M614.9,512.9 L618.1,513.9 M621.2,509 L626.4,510.6 M627.2,505.3 L630.4,506.2 M633.1,501.6 L638.3,503.2 M396.9,503 L393.9,504.1 M396.3,492.8 L390.3,495.1 M395.7,482.6 L392.7,483.7 M395.1,472.3 L389,474.3 M394.5,461.8 L391.4,462.8 M393.9,451.3 L387.7,453.1 M393.2,440.6 L390.2,441.5 M392.6,429.8 L386.4,431.5 M392,418.9 L388.9,419.7 M391.3,407.9 L385.1,409.3 M390.7,396.8 L387.6,397.4 M390,385.5 L383.8,386.7 M389.4,374.1 L386.2,374.6 M388.7,362.6 L382.4,363.6 M388,350.9 L384.9,351.4 M387.3,339.2 L381,339.9" stroke="#333" stroke-width="0.8" fill="none"/>
<path d="M397.3,509.8 L387.3,339.2" stroke="#333" stroke-width="0.8" fill="none"/>
<g transform="scale(0.1)" fill-rule="evenodd"><path class=X d="M3878,3478l4,0 3,4-3,0zM3885,3482l73,36 110,74 50,26 7,7 120,57 7,0 26,13 17,3 10,7 80,27 10,0 13,6 10,0 30,10 14,0 3,4 30,3 3,3 17,0 3,4 50,3 4,3 43,0 3,4 67,0 3,-4 70,-3 4,-3 20,0 3,-4 47,-6 60,-20 10,0 10,-7 43,-13 90,-44 43,-26 64,30 6,0 177,90 7,6 93,54 17,13 10,3 26,20 10,4 10,10 54,33 80,60 13,7 43,36 14,7 16,17 17,10 17,16 16,10 170,147 114,110 3,0 7,10 3,0 7,10 6,3 70,74 4,0 0,3 63,63 0,4 7,3 0,3 106,114 17,23-97,90-103,73-77,40-6,0-34,17-40,13-50,10-3,4-40,3-3,3-30,0-4,4-73,0-3,-4-57,-3-3,-3-34,-4-16,-6-24,-4-23,-10-10,0-47,-20-6,0-17,-10-7,0-23,-13-7,0-6,-7-74,-36-16,-14-57,-33-50,-37-197,-236-116,-127 0,-3-50,-50 0,-4-154,-153-3,0-3,-7-4,0-73,-70-80,-66-80,-60-117,-77-10,-3-36,-27-10,-3-27,-20-10,-4-47,-33-10,-3-200,-137-23,-10-47,-30-16,-7-17,-13-53,-30z"/><path class=N1 d="M3878,3478l4,0 3,4-3,0zM3885,3482l73,36 110,74 50,26 7,7 120,57 7,0 26,13 17,3 10,7 80,27 10,0 13,6 10,0 30,10 14,0 3,4 30,3 3,3 17,0 3,4 50,3 4,3 43,0 3,4 67,0 3,-4 70,-3 4,-3 20,0 3,-4 47,-6 60,-20 10,0 10,-7 43,-13 90,-44 43,-26 64,30 6,0 177,90 7,6 93,54 17,13 10,3 26,20 10,4 10,10 54,33 80,60 13,7 43,36 14,7 16,17 17,10 17,16 16,10 170,147 114,110 3,0 7,10 3,0 7,10 6,3 70,74 4,0 0,3 63,63 0,4 7,3 0,3 106,114 17,23-70,67-17,2-86,30-94,42-76,48-67,58-40,3-3,3-30,0-4,4-73,0-3,-4-57,-3-3,-3-34,-4-16,-6-24,-4-23,-10-10,0-47,-20-6,0-17,-10-7,0-23,-13-7,0-6,-7-74,-36-16,-14-57,-33-50,-37-197,-236-116,-127 0,-3-50,-50 0,-4-154,-153-3,0-3,-7-4,0-73,-70-80,-66-80,-60-117,-77-10,-3-36,-27-10,-3-27,-20-10,-4-47,-33-10,-3-200,-137-23,-10-47,-30-16,-7-17,-13-53,-30z"/><path class=O1 d="M3878,3478l4,0 3,4-3,0zM3885,3482l73,36 110,74 50,26 7,7 120,57 7,0 26,13 17,3 10,7 80,27 10,0 13,6 10,0 30,10 14,0 3,4 30,3 3,3 17,0 3,4 50,3 4,3 43,0 3,4 67,0 3,-4 70,-3 4,-3 20,0 3,-4 47,-6 60,-20 10,0 10,-7 43,-13 90,-44 43,-26 64,30 6,0 177,90 7,6 93,54 17,13 10,3 26,20 10,4 10,10 54,33 80,60 13,7 43,36 14,7 16,17 17,10 17,16 16,10 170,147 114,110 3,0 7,10 3,0 7,10 6,3 70,74 4,0 0,3 63,63 0,4 7,3 0,3 106,114 17,23-16,16-81,19-80,26-63,24-60,29-88,56-39,33-41,50-15,0-4,4-73,0-3,-4-34,0-3,-3-40,-3-3,-4-14,0-3,-3-37,-7-23,-10-20,-3-10,-7-33,-10-17,-10-7,0-23,-13-7,0-6,-7-74,-36-16,-14-57,-33-50,-37-197,-236-116,-127 0,-3-50,-50 0,-4-154,-153-3,0-3,-7-4,0-73,-70-80,-66-80,-60-117,-77-10,-3-36,-27-10,-3-27,-20-10,-4-47,-33-10,-3-200,-137-23,-10-47,-30-16,-7-17,-13-53,-30z"/><path class=P1 d="M3878,3478l4,0 3,4-3,0zM3885,3482l73,36 110,74 50,26 7,7 120,57 7,0 26,13 17,3 10,7 80,27 10,0 13,6 10,0 30,10 14,0 3,4 30,3 3,3 17,0 3,4 50,3 4,3 43,0 3,4 67,0 3,-4 70,-3 4,-3 20,0 3,-4 47,-6 60,-20 10,0 10,-7 43,-13 90,-44 43,-26 64,30 6,0 134,66 6,7 37,17 23,16 50,27 154,100 80,60 13,7 43,36 14,7 176,147 107,100 3,0 64,63 3,0 7,10 3,0 7,10 6,3 70,74 4,0 0,3 63,63 0,4 7,3 0,3 40,40 0,4 6,3 61,70-84,20-97,29-76,29-73,35-53,34-48,38-53,58-19,34-78,-4-3,-3-20,0-3,-3-34,-4-3,-3-37,-7-23,-10-20,-3-10,-7-33,-10-17,-10-7,0-23,-13-7,0-6,-7-74,-36-16,-14-57,-33-50,-37-197,-236-116,-127 0,-3-50,-50 0,-4-154,-153-3,0-3,-7-4,0-73,-70-80,-66-80,-60-117,-77-10,-3-36,-27-10,-3-27,-20-10,-4-47,-33-10,-3-200,-137-23,-10-47,-30-16,-7-17,-13-53,-30z"/><path class=Q1 d="M3878,3478l4,0 3,4-3,0zM3885,3482l73,36 110,74 50,26 7,7 120,57 7,0 26,13 17,3 10,7 80,27 10,0 13,6 10,0 30,10 14,0 3,4 30,3 3,3 17,0 3,4 50,3 4,3 43,0 3,4 67,0 3,-4 70,-3 4,-3 20,0 3,-4 47,-6 60,-20 10,0 10,-7 43,-13 90,-44 43,-26 64,30 6,0 134,66 6,7 37,17 23,16 50,27 154,100 80,60 13,7 43,36 14,7 176,147 107,100 3,0 64,63 3,0 7,10 3,0 7,10 6,3 70,74 4,0 0,3 63,63 0,4 7,3 0,3 40,40 0,4 6,3 35,42-115,27-90,28-73,29-78,41-65,46-37,36-38,48-26,46-56,-3-3,-3-17,0-3,-4-14,0-16,-6-24,-4-70,-23-63,-30-7,0-6,-7-74,-36-16,-14-57,-33-50,-37-197,-236-116,-127 0,-3-50,-50 0,-4-154,-153-3,0-3,-7-4,0-73,-70-80,-66-80,-60-117,-77-10,-3-36,-27-10,-3-27,-20-10,-4-47,-33-10,-3-200,-137-23,-10-47,-30-16,-7-17,-13-53,-30z"/><path class=R1 d="M3878,3478l4,0 3,4-3,0zM3885,3482l73,36 110,74 50,26 7,7 120,57 7,0 26,13 17,3 10,7 80,27 10,0 13,6 10,0 30,10 14,0 3,4 30,3 3,3 17,0 3,4 50,3 4,3 43,0 3,4 67,0 3,-4 70,-3 4,-3 20,0 3,-4 47,-6 60,-20 10,0 10,-7 43,-13 90,-44 43,-26 64,30 6,0 134,66 6,7 37,17 23,16 50,27 154,100 80,60 13,7 43,36 14,7 16,17 50,36 84,70 56,54 30,23 47,47 3,0 70,66 0,4 10,6 4,7 6,3 70,74 4,0 0,3 63,63 0,4 7,3 0,3 56,60-113,26-97,29-115,49-58,34-62,49-35,38-31,45-26,57-53,-7-16,-6-24,-4-23,-10-10,0-47,-20-6,0-17,-10-7,0-23,-13-7,0-6,-7-74,-36-16,-14-57,-33-50,-37-197,-236-116,-127 0,-3-50,-50 0,-4-154,-153-3,0-3,-7-4,0-73,-70-80,-66-80,-60-117,-77-10,-3-36,-27-10,-3-27,-20-10,-4-47,-33-10,-3-200,-137-23,-10-47,-30-16,-7-17,-13-53,-30z"/><path class=S1 d="M3878,3478l4,0 3,4-3,0zM3885,3482l73,36 110,74 50,26 7,7 120,57 50,16 10,7 37,10 10,7 10,0 46,16 10,0 30,10 14,0 3,4 13,0 4,3 13,0 3,3 40,4 4,3 73,3 3,4 67,0 3,-4 44,0 3,-3 47,-3 3,-4 60,-10 13,-6 10,0 70,-24 107,-50 43,-26 34,16 6,0 87,44 7,0 13,10 7,0 6,6 87,44 23,16 50,27 154,100 80,60 13,7 43,36 14,7 16,17 50,36 84,70 56,54 30,23 47,47 3,0 70,66 0,4 10,6 4,7 6,3 70,74 4,0 0,3 100,104-114,26-110,33-83,34-83,46-57,45-44,49-36,60-22,57-15,-1-16,-6-24,-4-23,-10-10,0-47,-20-6,0-17,-10-7,0-110,-56-16,-14-57,-33-50,-37-197,-236-116,-127 0,-3-50,-50 0,-4-154,-153-3,0-3,-7-4,0-73,-70-80,-66-80,-60-117,-77-10,-3-36,-27-10,-3-27,-20-10,-4-47,-33-10,-3-200,-137-23,-10-47,-30-16,-7-17,-13-53,-30z"/><path class=T1 d="M3878,3478l4,0 3,4-3,0zM3885,3482l73,36 110,74 50,26 7,7 120,57 50,16 10,7 37,10 10,7 10,0 46,16 10,0 30,10 14,0 3,4 13,0 4,3 13,0 3,3 40,4 4,3 73,3 3,4 67,0 3,-4 44,0 3,-3 47,-3 3,-4 60,-10 13,-6 10,0 70,-24 107,-50 43,-26 34,16 6,0 87,44 7,0 13,10 7,0 6,6 44,20 6,7 77,40 77,50 10,3 26,20 10,4 10,10 54,33 80,60 13,7 43,36 14,7 16,17 17,10 17,16 16,10 170,147 120,113 4,7 3,0 7,10 6,3 70,74 4,0 0,3 63,63 0,4 7,3 3,6-130,29-90,27-93,37-80,43-64,51-43,51-32,56-18,47-7,30-63,-17-10,-7-33,-10-17,-10-7,0-110,-56-16,-14-57,-33-50,-37-197,-236-116,-127 0,-3-50,-50 0,-4-154,-153-3,0-3,-7-4,0-73,-70-80,-66-80,-60-117,-77-10,-3-36,-27-10,-3-27,-20-10,-4-47,-33-10,-3-200,-137-23,-10-47,-30-16,-7-17,-13-53,-30z"/><path class=U1 d="M3878,3478l4,0 3,4-3,0zM3885,3482l73,36 110,74 50,26 7,7 120,57 50,16 10,7 37,10 10,7 10,0 46,16 10,0 30,10 14,0 3,4 13,0 4,3 13,0 3,3 40,4 4,3 73,3 3,4 67,0 3,-4 70,-3 4,-3 20,0 3,-4 47,-6 60,-20 10,0 10,-7 43,-13 90,-44 43,-26 10,6 7,0 47,24 6,0 57,30 7,0 13,10 7,0 6,6 44,20 6,7 77,40 77,50 10,3 26,20 10,4 10,10 54,33 80,60 13,7 43,36 14,7 16,17 17,10 17,16 16,10 170,147 114,110 3,0 3,7 70,66 4,7 6,3 0,4 7,3 0,3 7,4 0,3 47,47-117,25-97,27-107,41-56,29-34,22-40,32-44,47-26,38-23,49-13,40-7,40-20,-4-47,-20-6,0-47,-23-7,0-6,-7-74,-36-16,-14-57,-33-50,-37-197,-236-116,-127 0,-3-50,-50 0,-4-154,-153-3,0-3,-7-4,0-73,-70-80,-66-80,-60-117,-77-10,-3-36,-27-10,-3-27,-20-10,-4-47,-33-10,-3-200,-137-23,-10-47,-30-16,-7-17,-13-53,-30z"/><path class=V1 d="M3878,3478l4,0 3,4-3,0zM3885,3482l73,36 110,74 50,26 7,7 120,57 50,16 10,7 37,10 10,7 10,0 46,16 10,0 30,10 14,0 3,4 13,0 4,3 13,0 3,3 40,4 4,3 73,3 3,4 67,0 3,-4 70,-3 4,-3 20,0 3,-4 47,-6 60,-20 10,0 10,-7 43,-13 90,-44 43,-26 10,6 7,0 47,24 6,0 57,30 7,0 13,10 7,0 6,6 44,20 6,7 77,40 77,50 10,3 26,20 10,4 10,10 54,33 80,60 13,7 43,36 14,7 16,17 17,10 17,16 16,10 170,147 114,110 3,0 3,7 70,66 4,7 6,3 0,4 7,3 0,3 7,4 19,22-99,20-124,33-100,38-70,37-46,32-37,35-47,63-17,33-16,47-12,70-41,-14-47,-23-7,0-6,-7-74,-36-16,-14-57,-33-50,-37-197,-236-116,-127 0,-3-50,-50 0,-4-154,-153-3,0-3,-7-4,0-73,-70-80,-66-80,-60-117,-77-10,-3-36,-27-10,-3-27,-20-10,-4-47,-33-10,-3-200,-137-23,-10-47,-30-16,-7-17,-13-53,-30z"/><path class=W1 d="M3878,3478l4,0 3,4-3,0zM3885,3482l73,36 110,74 50,26 7,7 120,57 50,16 10,7 37,10 10,7 10,0 46,16 10,0 30,10 14,0 3,4 13,0 4,3 13,0 3,3 40,4 4,3 73,3 3,4 67,0 3,-4 70,-3 4,-3 20,0 3,-4 47,-6 60,-20 10,0 10,-7 43,-13 90,-44 43,-26 10,6 7,0 47,24 6,0 57,30 7,0 13,10 7,0 6,6 44,20 6,7 77,40 77,50 10,3 26,20 10,4 10,10 54,33 80,60 13,7 43,36 14,7 16,17 17,10 17,16 16,10 110,94 107,100 3,0 64,63 3,0 3,7 70,66 4,7 6,3 4,7 3,0-140,29-137,40-79,34-54,31-36,26-44,42-28,38-16,27-17,40-11,40-11,80-10,-4-47,-23-7,0-6,-7-74,-36-16,-14-57,-33-50,-37-197,-236-116,-127 0,-3-50,-50 0,-4-154,-153-3,0-3,-7-4,0-73,-70-80,-66-80,-60-117,-77-10,-3-36,-27-10,-3-27,-20-10,-4-47,-33-10,-3-200,-137-23,-10-47,-30-16,-7-17,-13-53,-30z"/><path class=X1 d="M3878,3478l4,0 3,4-3,0zM3885,3482l73,36 110,74 50,26 7,7 120,57 50,16 10,7 37,10 10,7 10,0 46,16 10,0 30,10 14,0 3,4 13,0 4,3 13,0 3,3 40,4 4,3 73,3 3,4 67,0 3,-4 70,-3 4,-3 20,0 3,-4 47,-6 60,-20 10,0 10,-7 43,-13 90,-44 43,-26 10,6 7,0 47,24 6,0 57,30 7,0 13,10 7,0 6,6 44,20 6,7 77,40 77,50 10,3 26,20 10,4 10,10 54,33 80,60 13,7 43,36 14,7 16,17 17,10 17,16 16,10 110,94 107,100 3,0 129,125-125,24-137,38-83,33-40,20-57,36-57,55-25,35-18,34-21,63-10,60-2,43-4,0-110,-56-16,-14-57,-33-50,-37-197,-236-116,-127 0,-3-50,-50 0,-4-154,-153-3,0-3,-7-4,0-73,-70-80,-66-80,-60-117,-77-10,-3-36,-27-10,-3-27,-20-10,-4-47,-33-10,-3-200,-137-23,-10-47,-30-16,-7-17,-13-53,-30z"/><path class=Y1 d="M3878,3478l4,0 3,4-3,0zM3885,3482l73,36 110,74 50,26 7,7 120,57 50,16 10,7 37,10 10,7 10,0 46,16 10,0 30,10 14,0 3,4 13,0 4,3 13,0 3,3 40,4 4,3 73,3 3,4 67,0 3,-4 70,-3 4,-3 20,0 3,-4 47,-6 60,-20 10,0 10,-7 43,-13 90,-44 43,-26 64,30 6,0 57,30 7,0 6,6 14,4 6,6 87,44 7,6 93,54 17,13 10,3 26,20 10,4 10,10 87,56 23,20 37,24 43,36 14,7 16,17 17,10 17,16 16,10 60,50 80,74 30,23 114,110 3,0 30,33 4,1-141,26-141,40-67,27-45,22-67,45-57,63-33,63-19,70-5,53-1,47-5,0-6,-7-74,-36-16,-14-57,-33-50,-37-197,-236-116,-127 0,-3-50,-50 0,-4-154,-153-3,0-3,-7-4,0-73,-70-80,-66-80,-60-117,-77-10,-3-36,-27-10,-3-27,-20-10,-4-47,-33-10,-3-200,-137-23,-10-47,-30-16,-7-17,-13-53,-30z"/><path class=Z1 d="M3878,3478l4,0 3,4-3,0zM3885,3482l73,36 110,74 50,26 7,7 120,57 50,16 10,7 37,10 10,7 10,0 46,16 10,0 30,10 14,0 3,4 13,0 4,3 13,0 3,3 40,4 4,3 73,3 3,4 67,0 3,-4 70,-3 4,-3 20,0 3,-4 47,-6 60,-20 10,0 10,-7 43,-13 90,-44 43,-26 64,30 6,0 57,30 7,0 6,6 14,4 6,6 87,44 7,6 93,54 17,13 10,3 26,20 10,4 10,10 87,56 23,20 37,24 43,36 14,7 16,17 17,10 17,16 16,10 60,50 80,74 30,23 120,115-136,25-137,37-97,39-53,29-33,25-27,23-32,37-28,47-14,36-15,74-1,100-57,-30-43,-30-10,-4-70,-50-117,-143-130,-150-66,-70 0,-3-50,-50 0,-4-154,-153-3,0-3,-7-4,0-36,-36-4,0-3,-7-73,-63-94,-74-103,-70-10,-3-73,-50-47,-27-47,-33-10,-3-200,-137-23,-10-47,-30-16,-7-17,-13-53,-30z"/><path class=a2 d="M3878,3478l4,0 3,4-3,0zM3885,3482l73,36 110,74 50,26 7,7 120,57 50,16 10,7 37,10 10,7 10,0 46,16 10,0 30,10 14,0 3,4 13,0 4,3 13,0 3,3 40,4 4,3 73,3 3,4 67,0 3,-4 70,-3 4,-3 20,0 3,-4 47,-6 60,-20 10,0 10,-7 43,-13 90,-44 43,-26 64,30 6,0 57,30 7,0 6,6 14,4 6,6 87,44 7,6 93,54 17,13 10,3 100,67 80,60 13,7 43,36 14,7 16,17 17,10 17,16 16,10 170,147 91,87-177,33-108,30-69,26-43,21-44,26-30,24-30,30-23,30-16,26-19,47-12,50-3,33 2,109-55,-32-17,-13-10,-4-70,-50-117,-143-130,-150-66,-70 0,-3-50,-50 0,-4-154,-153-3,0-3,-7-4,0-36,-36-4,0-3,-7-73,-63-94,-74-103,-70-10,-3-73,-50-47,-27-47,-33-10,-3-200,-137-23,-10-47,-30-16,-7-17,-13-53,-30z"/><path class=b2 d="M3878,3478l4,0 3,4-3,0zM3885,3482l73,36 110,74 50,26 7,7 120,57 50,16 10,7 37,10 10,7 10,0 46,16 10,0 30,10 14,0 3,4 13,0 4,3 13,0 3,3 40,4 4,3 73,3 3,4 67,0 3,-4 70,-3 4,-3 20,0 3,-4 47,-6 60,-20 10,0 10,-7 43,-13 90,-44 43,-26 64,30 6,0 57,30 7,0 6,6 14,4 6,6 87,44 7,6 93,54 17,13 10,3 100,67 80,60 13,7 43,36 14,7 16,17 17,10 17,16 16,10 110,94 122,112-158,27-117,30-50,17-67,29-76,48-44,43-19,27-18,33-12,34-11,46-3,34-1,53 8,73-4,4-16,-14-57,-33-57,-43-110,-137-130,-150-66,-70 0,-3-50,-50 0,-4-154,-153-3,0-3,-7-4,0-36,-36-4,0-3,-7-73,-63-94,-74-103,-70-10,-3-73,-50-47,-27-47,-33-10,-3-200,-137-23,-10-47,-30-16,-7-17,-13-53,-30z"/><path class=c2 d="M3878,3478l4,0 3,4-3,0zM3885,3482l73,36 110,74 50,26 7,7 120,57 50,16 10,7 37,10 10,7 10,0 46,16 10,0 30,10 14,0 3,4 13,0 4,3 13,0 3,3 40,4 4,3 73,3 3,4 67,0 3,-4 70,-3 4,-3 20,0 3,-4 47,-6 60,-20 10,0 10,-7 43,-13 90,-44 43,-26 64,30 6,0 57,30 7,0 6,6 14,4 6,6 44,20 6,7 77,40 77,50 10,3 26,20 10,4 10,10 54,33 80,60 13,7 43,36 14,7 16,17 50,36 84,70 117,108-191,33-119,33-97,41-44,26-36,29-24,24-23,33-20,40-13,43-9,74 2,56 10,74 0,3-3,0-17,-13-30,-17-57,-43-110,-137-130,-150-66,-70 0,-3-50,-50 0,-4-154,-153-3,0-3,-7-4,0-96,-90-114,-90-103,-70-10,-3-73,-50-47,-27-47,-33-10,-3-200,-137-23,-10-47,-30-16,-7-17,-13-53,-30z"/><path class=d2 d="M3878,3478l4,0 3,4-3,0zM3885,3482l73,36 110,74 50,26 7,7 120,57 50,16 10,7 37,10 10,7 10,0 46,16 10,0 30,10 14,0 3,4 13,0 4,3 13,0 3,3 40,4 4,3 73,3 3,4 67,0 3,-4 70,-3 4,-3 20,0 3,-4 47,-6 60,-20 10,0 10,-7 43,-13 90,-44 43,-26 64,30 6,0 57,30 7,0 6,6 14,4 6,6 44,20 6,7 77,40 77,50 10,3 26,20 10,4 10,10 54,33 80,60 13,7 43,36 14,7 16,17 17,10 17,16 16,10 60,50 112,99-185,31-133,35-47,17-60,28-53,37-19,17-27,30-23,36-12,27-12,43-5,34-2,53 6,70 11,60 0,4-4,-1-77,-56-110,-137-130,-150-66,-70 0,-3-50,-50 0,-4-154,-153-3,0-3,-7-4,0-96,-90-114,-90-103,-70-10,-3-73,-50-47,-27-47,-33-10,-3-200,-137-23,-10-47,-30-16,-7-17,-13-53,-30z"/><path class=e2 d="M3878,3478l4,0 3,4-3,0zM3885,3482l73,36 110,74 50,26 7,7 120,57 50,16 10,7 37,10 10,7 10,0 46,16 10,0 30,10 14,0 3,4 13,0 4,3 13,0 3,3 40,4 4,3 73,3 3,4 67,0 3,-4 70,-3 4,-3 20,0 3,-4 47,-6 60,-20 10,0 10,-7 43,-13 90,-44 43,-26 64,30 6,0 57,30 7,0 6,6 14,4 6,6 44,20 6,7 77,40 77,50 10,3 26,20 10,4 10,10 54,33 80,60 13,7 43,36 14,7 16,17 17,10 17,16 16,10 60,50 78,71-184,29-124,31-100,39-50,29-36,29-27,29-24,37-16,40-11,50-4,46 2,44 20,130-54,-40-60,-77-90,-107-23,-23-17,-23-116,-127 0,-3-50,-50 0,-4-154,-153-3,0-3,-7-4,0-96,-90-114,-90-103,-70-10,-3-73,-50-47,-27-47,-33-10,-3-200,-137-23,-10-47,-30-16,-7-17,-13-53,-30z"/><path class=f2 d="M3878,3478l4,0 3,4-3,0zM3885,3482l73,36 110,74 50,26 7,7 120,57 50,16 10,7 37,10 10,7 10,0 46,16 10,0 30,10 14,0 3,4 13,0 4,3 13,0 3,3 40,4 4,3 73,3 3,4 67,0 3,-4 70,-3 4,-3 20,0 3,-4 47,-6 60,-20 10,0 10,-7 43,-13 90,-44 43,-26 64,30 6,0 57,30 7,0 6,6 14,4 6,6 44,20 6,7 77,40 77,50 10,3 26,20 10,4 10,10 54,33 80,60 13,7 43,36 14,7 16,17 17,10 17,16 16,10 60,50 46,43-196,30-123,31-56,20-57,26-50,33-26,24-22,27-19,30-16,43-8,43-2,50 4,57 25,130-30,-23-60,-77-90,-107-23,-23-17,-23-116,-127 0,-3-50,-50 0,-4-154,-153-3,0-3,-7-4,0-96,-90-114,-90-103,-70-10,-3-73,-50-47,-27-47,-33-10,-3-200,-137-23,-10-47,-30-16,-7-17,-13-53,-30z"/><path class=g2 d="M3878,3478l4,0 3,4-3,0zM3885,3482l73,36 110,74 50,26 7,7 120,57 50,16 10,7 37,10 10,7 10,0 46,16 10,0 30,10 14,0 3,4 13,0 4,3 13,0 3,3 40,4 4,3 73,3 3,4 67,0 3,-4 70,-3 4,-3 20,0 3,-4 47,-6 60,-20 10,0 10,-7 43,-13 90,-44 43,-26 64,30 6,0 57,30 7,0 6,6 14,4 6,6 44,20 6,7 77,40 77,50 10,3 26,20 10,4 10,10 54,33 80,60 13,7 43,36 14,7 141,118-188,27-127,29-67,23-53,23-40,25-34,28-23,27-23,40-15,43-6,44 0,50 5,53 14,70 17,63-1,7-114,-140-130,-150-66,-70 0,-3-50,-50 0,-4-154,-153-3,0-3,-7-4,0-96,-90-114,-90-103,-70-10,-3-73,-50-47,-27-47,-33-10,-3-200,-137-23,-10-47,-30-16,-7-17,-13-53,-30z"/><path class=h2 d="M3878,3478l4,0 3,4-3,0zM3885,3482l73,36 110,74 50,26 7,7 120,57 50,16 10,7 37,10 10,7 10,0 46,16 10,0 30,10 14,0 3,4 13,0 4,3 13,0 3,3 40,4 4,3 73,3 3,4 67,0 3,-4 70,-3 4,-3 20,0 3,-4 47,-6 60,-20 10,0 10,-7 43,-13 90,-44 43,-26 64,30 6,0 57,30 7,0 13,10 7,0 6,6 87,44 7,6 93,54 17,13 10,3 193,134 166,132-179,24-154,35-93,34-53,30-34,28-26,31-20,36-14,45-5,45 1,50 7,53 12,57 19,66-1,9-83,-102-130,-150-66,-70 0,-3-50,-50 0,-4-154,-153-3,0-3,-7-4,0-96,-90-114,-90-103,-70-10,-3-73,-50-47,-27-47,-33-10,-3-200,-137-23,-10-47,-30-16,-7-17,-13-53,-30z"/><path class=i2 d="M3878,3478l4,0 3,4-3,0zM3885,3482l73,36 110,74 50,26 7,7 120,57 50,16 10,7 37,10 10,7 10,0 46,16 10,0 30,10 14,0 3,4 13,0 4,3 13,0 3,3 40,4 4,3 73,3 3,4 67,0 3,-4 70,-3 4,-3 20,0 3,-4 47,-6 60,-20 10,0 10,-7 43,-13 90,-44 43,-26 64,30 6,0 57,30 7,0 13,10 7,0 6,6 87,44 23,16 50,27 80,53 10,4 10,10 87,56 23,20 37,24 43,36 14,7 16,17 17,10 41,34-211,28-132,31-58,19-47,21-40,24-33,29-23,29-18,35-11,40-4,36 1,54 7,46 17,77 18,60-2,5-132,-158-116,-127 0,-3-50,-50 0,-4-154,-153-3,0-3,-7-4,0-36,-36-4,0-3,-7-73,-63-94,-74-103,-70-10,-3-73,-50-47,-27-47,-33-10,-3-200,-137-23,-10-47,-30-16,-7-17,-13-53,-30z"/><path class=j2 d="M3878,3478l4,0 3,4-3,0zM3885,3482l73,36 110,74 50,26 7,7 120,57 50,16 10,7 37,10 10,7 10,0 46,16 10,0 30,10 14,0 3,4 13,0 4,3 13,0 3,3 40,4 4,3 73,3 3,4 67,0 3,-4 70,-3 4,-3 20,0 3,-4 47,-6 60,-20 10,0 10,-7 43,-13 90,-44 43,-26 64,30 6,0 57,30 7,0 13,10 7,0 6,6 87,44 23,16 50,27 80,53 10,4 10,10 87,56 156,120-203,25-80,15-70,18-93,35-47,26-32,28-23,30-16,30-9,33-4,50 8,87 16,70 22,70-1,7-101,-120-116,-127 0,-3-50,-50 0,-4-154,-153-3,0-3,-7-4,0-73,-70-80,-66-80,-60-117,-77-10,-3-36,-27-10,-3-27,-20-10,-4-47,-33-10,-3-200,-137-23,-10-47,-30-16,-7-17,-13-53,-30z"/><path class=z d="M3878,3478l4,0 3,4-3,0zM3885,3482l73,36 110,74 50,26 7,7 120,57 50,16 10,7 37,10 10,7 10,0 46,16 10,0 30,10 14,0 3,4 13,0 4,3 13,0 3,3 40,4 4,3 73,3 3,4 67,0 3,-4 70,-3 4,-3 20,0 3,-4 47,-6 60,-20 10,0 10,-7 43,-13 90,-44 43,-26 64,30 6,0 57,30 7,0 13,10 7,0 6,6 87,44 23,16 50,27 154,100 154,114-194,23-90,16-71,17-73,24-36,16-34,20-36,31-24,33-13,34-6,29-1,46 3,40 12,64 36,120-1,2-120,-139-116,-123 0,-4-154,-153-3,0-3,-7-4,0-73,-70-80,-66-80,-60-117,-77-10,-3-36,-27-10,-3-27,-20-10,-4-47,-33-10,-3-200,-137-23,-10-47,-30-16,-7-17,-13-53,-30z"/><path class=k2 d="M3878,3478l4,0 3,4-3,0zM3885,3482l73,36 110,74 50,26 7,7 120,57 50,16 10,7 37,10 10,7 10,0 46,16 10,0 30,10 14,0 3,4 13,0 4,3 13,0 3,3 40,4 4,3 73,3 3,4 67,0 3,-4 70,-3 4,-3 20,0 3,-4 47,-6 60,-20 10,0 10,-7 43,-13 90,-44 43,-26 64,30 6,0 57,30 7,0 6,6 14,4 6,6 44,20 6,7 77,40 77,50 10,3 26,20 10,4 10,10 54,33 80,60 13,7 24,20-197,21-160,31-49,14-55,22-40,22-33,26-21,27-16,32-7,35-1,43 7,53 11,54 38,124-88,-101-66,-70 0,-3-50,-50 0,-4-154,-153-3,0-3,-7-4,0-73,-70-80,-66-80,-60-117,-77-10,-3-36,-27-10,-3-27,-20-10,-4-47,-33-10,-3-200,-137-23,-10-47,-30-16,-7-17,-13-53,-30z"/><path class=l2 d="M3878,3478l4,0 3,4-3,0zM3885,3482l73,36 110,74 50,26 7,7 120,57 50,16 10,7 37,10 10,7 10,0 46,16 10,0 30,10 14,0 3,4 13,0 4,3 13,0 3,3 40,4 4,3 73,3 3,4 67,0 3,-4 70,-3 4,-3 20,0 3,-4 47,-6 60,-20 10,0 10,-7 43,-13 90,-44 43,-26 64,30 6,0 57,30 7,0 6,6 14,4 6,6 87,44 7,6 93,54 17,13 10,3 26,20 10,4 10,10 54,33 78,58-185,19-90,13-83,18-67,19-40,16-50,28-23,20-24,29-11,27-6,26-1,34 5,43 13,60 19,63 28,77-1,6-56,-66-116,-123 0,-4-154,-153-3,0-3,-7-4,0-73,-70-80,-66-80,-60-117,-77-10,-3-36,-27-10,-3-27,-20-10,-4-47,-33-10,-3-200,-137-23,-10-47,-30-16,-7-17,-13-53,-30z"/><path class=m2 d="M3878,3478l4,0 3,4-3,0zM3885,3482l73,36 110,74 50,26 7,7 120,57 50,16 10,7 37,10 10,7 10,0 46,16 10,0 30,10 14,0 3,4 13,0 4,3 13,0 3,3 40,4 4,3 73,3 3,4 67,0 3,-4 70,-3 4,-3 20,0 3,-4 47,-6 60,-20 10,0 10,-7 43,-13 90,-44 43,-26 64,30 6,0 57,30 7,0 6,6 14,4 6,6 87,44 7,6 93,54 17,13 10,3 26,20 10,4 10,10 54,33 40,30-210,20-157,27-100,32-52,28-28,23-17,20-14,30-5,23 0,34 6,43 16,63 51,138 0,7-90,-98 0,-3-50,-50 0,-4-154,-153-3,0-3,-7-4,0-73,-70-80,-66-80,-60-117,-77-10,-3-36,-27-10,-3-27,-20-10,-4-47,-33-10,-3-200,-137-23,-10-47,-30-16,-7-17,-13-53,-30z"/><path class=n2 d="M3878,3478l4,0 3,4-3,0zM3885,3482l73,36 110,74 50,26 7,7 120,57 50,16 10,7 37,10 10,7 10,0 46,16 10,0 30,10 14,0 3,4 13,0 4,3 13,0 3,3 40,4 4,3 73,3 3,4 67,0 3,-4 70,-3 4,-3 20,0 3,-4 47,-6 60,-20 10,0 10,-7 43,-13 90,-44 43,-26 64,30 6,0 57,30 7,0 6,6 14,4 6,6 87,44 7,6 93,54 17,13 10,3 101,68-195,17-166,26-74,19-40,14-40,20-32,23-23,27-12,23-6,27 0,28 7,39 16,56 62,157-2,3-106,-113 0,-4-154,-153-3,0-3,-7-4,0-96,-90-87,-70-130,-90-10,-3-73,-50-47,-27-47,-33-10,-3-200,-137-23,-10-47,-30-16,-7-17,-13-53,-30z"/><path class=o2 d="M3878,3478l4,0 3,4-3,0zM3885,3482l73,36 110,74 50,26 7,7 120,57 50,16 10,7 37,10 10,7 10,0 46,16 10,0 30,10 14,0 3,4 13,0 4,3 13,0 3,3 40,4 4,3 73,3 3,4 67,0 3,-4 70,-3 4,-3 20,0 3,-4 47,-6 60,-20 10,0 10,-7 43,-13 90,-44 43,-26 64,30 6,0 57,30 7,0 6,6 14,4 6,6 87,44 7,6 93,54 17,13 10,3 57,40-231,19-150,25-63,16-43,16-34,17-36,27-19,24-11,23-4,20 3,37 19,66 76,177-1,3-73,-76 0,-4-154,-153-3,0-3,-7-4,0-96,-90-87,-70-130,-90-10,-3-73,-50-47,-27-47,-33-10,-3-200,-137-23,-10-47,-30-16,-7-17,-13-53,-30z"/><path class=p2 d="M3878,3478l4,0 3,4-3,0zM3885,3482l73,36 110,74 50,26 7,7 60,30 7,0 23,13 7,0 56,27 64,20 10,7 10,0 23,10 10,0 13,6 10,0 30,10 14,0 3,4 30,3 3,3 17,0 3,4 20,0 4,3 73,3 3,4 67,0 3,-4 44,0 3,-3 47,-3 3,-4 60,-10 13,-6 10,0 70,-24 107,-50 43,-26 64,30 6,0 57,30 7,0 6,6 14,4 6,6 44,20 6,7 37,17 23,16 50,27 69,45-212,15-157,22-56,12-57,18-50,24-27,20-16,17-16,27-6,27 3,30 16,50 93,196-1,3-39,-39 0,-4-154,-153-3,0-3,-7-44,-36-3,-7-73,-63-94,-74-103,-70-10,-3-73,-50-47,-27-47,-33-10,-3-200,-137-23,-10-47,-30-16,-7-17,-13-53,-30z"/><path class=q2 d="M3878,3478l4,0 3,4-3,0zM3885,3482l73,36 110,74 50,26 7,7 60,30 7,0 23,13 7,0 56,27 64,20 10,7 10,0 23,10 10,0 13,6 10,0 30,10 14,0 3,4 30,3 3,3 17,0 3,4 20,0 4,3 73,3 3,4 67,0 3,-4 44,0 3,-3 47,-3 3,-4 60,-10 13,-6 10,0 70,-24 107,-50 43,-26 64,30 6,0 57,30 7,0 13,10 7,0 6,6 87,44 96,59-233,15-156,22-50,12-54,17-43,22-30,22-18,21-12,26-4,27 4,27 23,56 88,160 10,20-1,7-63,-67-94,-93-3,0-3,-7-44,-36-3,-7-73,-63-94,-74-103,-70-10,-3-73,-50-47,-27-47,-33-10,-3-200,-137-23,-10-47,-30-16,-7-17,-13-53,-30z"/><path class=r2 d="M3878,3478l4,0 3,4-3,0zM3885,3482l73,36 110,74 50,26 7,7 60,30 7,0 23,13 7,0 56,27 64,20 10,7 10,0 23,10 10,0 13,6 10,0 30,10 14,0 3,4 30,3 3,3 17,0 3,4 20,0 4,3 73,3 3,4 67,0 3,-4 44,0 3,-3 47,-3 3,-4 60,-10 13,-6 10,0 70,-24 107,-50 43,-26 64,30 6,0 57,30 7,0 13,10 7,0 6,6 87,44 7,6 44,25-221,11-170,21-83,20-37,14-37,19-23,19-17,20-13,28-4,27 4,26 23,50 67,105 43,74 3,10-123,-122-3,0-3,-7-44,-36-3,-7-73,-63-94,-74-103,-70-10,-3-73,-50-47,-27-47,-33-10,-3-200,-137-23,-10-47,-30-16,-7-17,-13-53,-30z"/><path class=s2 d="M3878,3478l4,0 3,4-3,0zM3885,3482l73,36 110,74 50,26 7,7 60,30 7,0 23,13 7,0 56,27 64,20 10,7 10,0 60,20 40,6 3,4 13,0 4,3 13,0 3,3 40,4 4,3 26,0 4,3 43,0 3,4 67,0 3,-4 44,0 3,-3 47,-3 3,-4 60,-10 13,-6 10,0 70,-24 107,-50 43,-26 64,30 6,0 57,30 7,0 6,6 14,4 6,6 89,46-235,10-160,18-47,9-53,16-34,13-37,25-25,30-13,30-2,30 6,27 21,40 90,126 37,57 0,6-87,-86-3,0-3,-7-44,-36-3,-7-73,-63-94,-74-103,-70-10,-3-73,-50-47,-27-47,-33-10,-3-200,-137-23,-10-47,-30-16,-7-17,-13-53,-30z"/><path class=t2 d="M3878,3478l4,0 3,4-3,0zM3885,3482l73,36 110,74 50,26 7,7 60,30 7,0 23,13 7,0 56,27 64,20 10,7 10,0 60,20 40,6 3,4 13,0 4,3 13,0 3,3 40,4 4,3 26,0 4,3 43,0 3,4 67,0 3,-4 44,0 3,-3 47,-3 3,-4 60,-10 13,-6 10,0 70,-24 107,-50 43,-26 64,30 6,0 57,30 7,0 6,6 14,4 6,6 33,17-239,8-157,15-57,10-53,16-37,18-24,20-22,30-8,20-4,33 8,37 27,46 93,114 34,47 7,16-134,-127-80,-66-80,-60-117,-77-10,-3-36,-27-10,-3-27,-20-10,-4-47,-33-10,-3-200,-137-23,-10-47,-30-16,-7-17,-13-53,-30z"/><path class=L d="M3878,3478l4,0 3,4-3,0zM3885,3482l73,36 110,74 50,26 7,7 120,57 50,16 10,7 80,27 10,0 13,6 10,0 30,10 14,0 3,4 13,0 4,3 13,0 3,3 40,4 4,3 26,0 4,3 93,4-23,30-11,33-2,43 10,34 23,40 97,106 52,67-16,-10-3,-7-44,-36-3,-7-73,-63-117,-90-117,-77-10,-3-36,-27-10,-3-27,-20-10,-4-47,-33-10,-3-200,-137-23,-10-47,-30-16,-7-17,-13-53,-30zM4978,3702l110,-60 34,16 6,0 97,47-277,7z"/><path class=L d="M3878,3478l4,0 3,4-3,0zM3885,3482l73,36 110,74 50,26 7,7 120,57 50,16 10,7 37,10 10,7 10,0 46,16 10,0 30,10 14,0 3,4 13,0 4,3 13,0 3,3 40,4 4,3 26,0 6,3 3,74 7,26 17,37 39,47 96,93 36,45-100,-88-117,-90-117,-77-10,-3-36,-27-10,-3-27,-20-10,-4-47,-33-10,-3-200,-137-23,-10-47,-30-16,-7-17,-13-53,-30zM5028,3676l60,-34 64,30 13,3z"/><path class=L d="M3878,3478l4,0 3,4-3,0zM3885,3482l73,36 110,74 50,26 7,7 60,30 7,0 23,13 7,0 56,27 64,20 10,7 10,0 23,10 10,0 13,6 10,0 30,10 14,0 3,4 42,6 28,84 27,46 38,40 95,85 37,40-97,-81-80,-60-117,-77-10,-3-36,-27-10,-3-27,-20-10,-4-47,-33-10,-3-200,-137-23,-10-47,-30-16,-7-17,-13-53,-30zM5086,3644l2,-2 3,2-3,0z"/><path class=L d="M3878,3478l4,0 3,4-3,0zM3885,3482l73,36 110,74 50,26 7,7 60,30 7,0 23,13 7,0 56,27 64,20 10,7 10,0 23,10 10,0 13,6 10,0 32,10 58,103 24,28 119,99 32,30 5,10-53,-46-80,-60-117,-77-10,-3-36,-27-10,-3-27,-20-10,-4-47,-33-10,-3-200,-137-23,-10-47,-30-16,-7-17,-13-53,-30z"/><path class=L d="M3878,3478l4,0 3,4-3,0zM3885,3482l73,36 110,74 50,26 7,7 60,30 7,0 53,27 50,16 10,7 80,27 10,0 24,26 39,60 28,34 159,126-13,-6-77,-60-117,-77-10,-3-36,-27-10,-3-27,-20-10,-4-47,-33-10,-3-200,-137-23,-10-47,-30-16,-7-17,-13-53,-30z"/><path class=L d="M3878,3478l4,0 3,4-3,0zM3885,3482l73,36 110,74 50,26 7,7 120,57 7,0 26,13 17,3 10,7 37,10 12,7 29,30 38,50 28,30 119,86 27,20 0,4-120,-84-10,-3-73,-50-47,-27-47,-33-10,-3-200,-137-23,-10-47,-30-16,-7-17,-13-53,-30z"/><path class=L d="M3878,3478l4,0 3,4-3,0zM3885,3482l73,36 110,74 50,26 7,7 120,57 7,0 10,6 6,0 10,7 30,10 34,30 63,70 140,98-43,-25-27,-20-10,-3-27,-20-10,-3-73,-50-10,-4-47,-33-10,-3-200,-137-23,-10-47,-30-16,-7-17,-13-53,-30z"/><path class=L d="M3878,3478l4,0 3,4-3,0zM3885,3482l73,36 110,74 50,26 7,7 60,30 7,0 23,13 7,0 23,14 21,6 34,27 66,67 123,83-44,-24-147,-96-10,-3-200,-137-23,-10-47,-30-16,-7-17,-13-53,-30z"/><path class=u2 d="M3878,3478l4,0 3,4-3,0zM3885,3482l73,36 110,74 50,26 7,7 60,30 7,0 23,13 7,0 40,29 70,65 96,64-47,-25-83,-56-10,-3-200,-137-23,-10-47,-30-16,-7-17,-13-53,-30z"/><path class=v2 d="M3878,3478l4,0 3,4-3,0zM3885,3482l73,36 110,74 50,26 7,7 82,40 78,67 67,46 10,3 5,7-32,-16-37,-27-10,-3-200,-137-23,-10-47,-30-16,-7-17,-13-53,-30z"/><path class=w2 d="M3878,3478l4,0 3,4-3,0zM3885,3482l73,36 110,74 50,26 7,7 48,23 89,70 45,30-4,1-25,-14-190,-130-23,-10-47,-30-16,-7-17,-13-53,-30z"/><path class=x2 d="M3878,3478l4,0 3,4-3,0zM3885,3482l73,36 110,74 73,40 104,76 2,6-159,-109-23,-10-47,-30-16,-7-17,-13-53,-30z"/><path class=J1 d="M3878,3478l4,0 3,4-3,0zM3885,3482l50,23 7,7 33,16 93,64 53,29 74,54-7,0-100,-70-23,-10-7,-7-16,-6-57,-37-27,-13z"/><path class=R d="M3878,3478l4,0 3,4-3,0zM3885,3482l50,23 57,37 10,3 66,47 36,20 28,20 8,10-52,-37-86,-47-17,-13-53,-30z"/><path class=S d="M3878,3478l4,0 3,4-3,0zM3885,3482l73,36 134,87-7,0-27,-19-57,-28-59,-40-10,-3z"/><path class=T d="M3878,3478l4,0 3,4-3,0zM3885,3482l73,36 81,54-81,-40z"/><path class=K1 d="M3878,3478l4,0 3,4-3,0zM3885,3482l50,23 7,7 33,16 10,10-53,-23z"/><path class=L1 d="M3878,3478l4,0 3,4-3,0zM3885,3482l3,0 37,20-24,-7z"/></g>
<path transform="scale(0.1)" class="ZS ZM" stroke-opacity="0.62" d="M3878,3478l27,17M4367,3725l21,6M4430,3743l83,17 89,9 86,1 83,-8 81,-17 78,-24 76,-33 82,-45M3878,3478l61,31 61,37 237,159 240,152 108,76 99,79 63,55 77,72 78,78 80,84 163,182 169,203M3908,3493l26,17M4374,3733l96,27 51,10 51,8 49,5 48,2 48,-1 46,-4 46,-6 45,-9 44,-12 43,-14 43,-16 41,-19 42,-21 48,-28M4166,3657l11,7M4209,3686l11,8M4242,3708l11,8M4308,3752l11,7M4342,3773l11,8M4376,3795l139,89 95,68 111,88 101,90 116,115 133,141 136,155 140,169M3938,3509l26,18M4382,3741l54,18 52,14 52,11 51,8 49,5 48,2 48,-1 47,-3 45,-6 45,-9 44,-11 52,-17 43,-16 42,-19 41,-21 48,-29M4896,4193l116,118 120,130 123,140 125,152M3969,3527l26,17M4367,3742l11,4M4400,3754l55,18 52,14 52,12 51,8 49,5 49,3 47,0 47,-3 46,-6 45,-8 44,-11 52,-17 43,-16 50,-23 41,-21 49,-29M4817,4112l13,11M4855,4146l127,122 144,151 148,168 139,167M3999,3546l26,17M4386,3756l55,20 54,16 53,14 61,12 50,7 49,4 48,1 57,-2 46,-5 54,-10 44,-10 52,-16 43,-16 50,-23 50,-25 48,-30M4852,4135l62,57 76,73 143,147 160,180 152,181M4030,3566l26,17M4349,3746l23,10M4428,3779l54,19 54,15 52,13 51,9 50,7 49,4 48,1 56,-3 46,-5 54,-10 44,-11 52,-16 43,-16 50,-23 49,-26 49,-29M4862,4135l61,55 76,71 76,76 78,81 159,177 164,196M4062,3587l26,17M4379,3766l57,23 66,24 53,16 63,15 51,10 60,7 58,3 57,-1 55,-5 55,-9 53,-12 52,-16 51,-20 50,-23 49,-26 49,-30M4775,4056l12,9M4835,4103l73,62 74,67 75,73 90,91 91,97 92,104 95,111 82,99M4093,3608l26,18M4410,3786l57,23 65,24 54,15 62,15 51,9 60,7 58,3 57,-2 55,-5 54,-9 53,-13 52,-16 51,-20 50,-23 50,-27 48,-29M4342,3753l10,7M4750,4030l95,72 84,70 86,78 100,98 103,106 104,114 107,123 108,131M4125,3630l26,17M4396,3786l11,6M4453,3812l56,22 65,22 53,15 62,14 51,8 59,6 48,1 57,-1 55,-6 54,-9 53,-13 52,-17 51,-20 50,-24 49,-26 48,-30M4387,3776l11,7M4450,3819l22,14M4504,3855l33,22M4580,3906l11,7M4614,3928l22,15M4658,3958l11,8M4726,4005l104,77 95,76 98,86 99,95 101,103 117,127 119,136 108,130M4157,3652l26,17M4439,3813l57,25 66,25 65,20 62,16 51,9 60,8 59,3 57,-1 55,-4 55,-9 53,-12 52,-15 51,-20 58,-26 49,-27 56,-35M4400,3778l148,99M4570,3891l77,52M4669,3958l56,38M4748,4012l104,76 94,75 96,85 99,93 101,102 116,125 118,134 121,144M4190,3674l26,17M4482,3839l56,24 66,24 64,20 63,14 51,9 59,7 58,2 56,-2 56,-5 54,-9 53,-13 52,-17 50,-20 50,-24 49,-26 56,-36M4362,3746l156,101 274,187 115,86 119,98 134,125 151,153 155,172 160,188M4223,3696l25,17M4514,3861l34,15M4570,3885l55,20 54,17 52,13 62,13 50,6 58,5 48,0 56,-3 46,-6 53,-10 53,-14 51,-17 51,-21 49,-24 49,-28 48,-31M4345,3730l10,6M4395,3759l166,107 252,172 126,94 118,99 134,124 150,152 154,171 159,187M4256,3717l25,17M4546,3883l57,23 65,24 53,16 63,15 50,9 60,7 58,3 56,-2 55,-5 54,-9 53,-13 52,-16 51,-20 58,-28 48,-27 56,-36M4378,3742l10,6M4408,3759l71,44 83,53 260,177 137,101 117,98 72,64 73,69 150,152 153,169 158,187M4289,3738l26,18M4590,3909l56,23 65,23 53,16 62,14 50,8 59,6 58,2 56,-2 55,-6 53,-10 53,-14 51,-17 51,-21 49,-24 49,-28 55,-36M4391,3742l79,46 82,51 257,172 146,107 69,54 71,59 71,64 73,68 148,150 89,95 77,86 157,185M4322,3759l26,18M4634,3936l56,23 64,22 53,14 61,14 50,8 59,5 57,1 56,-3 54,-7 53,-11 53,-15 51,-18 50,-21 49,-25 48,-29 48,-32M4423,3752l69,40 82,50 244,163 156,112 69,54 70,59 71,62 72,67 73,72 87,89 165,180 157,184M4356,3780l39,27M4690,3968l54,21 64,21 52,13 61,12 49,6 58,4 47,0 55,-4 46,-6 53,-11 52,-15 51,-18 50,-22 49,-25 48,-29 47,-32M4405,3736l79,42 80,47 93,58 127,85 97,67 90,64 79,61 81,67 71,62 71,66 73,70 86,88 164,177 169,197M4390,3802l39,26M4667,3966l56,25 65,25 53,17 62,15 60,11 59,7 57,2 56,-2 55,-6 53,-9 52,-14 51,-18 51,-20 57,-29 48,-29 55,-37M4437,3744l68,36 80,46 92,57 116,76 108,75 88,63 79,61 81,65 82,72 71,66 73,70 86,87 163,176 168,196M4425,3824l38,26M4723,4000l55,23 65,23 52,16 61,14 50,9 58,5 57,2 55,-3 55,-7 53,-10 52,-15 50,-18 50,-22 49,-25 48,-29 55,-37M4467,3751l79,41 80,46 92,58 105,69 107,74 89,63 79,61 80,65 82,72 71,65 72,70 85,86 163,176 167,194M4460,3846l38,27M4724,4008l55,26 66,26 52,17 62,17 60,12 59,7 57,3 56,-1 54,-6 53,-9 52,-14 60,-20 50,-21 57,-30 48,-29 54,-38M4498,3757l78,40 80,46 92,57 104,69 108,74 88,63 79,61 80,65 81,71 71,65 72,70 85,86 162,174 166,193M4495,3869l38,28M4758,4033l56,26 65,26 52,18 62,16 60,12 58,8 57,2 55,-1 55,-6 53,-9 52,-14 59,-21 50,-21 56,-30 48,-29 55,-39M4528,3762l78,40 80,45 91,57 94,61 107,73 88,63 78,60 79,64 81,70 71,64 71,69 85,85 86,90 87,95 166,192M4531,3894l37,27M4782,4053l55,27 65,27 63,22 62,16 59,12 58,8 57,2 56,-1 54,-6 52,-10 52,-14 59,-20 50,-22 56,-30 48,-30 55,-39M4558,3766l77,39 80,45 91,56 94,61 96,65 87,63 89,67 79,65 81,70 70,64 84,79 84,85 160,172 165,191M4566,3920l38,27M4817,4079l55,27 65,28 63,22 61,17 59,11 58,8 57,2 55,-1 54,-6 52,-10 52,-14 59,-22 49,-22 57,-30 47,-30 54,-39M4587,3768l78,40 79,44 91,55 94,61 95,65 87,62 89,68 79,64 80,70 70,64 83,79 85,84 159,171 164,189M4603,3947l37,28M4784,4069l68,38 66,32 64,27 63,21 60,16 59,11 58,6 65,2 54,-3 62,-10 61,-14 59,-20 58,-25 56,-30 55,-35 54,-40M4616,3770l78,39 79,44 91,55 93,60 95,65 87,62 89,68 78,64 81,69 81,74 155,152 159,170 163,188M4639,3976l38,28M4808,4092l68,39 67,33 64,27 62,22 61,17 69,13 57,6 65,2 54,-4 62,-9 60,-15 59,-21 57,-25 57,-30 55,-36 54,-40M4645,3771l77,38 79,44 81,48 93,59 94,64 87,62 88,66 78,64 80,68 81,73 154,150 84,88 86,93 163,186M4676,4006l37,28M4844,4122l68,39 66,33 64,28 62,21 61,17 68,13 57,6 65,1 54,-4 62,-9 60,-16 58,-20 57,-26 56,-31 55,-36 54,-40M4673,3771l77,38 79,43 81,48 92,58 95,64 86,61 88,67 78,63 79,68 81,73 153,149 85,87 85,92 162,186M4714,4038l37,28M4834,4125l24,15M4881,4154l68,39 65,33 64,27 62,22 60,16 68,13 57,6 64,1 54,-4 61,-10 60,-16 59,-21 57,-26 55,-31 55,-37 54,-40M4701,3769l77,38 79,43 80,47 93,58 94,64 86,61 87,67 78,62 79,68 81,73 153,147 84,87 85,92 161,184M4751,4071l37,28M4872,4158l69,43 66,37 65,31 73,29 61,18 68,16 58,8 65,3 63,-3 61,-9 60,-14 59,-20 57,-26 64,-34 54,-36 61,-47M4729,3767l77,38 78,42 80,47 93,58 83,55 86,61 87,65 77,62 79,67 80,72 81,76 83,81 84,86 84,92 161,182M4789,4107l37,28M4897,4185l69,44 67,38 65,31 73,30 61,19 68,16 67,9 65,3 63,-3 61,-9 59,-15 59,-20 57,-26 63,-35 55,-37 60,-47M4756,3764l77,37 78,42 80,46 92,58 84,55 85,61 87,65 77,62 79,66 79,71 81,76 83,81 83,86 85,90 160,182M4828,4143l60,46M4912,4205l69,46 78,46 65,32 73,30 61,20 69,17 66,10 65,3 63,-3 61,-9 59,-14 67,-24 56,-26 64,-36 54,-36 61,-48M4783,3760l77,37 78,41 80,46 92,57 83,56 85,60 87,65 77,61 78,66 80,71 80,75 82,81 83,85 85,90 159,180M4866,4181l72,54 81,54 78,45 75,36 72,29 70,21 68,15 75,8 63,0 71,-7 68,-15 67,-22 65,-29 63,-36 62,-42 60,-49M4810,3755l76,36 79,42 79,45 92,57 83,55 85,59 86,65 77,62 78,65 80,71 80,75 82,79 83,85 83,89 159,180M4905,4221l72,53 80,54 78,44 74,36 72,29 70,20 67,14 75,7 63,0 70,-8 68,-15 66,-23 65,-29 63,-37 61,-42 61,-49M4836,3749l77,36 78,41 79,45 92,56 83,55 84,60 87,64 76,61 78,66 79,69 80,75 82,79 82,84 84,89 158,178M4945,4262l71,53 80,53 77,44 74,35 72,28 69,20 67,13 74,7 63,-1 70,-8 67,-16 66,-23 64,-30 63,-37 61,-44 60,-49M4863,3742l76,36 78,40 79,45 81,50 83,53 84,59 86,64 76,60 89,74 79,69 80,74 81,79 82,84 83,88 158,177M4984,4304l71,52 80,53 76,43 74,35 71,27 69,20 67,13 73,6 63,-1 69,-9 68,-17 65,-24 64,-31 63,-37 60,-44 60,-50M4889,3735l76,35 78,40 79,45 81,48 82,54 84,58 86,64 76,59 88,74 79,69 79,74 81,78 82,83 84,88 157,175M5024,4347l71,52 79,52 76,43 73,34 71,27 68,19 67,12 73,6 62,-2 69,-10 67,-17 66,-25 63,-31 62,-38 61,-45 59,-50M4914,3726l76,35 78,40 79,44 81,48 82,54 84,58 85,63 76,59 88,73 79,69 79,73 81,78 82,83 82,87 157,174M5065,4392l70,51 78,52 76,42 73,34 70,26 68,18 66,12 73,4 62,-2 68,-11 67,-17 65,-26 63,-32 62,-38 60,-45 60,-52M4940,3717l76,35 77,39 79,43 81,49 82,53 83,57 86,63 75,59 88,73 78,68 80,73 80,77 82,82 82,87 156,173M5106,4438l69,51 78,50 75,42 73,33 70,25 67,18 66,11 72,4 62,-3 68,-11 66,-19 65,-26 63,-32 61,-40 60,-45 59,-52M4965,3707l76,34 77,39 79,43 80,48 82,53 84,57 85,62 75,59 88,72 78,68 79,73 80,76 81,82 83,86 155,172M5147,4485l69,50 77,50 75,41 72,32 69,25 67,17 65,10 72,4 62,-4 67,-12 66,-19 65,-27 62,-33 61,-40 60,-47 59,-52M4990,3695l76,35 77,38 79,43 80,48 82,52 83,57 85,62 75,58 88,72 77,68 79,72 80,76 81,81 82,85 155,171M5188,4533l68,50 77,49 75,40 71,32 69,24 67,16 64,10 72,2 61,-4 67,-13 66,-20 64,-27 62,-34 61,-41 59,-47 58,-53M5015,3684l75,33 77,39 79,42 80,47 82,52 83,57 84,61 76,59 87,71 77,67 79,71 80,76 80,80 82,85 155,170M5230,4583l68,49 76,48 74,40 71,31 68,23 67,15 64,9 62,2 61,-4 67,-12 65,-20 64,-27 62,-34 61,-41 59,-47 65,-60M5039,3671l76,33 77,38 78,42 80,47 82,52 72,49 84,60 75,57 87,71 77,66 78,70 80,75 80,79 82,84 82,88 83,93M5272,4634l67,48 76,47 63,34 71,31 68,24 66,16 64,9 71,2 60,-5 67,-13 65,-21 64,-28 61,-34 61,-42 59,-47 65,-61M5063,3657l76,34 77,37 78,42 80,46 81,51 73,49 84,60 74,57 87,70 77,66 78,69 79,75 80,78 81,83 83,88 83,92M5314,4686l67,47 75,47 63,33 70,30 68,23 66,15 63,8 71,2 59,-6 67,-14 64,-22 63,-28 62,-36 60,-42 58,-48 65,-62M5088,3643l75,33 77,37 78,42 80,46 81,50 72,49 84,59 74,57 87,69 77,66 77,69 79,74 80,78 81,82 82,87 83,92"/>
<g shape-rendering="crispEdges">
<rect x="649.9" y="336.00" width="12.1" height="3.1" fill="#000"/>
<rect x="649.9" y="338.80" width="12.1" height="163.65" fill="#5f2776"/>
<rect x="649.9" y="341.86" width="12.1" height="160.59" fill="#6a1a86"/>
<rect x="649.9" y="344.92" width="12.1" height="157.53" fill="#6b248b"/>
<rect x="649.9" y="347.98" width="12.1" height="154.47" fill="#682f91"/>
<rect x="649.9" y="351.05" width="12.1" height="151.40" fill="#5f3d98"/>
<rect x="649.9" y="354.11" width="12.1" height="148.34" fill="#4f429d"/>
<rect x="649.9" y="357.17" width="12.1" height="145.28" fill="#3e46a0"/>
<rect x="649.9" y="360.23" width="12.1" height="142.22" fill="#2b48a0"/>
<rect x="649.9" y="363.29" width="12.1" height="139.16" fill="#2249a0"/>
<rect x="649.9" y="366.35" width="12.1" height="136.10" fill="#1f4ba0"/>
<rect x="649.9" y="369.41" width="12.1" height="133.04" fill="#215ca9"/>
<rect x="649.9" y="372.48" width="12.1" height="129.97" fill="#2775bc"/>
<rect x="649.9" y="375.54" width="12.1" height="126.91" fill="#2d9dd8"/>
<rect x="649.9" y="378.60" width="12.1" height="123.85" fill="#3fbbe2"/>
<rect x="649.9" y="381.66" width="12.1" height="120.79" fill="#5ebfc5"/>
<rect x="649.9" y="384.72" width="12.1" height="117.73" fill="#63bb8e"/>
<rect x="649.9" y="387.78" width="12.1" height="114.67" fill="#67b654"/>
<rect x="649.9" y="390.85" width="12.1" height="111.60" fill="#6cb534"/>
<rect x="649.9" y="393.91" width="12.1" height="108.54" fill="#73b72f"/>
<rect x="649.9" y="396.97" width="12.1" height="105.48" fill="#7bba29"/>
<rect x="649.9" y="400.03" width="12.1" height="102.42" fill="#88be26"/>
<rect x="649.9" y="403.09" width="12.1" height="99.36" fill="#97c224"/>
<rect x="649.9" y="406.15" width="12.1" height="96.30" fill="#a6c722"/>
<rect x="649.9" y="409.21" width="12.1" height="93.24" fill="#b9cf24"/>
<rect x="649.9" y="412.28" width="12.1" height="90.17" fill="#ccd726"/>
<rect x="649.9" y="415.34" width="12.1" height="87.11" fill="#dcdf28"/>
<rect x="649.9" y="418.40" width="12.1" height="84.05" fill="#eae72a"/>
<rect x="649.9" y="421.46" width="12.1" height="80.99" fill="#f1de29"/>
<rect x="649.9" y="424.52" width="12.1" height="77.93" fill="#f4cd26"/>
<rect x="649.9" y="427.58" width="12.1" height="74.87" fill="#f4b922"/>
<rect x="649.9" y="430.64" width="12.1" height="71.81" fill="#f3a31f"/>
<rect x="649.9" y="433.71" width="12.1" height="68.74" fill="#f18a1d"/>
<rect x="649.9" y="436.77" width="12.1" height="65.68" fill="#ee6f1b"/>
<rect x="649.9" y="439.83" width="12.1" height="62.62" fill="#ea521a"/>
<rect x="649.9" y="442.89" width="12.1" height="59.56" fill="#e7321b"/>
<rect x="649.9" y="445.95" width="12.1" height="56.50" fill="#e6141c"/>
<rect x="649.9" y="449.01" width="12.1" height="53.44" fill="#e6141c"/>
<rect x="649.9" y="452.07" width="12.1" height="50.38" fill="#e6141c"/>
<rect x="649.9" y="455.14" width="12.1" height="47.31" fill="#e6141c"/>
<rect x="649.9" y="458.20" width="12.1" height="44.25" fill="#e6141c"/>
<rect x="649.9" y="461.26" width="12.1" height="41.19" fill="#e6141c"/>
<rect x="649.9" y="464.32" width="12.1" height="38.13" fill="#e6141c"/>
<rect x="649.9" y="467.38" width="12.1" height="35.07" fill="#e6141c"/>
<rect x="649.9" y="470.44" width="12.1" height="32.01" fill="#e0151c"/>
<rect x="649.9" y="473.51" width="12.1" height="28.94" fill="#cf171e"/>
<rect x="649.9" y="476.57" width="12.1" height="25.88" fill="#bf181f"/>
<rect x="649.9" y="479.63" width="12.1" height="22.82" fill="#af1a20"/>
<rect x="649.9" y="482.69" width="12.1" height="19.76" fill="#a3191f"/>
<rect x="649.9" y="485.75" width="12.1" height="16.70" fill="#97171d"/>
<rect x="649.9" y="488.81" width="12.1" height="13.64" fill="#8c161c"/>
<rect x="649.9" y="491.87" width="12.1" height="10.58" fill="#80141a"/>
<rect x="649.9" y="494.94" width="12.1" height="7.51" fill="#741217"/>
<rect x="649.9" y="498.00" width="12.1" height="4.45" fill="#680f15"/>
<rect x="649.9" y="501.06" width="12.1" height="1.39" fill="#5c0d12"/>
</g>
<text x="664.3" y="342.3" font-size="6.85" font-family="'Liberation Serif',serif">8.400</text>
<text x="664.3" y="379.1" font-size="6.85" font-family="'Liberation Serif',serif">21.60</text>
<text x="664.3" y="415.8" font-size="6.85" font-family="'Liberation Serif',serif">34.80</text>
<text x="664.3" y="452.5" font-size="6.85" font-family="'Liberation Serif',serif">48.00</text>
<text x="664.3" y="489.3" font-size="6.85" font-family="'Liberation Serif',serif">61.20</text>
<text x="664.3" y="506" font-size="6.85" font-family="'Liberation Serif',serif">67.20</text>
<text x="346.1" y="306.6" font-size="16" font-family="'Liberation Serif',serif">D</text>
<text transform="translate(507.8,304) scale(1.07,1)" font-size="10.6" text-anchor="middle" font-family="'Liberation Serif',serif">z=-20.40x<tspan font-size="6.4" dy="-4.2">2</tspan><tspan dy="4.2">+0.0021y²+4.10x-0.60y+90.75</tspan></text>
<text transform="translate(507.8,315.3) scale(1.07,1)" font-size="10.6" text-anchor="middle" font-family="'Liberation Serif',serif">R²=0.6294</text>
<text transform="translate(365.35,422.3) rotate(-92.85)" font-size="15.55" text-anchor="middle" font-family="'Liberation Serif',serif">Percentage of E2 waveform</text>
<text transform="translate(389.1,500.5) scale(0.73,1)" font-size="10.4" text-anchor="end" font-family="'Liberation Serif',serif">0</text>
<text transform="translate(387.7,479.6) scale(0.73,1)" font-size="10.4" text-anchor="end" font-family="'Liberation Serif',serif">10</text>
<text transform="translate(386.3,458.2) scale(0.73,1)" font-size="10.4" text-anchor="end" font-family="'Liberation Serif',serif">20</text>
<text transform="translate(384.9,436.4) scale(0.73,1)" font-size="10.4" text-anchor="end" font-family="'Liberation Serif',serif">30</text>
<text transform="translate(383.4,414) scale(0.73,1)" font-size="10.4" text-anchor="end" font-family="'Liberation Serif',serif">40</text>
<text transform="translate(381.9,391.3) scale(0.73,1)" font-size="10.4" text-anchor="end" font-family="'Liberation Serif',serif">50</text>
<text transform="translate(380.4,368) scale(0.73,1)" font-size="10.4" text-anchor="end" font-family="'Liberation Serif',serif">60</text>
<text transform="translate(378.8,344.2) scale(0.73,1)" font-size="10.4" text-anchor="end" font-family="'Liberation Serif',serif">70</text>
<text transform="matrix(0.7699,-0.3049,0.5857,0.2569,387,518.3)" font-size="10" text-anchor="middle" font-family="'Liberation Serif',serif"><tspan dy="3.3">0.5</tspan></text>
<text transform="matrix(0.7711,-0.3235,0.6210,0.2724,404.2,525.5)" font-size="10" text-anchor="middle" font-family="'Liberation Serif',serif"><tspan dy="3.3">0.6</tspan></text>
<text transform="matrix(0.7709,-0.3439,0.6597,0.2893,422.4,533.1)" font-size="10" text-anchor="middle" font-family="'Liberation Serif',serif"><tspan dy="3.3">0.7</tspan></text>
<text transform="matrix(0.7692,-0.3662,0.7020,0.3079,441.8,541.2)" font-size="10" text-anchor="middle" font-family="'Liberation Serif',serif"><tspan dy="3.3">0.8</tspan></text>
<text transform="matrix(0.7656,-0.3907,0.7486,0.3284,462.3,549.9)" font-size="10" text-anchor="middle" font-family="'Liberation Serif',serif"><tspan dy="3.3">0.9</tspan></text>
<text transform="matrix(0.7598,-0.4178,0.8000,0.3509,484.3,559.1)" font-size="10" text-anchor="middle" font-family="'Liberation Serif',serif"><tspan dy="3.3">1.0</tspan></text>
<text transform="matrix(0.7513,-0.4477,0.8568,0.3758,507.7,568.9)" font-size="10" text-anchor="middle" font-family="'Liberation Serif',serif"><tspan dy="3.3">1.1</tspan></text>
<text transform="matrix(0.8218,0.3878,-0.9947,0.4611,431.6,547.3)" font-size="10" text-anchor="middle" font-family="'Liberation Serif',serif"><tspan dy="3.3">Trehalose content</tspan></text>
<text transform="matrix(0.9210,0.3859,-0.6969,0.4596,542.4,573)" font-size="10" text-anchor="middle" font-family="'Liberation Serif',serif"><tspan dy="3.3">40</tspan></text>
<text transform="matrix(0.9069,0.3571,-0.6445,0.4251,560.4,561.8)" font-size="10" text-anchor="middle" font-family="'Liberation Serif',serif"><tspan dy="3.3">60</tspan></text>
<text transform="matrix(0.8923,0.3315,-0.5979,0.3943,577.1,551.5)" font-size="10" text-anchor="middle" font-family="'Liberation Serif',serif"><tspan dy="3.3">80</tspan></text>
<text transform="matrix(0.8775,0.3085,-0.5561,0.3667,592.6,541.8)" font-size="10" text-anchor="middle" font-family="'Liberation Serif',serif"><tspan dy="3.3">100</tspan></text>
<text transform="matrix(0.8626,0.2879,-0.5186,0.3420,607.1,532.8)" font-size="10" text-anchor="middle" font-family="'Liberation Serif',serif"><tspan dy="3.3">120</tspan></text>
<text transform="matrix(0.8477,0.2693,-0.4847,0.3196,620.6,524.4)" font-size="10" text-anchor="middle" font-family="'Liberation Serif',serif"><tspan dy="3.3">140</tspan></text>
<text transform="matrix(0.8329,0.2524,-0.4540,0.2994,633.3,516.5)" font-size="10" text-anchor="middle" font-family="'Liberation Serif',serif"><tspan dy="3.3">160</tspan></text>
<text transform="matrix(0.8182,0.2371,-0.4262,0.2811,645.2,509.1)" font-size="10" text-anchor="middle" font-family="'Liberation Serif',serif"><tspan dy="3.3">180</tspan></text>
<text transform="matrix(0.5878,-0.4347,1.1066,0.3656,619.4,540.7)" font-size="10" text-anchor="middle" font-family="'Liberation Serif',serif"><tspan dy="3.3">Glucose content</tspan></text>
</g>
<g id="pE">
<path d="M68.5,799 L60.6,634.3 M86.2,792 L80,632.1 M102.8,785.4 L98.1,630 M118.5,779.2 L115.2,628 M133.3,773.3 L131.2,626.2 M147.4,767.8 L146.3,624.4 M160.7,762.5 L160.6,622.8 M177.2,767.3 L178.3,624.4 M194.5,772.3 L197,626 M212.7,777.6 L216.7,627.8 M231.9,783.1 L237.4,629.7 M252,788.9 L259.3,631.7 M273.2,795.1 L282.5,633.7" stroke="#b4b4b4" stroke-width="0.7" fill="none"/>
<path d="M49,792.9 L160.7,751.2 L285,785.2 M48,776.7 L160.7,737.7 L286,769.6 M47.1,760.2 L160.7,724 L287.1,753.7 M46.1,743.5 L160.6,710.1 L288.1,737.5 M45.1,726.4 L160.6,696.1 L289.1,721.1 M44.1,709.1 L160.6,681.8 L290.2,704.4 M43.1,691.5 L160.6,667.4 L291.3,687.5 M42,673.6 L160.6,652.7 L292.4,670.2 M41,655.3 L160.6,637.9 L293.5,652.7" stroke="#e4e4e4" stroke-width="0.6" stroke-dasharray="2,2" fill="none"/>
<path d="M49.8,806.4 L39.9,636.7 L160.6,622.8 L294.6,634.8 L284.2,798.3" stroke="#555" stroke-width="0.7" fill="none"/>
<path d="M49.8,806.4 L182.1,861.8 L284.2,798.3 L160.7,762.5 Z" fill="#5f2775"/>
<g transform="scale(0.1)" fill-rule="evenodd"><path d="M1607,7625l-1108,438 70,9 51,10 45,13 39,14 34,18 29,20 23,23 17,24 1014,424 1021,-635z" fill="#691b85"/><path d="M854,8176l17,45 950,397 1021,-635-1235,-358-1062,420 71,9 62,12 54,16 37,16 38,24 24,22z" fill="#6b238a"/><path d="M913,8184l9,58 899,376 1021,-635-1235,-358-1015,402 85,10 61,12 53,16 43,21 34,26 16,17 13,20z" fill="#692d8f"/><path d="M966,8195l0,65 855,358 1021,-635-1235,-358-966,382 86,9 73,15 60,21 39,23 19,15 15,18 13,19 9,21z" fill="#613a97"/><path d="M1005,8277l816,341 1021,-635-1235,-358-916,362 101,10 72,15 57,22 23,13 20,16 16,17 13,18 10,21 8,30 3,25 0,35z" fill="#53419c"/><path d="M1055,8236l-14,56 780,326 1021,-635-1235,-358-862,341 103,9 72,14 31,10 26,11 23,14 25,20 14,18 11,20 7,21 6,31 1,26-3,36z" fill="#4345a0"/><path d="M1105,8203l-31,103 747,312 1021,-635-1235,-358-806,319 105,7 51,8 34,8 29,10 25,12 21,14 22,22 12,19 10,27 4,23 1,34-3,36z" fill="#3048a0"/><path d="M1149,8201l-43,118 715,299 1021,-635-1235,-358-746,295 109,5 52,8 34,7 29,10 32,16 19,15 18,23 9,20 7,29 1,33-3,35z" fill="#2449a0"/><path d="M1135,8331l686,287 1021,-635-1235,-358-681,269 114,3 54,6 35,7 38,13 22,13 17,15 16,24 8,27 2,31-3,35-7,37-31,94z" fill="#204a9f"/><path d="M1238,8186l-74,157 657,275 1021,-635-1235,-358-608,241 121,-1 58,4 36,6 29,9 23,12 17,15 14,24 5,20 0,32-5,34-13,47-18,52z" fill="#2055a5"/><path d="M1191,8355l630,263 1021,-635-1043,-302-31,-3-31,-7-16,-6-17,-12-97,-28-524,207 137,-8 50,0 42,4 33,6 24,12 15,15 7,18 2,22-5,32-11,36-19,49-61,131z" fill="#2468b2"/><path d="M1427,7998l-210,368 604,252 1021,-635-935,-271-110,17-92,18-60,16-48,21-36,26-36,39-39,54zM1600,7628l-407,161 185,-31 65,-16 37,-12 36,-18 27,-20 26,-25z" fill="#2b87c9"/><path d="M1354,8191l-111,185 578,242 1021,-635-875,-254-85,20-99,27-84,34-37,19-33,22-30,22-32,30-63,70-67,90z" fill="#2eb2e6"/><path d="M1268,8387l553,231 1021,-635-827,-240-30,8-126,37-93,37-45,23-42,25-38,27-35,29-69,70-78,96-89,129z" fill="#51beda"/><path d="M1291,8397l530,221 1021,-635-785,-228-134,40-102,41-46,23-50,29-39,27-43,34-41,36-43,44-77,90-89,123z" fill="#60beb1"/><path d="M1315,8406l506,212 1021,-635-749,-217-130,41-108,46-54,27-42,25-47,32-44,34-75,70-86,96-93,122z" fill="#65b977"/><path d="M1338,8416l483,202 1021,-635-715,-207-128,42-59,24-56,26-96,53-47,32-45,35-83,75-83,91-90,115z" fill="#68b548"/><path d="M1360,8425l461,193 1021,-635-684,-198-125,43-115,50-53,29-50,30-48,32-45,34-85,76-85,91-93,116z" fill="#6eb632"/><path d="M1483,8295l-101,139 439,184 1021,-635-654,-190-125,44-114,51-103,59-94,67-51,42-42,39-87,91z" fill="#75b82d"/><path d="M1506,8305l-103,138 418,175 1021,-635-627,-182-131,49-113,52-103,59-95,67-87,76-89,91z" fill="#7dba28"/><path d="M1424,8452l397,166 1021,-635-600,-174-130,49-113,52-103,60-96,67-94,82-90,92-93,110z" fill="#8abe26"/><path d="M1445,8461l376,157 1021,-635-575,-167-129,50-119,57-104,60-95,68-96,83-91,92-88,103z" fill="#99c324"/><path d="M1566,8338l-101,131 356,149 1021,-635-550,-160-128,51-120,57-103,61-96,68-97,82-92,93z" fill="#a7c822"/><path d="M1485,8478l336,140 1021,-635-527,-153-127,51-119,58-103,61-104,73-97,83-93,94-91,104z" fill="#bacf24"/><path d="M1505,8486l316,132 1021,-635-504,-146-8,3-126,52-118,58-103,62-104,75-91,77-94,94-92,104z" fill="#ccd726"/><path d="M1622,8370l-98,124 297,124 1021,-635-482,-140-8,4-125,52-118,59-103,62-98,69-98,83-95,94z" fill="#dbde28"/><path d="M1543,8502l278,116 1021,-635-460,-133-34,13-123,54-109,56-102,64-97,70-92,79-95,94-94,105z" fill="#e9e62a"/><path d="M1662,8385l-100,125 259,108 1021,-635-439,-127-34,13-122,54-109,57-102,64-97,71-93,79-90,87z" fill="#f1e029"/><path d="M1581,8518l240,100 1021,-635-418,-121-59,24-121,56-107,58-101,65-90,68-93,80-89,89-89,98z" fill="#f3d026"/><path d="M1694,8408l-95,117 222,93 1021,-635-398,-116-59,25-120,56-107,59-101,65-90,68-93,80-91,89z" fill="#f5be23"/><path d="M1617,8533l204,85 1021,-635-379,-110-82,35-111,54-106,60-101,67-89,69-94,82-84,83-89,100z" fill="#f4a820"/><path d="M1635,8541l186,77 1021,-635-359,-104-90,39-111,55-105,60-101,68-89,69-87,77-91,90-90,101z" fill="#f2911d"/><path d="M1750,8430l-97,118 168,70 1021,-635-340,-99-98,43-110,56-97,57-94,62-97,75-87,77-85,84z" fill="#ef771c"/><path d="M1671,8555l150,63 1021,-635-322,-93-121,55-108,57-97,58-93,64-89,71-87,78-86,85-84,94z" fill="#ec5c1b"/><path d="M1779,8452l-91,111 133,55 1021,-635-304,-88-128,59-100,53-97,59-93,65-89,71-81,71-86,86z" fill="#e8411a"/><path d="M1791,8467l-86,103 116,48 1021,-635-286,-83-143,68-100,54-96,60-92,66-83,66-80,72-86,86z" fill="#e61b1c"/><path d="M1723,8577l98,41 1021,-635-268,-78-88,41-78,39-99,56-88,57-85,61-89,73-81,74-79,80-79,88z" fill="#e6141c"/><path d="M1740,8584l81,34 1021,-635-250,-73-96,45-86,44-97,57-88,58-84,62-83,68-80,75-80,81-79,88z" fill="#e6141c"/><path d="M1836,8495l-80,96 65,27 1021,-635-233,-68-96,45-93,49-89,53-88,57-84,63-83,69-81,74-80,81z" fill="#e6141c"/><path d="M1773,8598l48,20 1021,-635-216,-63-111,53-100,54-89,54-86,60-85,64-75,64-81,76-73,75-73,82z" fill="#e6141c"/><path d="M1790,8605l31,13 1021,-635-200,-58-118,57-106,59-89,56-79,55-84,65-75,64-75,70-80,83-73,82z" fill="#e6141c"/><path d="M1806,8612l15,6 1021,-635-183,-53-126,61-113,65-88,56-79,56-77,60-75,66-74,70-74,76-73,83z" fill="#e6141c"/><path d="M1903,8522l-77,93 1016,-632-167,-49-133,67-120,69-80,52-79,57-70,55-75,66-74,70-67,70z" fill="#e6141c"/><path d="M1940,8505l-70,83 972,-605-151,-44-124,62-121,70-80,52-72,51-70,55-76,64-74,70-67,69z" fill="#e6141c"/><path d="M1976,8489l-61,71 927,-577-135,-39-124,62-120,70-73,47-72,51-70,55-69,58-68,63-68,67z" fill="#dc151d"/><path d="M2086,8396l-125,135 881,-548-119,-35-124,63-112,66-74,47-64,45-64,49-69,57-62,55z" fill="#cc171e"/><path d="M2137,8368l-128,133 833,-518-103,-30-116,59-113,65-131,87-63,48-63,51z" fill="#bc191f"/><path d="M2173,8355l-113,114 782,-486-88,-26-115,60-113,65-123,83-113,87z" fill="#ae1a20"/><path d="M2217,8335l-104,101 729,-453-72,-21-116,59-105,62-116,77-106,80z" fill="#a2191f"/><path d="M2267,8310l-98,91 673,-418-57,-17-115,60-105,61-102,68-99,74z" fill="#97171d"/><path d="M2317,8286l-86,77 611,-380-42,-12-107,56-105,61-95,62-85,62z" fill="#8c161c"/><path d="M2375,8256l-76,65 543,-338-27,-8-107,56-97,57-80,52-79,56z" fill="#80141a"/><path d="M2503,8175l-125,96 464,-288-12,-4-8,4-99,53-89,52z" fill="#751217"/><path d="M2561,8150l-79,57 344,-214-88,47-89,53z" fill="#691015"/></g>
<path d="M49.8,806.4 L44.7,808.4 M58.2,809.9 L55.1,811.2 M66.9,813.6 L61.8,815.7 M75.8,817.3 L72.8,818.6 M85,821.2 L80,823.4 M94.5,825.1 L91.5,826.5 M104.2,829.2 L99.3,831.6 M114.3,833.4 L111.4,834.9 M124.7,837.8 L119.8,840.3 M135.4,842.3 L132.5,843.8 M146.5,846.9 L141.7,849.6 M158,851.7 L155.1,853.4 M169.8,856.7 L165.1,859.5 M182.1,861.8 L179.3,863.6 M182.1,861.8 L187.1,864 M191.2,856.2 L194.2,857.4 M199.9,850.7 L205.1,852.7 M208.4,845.5 L211.5,846.6 M216.5,840.4 L221.7,842.3 M224.4,835.5 L227.5,836.6 M231.9,830.8 L237.1,832.6 M239.3,826.2 L242.4,827.3 M246.3,821.8 L251.6,823.6 M253.2,817.6 L256.3,818.6 M259.8,813.5 L265,815.1 M266.2,809.5 L269.3,810.5 M272.4,805.6 L277.7,807.2 M278.4,801.9 L281.6,802.8 M284.2,798.3 L289.5,799.8 M49.5,800.8 L46.5,802 M49,792.9 L43,795.1 M48.5,784.8 L45.5,785.9 M48,776.7 L42,778.8 M47.6,768.5 L44.5,769.5 M47.1,760.2 L41,762.2 M46.6,751.9 L43.5,752.8 M46.1,743.5 L40,745.3 M45.6,735 L42.5,735.9 M45.1,726.4 L38.9,728.1 M44.6,717.8 L41.5,718.6 M44.1,709.1 L37.9,710.6 M43.6,700.4 L40.5,701 M43.1,691.5 L36.8,692.8 M42.6,682.6 L39.4,683.2 M42,673.6 L35.7,674.7 M41.5,664.5 L38.3,665 M41,655.3 L34.6,656.2 M40.4,646.1 L37.3,646.5 M39.9,636.7 L33.5,637.5" stroke="#333" stroke-width="0.8" fill="none"/>
<path d="M49.8,806.4 L39.9,636.7" stroke="#333" stroke-width="0.8" fill="none"/>
<g transform="scale(0.1)" fill-rule="evenodd"><path class=a d="M2842,6455l3,-3 93,0-53,80-30,36-43,64-14,13-56,77-17,16-10,17-20,20-53,67-90,96-77,77-3,0-4,7-3,0-57,53-80,63-73,50-43,24-7,6-73,37-7,0-17,10-80,27-40,6-3,4-33,3-4,3-13,0-3,4-24,3-40,13-93,44-7,6-16,7-34,23-10,4-96,70-57,46-67,64-3,0-183,183-80,67-77,53-100,53-7,0-33,17-30,7-13,6-24,4-16,6-40,4-4,3-110,0-3,-3-20,0-3,-4-14,0-3,-3-40,-7-40,-13-10,-7-7,0-80,-40-60,-40 0,-6 7,-7 3,0 147,-133 120,-97 103,-77 170,-110 164,-86 6,0 37,-20 7,0 16,-10 40,-14 10,-6 17,-4 10,-6 50,-17 10,0 23,-10 10,0 40,-13 27,-4 3,-3 27,-3 3,-4 14,0 3,-3 20,0 3,-3 30,-4 50,27 24,7 10,6 13,0 90,-136 7,-17 13,-17 20,-36 117,-117 3,0 77,-73 23,-17 83,-73 87,-67 127,-87 26,-13 40,-27 24,-10 6,-6 87,-44 7,0 40,-20 43,-13 10,-7 30,-10 10,0 13,-6 10,0 14,-7 40,-7 3,-3 13,0 4,-3 16,0 4,-4z"/><path class=b d="M2842,6455l3,-3 93,0-53,80-30,36-43,64-14,13-56,77-17,16-10,17-20,20-53,67-90,96-77,77-3,0-4,7-3,0-57,53-80,63-73,50-43,24-7,6-73,37-7,0-17,10-80,27-40,6-3,4-33,3-4,3-13,0-3,4-24,3-40,13-93,44-7,6-16,7-34,23-10,4-96,70-57,46-67,64-3,0-183,183-80,67-77,53-100,53-7,0-16,10-7,0-30,14-10,0-13,6-24,4-16,6-40,4-4,3-81,0-19,-27-24,-20-20,-13-46,-22-90,-25-110,-15 157,-141 120,-97 103,-77 170,-110 164,-86 6,0 37,-20 7,0 16,-10 40,-14 10,-6 17,-4 10,-6 50,-17 10,0 23,-10 10,0 40,-13 27,-4 3,-3 27,-3 3,-4 14,0 3,-3 20,0 3,-3 30,-4 50,27 24,7 10,6 13,0 90,-136 7,-17 13,-17 20,-36 117,-117 3,0 77,-73 23,-17 83,-73 87,-67 127,-87 26,-13 40,-27 24,-10 6,-6 87,-44 7,0 40,-20 43,-13 10,-7 30,-10 10,0 13,-6 10,0 14,-7 40,-7 3,-3 13,0 4,-3 16,0 4,-4z"/><path class=c d="M2842,6455l3,-3 93,0-53,80-30,36-43,64-14,13-56,77-17,16-10,17-20,20-53,67-90,96-77,77-3,0-4,7-3,0-57,53-80,63-73,50-43,24-7,6-73,37-7,0-17,10-80,27-40,6-3,4-33,3-4,3-13,0-3,4-24,3-40,13-93,44-7,6-16,7-34,23-10,4-96,70-87,73-223,220-47,40-70,53-73,47-67,33-7,0-16,10-7,0-30,14-10,0-13,6-24,4-16,6-61,7-12,-33-22,-34-25,-23-44,-25-37,-15-53,-14-56,-11-77,-8 30,-30 137,-117 166,-127 170,-110 164,-86 6,0 37,-20 7,0 16,-10 40,-14 10,-6 17,-4 10,-6 50,-17 10,0 23,-10 10,0 40,-13 27,-4 3,-3 27,-3 3,-4 14,0 3,-3 20,0 3,-3 30,-4 50,27 24,7 10,6 13,0 90,-136 7,-17 13,-17 20,-36 117,-117 3,0 77,-73 23,-17 83,-73 87,-67 127,-87 26,-13 40,-27 24,-10 6,-6 87,-44 7,0 40,-20 43,-13 10,-7 30,-10 10,0 13,-6 10,0 14,-7 40,-7 3,-3 13,0 4,-3 16,0 4,-4z"/><path class=d d="M2842,6455l3,-3 93,0-53,80-30,36-43,64-14,13-56,77-17,16-10,17-20,20-53,67-90,96-77,77-3,0-4,7-3,0-57,53-80,63-73,50-43,24-7,6-73,37-7,0-17,10-80,27-40,6-3,4-33,3-4,3-13,0-3,4-24,3-40,13-93,44-7,6-16,7-34,23-10,4-96,70-87,73-223,220-47,40-70,53-73,47-107,50-30,7-13,6-50,10-8,-50-17,-36-28,-34-35,-23-46,-20-60,-17-56,-10-82,-8 65,-58 20,-14 70,-60 97,-73 90,-60 10,-10 10,-3 36,-27 27,-13 33,-24 17,-6 7,-7 16,-7 7,-6 160,-80 7,0 16,-10 40,-14 10,-6 17,-4 10,-6 50,-17 10,0 23,-10 10,0 14,-7 10,0 30,-10 13,0 17,-6 30,-4 3,-3 20,0 3,-3 17,0 3,-4 10,0 50,27 24,7 10,6 13,0 90,-136 7,-17 13,-17 20,-36 117,-117 3,0 77,-73 23,-17 83,-73 87,-67 127,-87 26,-13 40,-27 24,-10 6,-6 87,-44 7,0 40,-20 43,-13 10,-7 30,-10 10,0 13,-6 10,0 14,-7 40,-7 3,-3 13,0 4,-3 16,0 4,-4z"/><path class=e d="M2842,6455l3,-3 93,0-53,80-30,36-43,64-14,13-56,77-17,16-10,17-20,20-53,67-90,96-77,77-3,0-4,7-3,0-57,53-80,63-73,50-43,24-7,6-73,37-7,0-17,10-80,27-40,6-3,4-33,3-4,3-13,0-3,4-24,3-40,13-93,44-7,6-16,7-34,23-10,4-96,70-87,73-223,220-47,40-70,53-73,47-90,43-7,0-30,14-30,6 1,-53-8,-43-20,-36-30,-30-33,-21-77,-26-80,-14-79,-7 136,-113 103,-77 54,-33 10,-10 10,-3 36,-27 27,-13 33,-24 17,-6 7,-7 16,-7 7,-6 160,-80 7,0 16,-10 40,-14 10,-6 17,-4 10,-6 50,-17 10,0 23,-10 10,0 14,-7 10,0 30,-10 13,0 17,-6 30,-4 3,-3 20,0 3,-3 17,0 3,-4 10,0 50,27 24,7 10,6 13,0 90,-136 7,-17 13,-17 20,-36 117,-117 3,0 77,-73 23,-17 83,-73 87,-67 127,-87 26,-13 40,-27 24,-10 6,-6 87,-44 7,0 40,-20 43,-13 10,-7 30,-10 10,0 13,-6 10,0 14,-7 40,-7 3,-3 13,0 4,-3 16,0 4,-4z"/><path class=f d="M2842,6455l3,-3 93,0-53,80-30,36-43,64-14,13-56,77-17,16-10,17-20,20-53,67-90,96-77,77-3,0-4,7-3,0-57,53-80,63-73,50-43,24-7,6-73,37-7,0-17,10-80,27-40,6-3,4-33,3-4,3-13,0-3,4-24,3-40,13-93,44-7,6-16,7-34,23-10,4-96,70-87,73-223,220-47,40-70,53-73,47-67,33-7,0-16,10-7,0-19,10-2,-3 10,-67-3,-43-6,-23-13,-27-27,-31-49,-29-61,-19-70,-12-97,-8 154,-121 146,-100 27,-13 33,-24 17,-6 7,-7 16,-7 7,-6 30,-14 7,-6 146,-70 40,-14 10,-6 17,-4 10,-6 50,-17 10,0 23,-10 10,0 14,-7 10,0 30,-10 13,0 17,-6 30,-4 3,-3 40,-3 3,-4 10,0 50,27 24,7 10,6 13,0 90,-136 7,-17 13,-17 20,-36 117,-117 3,0 77,-73 23,-17 83,-73 87,-67 127,-87 26,-13 40,-27 24,-10 6,-6 87,-44 7,0 40,-20 43,-13 10,-7 30,-10 10,0 13,-6 10,0 14,-7 40,-7 3,-3 13,0 4,-3 16,0 4,-4z"/><path class=g d="M2842,6455l3,-3 93,0-53,80-30,36-43,64-14,13-56,77-17,16-10,17-20,20-53,67-90,96-77,77-3,0-4,7-3,0-57,53-80,63-73,50-43,24-7,6-73,37-7,0-17,10-80,27-40,6-3,4-33,3-4,3-13,0-3,4-24,3-40,13-93,44-7,6-16,7-34,23-10,4-96,70-87,73-223,220-47,40-70,53-73,47-82,39 14,-52 8,-44 1,-30-3,-30-8,-26-13,-24-17,-18-24,-18-47,-20-69,-17-57,-7-84,-5 137,-105 170,-110 164,-86 6,0 37,-20 7,0 16,-10 40,-14 10,-6 17,-4 10,-6 50,-17 10,0 23,-10 10,0 14,-7 10,0 30,-10 13,0 17,-6 30,-4 3,-3 40,-3 3,-4 10,0 50,27 24,7 10,6 13,0 90,-136 7,-17 13,-17 20,-36 117,-117 3,0 77,-73 23,-17 83,-73 87,-67 127,-87 26,-13 40,-27 24,-10 6,-6 87,-44 7,0 40,-20 43,-13 10,-7 30,-10 10,0 13,-6 10,0 14,-7 40,-7 3,-3 13,0 4,-3 16,0 4,-4z"/><path class=h d="M2842,6455l3,-3 93,0-53,80-30,36-43,64-14,13-56,77-17,16-10,17-20,20-53,67-90,96-77,77-3,0-4,7-3,0-57,53-80,63-73,50-43,24-7,6-73,37-7,0-17,10-80,27-40,6-3,4-33,3-4,3-13,0-3,4-24,3-40,13-93,44-7,6-16,7-34,23-10,4-96,70-87,73-223,220-47,40-70,53-73,47-49,23 31,-90 11,-66 0,-25-6,-29-13,-26-18,-21-21,-16-27,-13-45,-14-77,-12-111,-7 81,-61 54,-33 10,-10 10,-3 36,-27 27,-13 33,-24 17,-6 7,-7 16,-7 7,-6 160,-80 7,0 16,-10 40,-14 10,-6 17,-4 10,-6 50,-17 10,0 23,-10 10,0 14,-7 23,-3 3,-3 27,-4 3,-3 27,-3 3,-4 14,0 3,-3 40,-3 3,-4 10,0 50,27 24,7 10,6 13,0 90,-136 7,-17 13,-17 20,-36 117,-117 3,0 77,-73 23,-17 83,-73 87,-67 127,-87 26,-13 40,-27 24,-10 6,-6 87,-44 7,0 40,-20 43,-13 10,-7 30,-10 10,0 13,-6 10,0 14,-7 40,-7 3,-3 13,0 4,-3 16,0 4,-4z"/><path class=i d="M2842,6455l3,-3 93,0-53,80-30,36-43,64-14,13-56,77-17,16-10,17-20,20-53,67-90,96-77,77-3,0-4,7-3,0-57,53-80,63-73,50-43,24-7,6-73,37-7,0-17,10-80,27-40,6-3,4-33,3-4,3-13,0-3,4-24,3-40,13-93,44-7,6-16,7-34,23-10,4-96,70-87,73-223,220-47,40-70,53-73,47-18,8 51,-125 16,-70-3,-50-9,-23-11,-17-23,-19-20,-10-63,-20-84,-11-99,-3 19,-17 54,-33 10,-10 10,-3 36,-27 27,-13 33,-24 17,-6 7,-7 16,-7 7,-6 160,-80 7,0 16,-10 40,-14 10,-6 17,-4 10,-6 50,-17 10,0 23,-10 10,0 14,-7 23,-3 3,-3 27,-4 3,-3 27,-3 3,-4 14,0 3,-3 40,-3 3,-4 10,0 50,27 24,7 10,6 13,0 90,-136 7,-17 13,-17 20,-36 117,-117 3,0 77,-73 23,-17 83,-73 87,-67 127,-87 26,-13 40,-27 24,-10 6,-6 87,-44 7,0 40,-20 43,-13 10,-7 30,-10 10,0 13,-6 10,0 14,-7 40,-7 3,-3 13,0 4,-3 16,0 4,-4z"/><path class=j d="M2842,6455l3,-3 93,0-53,80-30,36-43,64-14,13-56,77-17,16-10,17-20,20-53,67-90,96-77,77-3,0-4,7-3,0-57,53-80,63-73,50-43,24-7,6-73,37-7,0-17,10-80,27-40,6-3,4-33,3-4,3-13,0-3,4-24,3-40,13-93,44-7,6-16,7-34,23-10,4-96,70-87,73-223,220-47,40-70,53-61,38 55,-111 36,-94 9,-59-8,-40-17,-24-14,-11-47,-20-70,-13-63,-4-90,-1 3,-4 104,-67 56,-30 7,-6 30,-14 7,-6 146,-70 7,0 43,-20 17,-4 10,-6 50,-17 10,0 23,-10 10,0 14,-7 10,0 30,-10 13,0 3,-3 44,-7 3,-3 40,-3 3,-4 10,0 50,27 24,7 10,6 13,0 90,-136 7,-17 13,-17 20,-36 117,-117 3,0 77,-73 23,-17 83,-73 87,-67 127,-87 26,-13 40,-27 24,-10 6,-6 87,-44 7,0 40,-20 43,-13 10,-7 30,-10 10,0 13,-6 10,0 14,-7 40,-7 3,-3 13,0 4,-3 16,0 4,-4z"/><path class=k d="M2842,6455l3,-3 93,0-53,80-30,36-43,64-14,13-56,77-17,16-10,17-20,20-53,67-90,96-77,77-3,0-4,7-3,0-57,53-80,63-73,50-43,24-7,6-73,37-7,0-17,10-80,27-40,6-3,4-33,3-4,3-13,0-3,4-24,3-40,13-93,44-7,6-16,7-34,23-10,4-96,70-57,46-67,64-3,0-183,183-80,67-70,46 89,-160 34,-73 19,-63 1,-24-4,-26-16,-25-13,-9-50,-18-84,-9-139,0 6,-6 10,-3 33,-24 17,-6 7,-7 16,-7 7,-6 30,-14 7,-6 123,-60 7,0 16,-10 40,-14 10,-6 17,-4 10,-6 50,-17 10,0 23,-10 10,0 14,-7 10,0 30,-10 13,0 17,-6 30,-4 3,-3 20,0 3,-3 30,-4 50,27 24,7 10,6 13,0 90,-136 7,-17 13,-17 20,-36 117,-117 3,0 77,-73 23,-17 83,-73 87,-67 127,-87 26,-13 40,-27 24,-10 6,-6 87,-44 7,0 40,-20 43,-13 10,-7 30,-10 10,0 13,-6 10,0 14,-7 40,-7 3,-3 13,0 4,-3 16,0 4,-4z"/><path class=l d="M2842,6455l3,-3 93,0-53,80-30,36-43,64-14,13-56,77-17,16-10,17-20,20-53,67-90,96-77,77-3,0-4,7-3,0-57,53-80,63-73,50-43,24-7,6-73,37-7,0-17,10-80,27-40,6-3,4-33,3-4,3-13,0-3,4-24,3-40,13-93,44-7,6-16,7-34,23-10,4-96,70-57,46-67,64-3,0-183,183-80,67-43,29 126,-203 48,-86 29,-70 5,-24-2,-20-2,-10-18,-16-23,-10-34,-6-83,-3-151,6 1,-1 40,-20 7,-6 146,-70 7,0 43,-20 17,-4 10,-6 50,-17 10,0 23,-10 10,0 14,-7 10,0 30,-10 13,0 3,-3 44,-7 3,-3 20,0 3,-3 30,-4 50,27 24,7 10,6 13,0 90,-136 7,-17 13,-17 20,-36 117,-117 3,0 77,-73 23,-17 83,-73 87,-67 127,-87 26,-13 40,-27 24,-10 6,-6 87,-44 7,0 40,-20 43,-13 10,-7 30,-10 10,0 13,-6 10,0 14,-7 40,-7 3,-3 13,0 4,-3 16,0 4,-4z"/><path class=m d="M2842,6455l3,-3 93,0-53,80-30,36-43,64-14,13-56,77-17,16-10,17-20,20-53,67-90,96-77,77-3,0-4,7-3,0-57,53-80,63-73,50-43,24-7,6-73,37-7,0-17,10-80,27-40,6-3,4-33,3-4,3-13,0-3,4-24,3-40,13-93,44-7,6-16,7-34,23-10,4-96,70-57,46-67,64-3,0-183,183-80,67-17,10 191,-274 99,-128 27,-30 36,-32 42,-23 58,-20 44,-67 6,-3 40,-60 4,-10 43,-63 7,-17 13,-17 20,-36 117,-117 3,0 40,-40 3,0 80,-73 107,-87 87,-63 80,-54 26,-13 40,-27 24,-10 6,-6 87,-44 7,0 40,-20 6,0 10,-6 27,-7 10,-7 30,-10 10,0 13,-6 10,0 40,-14 30,-3 4,-3 40,-4 3,-3zM1595,7242l5,-4-28,31-30,23-36,20-31,11-110,24-179,23 82,-38 7,0 43,-20 17,-4 10,-6 50,-17 10,0 23,-10 10,0 14,-7 10,0 30,-10 13,0 17,-6 30,-4 3,-3 20,0 3,-3z"/><path class=n d="M2842,6455l3,-3 93,0-53,80-30,36-43,64-14,13-56,77-17,16-10,17-20,20-53,67-90,96-77,77-3,0-4,7-3,0-57,53-80,63-73,50-43,24-7,6-73,37-7,0-17,10-80,27-40,6-3,4-33,3-4,3-13,0-3,4-24,3-40,13-93,44-7,6-16,7-34,23-10,4-96,70-57,46-67,64-3,0-183,183-71,57 117,-158 104,-125 86,-87 80,-60 130,-187 4,-10 43,-63 7,-17 13,-17 20,-36 117,-117 3,0 40,-40 3,0 80,-73 107,-87 87,-63 80,-54 26,-13 40,-27 24,-10 6,-6 87,-44 7,0 40,-20 6,0 10,-6 27,-7 10,-7 30,-10 10,0 13,-6 10,0 40,-14 30,-3 4,-3 40,-4 3,-3z"/><path class=o d="M2842,6455l3,-3 93,0-53,80-30,36-43,64-14,13-56,77-17,16-10,17-20,20-53,67-90,96-77,77-3,0-4,7-3,0-57,53-80,63-73,50-43,24-7,6-73,37-7,0-17,10-80,27-76,13-4,3-13,0-3,4-24,3-40,13-93,44-7,6-16,7-34,23-10,4-96,70-57,46-67,64-3,0-183,183-46,37 66,-87 100,-118 75,-79 88,-80 163,-233 4,-10 43,-63 7,-17 13,-17 20,-36 117,-117 3,0 40,-40 3,0 80,-73 107,-87 87,-63 80,-54 26,-13 40,-27 24,-10 6,-6 87,-44 7,0 40,-20 6,0 10,-6 27,-7 10,-7 30,-10 10,0 13,-6 10,0 40,-14 30,-3 4,-3 40,-4 3,-3z"/><path class=p d="M2842,6455l3,-3 93,0-53,80-30,36-43,64-14,13-56,77-17,16-10,17-20,20-53,67-90,96-77,77-3,0-4,7-3,0-57,53-80,63-73,50-43,24-7,6-73,37-7,0-17,10-16,3-30,13-127,27-67,20-93,44-7,6-16,7-34,23-10,4-96,70-87,73-223,220-21,17 4,-10 96,-114 84,-90 77,-73 20,-30 13,-13 173,-247 4,-10 43,-63 7,-17 13,-17 20,-36 117,-117 3,0 40,-40 3,0 80,-73 107,-87 87,-63 80,-54 26,-13 40,-27 24,-10 6,-6 87,-44 7,0 40,-20 6,0 10,-6 27,-7 10,-7 30,-10 10,0 13,-6 10,0 40,-14 30,-3 4,-3 40,-4 3,-3z"/><path class=q d="M2842,6455l3,-3 93,0-53,80-30,36-43,64-14,13-56,77-17,16-10,17-20,20-53,67-90,96-77,77-3,0-4,7-3,0-57,53-80,63-73,50-43,24-7,6-73,37-7,0-17,10-113,27-127,36-93,44-7,6-16,7-34,23-10,4-96,70-87,73-220,216 10,-17 75,-86 112,-113 73,-93 173,-247 4,-10 43,-63 7,-17 13,-17 20,-36 117,-117 3,0 40,-40 3,0 80,-73 107,-87 87,-63 80,-54 26,-13 40,-27 24,-10 6,-6 87,-44 7,0 40,-20 6,0 10,-6 27,-7 10,-7 30,-10 10,0 13,-6 10,0 40,-14 30,-3 4,-3 40,-4 3,-3z"/><path class=r d="M2842,6455l3,-3 93,0-53,80-30,36-43,64-14,13-56,77-17,16-10,17-20,20-53,67-90,96-77,77-3,0-4,7-3,0-57,53-80,63-73,50-43,24-7,6-60,30-153,41-124,39-53,24-80,43-70,47-110,86-67,64-3,0-158,157 1,-4 34,-39 106,-111 118,-147 162,-233 4,-10 43,-63 7,-17 13,-17 20,-36 117,-117 3,0 40,-40 3,0 80,-73 107,-87 87,-63 80,-54 26,-13 40,-27 24,-10 6,-6 87,-44 7,0 40,-20 6,0 10,-6 27,-7 10,-7 30,-10 10,0 13,-6 10,0 40,-14 30,-3 4,-3 40,-4 3,-3z"/><path class=s d="M2842,6455l3,-3 93,0-53,80-30,36-43,64-14,13-56,77-17,16-10,17-20,20-53,67-90,96-77,77-3,0-4,7-3,0-57,53-103,80-77,50-56,30-130,34-114,37-100,39-93,50-70,47-110,86-67,64-3,0-135,135 12,-17 107,-115 117,-147 162,-233 4,-10 43,-63 7,-17 13,-17 20,-36 117,-117 3,0 40,-40 3,0 80,-73 107,-87 87,-63 80,-54 26,-13 40,-27 24,-10 6,-6 87,-44 7,0 40,-20 6,0 10,-6 27,-7 10,-7 30,-10 10,0 13,-6 10,0 40,-14 30,-3 4,-3 40,-4 3,-3z"/><path class=t d="M2842,6455l3,-3 93,0-53,80-30,36-43,64-14,13-56,77-17,16-10,17-20,20-53,67-90,96-77,77-3,0-4,7-3,0-57,53-103,80-100,63-127,33-116,38-134,56-93,50-70,47-110,86-67,64-3,0-113,113 0,-3 97,-107 117,-147 162,-233 4,-10 43,-63 7,-17 13,-17 20,-36 117,-117 3,0 40,-40 3,0 80,-73 107,-87 87,-63 80,-54 26,-13 40,-27 24,-10 6,-6 87,-44 7,0 40,-20 6,0 10,-6 27,-7 10,-7 30,-10 10,0 13,-6 10,0 40,-14 30,-3 4,-3 40,-4 3,-3z"/><path class=u d="M2842,6455l3,-3 93,0-53,80-30,36-43,64-14,13-56,77-17,16-10,17-20,20-53,67-90,96-77,77-3,0-4,7-3,0-57,53-80,63-97,64-149,40-117,41-110,47-103,55-64,40-93,70-70,60-37,37-3,0-90,90 0,-4 108,-123 110,-143 13,-24 27,-33 95,-140 4,-10 43,-63 7,-17 13,-17 20,-36 117,-117 3,0 40,-40 3,0 80,-73 107,-87 87,-63 80,-54 26,-13 40,-27 24,-10 6,-6 87,-44 7,0 40,-20 6,0 10,-6 27,-7 10,-7 30,-10 10,0 13,-6 10,0 40,-14 30,-3 4,-3 40,-4 3,-3z"/><path class=v d="M2842,6455l3,-3 93,0-53,80-30,36-43,64-14,13-56,77-17,16-10,17-20,20-53,67-90,96-77,77-3,0-4,7-3,0-57,53-80,63-63,44-157,44-110,37-113,49-97,51-100,62-76,57-87,73-110,104 88,-104 110,-143 13,-24 27,-33 95,-140 4,-10 43,-63 7,-17 13,-17 20,-36 117,-117 3,0 40,-40 3,0 80,-73 107,-87 87,-63 80,-54 26,-13 40,-27 24,-10 6,-6 87,-44 7,0 40,-20 6,0 10,-6 27,-7 10,-7 30,-10 10,0 13,-6 10,0 40,-14 30,-3 4,-3 40,-4 3,-3z"/><path class=w d="M2842,6455l3,-3 93,0-53,80-30,36-43,64-14,13-56,77-17,16-10,17-20,20-53,67-90,96-77,77-3,0-4,7-3,0-57,53-66,53-55,38-125,34-150,51-104,44-100,52-80,50-100,72-73,59-117,107 13,-20 93,-110 109,-150 95,-140 4,-10 43,-63 7,-17 13,-17 20,-36 117,-117 3,0 40,-40 3,0 80,-73 107,-87 87,-63 80,-54 26,-13 40,-27 24,-10 6,-6 87,-44 7,0 40,-20 6,0 10,-6 27,-7 10,-7 30,-10 10,0 13,-6 10,0 40,-14 30,-3 4,-3 40,-4 3,-3z"/><path class=x d="M2842,6455l3,-3 93,0-53,80-30,36-43,64-14,13-56,77-17,16-10,17-20,20-53,67-90,96-77,77-3,0-4,7-3,0-57,53-66,53-30,20-157,44-113,39-110,46-97,50-100,61-80,57-87,69-110,98 119,-150 66,-97 10,-10 14,-23 10,-10 118,-180 7,-17 13,-17 20,-36 117,-117 3,0 40,-40 3,0 80,-73 107,-87 87,-63 80,-54 26,-13 40,-27 24,-10 6,-6 87,-44 7,0 40,-20 6,0 10,-6 27,-7 10,-7 30,-10 10,0 13,-6 10,0 40,-14 30,-3 4,-3 40,-4 3,-3z"/><path class=y d="M2842,6455l3,-3 93,0-53,80-30,36-43,64-14,13-56,77-17,16-10,17-20,20-53,67-90,96-77,77-3,0-4,7-3,0-57,53-66,53-127,34-143,48-104,43-113,56-83,50-104,71-70,55-120,101 99,-124 67,-97 10,-10 13,-23 10,-10 118,-180 7,-17 13,-17 20,-36 117,-117 3,0 77,-73 23,-17 83,-73 87,-67 127,-87 26,-13 40,-27 24,-10 6,-6 87,-44 7,0 40,-20 43,-13 10,-7 30,-10 10,0 13,-6 10,0 14,-7 40,-7 3,-3 13,0 4,-3 16,0 4,-4z"/><path class=z d="M2842,6455l3,-3 93,0-53,80-30,36-43,64-14,13-56,77-17,16-10,17-20,20-53,67-90,96-77,77-3,0-4,7-3,0-57,53-44,35-129,35-123,40-117,47-103,50-87,49-106,71-81,61-120,100 89,-115 80,-116 10,-10 118,-180 7,-17 13,-17 20,-36 117,-117 3,0 77,-73 23,-17 83,-73 87,-67 127,-87 26,-13 40,-27 24,-10 6,-6 87,-44 7,0 40,-20 43,-13 10,-7 30,-10 10,0 13,-6 10,0 14,-7 40,-7 3,-3 13,0 4,-3 16,0 4,-4z"/><path class=A d="M2842,6455l3,-3 93,0-53,80-30,36-43,64-14,13-56,77-17,16-10,17-20,20-53,67-90,96-77,77-3,0-4,7-3,0-57,53-22,15-148,41-130,44-73,30-100,46-110,61-78,50-85,61-137,112-7,1 70,-88 79,-116 10,-10 118,-180 7,-17 13,-17 20,-36 117,-117 3,0 77,-73 23,-17 83,-73 87,-67 127,-87 26,-13 40,-27 24,-10 6,-6 87,-44 7,0 40,-20 43,-13 10,-7 30,-10 10,0 13,-6 10,0 14,-7 40,-7 3,-3 13,0 4,-3 16,0 4,-4z"/><path class=B d="M2842,6455l3,-3 93,0-53,80-30,36-43,64-14,13-56,77-17,16-10,17-20,20-53,67-90,96-77,77-3,0-4,7-54,48-122,32-137,45-123,49-87,41-97,52-98,63-80,56-128,104-4,0 50,-64 79,-116 10,-10 118,-180 7,-17 13,-17 20,-36 117,-117 3,0 77,-73 23,-17 83,-73 87,-67 127,-87 26,-13 40,-27 24,-10 6,-6 87,-44 7,0 40,-20 43,-13 10,-7 30,-10 10,0 13,-6 10,0 14,-7 40,-7 3,-3 13,0 4,-3 16,0 4,-4z"/><path class=C d="M2842,6455l3,-3 93,0-70,103-13,13-33,50-80,104-17,16-10,17-137,157-3,0-23,26-114,110-140,39-116,38-97,37-117,53-113,61-83,52-82,57-122,97-10,4 119,-164 118,-180 7,-17 13,-17 20,-36 117,-117 3,0 77,-73 23,-17 83,-73 87,-67 127,-87 26,-13 40,-27 24,-10 6,-6 87,-44 7,0 40,-20 43,-13 10,-7 30,-10 10,0 13,-6 10,0 14,-7 40,-7 3,-3 13,0 4,-3 16,0 4,-4z"/><path class=D d="M2842,6455l3,-3 93,0-70,103-13,13-33,50-80,104-17,16-10,17-137,157-3,0-23,26-77,77-7,3 0,4-13,8-127,34-143,47-103,40-100,46-97,52-110,67-90,63-107,82 66,-96 10,-10 14,-23 10,-10 70,-107 4,-10 43,-63 7,-17 13,-17 20,-36 160,-157 160,-137 117,-86 80,-54 26,-13 40,-27 24,-10 6,-6 87,-44 7,0 40,-20 43,-13 10,-7 30,-10 10,0 13,-6 10,0 14,-7 40,-7 3,-3 13,0 4,-3 16,0 4,-4z"/><path class=E d="M2842,6455l3,-3 93,0-70,103-13,13-33,50-80,104-17,16-10,17-137,157-6,3-4,7-86,86-160,44-94,30-105,40-105,46-96,49-120,72-87,58-117,87 150,-219 4,-10 43,-63 7,-17 13,-17 20,-36 160,-157 160,-137 117,-86 80,-54 26,-13 40,-27 24,-10 6,-6 87,-44 7,0 40,-20 43,-13 10,-7 30,-10 10,0 13,-6 10,0 14,-7 40,-7 3,-3 13,0 4,-3 16,0 4,-4z"/><path class=F d="M2842,6455l3,-3 93,0-70,103-13,13-33,50-80,104-17,16-10,17-100,117-113,116-124,33-120,37-90,33-128,54-99,50-99,57-97,63-127,93 10,-20 50,-66 70,-107 4,-10 43,-63 7,-17 13,-17 20,-36 160,-157 160,-137 117,-86 80,-54 26,-13 40,-27 24,-10 6,-6 87,-44 7,0 40,-20 43,-13 10,-7 30,-10 10,0 13,-6 10,0 14,-7 40,-7 3,-3 13,0 4,-3 16,0 4,-4z"/><path class=G d="M2842,6455l3,-3 93,0-70,103-13,13-33,50-80,104-17,16-10,17-100,117-92,95-131,35-107,33-120,43-93,40-111,54-106,60-120,78-97,71 0,-6 40,-53 94,-144 3,-10 20,-26 7,-17 13,-17 20,-36 117,-117 3,0 77,-73 153,-127 167,-117 26,-13 40,-27 24,-10 6,-6 87,-44 7,0 40,-20 43,-13 10,-7 30,-10 10,0 13,-6 10,0 14,-7 40,-7 3,-3 13,0 4,-3 16,0 4,-4zM1635,7382l0,0 1,0z"/><path class=H d="M2842,6455l3,-3 93,0-70,103-13,13-33,50-57,70-10,17-113,137-98,104-126,32-136,43-104,38-130,56-105,53-81,47-97,62-110,77 93,-139 4,-10 43,-63 7,-17 13,-17 20,-36 117,-117 3,0 77,-73 153,-127 167,-117 26,-13 40,-27 24,-10 6,-6 87,-44 7,0 40,-20 43,-13 10,-7 30,-10 10,0 13,-6 10,0 14,-7 40,-7 3,-3 13,0 4,-3 16,0 4,-4z"/><path class=I d="M2842,6455l3,-3 93,0-70,103-13,13-33,50-57,70-10,17-113,137-75,81-135,36-134,41-100,36-116,49-102,50-108,61-90,57-107,74 33,-55 64,-94 3,-10 20,-26 7,-17 13,-17 20,-36 117,-117 3,0 77,-73 23,-17 83,-73 87,-67 127,-87 26,-13 40,-27 24,-10 6,-6 87,-44 7,0 40,-20 43,-13 10,-7 30,-10 10,0 13,-6 10,0 14,-7 40,-7 3,-3 13,0 4,-3 16,0 4,-4z"/><path class=J d="M2842,6455l3,-3 93,0-70,103-13,13-33,50-57,70-10,17-113,137-58,60-139,36-110,34-137,49-106,45-170,87-104,62-123,84-3,-1 103,-156 7,-17 13,-17 20,-36 117,-117 3,0 77,-73 23,-17 83,-73 87,-67 127,-87 26,-13 40,-27 24,-10 6,-6 87,-44 7,0 40,-20 43,-13 10,-7 30,-10 10,0 13,-6 10,0 14,-7 40,-7 3,-3 13,0 4,-3 16,0 4,-4z"/><path class=K d="M2842,6455l3,-3 93,0-70,103-13,13-7,14-70,93-53,63-10,17-108,125-125,31-127,38-120,42-107,44-100,47-103,54-103,62-104,70-8,2 85,-128 7,-17 13,-17 20,-36 117,-117 3,0 77,-73 23,-17 83,-73 87,-67 127,-87 26,-13 40,-27 24,-10 6,-6 87,-44 7,0 40,-20 43,-13 10,-7 30,-10 10,0 13,-6 10,0 14,-7 40,-7 3,-3 13,0 4,-3 16,0 4,-4z"/><path class=L d="M2842,6455l3,-3 93,0-70,103-13,13-7,14-70,93-53,63-10,17-90,104-143,35-114,34-110,38-105,42-96,44-119,62-208,128 65,-100 7,-17 13,-17 20,-36 117,-117 3,0 77,-73 23,-17 23,-23 77,-64 117,-86 146,-94 117,-60 30,-10 17,-10 6,0 10,-6 27,-7 10,-7 30,-10 10,0 13,-6 10,0 40,-14 30,-3 4,-3 16,0 4,-4 20,0 3,-3z"/><path class=L d="M2842,6455l3,-3 93,0-53,80-30,36-43,64-14,13-56,77-17,16-10,17-71,81-96,23-126,35-142,48-85,32-140,63-106,55-81,47-120,75 27,-46 20,-26 23,-44 14,-16 3,-10 117,-117 3,0 77,-73 23,-17 83,-73 134,-100 146,-94 117,-60 30,-10 17,-10 6,0 10,-6 27,-7 10,-7 30,-10 10,0 13,-6 10,0 40,-14 30,-3 4,-3 16,0 4,-4 20,0 3,-3z"/><path class=L d="M2842,6455l3,-3 93,0-53,80-30,36-43,64-14,13-56,77-17,16-10,17-51,58-119,29-137,39-101,34-112,43-100,43-100,50-130,73-93,60-6,0 29,-42 7,-17 13,-17 20,-36 117,-117 3,0 77,-73 23,-17 83,-73 134,-100 146,-94 117,-60 30,-10 17,-10 6,0 10,-6 27,-7 10,-7 30,-10 10,0 13,-6 10,0 40,-14 30,-3 4,-3 16,0 4,-4 20,0 3,-3z"/><path class=L d="M2842,6455l3,-3 93,0-53,80-30,36-43,64-14,13-56,77-17,16-10,17-32,35-115,27-163,48-113,38-97,37-173,80-110,60-127,75 30,-47 3,-10 14,-16 3,-10 160,-157 3,0 80,-73 107,-87 167,-117 26,-13 40,-27 24,-10 6,-6 87,-44 7,0 56,-26 27,-7 10,-7 30,-10 10,0 13,-6 10,0 40,-14 30,-3 4,-3 16,0 4,-4 20,0 3,-3z"/><path class=L d="M2842,6455l3,-3 93,0-116,166-119,149-228,58-123,39-117,43-130,55-93,46-97,52-107,65-6,-1 30,-42 3,-10 117,-117 3,0 77,-73 153,-127 167,-117 26,-13 40,-27 24,-10 6,-6 87,-44 7,0 56,-26 27,-7 10,-7 30,-10 10,0 13,-6 10,0 40,-14 30,-3 4,-3 16,0 4,-4 20,0 3,-3z"/><path class=L d="M2842,6455l3,-3 93,0-116,166-98,125-136,32-133,37-140,46-93,36-104,44-96,47-202,111 12,-14 3,-10 117,-117 3,0 77,-73 153,-127 167,-117 26,-13 40,-27 24,-10 6,-6 87,-44 7,0 56,-26 27,-7 10,-7 30,-10 10,0 13,-6 10,0 40,-14 30,-3 4,-3 16,0 4,-4 20,0 3,-3z"/><path class=L d="M2842,6455l3,-3 93,0-70,103-13,13-33,50-80,102-217,53-130,39-130,46-193,83-118,61-106,61-4,0 108,-108 3,0 40,-40 3,0 80,-73 147,-117 127,-87 26,-13 40,-27 24,-10 6,-6 87,-44 7,0 56,-26 27,-7 10,-7 30,-10 10,0 13,-6 10,0 40,-14 30,-3 4,-3 16,0 4,-4 20,0 3,-3z"/><path class=L d="M2842,6455l3,-3 93,0-70,103-13,13-33,50-61,78-219,53-124,37-113,38-183,75-104,50-123,67-3,-1 140,-133 23,-17 23,-23 77,-64 117,-86 146,-94 117,-60 7,0 40,-20 43,-13 10,-7 30,-10 10,0 13,-6 10,0 14,-7 23,-3 3,-4 30,-3 4,-3 16,0 4,-4 20,0 3,-3z"/><path class=M d="M2842,6455l3,-3 93,0-70,103-13,13-33,50-44,55-233,55-190,59-170,65-132,60-108,56-6,0 93,-86 153,-127 87,-63 146,-94 117,-60 7,0 40,-20 43,-13 10,-7 30,-10 10,0 13,-6 10,0 14,-7 23,-3 3,-4 30,-3 4,-3 16,0 4,-4 20,0 3,-3z"/><path class=N d="M2842,6455l3,-3 93,0-70,103-13,13-7,14-50,65-233,56-183,55-114,40-90,37-86,38-94,47-8,0 148,-128 87,-67 127,-87 26,-13 40,-27 24,-10 6,-6 87,-44 7,0 40,-20 6,0 10,-6 27,-7 10,-7 30,-10 10,0 13,-6 10,0 40,-14 30,-3 4,-3 40,-4 3,-3z"/><path class=O d="M2842,6455l3,-3 93,0-53,80-68,91-182,41-210,59-193,69-187,83 7,-10 86,-73 87,-67 127,-87 26,-13 40,-27 24,-10 6,-6 87,-44 7,0 40,-20 6,0 10,-6 27,-7 10,-7 30,-10 10,0 13,-6 10,0 40,-14 30,-3 4,-3 40,-4 3,-3z"/><path class=P d="M2842,6455l3,-3 93,0-53,80-51,68-186,40-196,54-164,56-183,76-7,0 127,-101 127,-87 26,-13 40,-27 24,-10 6,-6 87,-44 7,0 40,-20 43,-13 10,-7 30,-10 10,0 13,-6 10,0 14,-7 40,-7 3,-3 13,0 4,-3 16,0 4,-4z"/><path class=Q d="M2842,6455l3,-3 93,0-53,80-33,42-190,42-174,46-144,46-179,70-7,1-3,-1 117,-86 80,-54 26,-13 40,-27 24,-10 6,-6 87,-44 7,0 40,-20 43,-13 10,-7 30,-10 10,0 13,-6 10,0 14,-7 40,-7 3,-3 13,0 4,-3 16,0 4,-4z"/><path class=R d="M2842,6455l3,-3 93,0-67,97-196,42-163,43-130,40-157,58-6,-1 133,-93 26,-13 40,-27 24,-10 6,-6 87,-44 7,0 40,-20 43,-13 10,-7 30,-10 10,0 13,-6 10,0 14,-7 40,-7 3,-3 13,0 4,-3 16,0 4,-4z"/><path class=S d="M2842,6455l3,-3 93,0-50,73-136,27-164,39-136,39-166,54 66,-46 26,-13 40,-27 117,-60 30,-10 17,-10 6,0 10,-6 27,-7 10,-7 30,-10 10,0 13,-6 10,0 40,-14 30,-3 4,-3 16,0 4,-4 20,0 3,-3z"/><path class=T d="M2842,6455l3,-3 93,0-30,47-253,53-163,43-117,37-10,3-5,0 58,-37 24,-10 6,-6 87,-44 7,0 56,-26 27,-7 10,-7 30,-10 10,0 13,-6 10,0 40,-14 30,-3 4,-3 16,0 4,-4 20,0 3,-3z"/><path class=U d="M2842,6455l3,-3 93,0-15,22-235,48-133,33-100,29-9,0 89,-46 7,0 40,-20 6,0 10,-6 27,-7 10,-7 30,-10 10,0 13,-6 10,0 40,-14 30,-3 4,-3 40,-4 3,-3z"/><path class=V d="M2842,6455l3,-3 80,0-127,23-213,50-20,4-7,0 7,-1 33,-16 27,-7 10,-7 30,-10 10,0 13,-6 10,0 14,-7 40,-7 3,-3 13,0 4,-3 16,0 4,-4z"/></g>
<path transform="scale(0.1)" class="ZS ZM" stroke-opacity="0.85" d="M487,7876l77,-71 76,-66 74,-62 73,-57 72,-52 70,-48 68,-44 77,-46 65,-35 73,-36 63,-28 69,-27 69,-23 66,-18 65,-14 63,-10M487,7876l47,31 37,22 39,19 38,16 39,13 39,9 39,7 40,3 40,0 41,-4 41,-7 42,-10 43,-15 43,-18 76,-41 45,-29 46,-33 82,-69 85,-83 88,-99 91,-114 82,-113 99,-148 89,-143M515,7895l77,-71 76,-67 74,-62 73,-57 71,-53 70,-49 69,-44 76,-46 66,-36 73,-36 62,-28 70,-27 68,-23 66,-19 65,-14 62,-10M520,7845l47,31 38,22 47,23 39,15 48,14 40,8 39,4 40,1 41,-2 41,-5 42,-9 42,-13 43,-16 43,-21 44,-24 45,-28M1222,7829l81,-63 71,-65 87,-90 76,-89 79,-102 83,-114 85,-128 89,-144M543,7913l77,-72 76,-67 74,-62 73,-58 71,-53 70,-49 69,-45 76,-46 65,-37 73,-36 63,-28 69,-28 68,-23 66,-19 65,-14 62,-11M553,7815l47,31 37,21 48,23 39,14 48,14 39,8 40,4 40,1 41,-2 41,-6 42,-9 42,-13 43,-17 43,-20 44,-24 45,-29M1255,7796l12,-9M1571,7487l80,-101 82,-115 85,-128 89,-143M571,7929l77,-73 76,-67 74,-63 73,-58 72,-54 69,-49 69,-45 76,-47 65,-36 73,-37 63,-28 69,-28 68,-24 66,-19 64,-14 63,-11M585,7786l47,31 38,21 48,22 38,14 49,14 39,7 40,4 40,1 41,-2 41,-6 42,-10 42,-13 43,-17 43,-20 45,-25 45,-28M1288,7763l12,-8M1605,7454l79,-101 83,-115 86,-128 89,-143M599,7943l143,-131 74,-64 73,-59 72,-55 70,-50 68,-46 67,-42 66,-38 73,-38 63,-30 70,-29 59,-22 67,-21 65,-17 63,-12M617,7758l47,30 38,21 38,18 39,15 39,12 39,8 39,6 40,2 41,-1 41,-5 41,-7 42,-12 43,-15 43,-19 44,-23 45,-26M1625,7438l93,-118 82,-114 86,-128 89,-142M627,7956l143,-132 137,-116 132,-100 69,-47 68,-44 66,-39 64,-35 64,-32 61,-27 61,-25 59,-20 57,-17 65,-16M649,7731l47,30 38,20 48,22 38,14 49,13 40,6 39,4 41,0 51,-4 41,-7 42,-11 42,-14 44,-18 43,-22 45,-26 45,-30M1671,7391l80,-102 83,-114 86,-128 89,-142M656,7967l132,-123 138,-118 132,-102 127,-86 123,-73 63,-33 62,-30 61,-26 60,-22 58,-19 57,-15M681,7704l47,30 38,20 38,18 38,14 39,11 40,8 39,6 40,1 41,-1 41,-5 41,-8 42,-12 43,-16 44,-19 77,-42M1665,7407l92,-112 95,-130 100,-147 90,-142M685,7976l132,-124 127,-110 123,-96 118,-83 124,-76 118,-62 113,-50 59,-21 58,-18M713,7679l46,29 38,20 38,17 39,14 39,11 39,8 40,5 40,2 40,-2 41,-5 42,-8 42,-12 43,-16 43,-19 44,-23 45,-27M1723,7347l93,-117 83,-113 86,-128 89,-142M714,7984l121,-115 128,-112 113,-90 119,-86 115,-73 110,-61 115,-54 51,-20 58,-21M744,7654l47,29 37,20 39,17 38,14 39,10 39,8 40,5 40,1 40,-2 42,-5 41,-8 42,-13 43,-15 44,-20 77,-43M1742,7335l92,-115 83,-111 100,-147 90,-142M743,7990l121,-116 118,-104 113,-91 110,-81 106,-70 111,-64 107,-53 103,-42M775,7630l37,23 38,21 38,17 38,14 39,12 39,8 40,5 40,3 40,-2 41,-4 42,-8 42,-11 42,-15 44,-19 77,-42M1735,7352l51,-59 53,-65 95,-126 100,-144 104,-164M773,7994l110,-107 107,-96 104,-86 111,-84 107,-73 103,-63 99,-52 105,-47M805,7607l38,23 37,20 38,17 39,14 39,12 39,8 39,5 40,2 41,-2 41,-4 41,-8 42,-12 43,-15 43,-19 78,-42M1728,7367l25,-27M1778,7312l92,-110 96,-126 99,-144 105,-163M802,7996l111,-107 107,-97 104,-86 101,-78 98,-68 103,-65 91,-50 97,-46M836,7585l37,22 38,20 67,28 38,12 39,8 70,8 40,0 30,-2 42,-5 31,-7 74,-23 76,-33M1771,7329l51,-57 52,-62 109,-140 113,-162 105,-162M832,7996l100,-97 97,-89 95,-80 101,-81 99,-71 95,-62 92,-54 90,-45M866,7563l37,22 38,20 67,28 68,18 69,9 40,0 30,-1 41,-5 31,-6 74,-21 65,-27M1448,7589l11,-6M1751,7357l13,-13M1789,7318l51,-55 52,-61 107,-137 113,-159 119,-183M862,7995l89,-87 98,-91 95,-82 92,-74 89,-66 87,-59 84,-52 91,-50M896,7542l37,22 38,20 66,27 68,18 69,8 41,1 30,-2 41,-5 31,-6 74,-21 65,-27M1478,7566l11,-6M1781,7334l13,-13M1819,7295l51,-55 52,-61 107,-136 113,-159 119,-183M893,7992l89,-88 87,-81 84,-75 93,-76 80,-61 88,-62 76,-48 82,-49M925,7522l37,22 38,19 67,27 68,18 69,8 71,-1 41,-6 31,-6 74,-21 75,-33M1798,7324l13,-13M1836,7286l63,-69 52,-60 108,-136 113,-158 119,-183M923,7986l79,-77 87,-83 74,-66 83,-70 81,-64 79,-57 77,-52 75,-46M954,7503l66,36 67,28 67,18 69,10 71,0 61,-8 73,-19 65,-25M1815,7314l63,-62 63,-70 66,-78 54,-68 69,-92 57,-81 73,-108 60,-94M954,7979l79,-78 76,-73 75,-67 73,-63 72,-57 69,-53 69,-49 76,-49M983,7484l66,36 67,28 67,18 59,8 70,1 62,-7 62,-14 64,-22M1881,7257l64,-67 51,-59 108,-133 69,-94 57,-81 119,-181M986,7970l144,-142 138,-123 132,-106 69,-50 68,-46M1012,7466l66,36 66,27 68,18 59,8 70,1 61,-7 63,-15 64,-22M1849,7297l61,-60 63,-66 65,-75 67,-82 69,-90 71,-99 73,-107 60,-94M1017,7958l134,-131 128,-116 123,-102 119,-87M2089,7262l23,-4M1041,7449l65,36 57,23 58,17 59,10 69,3 61,-4 62,-13 64,-19M1841,7311l12,-11M1877,7278l61,-59 64,-67 64,-74 67,-82 69,-90 71,-98 73,-108 60,-93M1049,7945l101,-101 109,-101 105,-91 101,-81M1485,7556l10,-7M2059,7261l23,-6M2113,7248l45,-7M1069,7433l56,30 57,25 57,17 59,12 59,4 61,-3 61,-10 63,-17M1881,7282l73,-69 63,-65 64,-72 67,-80 68,-88 70,-96 73,-106 75,-114M1082,7929l79,-79 87,-84 75,-68 84,-71M2004,7270l8,-3M2044,7257l8,-2M2068,7250l62,-15 61,-11M1097,7417l56,30 57,24 57,18 49,10 59,5 60,-2 62,-9 52,-13M1908,7265l12,-11M1945,7232l62,-61 63,-68 65,-75 54,-65 68,-90 71,-97 73,-107 60,-92M1115,7911l123,-122 129,-119M1388,7652l10,-9M1419,7625l10,-9M2020,7257l25,-8M2061,7243l79,-21 83,-16M1125,7402l56,30 47,20 57,19 49,10 59,6 50,0 61,-6 52,-11M1924,7259l73,-67 62,-63 77,-85 67,-80 68,-87 70,-96 73,-105 75,-113M1148,7891l145,-144M1315,7727l21,-20M2004,7255l66,-25 64,-19 62,-15 60,-10M1152,7388l56,30 47,20 58,18 48,10 59,6 50,0 51,-5 51,-10M1915,7273l36,-29M1975,7222l73,-70 64,-65 64,-74 67,-80 69,-89 70,-97 73,-106 60,-91M1181,7869l68,-69M1294,7756l11,-11M1978,7257l9,-4M2021,7239l66,-26 73,-22 62,-16 67,-11M1180,7374l56,30 47,20 47,15 48,11 49,6 50,2 50,-3 52,-8M1918,7277l71,-59 74,-68 75,-78 78,-88 81,-100 83,-111 87,-123 75,-113M1215,7844l34,-35M1272,7786l11,-11M1952,7261l9,-4M1978,7248l9,-4M2004,7236l85,-36 81,-27 78,-20 75,-13M1207,7361l46,25 47,21 47,16 49,12 48,7 50,2 50,-2 41,-6M1957,7254l71,-60 74,-70 75,-79 79,-90 81,-101 69,-93 87,-123 75,-112M1250,7817l23,-24M1924,7267l36,-19M1978,7238l95,-44 99,-38 95,-26 90,-16M1234,7349l46,25 47,20 47,16 38,10 49,8 39,3 50,-1 41,-4M1983,7241l71,-60 74,-70 75,-79 79,-89 81,-101 69,-92 87,-123 75,-111M1285,7787l34,-35M1887,7280l9,-5M1914,7263l10,-5M1942,7247l54,-29 61,-31 60,-26 58,-23 57,-18 55,-15 53,-12 52,-7M1260,7337l46,25 38,16 47,17 38,10 49,9 39,4 39,0 41,-2M1997,7237l71,-58 73,-68 75,-77 78,-87 81,-99 83,-109 86,-122 75,-111M1320,7755l34,-35M1808,7324l39,-27M1866,7284l75,-47 73,-42 70,-36 69,-30 66,-25 72,-22 69,-16 67,-10M1286,7326l47,25 37,16 38,14 38,10 38,8 39,5 39,2 40,0M1954,7275l11,-8M2011,7234l82,-67 73,-67 76,-77 77,-87 81,-98 83,-109 86,-121 75,-111M1356,7721l34,-36M1806,7317l9,-7M1845,7289l77,-52 83,-51 81,-44 78,-36 75,-30 80,-25 70,-16 74,-12M1312,7316l37,20 38,17 37,14 38,11 38,9 39,5 69,3M1968,7271l57,-39M2048,7214l71,-58 73,-67 75,-77 78,-86 80,-98 83,-108 86,-121 75,-110M1392,7683l35,-35M1823,7295l10,-8M1852,7273l88,-61 84,-53 81,-45 87,-41 75,-30 81,-26 77,-17 74,-11M1338,7306l37,20 37,17 66,22 67,15 69,5M1970,7275l23,-14M2015,7246l81,-60 84,-72 86,-85 77,-83 93,-110 82,-106 86,-118 89,-130M1429,7643l35,-36M1717,7370l21,-18M1800,7301l100,-76 96,-65 93,-56 97,-50 94,-40 89,-30 86,-20 81,-12M1364,7297l64,32 66,24 67,15 68,7M2018,7251l34,-23M2074,7212l82,-65 73,-65 75,-75 77,-84 79,-95 83,-106 85,-117 89,-130M1467,7600l35,-36M1680,7392l11,-10M1713,7363l115,-97 110,-83 115,-77 110,-63 105,-50 50,-20 57,-20 48,-14 54,-12 45,-8 52,-5M1389,7289l65,32 56,20 66,17 58,7M2031,7249l80,-55 82,-66 85,-78 88,-92 91,-105 96,-119 99,-135 89,-129M1505,7554l35,-36M1597,7461l11,-11M1631,7428l33,-31M1697,7366l22,-20M1740,7327l116,-98 121,-92 115,-76 110,-63 104,-49 51,-20 57,-19 47,-13 54,-12 45,-7 52,-6M1414,7281l55,28 56,21 57,16 58,9M2022,7260l33,-20M2078,7226l80,-58 83,-69 86,-82 76,-80 92,-107 81,-102 99,-135 89,-128M1544,7505l47,-47M1613,7435l12,-12M1648,7401l132,-123 64,-55 72,-59 61,-46 69,-50 67,-44 65,-39 63,-34 62,-30 59,-25 58,-21 57,-17 62,-15 53,-9 58,-5M1439,7274l55,27 47,18 56,17 48,8M2057,7246l45,-28 45,-31 82,-64 84,-76 88,-89 91,-102 94,-116 98,-132 103,-147M1584,7453l69,-70 79,-77 77,-70 75,-65 72,-59 71,-53 69,-48 76,-49 64,-37 72,-37 69,-31 67,-25 64,-20 63,-15 60,-9 58,-5M1464,7267l55,27 46,18 47,14 48,10M2048,7257l44,-25 45,-28 45,-33 47,-36 95,-83 87,-87 104,-114 94,-116 98,-131 103,-147M1624,7398l70,-71 79,-76 77,-70 75,-65 72,-58 71,-53 69,-48 76,-48 64,-37 72,-37 69,-30 66,-25 65,-19 62,-14 60,-9 58,-4M1488,7261l46,23 46,19 47,14 38,9M2071,7251l44,-25 45,-29 46,-32 46,-36 96,-83 86,-86 104,-114 94,-115 98,-130 102,-147M1665,7339l70,-70 79,-76 77,-71 75,-64 73,-58 71,-53 68,-47 76,-48 65,-36 71,-36 69,-30 67,-24 64,-18 62,-13 60,-9 58,-3M1512,7255l46,23 37,16 37,12 37,10M2084,7250l43,-24 45,-27 45,-31 46,-35 95,-81 99,-97 103,-113 94,-115 98,-129 102,-146M1707,7277l70,-70 79,-76 78,-70 75,-64 72,-58 71,-52 69,-47 76,-47 64,-36 72,-35 68,-29 67,-24 64,-17 62,-13 60,-7 57,-3M1536,7250l36,19 37,16 65,21M2096,7251l43,-24 45,-26 45,-30 46,-34 94,-79 98,-94 102,-111 94,-112 111,-145 102,-145M1750,7212l70,-70 79,-76 78,-70 75,-64 73,-57 70,-52 69,-47 76,-46 64,-35 72,-35 68,-28 67,-23 64,-17 61,-11 60,-7 57,-1M1560,7246l64,30 55,20M2086,7261l54,-26 44,-25 45,-28 45,-32 58,-45 47,-40 98,-92 102,-108 106,-126 111,-145 101,-144M1793,7143l70,-71 80,-75 78,-70 75,-63 73,-57 71,-51 68,-46 76,-46 64,-35 72,-33 60,-25 66,-22 64,-17 62,-11 60,-6 64,-2M1583,7242l55,27 55,20M2098,7261l54,-25 44,-24 44,-27 45,-31 58,-43 47,-39 97,-89 100,-106 106,-123 110,-142 116,-162M1838,7070l70,-70 80,-76 77,-69 76,-63 73,-56 71,-51 68,-45 76,-46 64,-34 71,-32 60,-24 67,-21 64,-16 61,-11 59,-5 65,0M1607,7239l45,22 46,18M2079,7274l10,-4M2110,7262l53,-24 44,-23 55,-33 45,-31 58,-43 47,-39 96,-89 101,-105 105,-122 110,-141 116,-161"/>
<g shape-rendering="crispEdges">
<rect x="303.1" y="633.40" width="12.2" height="3.1" fill="#000"/>
<rect x="303.1" y="636.20" width="12.2" height="162.55" fill="#5f2775"/>
<rect x="303.1" y="639.12" width="12.2" height="159.63" fill="#691b85"/>
<rect x="303.1" y="642.04" width="12.2" height="156.71" fill="#6b238a"/>
<rect x="303.1" y="644.97" width="12.2" height="153.78" fill="#692d8f"/>
<rect x="303.1" y="647.89" width="12.2" height="150.86" fill="#613a97"/>
<rect x="303.1" y="650.81" width="12.2" height="147.94" fill="#53419c"/>
<rect x="303.1" y="653.73" width="12.2" height="145.02" fill="#4345a0"/>
<rect x="303.1" y="656.65" width="12.2" height="142.10" fill="#3048a0"/>
<rect x="303.1" y="659.57" width="12.2" height="139.18" fill="#2449a0"/>
<rect x="303.1" y="662.50" width="12.2" height="136.25" fill="#204a9f"/>
<rect x="303.1" y="665.42" width="12.2" height="133.33" fill="#2055a5"/>
<rect x="303.1" y="668.34" width="12.2" height="130.41" fill="#2468b2"/>
<rect x="303.1" y="671.26" width="12.2" height="127.49" fill="#2b87c9"/>
<rect x="303.1" y="674.18" width="12.2" height="124.57" fill="#2eb2e6"/>
<rect x="303.1" y="677.10" width="12.2" height="121.65" fill="#51beda"/>
<rect x="303.1" y="680.03" width="12.2" height="118.72" fill="#60beb1"/>
<rect x="303.1" y="682.95" width="12.2" height="115.80" fill="#65b977"/>
<rect x="303.1" y="685.87" width="12.2" height="112.88" fill="#68b548"/>
<rect x="303.1" y="688.79" width="12.2" height="109.96" fill="#6eb632"/>
<rect x="303.1" y="691.71" width="12.2" height="107.04" fill="#75b82d"/>
<rect x="303.1" y="694.63" width="12.2" height="104.12" fill="#7dba28"/>
<rect x="303.1" y="697.56" width="12.2" height="101.19" fill="#8abe26"/>
<rect x="303.1" y="700.48" width="12.2" height="98.27" fill="#99c324"/>
<rect x="303.1" y="703.40" width="12.2" height="95.35" fill="#a7c822"/>
<rect x="303.1" y="706.32" width="12.2" height="92.43" fill="#bacf24"/>
<rect x="303.1" y="709.24" width="12.2" height="89.51" fill="#ccd726"/>
<rect x="303.1" y="712.17" width="12.2" height="86.58" fill="#dbde28"/>
<rect x="303.1" y="715.09" width="12.2" height="83.66" fill="#e9e62a"/>
<rect x="303.1" y="718.01" width="12.2" height="80.74" fill="#f1e029"/>
<rect x="303.1" y="720.93" width="12.2" height="77.82" fill="#f3d026"/>
<rect x="303.1" y="723.85" width="12.2" height="74.90" fill="#f5be23"/>
<rect x="303.1" y="726.77" width="12.2" height="71.98" fill="#f4a820"/>
<rect x="303.1" y="729.70" width="12.2" height="69.05" fill="#f2911d"/>
<rect x="303.1" y="732.62" width="12.2" height="66.13" fill="#ef771c"/>
<rect x="303.1" y="735.54" width="12.2" height="63.21" fill="#ec5c1b"/>
<rect x="303.1" y="738.46" width="12.2" height="60.29" fill="#e8411a"/>
<rect x="303.1" y="741.38" width="12.2" height="57.37" fill="#e61b1c"/>
<rect x="303.1" y="744.30" width="12.2" height="54.45" fill="#e6141c"/>
<rect x="303.1" y="747.23" width="12.2" height="51.52" fill="#e6141c"/>
<rect x="303.1" y="750.15" width="12.2" height="48.60" fill="#e6141c"/>
<rect x="303.1" y="753.07" width="12.2" height="45.68" fill="#e6141c"/>
<rect x="303.1" y="755.99" width="12.2" height="42.76" fill="#e6141c"/>
<rect x="303.1" y="758.91" width="12.2" height="39.84" fill="#e6141c"/>
<rect x="303.1" y="761.83" width="12.2" height="36.92" fill="#e6141c"/>
<rect x="303.1" y="764.76" width="12.2" height="33.99" fill="#e6141c"/>
<rect x="303.1" y="767.68" width="12.2" height="31.07" fill="#dc151d"/>
<rect x="303.1" y="770.60" width="12.2" height="28.15" fill="#cc171e"/>
<rect x="303.1" y="773.52" width="12.2" height="25.23" fill="#bc191f"/>
<rect x="303.1" y="776.44" width="12.2" height="22.31" fill="#ae1a20"/>
<rect x="303.1" y="779.36" width="12.2" height="19.39" fill="#a2191f"/>
<rect x="303.1" y="782.29" width="12.2" height="16.46" fill="#97171d"/>
<rect x="303.1" y="785.21" width="12.2" height="13.54" fill="#8c161c"/>
<rect x="303.1" y="788.13" width="12.2" height="10.62" fill="#80141a"/>
<rect x="303.1" y="791.05" width="12.2" height="7.70" fill="#751217"/>
<rect x="303.1" y="793.97" width="12.2" height="4.78" fill="#691015"/>
<rect x="303.1" y="796.90" width="12.2" height="1.85" fill="#5e0d12"/>
</g>
<text x="317.8" y="639.4" font-size="5.9" font-family="'Liberation Serif',serif">1.800</text>
<text x="317.8" y="674.5" font-size="5.9" font-family="'Liberation Serif',serif">20.18</text>
<text x="317.8" y="709.5" font-size="5.9" font-family="'Liberation Serif',serif">38.55</text>
<text x="317.8" y="744.6" font-size="5.9" font-family="'Liberation Serif',serif">56.93</text>
<text x="317.8" y="779.6" font-size="5.9" font-family="'Liberation Serif',serif">75.31</text>
<text x="317.8" y="801.9" font-size="5.9" font-family="'Liberation Serif',serif">87.00</text>
<text x="1.5" y="602.9" font-size="16" font-family="'Liberation Serif',serif">E</text>
<text transform="translate(155.8,602) scale(1.07,1)" font-size="10.6" text-anchor="middle" font-family="'Liberation Serif',serif">z=87.93x<tspan font-size="6.4" dy="-4.2">2</tspan><tspan dy="4.2">-0.0015y²-111.68x+0.45y+21.54</tspan></text>
<text transform="translate(155.8,613.3) scale(1.07,1)" font-size="10.6" text-anchor="middle" font-family="'Liberation Serif',serif">R²=0.5021</text>
<text transform="translate(21.35,723.2) rotate(-92.85)" font-size="16.1" text-anchor="middle" font-family="'Liberation Serif',serif">Percentage of F waveform</text>
<text transform="translate(41.9,800.6) scale(0.84,1)" font-size="10.4" text-anchor="end" font-family="'Liberation Serif',serif">0</text>
<text transform="translate(40.8,784.1) scale(0.84,1)" font-size="10.4" text-anchor="end" font-family="'Liberation Serif',serif">10</text>
<text transform="translate(39.7,767.3) scale(0.84,1)" font-size="10.4" text-anchor="end" font-family="'Liberation Serif',serif">20</text>
<text transform="translate(38.5,750.3) scale(0.84,1)" font-size="10.4" text-anchor="end" font-family="'Liberation Serif',serif">30</text>
<text transform="translate(37.4,733) scale(0.84,1)" font-size="10.4" text-anchor="end" font-family="'Liberation Serif',serif">40</text>
<text transform="translate(36.2,715.3) scale(0.84,1)" font-size="10.4" text-anchor="end" font-family="'Liberation Serif',serif">50</text>
<text transform="translate(35,697.4) scale(0.84,1)" font-size="10.4" text-anchor="end" font-family="'Liberation Serif',serif">60</text>
<text transform="translate(33.8,679.2) scale(0.84,1)" font-size="10.4" text-anchor="end" font-family="'Liberation Serif',serif">70</text>
<text transform="translate(32.6,660.6) scale(0.84,1)" font-size="10.4" text-anchor="end" font-family="'Liberation Serif',serif">80</text>
<text transform="translate(31.4,641.7) scale(0.84,1)" font-size="10.4" text-anchor="end" font-family="'Liberation Serif',serif">90</text>
<text transform="matrix(0.7656,-0.3032,0.5824,0.2554,39.5,814.9)" font-size="10" text-anchor="middle" font-family="'Liberation Serif',serif"><tspan dy="3.3">0.5</tspan></text>
<text transform="matrix(0.7667,-0.3217,0.6175,0.2709,56.6,822)" font-size="10" text-anchor="middle" font-family="'Liberation Serif',serif"><tspan dy="3.3">0.6</tspan></text>
<text transform="matrix(0.7666,-0.3419,0.6559,0.2877,74.8,829.6)" font-size="10" text-anchor="middle" font-family="'Liberation Serif',serif"><tspan dy="3.3">0.7</tspan></text>
<text transform="matrix(0.7648,-0.3641,0.6981,0.3062,94,837.7)" font-size="10" text-anchor="middle" font-family="'Liberation Serif',serif"><tspan dy="3.3">0.8</tspan></text>
<text transform="matrix(0.7613,-0.3885,0.7444,0.3265,114.5,846.2)" font-size="10" text-anchor="middle" font-family="'Liberation Serif',serif"><tspan dy="3.3">0.9</tspan></text>
<text transform="matrix(0.7555,-0.4154,0.7954,0.3489,136.3,855.4)" font-size="10" text-anchor="middle" font-family="'Liberation Serif',serif"><tspan dy="3.3">1.0</tspan></text>
<text transform="matrix(0.7470,-0.4452,0.8520,0.3737,159.6,865.1)" font-size="10" text-anchor="middle" font-family="'Liberation Serif',serif"><tspan dy="3.3">1.1</tspan></text>
<text transform="matrix(0.8171,0.3856,-0.9891,0.4585,83.9,843.7)" font-size="10" text-anchor="middle" font-family="'Liberation Serif',serif"><tspan dy="3.3">Trehalose content</tspan></text>
<text transform="matrix(0.9158,0.3837,-0.6929,0.4570,194.1,869.3)" font-size="10" text-anchor="middle" font-family="'Liberation Serif',serif"><tspan dy="3.3">40</tspan></text>
<text transform="matrix(0.9018,0.3551,-0.6409,0.4227,212,858.2)" font-size="10" text-anchor="middle" font-family="'Liberation Serif',serif"><tspan dy="3.3">60</tspan></text>
<text transform="matrix(0.8873,0.3296,-0.5945,0.3921,228.6,847.8)" font-size="10" text-anchor="middle" font-family="'Liberation Serif',serif"><tspan dy="3.3">80</tspan></text>
<text transform="matrix(0.8725,0.3068,-0.5529,0.3647,244,838.3)" font-size="10" text-anchor="middle" font-family="'Liberation Serif',serif"><tspan dy="3.3">100</tspan></text>
<text transform="matrix(0.8577,0.2863,-0.5156,0.3400,258.4,829.3)" font-size="10" text-anchor="middle" font-family="'Liberation Serif',serif"><tspan dy="3.3">120</tspan></text>
<text transform="matrix(0.8429,0.2677,-0.4819,0.3178,271.8,820.9)" font-size="10" text-anchor="middle" font-family="'Liberation Serif',serif"><tspan dy="3.3">140</tspan></text>
<text transform="matrix(0.8281,0.2510,-0.4515,0.2977,284.4,813.1)" font-size="10" text-anchor="middle" font-family="'Liberation Serif',serif"><tspan dy="3.3">160</tspan></text>
<text transform="matrix(0.8136,0.2358,-0.4238,0.2795,296.2,805.7)" font-size="10" text-anchor="middle" font-family="'Liberation Serif',serif"><tspan dy="3.3">180</tspan></text>
<text transform="matrix(0.5845,-0.4323,1.1003,0.3635,270.7,837.1)" font-size="10" text-anchor="middle" font-family="'Liberation Serif',serif"><tspan dy="3.3">Glucose content</tspan></text>
</g>
<g id="pF">
<path d="M411.6,802.6 L403.5,634.1 M429.7,795.4 L423.3,631.8 M446.7,788.7 L441.9,629.6 M462.8,782.3 L459.4,627.6 M478,776.3 L475.8,625.7 M492.3,770.6 L491.3,623.9 M506,765.2 L505.9,622.2 M522.9,770.1 L524,623.8 M540.6,775.3 L543.1,625.6 M559.3,780.7 L563.3,627.4 M578.8,786.3 L584.5,629.3 M599.4,792.3 L606.9,631.3 M621.1,798.6 L630.7,633.4" stroke="#b4b4b4" stroke-width="0.7" fill="none"/>
<path d="M391.9,801.6 L505.9,758.1 L632.9,793.6 M390.8,782.4 L505.9,742.1 L634.1,775 M389.7,762.8 L505.9,725.8 L635.3,756.1 M388.5,742.8 L505.9,709.2 L636.6,736.8 M387.3,722.4 L505.9,692.4 L637.8,717.2 M386.1,701.6 L505.9,675.3 L639.1,697.1 M384.9,680.3 L505.9,657.9 L640.4,676.7 M383.6,658.6 L505.9,640.2 L641.7,655.8" stroke="#e4e4e4" stroke-width="0.6" stroke-dasharray="2,2" fill="none"/>
<path d="M392.4,810.2 L382.3,636.5 L505.9,622.2 L643.1,634.6 L632.4,801.9" stroke="#999" stroke-width="0.7" fill="none"/>
<path d="M392.4,810.2 L527.9,866.9 L632.4,801.9 L506,765.2 Z" fill="#5f2775"/>
<g transform="scale(0.1)" fill-rule="evenodd"><path d="M3928,8103l1351,566 1045,-650-1264,-367-1118,443z" fill="#691b85"/><path d="M3940,8108l1339,561 1045,-650-1264,-367-1057,419z" fill="#6b238a"/><path d="M4063,8047l-110,67 1326,555 1045,-650-1264,-367z" fill="#692d8f"/><path d="M3966,8119l1313,550 1045,-650-1264,-367-936,371z" fill="#613a97"/><path d="M3978,8124l1301,545 1045,-650-1264,-367-875,346z" fill="#53419c"/><path d="M4247,7974l-255,156 1287,539 1045,-650-1264,-367z" fill="#4345a0"/><path d="M4005,8136l1274,533 1045,-650-1264,-367-751,298-146,87z" fill="#3048a0"/><path d="M4193,8031l-175,110 1261,528 1045,-650-1264,-367-689,273z" fill="#2449a0"/><path d="M4032,8147l1247,522 1045,-650-1264,-367-627,248-210,126z" fill="#204a9f"/><path d="M4046,8153l1233,516 1045,-650-1264,-367-564,223-227,135z" fill="#2055a5"/><path d="M4061,8159l1218,510 1045,-650-1264,-367-500,198-256,152z" fill="#2468b2"/><path d="M4075,8165l1204,504 1045,-650-1264,-367-436,173-152,88-136,82-137,88z" fill="#2b87c9"/><path d="M4090,8171l1189,498 1045,-650-1264,-367-371,147-154,89-153,92-154,98z" fill="#2eb2e6"/><path d="M4257,8074l-152,104 1174,491 1045,-650-1264,-367-304,121-168,95-168,101z" fill="#51beda"/><path d="M4121,8184l1158,485 1045,-650-1264,-367-237,94-98,54-162,95-148,91-159,104z" fill="#60beb1"/><path d="M4278,8091l-142,100 1143,478 1045,-650-1264,-367-168,66-202,114-144,86-135,85z" fill="#65b977"/><path d="M4152,8197l1127,472 1045,-650-1264,-367-97,38-163,90-158,92-135,84-125,81-121,82z" fill="#68b548"/><path d="M4169,8204l1110,465 1045,-650-1264,-367-24,9-175,96-133,77-126,76-223,144-111,78z" fill="#6eb632"/><path d="M4388,8064l-202,147 1093,458 1045,-650-1256,-364-236,129-230,139z" fill="#75b82d"/><path d="M4203,8219l1076,450 1045,-650-1244,-361-241,134-230,140-213,144z" fill="#7dba28"/><path d="M4221,8226l1058,443 1045,-650-1232,-357-240,135-226,139-207,141-107,78z" fill="#8abe26"/><path d="M4239,8234l1040,435 1045,-650-1220,-354-243,139-223,139-103,70-109,77-99,74z" fill="#99c324"/><path d="M4359,8160l-101,82 1021,427 1045,-650-1207,-350-231,132-118,73-110,71-108,73-98,71z" fill="#a7c822"/><path d="M4372,8171l-94,79 1001,419 1045,-650-1194,-346-123,69-121,72-111,69-106,70-102,71-98,71z" fill="#bacf24"/><path d="M4387,8182l-89,76 981,411 1045,-650-1181,-343-116,67-120,71-117,74-106,71-101,71-102,77z" fill="#ccd726"/><path d="M4403,8192l-84,75 960,402 1045,-650-1168,-339-122,71-118,71-111,71-105,72-108,77-94,73z" fill="#dbde28"/><path d="M4422,8201l-82,75 939,393 1045,-650-1155,-335-121,71-119,73-108,70-111,77-107,79-94,74z" fill="#e9e62a"/><path d="M4443,8210l-80,75 916,384 1045,-650-1141,-331-121,71-113,71-119,78-104,73-105,79-93,75z" fill="#f1e029"/><path d="M4386,8295l893,374 1045,-650-1127,-327-127,76-118,75-119,80-103,74-100,77-87,73-80,72z" fill="#f3d026"/><path d="M4411,8306l849,356 46,-10 1018,-633-1113,-323-126,76-123,79-113,78-101,75-101,80-83,71-78,73z" fill="#f5be23"/><path d="M4516,8231l-79,86 789,330 131,-27 967,-601-1098,-319-119,73-116,75-112,78-106,79-102,82-85,75z" fill="#f4a820"/><path d="M4465,8328l724,303 219,-42 916,-570-1084,-314-118,72-123,82-109,77-112,86-92,78-87,80-69,72z" fill="#f2911d"/><path d="M4495,8341l654,274 80,-13 229,-45 866,-538-1069,-310-128,80-119,81-112,82-105,83-85,74-85,82-73,80z" fill="#ef771c"/><path d="M4583,8274l-56,80 578,243 115,-17 125,-22 163,-32 816,-507-1054,-306-134,86-117,81-111,83-99,82-87,78-75,76z" fill="#ec5c1b"/><path d="M4563,8369l494,207 98,-11 118,-17 220,-40 65,-13 766,-476-1038,-301-134,87-120,84-117,91-95,81-93,90-71,79-55,74z" fill="#e8411a"/><path d="M4621,8344l-16,43 395,166 127,-10 141,-18 150,-24 190,-37 716,-445-1022,-296-133,87-122,88-114,90-95,86-81,81-67,79-50,76z" fill="#e61b1c"/><path d="M4662,8365l-7,43 273,114 80,0 72,-3 157,-15 203,-30 218,-41 666,-414-1006,-292-131,88-127,94-116,96-95,90-81,88-56,77-24,42-15,31z" fill="#e6141c"/><path d="M4727,8428l15,17 45,18 62,15 89,10 128,2 121,-7 161,-18 174,-27 185,-36 617,-383-989,-287-148,102-126,97-117,102-93,96-37,45-32,43-26,42-21,40-13,36-6,35 1,31z" fill="#e6141c"/><path d="M4790,8401l11,11 21,12 40,12 46,10 89,10 126,2 120,-7 159,-18 172,-27 183,-34 567,-353-972,-282-140,98-129,102-105,94-83,89-32,40-30,42-25,41-18,40-11,34-4,33 4,30z" fill="#e6141c"/><path d="M4856,8377l14,11 24,9 42,11 48,9 91,8 128,0 121,-9 160,-19 142,-22 181,-34 517,-322-954,-277-133,95-121,97-97,90-45,47-39,45-32,43-27,41-20,39-14,37-6,33 0,21 7,28z" fill="#e6141c"/><path d="M4910,8339l10,12 21,10 40,12 45,10 88,9 124,1 117,-6 155,-18 168,-26 178,-33 468,-291-936,-271-125,91-108,88-89,84-72,80-30,39-27,41-18,34-13,29-9,34-2,22 4,29z" fill="#e6141c"/><path d="M4979,8319l10,6 38,13 43,10 49,7 92,7 106,-1 119,-9 155,-18 139,-22 176,-33 418,-260-917,-266-118,87-100,84-91,89-63,73-29,42-20,33-15,31-11,35-5,32 2,20 10,26z" fill="#e6141c"/><path d="M5035,8285l14,9 24,9 41,10 47,8 89,8 124,-1 117,-8 154,-18 138,-22 173,-32 368,-229-898,-260-104,79-95,81-80,79-60,73-43,66-15,32-9,28-5,32 2,20 5,17z" fill="#e6141c"/><path d="M5095,8253l14,10 24,9 41,10 46,8 88,7 102,0 113,-7 124,-13 133,-19 168,-30 57,-11 319,-198-878,-255-94,74-88,77-67,68-58,72-22,32-18,33-12,28-9,30-2,21 1,19 5,17z" fill="#e6141c"/><path d="M5156,8223l13,9 24,8 70,15 85,9 98,1 87,-4 119,-10 128,-17 135,-22 141,-26 268,-167-857,-249-87,71-73,65-66,69-50,63-19,30-17,32-16,47-3,21 2,23 9,21z" fill="#dc151d"/><path d="M5223,8197l17,8 26,7 57,11 66,8 95,2 84,-3 92,-7 97,-11 129,-18 220,-40 218,-135-835,-242-79,65-69,65-61,67-43,60-19,34-12,27-6,22-3,20 1,19 5,18 10,15z" fill="#cc171e"/><path d="M5274,8158l15,11 65,17 61,9 70,5 78,0 85,-4 92,-8 98,-11 155,-24 164,-30 167,-104-812,-236-70,60-54,53-48,53-40,54-27,49-13,44-2,20 3,18 7,16z" fill="#bc191f"/><path d="M5349,8136l38,12 42,9 46,6 69,4 57,1 83,-3 160,-15 176,-25 188,-34 116,-72-789,-229-58,53-59,60-45,56-27,43-19,42-5,21-2,20 2,18 7,16 12,13z" fill="#ae1a20"/><path d="M5407,8103l29,10 39,9 94,11 112,1 127,-7 93,-10 123,-17 236,-41 64,-40-763,-222-57,54-44,48-35,47-25,44-15,39-2,33 8,25z" fill="#a2191f"/><path d="M5458,8060l16,13 24,7 39,9 44,6 84,6 116,-2 131,-10 143,-18 231,-40 26,-5 12,-7-736,-214-36,36-36,40-30,40-22,37-13,33-5,30 2,22z" fill="#97171d"/><path d="M5526,8033l11,7 23,7 68,13 81,7 92,0 103,-6 112,-11 120,-17 151,-25-670,-194-31,33-32,41-22,33-12,27-8,26-2,24 3,17z" fill="#8c161c"/><path d="M5587,7997l14,10 11,3 65,14 61,7 87,2 77,-2 106,-8 114,-14 112,-16-586,-170-43,56-23,46-6,21-1,19 3,16z" fill="#80141a"/><path d="M5654,7965l12,8 11,3 51,12 58,7 66,3 73,0 80,-5 169,-18-490,-142-28,45-13,34-1,28 5,15z" fill="#751217"/><path d="M5730,7937l25,8 39,8 89,9 107,0 112,-8-377,-109-13,32-3,28 4,15 5,8z" fill="#691015"/><path d="M5800,7902l35,10 54,8 61,5 54,1-225,-65 3,24 10,13z" fill="#5e0d12"/></g>
<path d="M392.4,810.2 L387.3,812.2 M401.1,813.8 L398,815 M409.9,817.5 L404.9,819.6 M419.1,821.3 L416.1,822.7 M428.5,825.3 L423.5,827.5 M438.2,829.4 L435.2,830.7 M448.2,833.5 L443.2,835.9 M458.5,837.9 L455.5,839.3 M469.1,842.3 L464.2,844.8 M480.1,846.9 L477.2,848.5 M491.5,851.7 L486.6,854.3 M503.2,856.6 L500.3,858.2 M515.3,861.7 L510.6,864.5 M527.9,866.9 L525,868.7 M527.9,866.9 L532.9,869 M537.2,861.1 L540.2,862.4 M546.1,855.5 L551.3,857.6 M554.8,850.2 L557.9,851.3 M563.1,845 L568.3,846.9 M571.2,840 L574.3,841.1 M578.9,835.2 L584.1,837 M586.4,830.5 L589.5,831.6 M593.6,826 L598.9,827.7 M600.6,821.6 L603.8,822.7 M607.4,817.4 L612.7,819.1 M614,813.4 L617.1,814.3 M620.3,809.4 L625.6,811 M626.5,805.6 L629.6,806.5 M632.4,801.9 L637.7,803.4 M391.9,801.6 L386,803.9 M391.4,792.1 L388.4,793.2 M390.8,782.4 L384.8,784.5 M390.2,772.7 L387.2,773.7 M389.7,762.8 L383.6,764.7 M389.1,752.8 L386,753.8 M388.5,742.8 L382.4,744.6 M387.9,732.6 L384.8,733.5 M387.3,722.4 L381.1,724 M386.7,712 L383.6,712.8 M386.1,701.6 L379.9,702.9 M385.5,691 L382.4,691.6 M384.9,680.3 L378.6,681.5 M384.2,669.5 L381.1,670.1 M383.6,658.6 L377.3,659.6 M383,647.6 L379.8,648.1 M382.3,636.5 L376,637.2" stroke="#333" stroke-width="1.15" fill="none"/>
<path d="M392.4,810.2 L382.3,636.5" stroke="#333" stroke-width="1.15" fill="none"/>
<g transform="scale(0.1)" fill-rule="evenodd"><path class=a d="M5865,6388l3,-3 57,0 3,3 24,0 3,4 60,10 3,3 14,0 13,7 10,0 70,23 50,23 7,0 86,44 7,6 67,37 73,50 0,3-150,117-100,87-23,16-134,117-153,143-3,0-4,7-3,0-140,137-3,0-7,10-7,3-216,217 0,3-10,7-4,6-6,4 0,3-84,83 0,4-13,10 0,3-63,67-7,-4-47,-63-23,-23-17,-24-116,-120-4,0-56,-53-44,-30-13,-13-30,-20-13,0-240,160-260,190-14,13-73,53-30,27-30,20-17,17-16,10-100,80-220,183 53,-110 23,-37 30,-60 120,-193 10,-10 14,-23 56,-77 17,-17 10,-16 37,-44 33,-33 0,-3 87,-84 166,-133 30,-20 14,-13 193,-147 13,-7 37,-30 13,-6 24,-20 36,-24 80,-60 257,-173 10,-3 73,-50 10,-4 17,-13 27,-13 16,-14 110,-63 7,-7 40,-20 53,-33 24,-10 6,-7 24,-10 6,-6 97,-47 53,-17z"/><path class=b d="M5865,6388l3,-3 57,0 3,3 24,0 3,4 60,10 3,3 14,0 13,7 10,0 70,23 50,23 7,0 86,44 7,6 67,37 73,50 0,3-150,117-100,87-23,16-134,117-153,143-3,0-4,7-3,0-140,137-3,0-7,10-7,3-216,217 0,3-10,7-4,6-6,4 0,3-84,83 0,4-13,10 0,3-63,67-7,-4-47,-63-23,-23-17,-24-116,-120-4,0-56,-53-44,-30-13,-13-30,-20-13,0-197,130-10,10-33,20-117,86-13,7-50,40-14,7-13,13-27,17-83,66-30,20-30,27-30,20-17,17-16,10-190,153-116,99-12,6 51,-105 23,-37 30,-60 120,-193 10,-10 14,-23 56,-77 17,-17 10,-16 37,-44 33,-33 0,-3 87,-84 166,-133 30,-20 14,-13 193,-147 13,-7 37,-30 13,-6 24,-20 36,-24 80,-60 257,-173 10,-3 73,-50 10,-4 17,-13 27,-13 16,-14 110,-63 7,-7 40,-20 53,-33 24,-10 6,-7 24,-10 6,-6 97,-47 53,-17z"/><path class=c d="M5865,6388l3,-3 57,0 3,3 24,0 3,4 60,10 3,3 14,0 13,7 10,0 70,23 50,23 7,0 86,44 7,6 67,37 73,50 0,3-150,117-100,87-23,16-134,117-153,143-3,0-4,7-3,0-140,137-3,0-7,10-7,3-216,217 0,3-10,7-4,6-6,4 0,3-84,83 0,4-13,10 0,3-63,67-7,-4-47,-63-23,-23-17,-24-116,-120-4,0-56,-53-44,-30-13,-13-30,-20-13,0-144,93-10,10-43,27-10,10-33,20-117,86-13,7-217,163-30,27-30,20-17,17-16,10-190,153-56,49-61,34 40,-83 7,-7 60,-113 6,-7 34,-60 20,-26 3,-10 13,-17 4,-10 50,-73 56,-77 17,-17 10,-16 37,-44 33,-33 0,-3 87,-84 166,-133 30,-20 14,-13 193,-147 13,-7 37,-30 13,-6 24,-20 36,-24 80,-60 257,-173 10,-3 73,-50 10,-4 17,-13 27,-13 16,-14 110,-63 7,-7 40,-20 53,-33 24,-10 6,-7 24,-10 6,-6 97,-47 53,-17z"/><path class=d d="M5865,6388l3,-3 57,0 3,3 24,0 3,4 60,10 3,3 14,0 13,7 10,0 70,23 50,23 7,0 86,44 7,6 67,37 73,50 0,3-150,117-100,87-23,16-134,117-153,143-3,0-4,7-3,0-140,137-3,0-7,10-7,3-216,217 0,3-10,7-4,6-6,4 0,3-84,83 0,4-13,10 0,3-63,67-7,-4-47,-63-23,-23-17,-24-116,-120-4,0-56,-53-44,-30-13,-13-30,-20-13,0-197,130-10,10-33,20-117,86-13,7-50,40-14,7-13,13-27,17-83,66-30,20-30,27-30,20-17,17-16,10-100,80-85,71-112,63 30,-61 7,-7 60,-113 6,-7 34,-60 20,-26 3,-10 13,-17 4,-10 50,-73 56,-77 17,-17 10,-16 37,-44 33,-33 0,-3 87,-84 166,-133 30,-20 14,-13 193,-147 13,-7 37,-30 13,-6 24,-20 36,-24 80,-60 257,-173 10,-3 73,-50 10,-4 17,-13 27,-13 16,-14 110,-63 7,-7 40,-20 53,-33 24,-10 6,-7 24,-10 6,-6 97,-47 53,-17z"/><path class=e d="M5865,6388l3,-3 57,0 3,3 24,0 3,4 60,10 3,3 14,0 13,7 10,0 70,23 50,23 7,0 86,44 7,6 67,37 73,50 0,3-150,117-100,87-23,16-134,117-153,143-3,0-4,7-3,0-140,137-3,0-7,10-7,3-216,217 0,3-10,7-4,6-6,4 0,3-84,83 0,4-13,10 0,3-63,67-7,-4-47,-63-23,-23-17,-24-116,-120-4,0-56,-53-44,-30-13,-13-30,-20-13,0-144,93-10,10-43,27-10,10-33,20-117,86-13,7-217,163-30,27-30,20-17,17-16,10-100,80-17,16-168,95 71,-135 7,-6 7,-17 6,-7 34,-60 106,-160 40,-53 17,-17 10,-16 70,-80 57,-57 50,-43 146,-117 30,-20 14,-13 243,-184 13,-6 24,-20 36,-24 80,-60 77,-50 10,-10 170,-113 10,-3 73,-50 10,-4 17,-13 27,-13 16,-14 110,-63 7,-7 40,-20 53,-33 24,-10 6,-7 24,-10 6,-6 97,-47 53,-17z"/><path class=f d="M5865,6388l3,-3 57,0 3,3 24,0 3,4 60,10 3,3 14,0 13,7 10,0 70,23 50,23 7,0 86,44 7,6 67,37 73,50 0,3-150,117-100,87-23,16-134,117-153,143-3,0-4,7-3,0-140,137-3,0-7,10-7,3-216,217 0,3-10,7-4,6-6,4 0,3-84,83 0,4-13,10 0,3-63,67-7,-4-47,-63-23,-23-17,-24-116,-120-4,0-56,-53-44,-30-13,-13-30,-20-13,0-144,93-10,10-43,27-10,10-33,20-117,86-13,7-217,163-156,126-211,118 60,-114 7,-6 7,-17 6,-7 34,-60 106,-160 40,-53 17,-17 10,-16 70,-80 57,-57 50,-43 146,-117 30,-20 14,-13 243,-184 13,-6 24,-20 36,-24 80,-60 77,-50 10,-10 170,-113 10,-3 73,-50 10,-4 17,-13 27,-13 16,-14 110,-63 7,-7 40,-20 53,-33 24,-10 6,-7 24,-10 6,-6 97,-47 53,-17z"/><path class=g d="M5865,6388l3,-3 57,0 3,3 24,0 3,4 60,10 3,3 14,0 13,7 10,0 70,23 50,23 7,0 86,44 7,6 67,37 73,50 0,3-150,117-100,87-23,16-134,117-153,143-3,0-4,7-3,0-140,137-3,0-7,10-7,3-216,217 0,3-10,7-4,6-6,4 0,3-84,83 0,4-13,10 0,3-63,67-7,-4-47,-63-23,-23-17,-24-116,-120-4,0-56,-53-44,-30-13,-13-30,-20-13,0-144,93-10,10-43,27-10,10-33,20-34,26-60,40-86,67-14,7-26,23-40,27-117,93-30,20-30,27-265,148 48,-92 7,-6 7,-17 6,-7 34,-60 106,-160 40,-53 17,-17 10,-16 70,-80 57,-57 50,-43 146,-117 30,-20 14,-13 243,-184 13,-6 24,-20 36,-24 80,-60 77,-50 10,-10 170,-113 10,-3 73,-50 10,-4 17,-13 27,-13 16,-14 110,-63 7,-7 40,-20 53,-33 24,-10 6,-7 24,-10 6,-6 97,-47 53,-17z"/><path class=h d="M5865,6388l3,-3 57,0 3,3 24,0 3,4 60,10 3,3 14,0 13,7 10,0 70,23 50,23 7,0 86,44 7,6 67,37 73,50 0,3-150,117-100,87-23,16-134,117-153,143-3,0-4,7-3,0-140,137-3,0-7,10-7,3-216,217 0,3-10,7-4,6-6,4 0,3-84,83 0,4-13,10 0,3-63,67-7,-4-47,-63-23,-23-17,-24-116,-120-4,0-56,-53-44,-30-13,-13-30,-20-13,0-144,93-10,10-43,27-10,10-33,20-34,26-60,40-86,67-14,7-26,23-40,27-117,93-313,172 50,-92 6,-7 34,-60 20,-26 3,-10 13,-17 4,-10 106,-150 97,-113 57,-57 50,-43 146,-117 30,-20 14,-13 243,-184 13,-6 24,-20 36,-24 80,-60 77,-50 10,-10 170,-113 10,-3 73,-50 10,-4 17,-13 27,-13 16,-14 110,-63 7,-7 40,-20 53,-33 24,-10 6,-7 24,-10 6,-6 97,-47 53,-17z"/><path class=i d="M5865,6388l3,-3 57,0 3,3 24,0 3,4 60,10 3,3 14,0 13,7 10,0 70,23 50,23 7,0 86,44 7,6 67,37 73,50 0,3-150,117-100,87-23,16-134,117-153,143-3,0-4,7-3,0-140,137-3,0-7,10-7,3-216,217 0,3-10,7-4,6-6,4 0,3-84,83 0,4-13,10 0,3-63,67-7,-4-47,-63-23,-23-17,-24-116,-120-4,0-56,-53-44,-30-13,-13-30,-20-13,0-240,160-117,86-13,7-50,40-14,7-13,13-97,70-13,13-193,103-167,94 37,-70 6,-7 34,-60 20,-26 3,-10 13,-17 4,-10 106,-150 97,-113 57,-57 50,-43 146,-117 30,-20 14,-13 243,-184 13,-6 24,-20 36,-24 80,-60 77,-50 10,-10 170,-113 10,-3 73,-50 10,-4 17,-13 27,-13 16,-14 110,-63 7,-7 40,-20 53,-33 24,-10 6,-7 24,-10 6,-6 97,-47 53,-17z"/><path class=j d="M5865,6388l3,-3 57,0 3,3 24,0 3,4 60,10 3,3 14,0 13,7 10,0 70,23 50,23 7,0 86,44 7,6 67,37 73,50 0,3-150,117-100,87-23,16-134,117-153,143-3,0-4,7-3,0-140,137-3,0-7,10-7,3-216,217 0,3-10,7-4,6-6,4 0,3-84,83 0,4-13,10 0,3-63,67-7,-4-47,-63-23,-23-17,-24-116,-120-4,0-56,-53-44,-30-13,-13-30,-20-13,0-240,160-117,86-13,7-50,40-14,7-13,13-27,17-23,20-210,110-198,111 25,-48 6,-7 34,-60 20,-26 3,-10 13,-17 4,-10 66,-97 40,-53 17,-17 10,-16 70,-80 57,-57 150,-123 176,-134 14,-13 180,-133 36,-24 80,-60 34,-20 10,-10 33,-20 10,-10 217,-143 10,-3 26,-20 10,-4 17,-13 27,-13 16,-14 110,-63 7,-7 40,-20 53,-33 24,-10 6,-7 24,-10 6,-6 97,-47 53,-17z"/><path class=k d="M5865,6388l3,-3 57,0 3,3 24,0 3,4 60,10 3,3 14,0 13,7 10,0 70,23 50,23 7,0 86,44 7,6 67,37 73,50 0,3-150,117-100,87-23,16-134,117-153,143-3,0-4,7-3,0-140,137-3,0-7,10-7,3-216,217 0,3-10,7-4,6-6,4 0,3-84,83 0,4-13,10 0,3-63,67-7,-4-47,-63-23,-23-17,-24-116,-120-4,0-56,-53-44,-30-13,-13-30,-20-13,0-240,160-200,146-220,113-227,128-7,-1 120,-193 10,-10 14,-23 56,-77 17,-17 27,-36 53,-57 0,-3 57,-57 150,-123 176,-134 14,-13 180,-133 36,-24 80,-60 34,-20 10,-10 33,-20 10,-10 217,-143 10,-3 26,-20 10,-4 17,-13 27,-13 16,-14 110,-63 7,-7 40,-20 53,-33 24,-10 6,-7 24,-10 6,-6 97,-47 53,-17z"/><path class=l d="M5865,6388l3,-3 57,0 3,3 24,0 3,4 60,10 3,3 14,0 13,7 10,0 70,23 50,23 7,0 86,44 7,6 67,37 73,50 0,3-150,117-100,87-23,16-134,117-153,143-3,0-4,7-3,0-140,137-3,0-7,10-7,3-216,217 0,3-10,7-4,6-6,4 0,3-84,83 0,4-13,10 0,3-63,67-7,-4-47,-63-23,-23-17,-24-116,-120-4,0-56,-53-44,-30-13,-13-30,-20-13,0-197,130-10,10-33,20-10,10-14,6-113,83-187,94-310,171-6,0 106,-171 10,-10 14,-23 56,-77 17,-17 10,-16 37,-44 33,-33 0,-3 87,-84 166,-133 30,-20 14,-13 193,-147 13,-7 37,-30 13,-6 24,-20 36,-24 80,-60 340,-226 10,-4 17,-13 27,-13 16,-14 110,-63 7,-7 40,-20 53,-33 24,-10 6,-7 24,-10 6,-6 97,-47 53,-17z"/><path class=m d="M5865,6388l3,-3 57,0 3,3 24,0 3,4 60,10 3,3 14,0 13,7 10,0 70,23 50,23 7,0 86,44 7,6 67,37 73,50 0,3-150,117-100,87-23,16-134,117-153,143-3,0-4,7-3,0-140,137-3,0-7,10-7,3-216,217 0,3-10,7-4,6-6,4 0,3-84,83 0,4-13,10 0,3-63,67-7,-4-47,-63-23,-23-17,-24-116,-120-4,0-56,-53-44,-30-13,-13-30,-20-13,0-144,93-10,10-86,57-67,50-257,127-303,166 27,-47 36,-53 4,-10 50,-73 56,-77 17,-17 10,-16 37,-44 33,-33 0,-3 87,-84 166,-133 30,-20 14,-13 193,-147 13,-7 37,-30 13,-6 24,-20 36,-24 80,-60 340,-226 10,-4 17,-13 27,-13 16,-14 110,-63 7,-7 40,-20 53,-33 24,-10 6,-7 24,-10 6,-6 97,-47 53,-17z"/><path class=n d="M5865,6388l3,-3 57,0 3,3 24,0 3,4 60,10 3,3 14,0 13,7 10,0 70,23 50,23 7,0 86,44 7,6 67,37 73,50 0,3-150,117-100,87-23,16-134,117-153,143-3,0-4,7-3,0-140,137-3,0-7,10-7,3-216,217 0,3-10,7-4,6-6,4 0,3-84,83 0,4-13,10 0,3-63,67-7,-4-47,-63-23,-23-17,-24-116,-120-4,0-56,-53-44,-30-13,-13-30,-20-13,0-144,93-10,10-91,61-289,142-319,173 49,-76 4,-10 50,-73 56,-77 17,-17 10,-16 37,-44 33,-33 0,-3 87,-84 166,-133 30,-20 14,-13 193,-147 13,-7 37,-30 13,-6 24,-20 36,-24 80,-60 340,-226 10,-4 17,-13 27,-13 16,-14 110,-63 7,-7 40,-20 53,-33 24,-10 6,-7 24,-10 6,-6 97,-47 53,-17z"/><path class=o d="M5865,6388l3,-3 57,0 3,3 24,0 3,4 60,10 3,3 14,0 13,7 10,0 70,23 50,23 7,0 86,44 7,6 67,37 73,50 0,3-150,117-100,87-23,16-134,117-153,143-3,0-4,7-3,0-140,137-3,0-7,10-7,3-216,217 0,3-10,7-4,6-6,4 0,3-84,83 0,4-13,10 0,3-63,67-7,-4-47,-63-23,-23-17,-24-116,-120-4,0-56,-53-44,-30-13,-13-30,-20-13,0-144,93-28,22-322,155-186,99-154,87-6,0 106,-160 40,-53 17,-17 10,-16 70,-80 57,-57 50,-43 146,-117 130,-97 14,-13 296,-217 257,-173 10,-3 100,-67 27,-13 16,-14 110,-63 7,-7 40,-20 53,-33 24,-10 6,-7 24,-10 6,-6 97,-47 53,-17z"/><path class=p d="M5865,6388l3,-3 57,0 3,3 24,0 3,4 60,10 3,3 14,0 13,7 10,0 70,23 50,23 7,0 86,44 7,6 67,37 73,50 0,3-150,117-100,87-23,16-134,117-153,143-3,0-4,7-3,0-140,137-3,0-7,10-7,3-216,217 0,3-10,7-4,6-6,4 0,3-84,83 0,4-13,10 0,3-63,67-7,-4-47,-63-23,-23-17,-24-116,-120-4,0-56,-53-44,-30-13,-13-30,-20-13,0-108,70-206,95-196,98-315,171 21,-31 4,-10 66,-97 40,-53 17,-17 10,-16 70,-80 57,-57 50,-43 146,-117 130,-97 14,-13 296,-217 257,-173 10,-3 100,-67 27,-13 16,-14 110,-63 7,-7 40,-20 53,-33 24,-10 6,-7 24,-10 6,-6 97,-47 53,-17z"/><path class=q d="M5865,6388l3,-3 57,0 3,3 24,0 3,4 60,10 3,3 14,0 13,7 10,0 70,23 50,23 7,0 86,44 7,6 67,37 73,50 0,3-150,117-100,87-23,16-134,117-153,143-3,0-4,7-3,0-140,137-3,0-7,10-7,3-216,217 0,3-10,7-4,6-6,4 0,3-84,83 0,4-13,10 0,3-63,67-7,-4-47,-63-23,-23-17,-24-116,-120-4,0-56,-53-44,-30-13,-13-30,-20-13,0-38,24-205,92-206,100-361,194 76,-114 40,-53 17,-17 10,-16 70,-80 57,-57 196,-160 30,-20 14,-13 193,-147 13,-7 37,-30 13,-6 24,-20 36,-24 80,-60 77,-50 10,-10 170,-113 10,-3 37,-27 10,-3 96,-64 110,-63 7,-7 87,-46 6,-7 54,-27 6,-6 97,-47 53,-17z"/><path class=r d="M5865,6388l3,-3 57,0 3,3 24,0 3,4 60,10 3,3 14,0 13,7 10,0 70,23 50,23 7,0 86,44 7,6 67,37 73,50 0,3-150,117-100,87-23,16-134,117-153,143-3,0-4,7-3,0-140,137-3,0-7,10-7,3-216,217 0,3-10,7-4,6-6,4 0,3-84,83 0,4-13,10 0,3-63,67-7,-4-47,-63-23,-23-17,-24-116,-120-90,-76-14,-7-13,-13-30,-20-10,0 0,-4-7,-3-210,94-163,78-203,104-215,118 61,-91 40,-53 17,-17 10,-16 70,-80 57,-57 196,-160 30,-20 14,-13 193,-147 13,-7 37,-30 13,-6 24,-20 36,-24 80,-60 77,-50 10,-10 170,-113 10,-3 37,-27 10,-3 96,-64 110,-63 7,-7 87,-46 6,-7 54,-27 6,-6 97,-47 53,-17z"/><path class=s d="M5865,6388l3,-3 57,0 3,3 24,0 3,4 60,10 3,3 14,0 13,7 10,0 70,23 50,23 7,0 86,44 7,6 67,37 73,50 0,3-150,117-100,87-23,16-134,117-153,143-3,0-4,7-3,0-140,137-3,0-7,10-7,3-216,217 0,3-10,7-4,6-6,4 0,3-84,83 0,4-13,10 0,3-63,67-7,-4-47,-63-23,-23-17,-24-116,-120-4,0-56,-53-44,-30-13,-13-30,-20-10,0 0,-4-23,-11-147,65-197,93-240,123-170,97-6,-1 113,-152 70,-80 57,-57 196,-160 30,-20 14,-13 193,-147 13,-7 37,-30 13,-6 24,-20 36,-24 80,-60 77,-50 10,-10 170,-113 10,-3 37,-27 10,-3 96,-64 110,-63 7,-7 87,-46 6,-7 54,-27 6,-6 97,-47 53,-17z"/><path class=t d="M5865,6388l3,-3 57,0 3,3 24,0 3,4 60,10 3,3 14,0 13,7 10,0 70,23 50,23 7,0 86,44 7,6 67,37 73,50 0,3-150,117-100,87-23,16-134,117-153,143-3,0-4,7-3,0-140,137-3,0-7,10-7,3-216,217 0,3-10,7-4,6-6,4 0,3-84,83 0,4-13,10 0,3-63,67-7,-4-47,-63-23,-23-17,-24-116,-120-4,0-56,-53-44,-30-13,-13-30,-20-10,0 0,-4-37,-20-130,57-191,90-145,73-254,141-10,3 70,-97 17,-17 27,-36 53,-57 0,-3 57,-57 196,-160 287,-217 13,-6 24,-20 36,-24 80,-60 77,-50 10,-10 170,-113 10,-3 37,-27 10,-3 26,-20 10,-4 17,-13 27,-13 50,-34 26,-13 57,-37 17,-6 6,-7 17,-7 7,-6 16,-7 7,-7 17,-6 6,-7 140,-73 7,0 10,-7 40,-13z"/><path class=u d="M5865,6388l3,-3 57,0 3,3 24,0 3,4 60,10 3,3 14,0 13,7 10,0 70,23 50,23 7,0 86,44 7,6 67,37 73,50 0,3-150,117-100,87-23,16-134,117-153,143-3,0-4,7-3,0-140,137-3,0-7,10-7,3-216,217 0,3-10,7-4,6-6,4 0,3-84,83 0,4-13,10 0,3-63,67-7,-4-47,-63-73,-80 0,-3-123,-120-107,-80-9,0-1,-4-53,-29-164,73-179,86-181,94-166,96-7,1 97,-127 53,-57 0,-3 57,-57 196,-160 324,-243 36,-24 80,-60 34,-20 10,-10 33,-20 10,-10 170,-113 10,-3 73,-50 10,-4 17,-13 27,-13 16,-14 110,-63 7,-7 40,-20 53,-33 24,-10 6,-7 24,-10 6,-6 80,-40 7,0 10,-7 40,-13z"/><path class=v d="M5865,6388l3,-3 57,0 3,3 24,0 3,4 60,10 3,3 14,0 13,7 10,0 70,23 50,23 7,0 86,44 7,6 67,37 73,50 0,3-150,117-100,87-23,16-134,117-153,143-3,0-4,7-3,0-140,137-3,0-7,10-7,3-216,217 0,3-10,7-4,6-6,4 0,3-84,83 0,4-13,10 0,3-63,67-7,-4-47,-63-73,-80 0,-3-123,-120-107,-80-9,0-1,-4-67,-36-6,-1-47,21-253,120-168,86-179,102-13,5 36,-50 17,-17 10,-16 37,-44 33,-33 0,-3 87,-84 166,-133 74,-53 13,-14 237,-176 36,-24 80,-60 34,-20 10,-10 33,-20 10,-10 170,-113 10,-3 73,-50 10,-4 17,-13 27,-13 16,-14 110,-63 7,-7 40,-20 53,-33 24,-10 6,-7 24,-10 6,-6 80,-40 7,0 10,-7 40,-13z"/><path class=w d="M5865,6388l3,-3 57,0 3,3 24,0 3,4 60,10 3,3 14,0 13,7 10,0 70,23 50,23 7,0 86,44 7,6 67,37 73,50 0,3-150,117-100,87-23,16-134,117-153,143-3,0-4,7-3,0-140,137-3,0-7,10-7,3-216,217 0,3-10,7-4,6-6,4 0,3-84,83 0,4-13,10 0,3-63,67-7,-4-47,-63-73,-80 0,-3-123,-120-107,-80-9,0-1,-5-10,-3-7,-6-70,-36-173,79-143,71-176,93-128,74-8,1 35,-42 10,-16 70,-80 87,-84 166,-133 130,-97 14,-13 296,-217 257,-173 10,-3 73,-50 10,-4 17,-13 27,-13 16,-14 110,-63 7,-7 40,-20 53,-33 24,-10 6,-7 24,-10 6,-6 80,-40 7,0 10,-7 40,-13z"/><path class=x d="M5865,6388l3,-3 57,0 3,3 24,0 3,4 60,10 3,3 14,0 13,7 10,0 70,23 50,23 7,0 86,44 7,6 67,37 73,50 0,3-150,117-100,87-23,16-134,117-153,143-3,0-4,7-3,0-140,137-3,0-7,10-7,3-216,217 0,3-10,7-4,6-6,4 0,3-84,83 0,4-13,10 0,3-63,67-7,-4-47,-63-73,-80 0,-3-123,-120-107,-80-9,0-1,-5-33,-16-7,-7-63,-29-140,62-184,91-270,151 27,-37 70,-80 87,-84 166,-133 130,-97 14,-13 296,-217 257,-173 10,-3 73,-50 10,-4 17,-13 27,-13 16,-14 110,-63 7,-7 40,-20 53,-33 24,-10 6,-7 24,-10 6,-6 80,-40 7,0 10,-7 40,-13z"/><path class=y d="M5865,6388l3,-3 57,0 3,3 24,0 3,4 60,10 3,3 14,0 13,7 10,0 70,23 50,23 7,0 86,44 7,6 67,37 73,50 0,3-150,117-100,87-23,16-134,117-153,143-3,0-4,7-3,0-140,137-3,0-7,10-7,3-216,217 0,3-10,7-4,6-6,4 0,3-84,83 0,4-13,10 0,3-63,67-7,-4-47,-63-73,-80 0,-3-123,-120-107,-80-9,0-1,-5-33,-16-7,-7-77,-36-13,2-80,36-193,95-143,77-127,76-6,0 79,-92 57,-57 50,-43 146,-117 130,-97 14,-13 296,-217 257,-173 10,-3 73,-50 10,-4 17,-13 27,-13 16,-14 110,-63 7,-7 40,-20 53,-33 24,-10 6,-7 24,-10 6,-6 80,-40 7,0 10,-7 40,-13z"/><path class=z d="M5865,6388l3,-3 57,0 3,3 24,0 3,4 60,10 3,3 14,0 13,7 10,0 70,23 50,23 7,0 86,44 7,6 67,37 73,50 0,3-150,117-100,87-23,16-134,117-153,143-3,0-4,7-3,0-140,137-3,0-7,10-7,3-216,217 0,3-10,7-4,6-6,4 0,3-84,83 0,4-13,10 0,3-63,67-7,-4-47,-63-73,-80 0,-3-123,-120-107,-80-9,0-1,-5-10,-3-7,-7-76,-39-7,0-17,-10-20,-6-10,0-26,12-207,101-142,77-137,78 59,-68 57,-57 50,-43 146,-117 30,-20 14,-13 193,-147 13,-7 37,-30 13,-6 24,-20 36,-24 80,-60 77,-50 10,-10 253,-166 10,-4 17,-13 27,-13 16,-14 110,-63 7,-7 87,-46 6,-7 140,-73 7,0 10,-7 40,-13z"/><path class=A d="M5865,6388l3,-3 57,0 3,3 24,0 3,4 60,10 3,3 14,0 13,7 10,0 70,23 50,23 7,0 86,44 7,6 67,37 73,50 0,3-150,117-100,87-23,16-134,117-153,143-3,0-4,7-3,0-140,137-3,0-7,10-7,3-216,217 0,3-10,7-4,6-6,4 0,3-84,83 0,4-13,10 0,3-63,67-7,-4-47,-63-73,-80 0,-3-83,-84-4,0-56,-53-87,-63-8,0-2,-5-10,-3-7,-7-76,-39-50,-17-10,-6-14,0-196,97-104,55-172,100 39,-45 57,-57 150,-123 283,-217 13,-7 37,-30 13,-6 24,-20 36,-24 80,-60 77,-50 10,-10 253,-166 10,-4 17,-13 27,-13 16,-14 110,-63 7,-7 87,-46 6,-7 140,-73 7,0 10,-7 40,-13z"/><path class=B d="M5865,6388l3,-3 57,0 3,3 24,0 3,4 60,10 3,3 14,0 13,7 10,0 70,23 50,23 7,0 86,44 7,6 67,37 73,50 0,3-150,117-100,87-23,16-134,117-153,143-3,0-4,7-3,0-140,137-3,0-7,10-7,3-216,217 0,3-10,7-4,6-6,4 0,3-84,83 0,4-13,10 0,3-63,67-7,-4-47,-63-73,-80 0,-3-83,-84-4,0-56,-53-44,-30-13,-13-30,-20-8,0-2,-5-33,-17-7,-6-77,-36-60,-20-7,0-33,16-163,82-237,136 67,-70 37,-34 166,-133 30,-20 14,-13 193,-147 13,-7 37,-30 13,-6 24,-20 36,-24 80,-60 77,-50 10,-10 253,-166 10,-4 17,-13 27,-13 16,-14 110,-63 7,-7 87,-46 6,-7 140,-73 7,0 10,-7 40,-13z"/><path class=C d="M5865,6388l3,-3 57,0 3,3 24,0 3,4 60,10 3,3 14,0 13,7 10,0 70,23 50,23 7,0 86,44 7,6 67,37 73,50 0,3-150,117-100,87-23,16-134,117-153,143-3,0-4,7-3,0-140,137-3,0-7,10-7,3-216,217 0,3-10,7-4,6-6,4 0,3-84,83 0,4-13,10 0,3-63,67-7,-4-47,-63-73,-80 0,-3-83,-84-4,0-56,-53-44,-30-13,-13-30,-20-8,0-2,-6-33,-16-7,-7-77,-36-73,-22-20,0-127,64-130,72-127,77 81,-80 166,-133 30,-20 14,-13 193,-147 13,-7 37,-30 13,-6 24,-20 36,-24 80,-60 77,-50 10,-10 253,-166 10,-4 17,-13 27,-13 16,-14 110,-63 7,-7 87,-46 6,-7 140,-73 7,0 10,-7 40,-13z"/><path class=D d="M5865,6388l3,-3 57,0 3,3 24,0 3,4 60,10 3,3 14,0 13,7 10,0 70,23 50,23 7,0 86,44 7,6 67,37 73,50 0,3-150,117-100,87-23,16-134,117-153,143-3,0-4,7-3,0-140,137-3,0-7,10-7,3-216,217 0,3-10,7-4,6-6,4 0,3-84,83 0,4-13,10 0,3-63,67-7,-4-47,-63-73,-80 0,-3-83,-84-4,0-56,-53-44,-30-13,-13-30,-20-8,0-2,-6-33,-16-7,-7-77,-36-60,-19-10,0-3,-4-49,1-158,84-86,51-80,52-9,2 59,-56 120,-96 283,-217 13,-7 37,-30 13,-6 24,-20 36,-24 80,-60 257,-173 10,-3 73,-50 10,-4 17,-13 27,-13 16,-14 110,-63 7,-7 40,-20 53,-33 24,-10 6,-7 24,-10 6,-6 97,-47 53,-17z"/><path class=E d="M5865,6388l3,-3 57,0 3,3 24,0 3,4 60,10 3,3 14,0 13,7 10,0 70,23 50,23 7,0 86,44 7,6 67,37 73,50 0,3-150,117-100,87-23,16-134,117-153,143-3,0-4,7-3,0-53,53-4,0-3,7-3,0-77,77-3,0-7,10-73,70-150,150 0,3-10,7-4,6-6,4 0,3-132,135-50,7-72,-89-83,-86-73,-70-50,-40-14,-7-13,-13-30,-20-8,0-2,-6-33,-16-7,-7-53,-26-7,0-17,-10-60,-20-10,0-3,-3-63,1-4,3-22,4-143,80-125,78 34,-32 120,-96 283,-217 13,-7 37,-30 13,-6 24,-20 36,-24 80,-60 257,-173 10,-3 73,-50 10,-4 17,-13 27,-13 16,-14 110,-63 7,-7 40,-20 53,-33 24,-10 6,-7 24,-10 6,-6 97,-47 53,-17z"/><path class=F d="M5865,6388l3,-3 57,0 3,3 24,0 3,4 60,10 3,3 14,0 13,7 10,0 70,23 50,23 7,0 86,44 7,6 67,37 73,50 0,3-67,50-163,134-117,100-170,156-3,0-190,184-3,0-7,10-13,10-308,310-140,18-69,-78-83,-84-4,0-56,-53-44,-30-13,-13-30,-20-8,0-2,-6-33,-17-7,-6-53,-27-50,-16-10,-6-10,0-27,-10-63,0-4,4-13,0-56,17-104,62-90,59 27,-24 146,-117 30,-20 14,-13 193,-147 13,-7 37,-30 13,-6 24,-20 36,-24 80,-60 257,-173 10,-3 73,-50 10,-4 17,-13 27,-13 16,-14 110,-63 7,-7 40,-20 53,-33 24,-10 6,-7 24,-10 6,-6 97,-47 53,-17z"/><path class=G d="M5865,6388l3,-3 57,0 3,3 24,0 3,4 60,10 3,3 14,0 13,7 10,0 70,23 50,23 7,0 86,44 7,6 67,37 73,50 0,3-67,50-163,134-177,153-70,67-3,0-143,136-4,0-3,7-3,0-77,77-3,0-7,10-7,3-216,217 0,3-10,7-4,6-6,4-24,27-233,26-113,-117-4,0-56,-53-44,-30-13,-13-30,-20-7,0-3,-6-33,-17-7,-6-53,-27-50,-16-10,-7-10,0-27,-9-63,0-4,3-13,0-57,17-80,41-80,57-6,0 146,-117 287,-217 13,-6 24,-20 36,-24 80,-60 77,-50 10,-10 170,-113 10,-3 73,-50 10,-4 17,-13 27,-13 16,-14 110,-63 7,-7 40,-20 53,-33 24,-10 6,-7 24,-10 6,-6 97,-47 53,-17z"/><path class=H d="M5865,6388l3,-3 57,0 3,3 24,0 3,4 60,10 3,3 14,0 13,7 10,0 70,23 50,23 7,0 86,44 7,6 67,37 73,50 0,3-150,117-257,220-153,143-3,0-4,7-3,0-53,53-4,0-3,7-3,0-77,77-3,0-7,10-7,3-206,207-329,37-111,-107-107,-80-7,0-3,-6-10,-4-7,-6-76,-40-50,-16-10,-7-10,0-27,-10-63,1-4,3-13,0-3,3-24,4-30,10-56,26-74,49-5,-1 115,-93 287,-217 13,-6 24,-20 36,-24 80,-60 77,-50 10,-10 170,-113 10,-3 73,-50 10,-4 17,-13 27,-13 16,-14 110,-63 7,-7 40,-20 53,-33 24,-10 6,-7 24,-10 6,-6 97,-47 53,-17z"/><path class=I d="M5865,6388l3,-3 57,0 3,3 24,0 3,4 60,10 3,3 14,0 13,7 10,0 70,23 50,23 7,0 86,44 7,6 67,37 73,50 0,3-150,117-257,220-153,143-3,0-4,7-3,0-53,53-4,0-3,7-3,0-77,77-3,0-7,10-7,3-152,153-429,46-85,-79-87,-63-7,0-3,-7-10,-3-7,-6-76,-40-50,-17-10,-6-10,0-27,-10-63,0-4,3-40,7-30,10-16,10-7,0-57,29-16,13-6,0 82,-70 287,-217 13,-6 24,-20 36,-24 80,-60 77,-50 10,-10 170,-113 10,-3 73,-50 10,-4 17,-13 27,-13 16,-14 110,-63 7,-7 40,-20 53,-33 24,-10 6,-7 24,-10 6,-6 97,-47 53,-17z"/><path class=J d="M5865,6388l3,-3 57,0 3,3 24,0 3,4 60,10 3,3 14,0 13,7 10,0 70,23 50,23 7,0 86,44 7,6 67,37 73,50 0,3-150,117-257,220-153,143-3,0-4,7-3,0-53,53-4,0-3,7-3,0-77,77-3,0-10,13-4,0-99,100-271,29-263,21-90,-73-30,-20-7,0-3,-7-10,-3-7,-7-76,-39-7,0-17,-10-60,-20-10,0-3,-3-63,0-4,3-13,0-3,3-10,0-44,14-56,26-7,6-2,-3 14,-17 43,-39 225,-171 13,-7 37,-30 13,-6 24,-20 36,-24 80,-60 257,-173 10,-3 73,-50 10,-4 17,-13 27,-13 16,-14 110,-63 7,-7 40,-20 53,-33 24,-10 6,-7 24,-10 6,-6 97,-47 53,-17z"/><path class=K d="M5865,6388l3,-3 57,0 3,3 24,0 3,4 60,10 3,3 14,0 13,7 10,0 70,23 50,23 7,0 86,44 7,6 67,37 73,50 0,3-150,117-197,167-170,156-3,0-40,40-3,0-4,7-3,0-53,53-4,0-3,7-3,0-139,136-368,38-280,16-60,-43-7,0-3,-7-33,-16-7,-7-77,-37-73,-23-63,0-4,4-40,6-52,20 16,-26 26,-28 104,-83 296,-217 257,-173 10,-3 73,-50 10,-4 17,-13 27,-13 16,-14 110,-63 7,-7 40,-20 53,-33 24,-10 6,-7 24,-10 6,-6 97,-47 53,-17z"/><path class=L d="M5865,6388l3,-3 57,0 3,3 24,0 3,4 60,10 3,3 14,0 13,7 10,0 70,23 50,23 7,0 86,44 7,6 67,37 73,50 0,3-150,117-197,167-170,156-3,0-40,40-3,0-4,7-3,0-53,53-4,0-3,7-3,0-77,77-10,6-60,8-350,32-170,10-200,4-30,-20-53,-27-50,-16-10,-7-10,0-27,-10-63,0-4,3-40,7 7,-26 17,-26 30,-32 39,-32 297,-218 257,-173 10,-3 73,-50 10,-4 17,-13 27,-13 16,-14 110,-63 7,-7 40,-20 53,-33 24,-10 6,-7 24,-10 6,-6 97,-47 53,-17z"/><path class=L d="M5865,6388l3,-3 57,0 3,3 24,0 3,4 60,10 3,3 14,0 13,7 10,0 70,23 50,23 7,0 86,44 7,6 67,37 73,50 0,3-150,117-197,167-170,156-3,0-40,40-3,0-4,7-3,0-96,93-397,37-180,10-127,3-153,-4-130,-12-27,-10-16,0-19,-17-8,-20 5,-27 17,-26 33,-34 155,-116 36,-24 80,-60 34,-20 10,-10 33,-20 10,-10 253,-166 10,-4 17,-13 27,-13 16,-14 110,-63 7,-7 87,-46 6,-7 140,-73 7,0 10,-7 40,-13z"/><path class=L d="M5865,6388l3,-3 57,0 3,3 24,0 3,4 60,10 3,3 14,0 13,7 10,0 70,23 50,23 7,0 86,44 7,6 67,37 73,50 0,3-150,117-197,167-170,156-3,0-40,40-3,0-4,7-3,0-43,43-7,-2-217,23-196,15-130,7-160,4-110,-2-107,-8-90,-16-13,-8-12,-13-4,-23 7,-20 19,-27 27,-26 93,-70 36,-24 80,-60 34,-20 10,-10 33,-20 10,-10 253,-166 10,-4 17,-13 27,-13 16,-14 110,-63 7,-7 87,-46 6,-7 140,-73 7,0 10,-7 40,-13z"/><path class=L d="M5865,6388l3,-3 57,0 3,3 24,0 3,4 60,10 3,3 14,0 13,7 10,0 70,23 50,23 7,0 86,44 7,6 67,37 73,50 0,3-150,117-100,87-23,16-134,117-152,142-1,-2-200,20-207,17-130,7-183,4-140,-5-100,-11-47,-10-23,-15-6,-20 3,-17 14,-23 21,-24 45,-36 36,-24 80,-60 34,-20 10,-10 33,-20 10,-10 253,-166 10,-4 17,-13 27,-13 16,-14 110,-63 7,-7 87,-46 6,-7 140,-73 7,0 10,-7 40,-13z"/><path class=L d="M5865,6388l3,-3 57,0 3,3 24,0 3,4 60,10 3,3 14,0 13,7 10,0 70,23 50,23 7,0 86,44 7,6 67,37 73,50 0,3-150,117-100,87-23,16-134,117-99,92-1,-2-223,22-223,16-254,8-126,-3-110,-9-57,-11-17,-8-12,-12-4,-13 1,-10 9,-20 16,-21 25,-23 85,-63 34,-20 10,-10 33,-20 10,-10 170,-113 10,-3 73,-50 10,-4 17,-13 27,-13 16,-14 110,-63 7,-7 40,-20 53,-33 24,-10 6,-7 24,-10 6,-6 97,-47 53,-17z"/><path class=L d="M5865,6388l3,-3 57,0 3,3 24,0 3,4 60,10 3,3 14,0 13,7 10,0 70,23 50,23 7,0 86,44 7,6 67,37 73,50 0,3-67,50-163,134-222,195-375,32-303,11-143,-3-104,-9-60,-10-15,-6-13,-14-4,-13 4,-17 12,-20 26,-26 74,-54 33,-20 10,-10 170,-113 10,-3 73,-50 10,-4 17,-13 27,-13 16,-14 110,-63 7,-7 40,-20 53,-33 24,-10 6,-7 24,-10 6,-6 97,-47 53,-17z"/><path class=L d="M5865,6388l3,-3 57,0 3,3 24,0 3,4 60,10 3,3 14,0 13,7 10,0 70,23 50,23 7,0 86,44 7,6 67,37 73,50 0,3-150,117-197,167-51,48-5,-2-177,17-243,17-254,8-130,-2-113,-10-57,-10-17,-10-8,-10-3,-13 7,-20 15,-20 27,-24 299,-199 10,-4 17,-13 27,-13 16,-14 110,-63 7,-7 40,-20 53,-33 24,-10 6,-7 24,-10 6,-6 97,-47 53,-17z"/><path class=L d="M5865,6388l3,-3 57,0 3,3 24,0 3,4 60,10 3,3 14,0 13,7 10,0 70,23 50,23 7,0 86,44 7,6 67,37 73,50 0,3-150,117-100,87-23,16-70,64-367,28-137,7-176,4-114,-3-103,-7-73,-11-17,-10-7,-8-4,-10 6,-20 15,-20 18,-17 245,-163 10,-4 17,-13 27,-13 16,-14 110,-63 7,-7 40,-20 53,-33 24,-10 6,-7 24,-10 6,-6 97,-47 53,-17z"/><path class=M d="M5865,6388l3,-3 57,0 3,3 24,0 3,4 60,10 3,3 14,0 13,7 10,0 70,23 50,23 7,0 86,44 7,6 67,37 73,50 0,3-150,117-140,120-400,28-287,9-123,-3-103,-9-47,-9-12,-6-10,-10-4,-13 5,-14 24,-30 107,-73 10,-3 100,-67 27,-13 16,-14 110,-63 7,-7 40,-20 53,-33 24,-10 6,-7 24,-10 6,-6 97,-47 53,-17z"/><path class=N d="M5865,6388l3,-3 57,0 3,3 24,0 3,4 60,10 3,3 14,0 13,7 10,0 70,23 50,23 7,0 86,44 7,6 67,37 73,50 0,3-150,117-86,72-387,28-260,9-127,-2-103,-7-64,-8-20,-8-8,-7-5,-10 1,-14 8,-13 15,-17 46,-33 10,-3 100,-67 27,-13 16,-14 110,-63 7,-7 40,-20 53,-33 24,-10 6,-7 24,-10 6,-6 97,-47 53,-17z"/><path class=O d="M5865,6388l3,-3 57,0 3,3 24,0 3,4 60,10 3,3 14,0 13,7 10,0 70,23 50,23 7,0 86,44 7,6 67,37 73,50 0,3-67,50-113,94-360,25-297,9-140,-3-96,-8-50,-9-10,-4-10,-10-2,-10 4,-14 14,-16 23,-19 234,-145 40,-20 53,-33 24,-10 6,-7 24,-10 6,-6 80,-40 7,0 10,-7 40,-13z"/><path class=P d="M5865,6388l3,-3 57,0 3,3 24,0 3,4 60,10 3,3 14,0 13,7 10,0 70,23 50,23 7,0 86,44 7,6 67,37 73,50 0,3-125,99-378,25-284,7-126,-3-94,-7-50,-8-18,-13-3,-6 2,-14 23,-26 183,-114 40,-20 53,-33 24,-10 6,-7 24,-10 6,-6 80,-40 7,0 10,-7 40,-13z"/><path class=Q d="M5865,6388l3,-3 57,0 3,3 24,0 3,4 60,10 3,3 14,0 13,7 10,0 70,23 50,23 7,0 86,44 7,6 67,37 73,50 0,3-69,53-298,21-246,10-204,0-160,-13-16,-4-15,-10-3,-17 19,-23 22,-17 43,-23 57,-37 40,-20 53,-33 24,-10 6,-7 24,-10 6,-6 80,-40 7,0 10,-7 40,-13z"/><path class=R d="M5865,6388l3,-3 57,0 3,3 24,0 3,4 60,10 3,3 14,0 13,7 10,0 70,23 50,23 7,0 86,44 7,6 67,37 73,50 0,3-12,9-181,12-197,12-227,6-130,-1-103,-5-67,-8-16,-6-9,-9-2,-10 3,-6 19,-20 52,-34 87,-46 6,-7 140,-73 7,0 10,-7 40,-13z"/><path class=S d="M5865,6388l3,-3 57,0 3,3 24,0 3,4 60,10 3,3 14,0 13,7 10,0 70,23 50,23 7,0 86,44 7,6 67,37 33,24-333,19-244,4-100,-2-100,-7-36,-5-20,-13-2,-7 4,-10 22,-21 66,-35 6,-7 24,-10 6,-7 24,-10 6,-6 97,-47 53,-17z"/><path class=T d="M5865,6388l3,-3 57,0 3,3 24,0 3,4 13,0 4,3 13,0 3,3 14,0 16,7 14,0 13,7 10,0 70,23 50,23 7,0 86,44 7,6 44,25-231,11-236,4-114,-3-80,-6-30,-5-16,-11-1,-11 14,-17 43,-27 24,-10 6,-6 97,-47 53,-17z"/><path class=U d="M5865,6388l3,-3 57,0 3,3 24,0 3,4 60,10 3,3 14,0 126,43 98,48-198,7-193,0-157,-10-16,-5-9,-6-1,-10 4,-7 26,-20 83,-40 53,-17z"/><path class=V d="M5865,6388l3,-3 57,0 3,3 24,0 3,4 60,10 3,3 14,0 13,7 10,0 70,23 54,23-151,3-153,-3-93,-7-20,-6-7,-7 4,-13 19,-13 7,0 10,-7 40,-13z"/><path class=W d="M5865,6388l3,-3 57,0 3,3 24,0 3,4 60,10 3,3 14,0 36,13-126,-3-87,-6-17,-4-8,-10 18,-7z"/></g>
<path transform="scale(0.1)" class="ZS ZM" stroke-opacity="0.62" d="M3921,8045l264,-218 124,-98 131,-100 125,-93 120,-86 116,-80 119,-79M3921,8045l84,-161 44,-78 45,-74 47,-72 48,-69 50,-66 40,-49 52,-58 43,-43 44,-40 45,-35 46,-32 35,-20 47,-23 37,-12 37,-9 25,-3 25,-1 25,4 52,16 52,22 53,27 41,25 54,39 42,33 42,37 42,40 85,92 87,106M3959,7970l244,-200 227,-177 232,-170 215,-148M3973,8001l50,-97 43,-79 54,-92 46,-74 48,-71 48,-68 51,-63 52,-60M4576,7217l47,-25 48,-20 49,-13 37,-4 26,1 38,10 52,18 40,17 53,29 54,34 55,41 55,47 56,53 57,60 57,66 43,54M3998,7897l223,-183 210,-163 207,-153 203,-141M4024,7959l50,-98 44,-79 54,-92 46,-74 48,-70 50,-68 50,-64 52,-60M4630,7174l47,-25 48,-20 49,-13 38,-5 25,1 38,9 52,18 40,17 53,28 54,33 54,40 56,46 56,52 56,58 57,64 43,53M4038,7826l203,-165 191,-150 191,-141 189,-133M4074,7917l86,-161 45,-77 46,-75 48,-72 49,-69 50,-65 41,-50M4460,7325l11,-12M4671,7140l47,-27 48,-22 49,-15 38,-6 25,-1 25,3 52,14 52,20 53,26 53,31 54,37 55,43 56,49 56,55 57,62 57,67M4079,7757l182,-148 173,-134 174,-130 165,-118M4124,7876l51,-97 44,-79 55,-91 47,-74 48,-71 50,-67 51,-64 42,-48M4735,7092l48,-26 48,-20 49,-13 38,-5 25,1 38,8 52,16 39,16 53,27 54,31 54,38 55,43 55,50 56,55 57,61 43,50M4121,7690l161,-130 153,-120 157,-117 149,-108M4173,7837l52,-97 44,-79 46,-77 47,-74 48,-71 50,-68 51,-65 42,-49M4787,7053l47,-26 49,-20 49,-14 37,-5 25,0 39,9 51,16 39,15 53,25 54,31 54,37 55,42 55,48 56,54 56,60 43,49M4164,7625l139,-112 134,-104 138,-105 133,-97M4221,7798l88,-160 93,-151 87,-127 51,-66 42,-51M4849,7008l48,-25 36,-15 49,-14 38,-5 25,0 38,8 52,16 39,15 53,25 53,30 54,35 54,42 55,46 56,53 56,58 42,48M4209,7564l229,-182 225,-169M4269,7761l88,-160 84,-137 87,-128 82,-105M4911,6964l48,-23 36,-14 50,-13 37,-3 26,3 51,12 38,13 39,15 53,26 53,30 54,37 41,30 55,46 55,51 56,57 43,46M4255,7505l185,-147 176,-134M4316,7724l79,-144 84,-137 78,-115 81,-107M4972,6922l48,-23 37,-12 37,-9 37,-3 26,2 50,12 39,12 39,16 53,24 53,30 54,35 40,30 55,44 55,50 56,56 42,45M4302,7450l59,-48M4385,7384l23,-19M4431,7347l80,-62M4533,7268l22,-17M4362,7688l80,-144 75,-122 77,-116 71,-94M5032,6881l36,-17 37,-12 37,-9 37,-4 26,2 50,12 52,17 39,15 53,25 53,31 53,35 41,30 55,45 41,37 55,54 42,44M4350,7398l36,-28M4408,7653l71,-128 65,-107 67,-103 70,-98M5056,6859l48,-23 36,-15 37,-10 37,-6 25,0 38,7 51,14 39,13 52,22 53,27 53,32 54,37 54,42 55,48 55,52 42,43M4400,7351l24,-19M4453,7619l62,-112 65,-108 67,-103 60,-85M5126,6814l36,-16 37,-13 37,-10 37,-3 25,2 51,10 51,16 39,15 52,24 53,28 53,34 41,28 54,43 41,35 55,51 41,42M4451,7309l24,-19M4497,7586l54,-96 55,-93 57,-90 59,-86M5172,6782l36,-16 37,-13 37,-10 37,-4 25,2 51,11 51,15 38,14 53,23 52,28 53,33 41,28 54,41 40,34 55,50 41,41M4503,7272l36,-29M4599,7196l11,-9M4541,7554l100,-174 57,-90 49,-73M5217,6751l36,-16 37,-14 37,-9 37,-4 25,2 50,10 51,15 39,14 52,22 52,27 53,32 40,27 54,40 41,33 54,49 42,40M4557,7241l131,-104 137,-105 120,-90 126,-91M5091,6836l51,-35M4584,7522l91,-158 86,-134M5262,6721l36,-16 36,-14 37,-9 37,-4 25,1 38,7 51,14 38,12 52,21 52,25 52,30 40,25 54,38 54,43 54,47 41,39M4611,7218l132,-105 137,-106 120,-90 126,-91 121,-84 125,-84 119,-76 114,-70M5673,6473l8,-5M5714,6450l8,-5M5739,6436l8,-4M4627,7491l82,-142 76,-120M5306,6692l36,-16 36,-14 37,-9 37,-4 25,1 37,7 51,12 38,13 52,20 52,25 52,29 40,24 53,37 54,42 54,46 41,37M4668,7203l154,-123 158,-123 150,-111 153,-108 144,-98 146,-93 138,-82 130,-73M4669,7462l64,-111 66,-107M5361,6658l36,-15 36,-12 37,-8 25,-3 25,2 50,9 50,13 38,13 52,21 52,25 52,29 40,25 53,37 40,30 54,45 41,37M4725,7201l155,-125 158,-123 150,-112 152,-109 144,-98 145,-94 138,-83 130,-73M4710,7432l55,-94 56,-92M5403,6631l36,-15 36,-13 37,-8 25,-2 25,1 50,9 50,13 38,12 51,20 52,25 52,28 40,24 53,36 40,30 94,79M4784,7217l154,-126 158,-125 150,-114 151,-110 144,-99 145,-95 137,-84 129,-74M4751,7404l83,-141M5457,6599l36,-14 36,-11 37,-7 25,-1 37,5 37,8 51,13 38,13 51,21 39,18 52,27 39,24 53,35 40,29 93,77M4844,7241l154,-128 157,-127 149,-115 152,-112 143,-101 144,-96 136,-85 129,-76M4791,7377l65,-110M5510,6569l36,-14 24,-7 37,-6 24,-2 75,13 50,13 38,12 51,20 39,18 51,27 40,23 52,34 40,28 93,75M4905,7274l153,-131 157,-129 149,-118 151,-114 143,-103 143,-98 136,-88 127,-77M4831,7350l46,-79M5538,6549l36,-14 36,-11 37,-7 25,-1 74,12 75,20 51,18 51,23 52,26 39,22 91,61 93,73M4967,7314l153,-134 156,-132 149,-121 150,-117 142,-105 143,-101 134,-89 128,-79M4871,7324l18,-32M5602,6515l36,-12 24,-6 24,-4 25,-1 37,4 49,10 50,13 38,13 51,19 38,18 91,48 92,61 79,61M5030,7362l152,-137 156,-136 148,-123 149,-121 142,-108 142,-104 134,-92 126,-82M5641,6492l36,-12 24,-6 24,-4 25,-1 36,4 50,9 50,13 37,12 51,19 38,17 90,47 92,59 79,60M5093,7419l152,-141 156,-140 147,-127 149,-124 140,-112 141,-108 134,-95 125,-85M5691,6466l48,-14 25,-4 24,-2 37,4 49,10 49,12 51,16 88,36 77,40 91,58 79,58M5158,7485l152,-146 154,-144 146,-132 148,-129 140,-116 141,-111 132,-99 125,-89M5717,6449l36,-13 24,-6 24,-4 25,-1 36,4 49,9 87,23 88,34 90,44 90,56 79,56M5224,7559l150,-151 154,-150 145,-136 148,-133 139,-121 139,-116 132,-104 124,-92M5766,6424l48,-14 24,-5 25,-1 36,4 49,8 49,12 50,15 88,35 76,37 91,54 78,55M5290,7641l150,-156 153,-155 144,-142 147,-139 138,-126 139,-120 130,-109 124,-97M5815,6400l48,-13 24,-3 24,1 85,14 87,23 87,33 77,37 90,52 78,53M5077,7404l83,7 110,14 82,15 109,23M4874,7256l78,-8 105,-7 77,-1 104,4 77,6 103,12 102,17 102,22M4682,7201l50,-21 50,-18 125,-30 126,-21 75,-8 75,-5 75,-3 74,1 74,3 74,6 74,8 74,11 145,29M4503,7272l96,-66 72,-46 96,-55 73,-36 72,-31 49,-16 73,-17 72,-14 97,-14 96,-9 97,-4 95,0 96,5 118,13 95,14 117,23M4338,7411l46,-41M4706,7114l94,-62 70,-42 70,-38 71,-34 70,-28 47,-14 70,-16 71,-12 93,-13 93,-8 93,-3 93,1 92,5 115,12 91,13 113,22M4187,7594l152,-157 132,-127M4943,6942l68,-41 69,-37 68,-33 68,-28 46,-15 46,-11 68,-13 91,-13 67,-8 91,-5 90,-2 89,2 89,6 89,10 88,13 109,20M4048,7808l145,-170 126,-140 127,-132 129,-125M5100,6830l67,-39 66,-35 67,-31 66,-27 45,-14 44,-9 132,-21 88,-9 87,-5 88,-1 86,3 87,5 86,9 85,12 106,19M3921,8045l178,-230 100,-123 81,-96 102,-116 83,-89 83,-87 83,-84M5271,6715l64,-35 65,-32 65,-28 43,-16 43,-12 43,-9 64,-10 86,-11 64,-5 85,-4 84,-1 84,3 84,5 84,9 83,11 103,17M4087,7907l155,-199 139,-167 160,-182 142,-149M5433,6613l84,-43 84,-36 63,-21 63,-13 125,-16 124,-8 124,-2 123,6M4245,7779l115,-146 116,-140 117,-136 119,-130M5628,6500l62,-27 41,-16 41,-13 41,-11 102,-14 121,-11M4396,7662l95,-119 95,-115 96,-111 77,-86M5755,6429l60,-26 40,-14M4541,7554l130,-161 132,-153M4679,7454l166,-199M4811,7363l74,-88"/>
<g shape-rendering="crispEdges">
<rect x="648.2" y="633.40" width="12.8" height="3.1" fill="#000"/>
<rect x="648.2" y="636.20" width="12.8" height="166.60" fill="#5f2775"/>
<rect x="648.2" y="639.19" width="12.8" height="163.61" fill="#691b85"/>
<rect x="648.2" y="642.19" width="12.8" height="160.61" fill="#6b238a"/>
<rect x="648.2" y="645.18" width="12.8" height="157.62" fill="#692d8f"/>
<rect x="648.2" y="648.18" width="12.8" height="154.62" fill="#613a97"/>
<rect x="648.2" y="651.17" width="12.8" height="151.63" fill="#53419c"/>
<rect x="648.2" y="654.17" width="12.8" height="148.63" fill="#4345a0"/>
<rect x="648.2" y="657.16" width="12.8" height="145.64" fill="#3048a0"/>
<rect x="648.2" y="660.16" width="12.8" height="142.64" fill="#2449a0"/>
<rect x="648.2" y="663.15" width="12.8" height="139.65" fill="#204a9f"/>
<rect x="648.2" y="666.14" width="12.8" height="136.66" fill="#2055a5"/>
<rect x="648.2" y="669.14" width="12.8" height="133.66" fill="#2468b2"/>
<rect x="648.2" y="672.13" width="12.8" height="130.67" fill="#2b87c9"/>
<rect x="648.2" y="675.13" width="12.8" height="127.67" fill="#2eb2e6"/>
<rect x="648.2" y="678.12" width="12.8" height="124.68" fill="#51beda"/>
<rect x="648.2" y="681.12" width="12.8" height="121.68" fill="#60beb1"/>
<rect x="648.2" y="684.11" width="12.8" height="118.69" fill="#65b977"/>
<rect x="648.2" y="687.11" width="12.8" height="115.69" fill="#68b548"/>
<rect x="648.2" y="690.10" width="12.8" height="112.70" fill="#6eb632"/>
<rect x="648.2" y="693.09" width="12.8" height="109.71" fill="#75b82d"/>
<rect x="648.2" y="696.09" width="12.8" height="106.71" fill="#7dba28"/>
<rect x="648.2" y="699.08" width="12.8" height="103.72" fill="#8abe26"/>
<rect x="648.2" y="702.08" width="12.8" height="100.72" fill="#99c324"/>
<rect x="648.2" y="705.07" width="12.8" height="97.73" fill="#a7c822"/>
<rect x="648.2" y="708.07" width="12.8" height="94.73" fill="#bacf24"/>
<rect x="648.2" y="711.06" width="12.8" height="91.74" fill="#ccd726"/>
<rect x="648.2" y="714.06" width="12.8" height="88.74" fill="#dbde28"/>
<rect x="648.2" y="717.05" width="12.8" height="85.75" fill="#e9e62a"/>
<rect x="648.2" y="720.04" width="12.8" height="82.76" fill="#f1e029"/>
<rect x="648.2" y="723.04" width="12.8" height="79.76" fill="#f3d026"/>
<rect x="648.2" y="726.03" width="12.8" height="76.77" fill="#f5be23"/>
<rect x="648.2" y="729.03" width="12.8" height="73.77" fill="#f4a820"/>
<rect x="648.2" y="732.02" width="12.8" height="70.78" fill="#f2911d"/>
<rect x="648.2" y="735.02" width="12.8" height="67.78" fill="#ef771c"/>
<rect x="648.2" y="738.01" width="12.8" height="64.79" fill="#ec5c1b"/>
<rect x="648.2" y="741.01" width="12.8" height="61.79" fill="#e8411a"/>
<rect x="648.2" y="744.00" width="12.8" height="58.80" fill="#e61b1c"/>
<rect x="648.2" y="746.99" width="12.8" height="55.81" fill="#e6141c"/>
<rect x="648.2" y="749.99" width="12.8" height="52.81" fill="#e6141c"/>
<rect x="648.2" y="752.98" width="12.8" height="49.82" fill="#e6141c"/>
<rect x="648.2" y="755.98" width="12.8" height="46.82" fill="#e6141c"/>
<rect x="648.2" y="758.97" width="12.8" height="43.83" fill="#e6141c"/>
<rect x="648.2" y="761.97" width="12.8" height="40.83" fill="#e6141c"/>
<rect x="648.2" y="764.96" width="12.8" height="37.84" fill="#e6141c"/>
<rect x="648.2" y="767.96" width="12.8" height="34.84" fill="#e6141c"/>
<rect x="648.2" y="770.95" width="12.8" height="31.85" fill="#dc151d"/>
<rect x="648.2" y="773.94" width="12.8" height="28.86" fill="#cc171e"/>
<rect x="648.2" y="776.94" width="12.8" height="25.86" fill="#bc191f"/>
<rect x="648.2" y="779.93" width="12.8" height="22.87" fill="#ae1a20"/>
<rect x="648.2" y="782.93" width="12.8" height="19.87" fill="#a2191f"/>
<rect x="648.2" y="785.92" width="12.8" height="16.88" fill="#97171d"/>
<rect x="648.2" y="788.92" width="12.8" height="13.88" fill="#8c161c"/>
<rect x="648.2" y="791.91" width="12.8" height="10.89" fill="#80141a"/>
<rect x="648.2" y="794.91" width="12.8" height="7.89" fill="#751217"/>
<rect x="648.2" y="797.90" width="12.8" height="4.90" fill="#691015"/>
<rect x="648.2" y="800.89" width="12.8" height="1.91" fill="#5e0d12"/>
</g>
<text x="664.3" y="639.6" font-size="6.6" font-family="'Liberation Sans',sans-serif">-2.500</text>
<text x="664.3" y="675.6" font-size="6.6" font-family="'Liberation Sans',sans-serif">0.8755</text>
<text x="664.3" y="711.5" font-size="6.6" font-family="'Liberation Sans',sans-serif">4.251</text>
<text x="664.3" y="747.4" font-size="6.6" font-family="'Liberation Sans',sans-serif">7.626</text>
<text x="664.3" y="783.3" font-size="6.6" font-family="'Liberation Sans',sans-serif">11.00</text>
<text x="664.3" y="806.2" font-size="6.6" font-family="'Liberation Sans',sans-serif">13.15</text>
<text x="349.0" y="602.8" font-size="16" font-family="'Liberation Serif',serif">F</text>
<text transform="translate(501.7,601.7) scale(1.07,1)" font-size="10.6" text-anchor="middle" font-family="'Liberation Serif',serif">z=-47.22x<tspan font-size="6.4" dy="-4.2">2</tspan><tspan dy="4.2">-0.00022y²+90.77x+0.17y-42.31</tspan></text>
<text transform="translate(501.7,613.0) scale(1.07,1)" font-size="10.6" text-anchor="middle" font-family="'Liberation Serif',serif">R²=0.4674</text>
<text transform="translate(365.4,719.6) rotate(-92.85)" font-size="15.65" text-anchor="middle" font-family="'Liberation Serif',serif">Percentage of G waveform</text>
<text transform="translate(384.9,809.5) scale(0.73,1)" font-size="8.9" text-anchor="end" font-family="'Liberation Sans',sans-serif">-2</text>
<text transform="translate(383.6,789.9) scale(0.73,1)" font-size="8.9" text-anchor="end" font-family="'Liberation Sans',sans-serif">0</text>
<text transform="translate(382.2,769.9) scale(0.73,1)" font-size="8.9" text-anchor="end" font-family="'Liberation Sans',sans-serif">2</text>
<text transform="translate(380.9,749.6) scale(0.73,1)" font-size="8.9" text-anchor="end" font-family="'Liberation Sans',sans-serif">4</text>
<text transform="translate(379.5,728.8) scale(0.73,1)" font-size="8.9" text-anchor="end" font-family="'Liberation Sans',sans-serif">6</text>
<text transform="translate(378.1,707.6) scale(0.73,1)" font-size="8.9" text-anchor="end" font-family="'Liberation Sans',sans-serif">8</text>
<text transform="translate(376.7,686) scale(0.73,1)" font-size="8.9" text-anchor="end" font-family="'Liberation Sans',sans-serif">10</text>
<text transform="translate(375.3,664) scale(0.73,1)" font-size="8.9" text-anchor="end" font-family="'Liberation Sans',sans-serif">12</text>
<text transform="translate(373.8,641.5) scale(0.73,1)" font-size="8.9" text-anchor="end" font-family="'Liberation Sans',sans-serif">14</text>
<text transform="matrix(0.7837,-0.3104,0.5962,0.2615,382,818.8)" font-size="10" text-anchor="middle" font-family="'Liberation Sans',sans-serif"><tspan dy="3.3">0.5</tspan></text>
<text transform="matrix(0.7848,-0.3293,0.6321,0.2773,399.5,826.2)" font-size="10" text-anchor="middle" font-family="'Liberation Sans',sans-serif"><tspan dy="3.3">0.6</tspan></text>
<text transform="matrix(0.7847,-0.3500,0.6714,0.2945,418,833.9)" font-size="10" text-anchor="middle" font-family="'Liberation Sans',sans-serif"><tspan dy="3.3">0.7</tspan></text>
<text transform="matrix(0.7829,-0.3727,0.7146,0.3134,437.7,842.2)" font-size="10" text-anchor="middle" font-family="'Liberation Sans',sans-serif"><tspan dy="3.3">0.8</tspan></text>
<text transform="matrix(0.7793,-0.3977,0.7620,0.3342,458.7,851)" font-size="10" text-anchor="middle" font-family="'Liberation Sans',sans-serif"><tspan dy="3.3">0.9</tspan></text>
<text transform="matrix(0.7733,-0.4252,0.8143,0.3571,481,860.3)" font-size="10" text-anchor="middle" font-family="'Liberation Sans',sans-serif"><tspan dy="3.3">1.0</tspan></text>
<text transform="matrix(0.7647,-0.4557,0.8721,0.3825,504.8,870.3)" font-size="10" text-anchor="middle" font-family="'Liberation Sans',sans-serif"><tspan dy="3.3">1.1</tspan></text>
<text transform="matrix(0.8364,0.3947,-1.0125,0.4694,427.3,848.3)" font-size="10" text-anchor="middle" font-family="'Liberation Sans',sans-serif"><tspan dy="3.3">Trehalose content</tspan></text>
<text transform="matrix(0.9374,0.3927,-0.7093,0.4678,540.2,874.5)" font-size="10" text-anchor="middle" font-family="'Liberation Sans',sans-serif"><tspan dy="3.3">40</tspan></text>
<text transform="matrix(0.9231,0.3635,-0.6560,0.4326,558.5,863.2)" font-size="10" text-anchor="middle" font-family="'Liberation Sans',sans-serif"><tspan dy="3.3">60</tspan></text>
<text transform="matrix(0.9083,0.3374,-0.6085,0.4013,575.4,852.6)" font-size="10" text-anchor="middle" font-family="'Liberation Sans',sans-serif"><tspan dy="3.3">80</tspan></text>
<text transform="matrix(0.8932,0.3140,-0.5660,0.3733,591.2,842.8)" font-size="10" text-anchor="middle" font-family="'Liberation Sans',sans-serif"><tspan dy="3.3">100</tspan></text>
<text transform="matrix(0.8780,0.2930,-0.5278,0.3481,606,833.6)" font-size="10" text-anchor="middle" font-family="'Liberation Sans',sans-serif"><tspan dy="3.3">120</tspan></text>
<text transform="matrix(0.8628,0.2741,-0.4933,0.3253,619.7,825.1)" font-size="10" text-anchor="middle" font-family="'Liberation Sans',sans-serif"><tspan dy="3.3">140</tspan></text>
<text transform="matrix(0.8477,0.2569,-0.4621,0.3048,632.6,817)" font-size="10" text-anchor="middle" font-family="'Liberation Sans',sans-serif"><tspan dy="3.3">160</tspan></text>
<text transform="matrix(0.8328,0.2413,-0.4338,0.2861,644.7,809.5)" font-size="10" text-anchor="middle" font-family="'Liberation Sans',sans-serif"><tspan dy="3.3">180</tspan></text>
<text transform="matrix(0.5983,-0.4425,1.1263,0.3721,618.6,841.6)" font-size="10" text-anchor="middle" font-family="'Liberation Sans',sans-serif"><tspan dy="3.3">Glucose content</tspan></text>
</g></svg></body></html>
